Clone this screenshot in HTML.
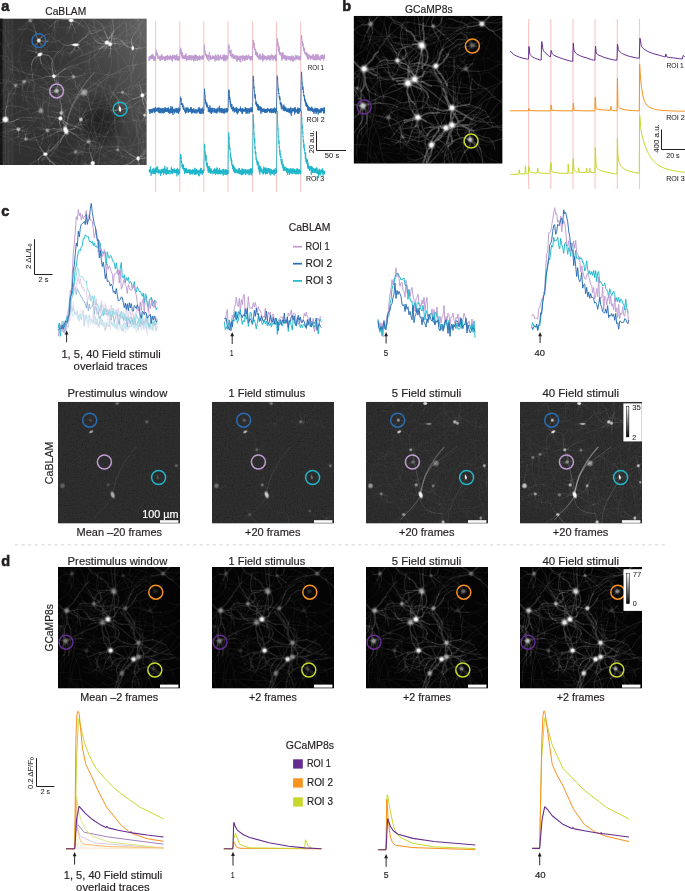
<!DOCTYPE html>
<html><head><meta charset="utf-8"><title>Figure</title>
<style>html,body{margin:0;padding:0;background:#fff;width:685px;height:891px;overflow:hidden}svg{display:block}</style>
</head><body>
<svg color="#231f20" width="685" height="891" viewBox="0 0 685 891" font-family="'Liberation Sans', Arial, sans-serif" fill="#231f20">
<style>text{stroke:currentColor;stroke-width:0.18px} .lbl{stroke-width:0.6px} .sm{stroke-width:0.06px}</style>
<defs><radialGradient id="cg"><stop offset="0" stop-color="#fff"/><stop offset="0.45" stop-color="#fff" stop-opacity="0.95"/><stop offset="0.75" stop-color="#fff" stop-opacity="0.35"/><stop offset="1" stop-color="#fff" stop-opacity="0"/></radialGradient><radialGradient id="cg2"><stop offset="0" stop-color="#fff"/><stop offset="0.3" stop-color="#fff" stop-opacity="0.95"/><stop offset="0.55" stop-color="#fff" stop-opacity="0.45"/><stop offset="0.8" stop-color="#fff" stop-opacity="0.12"/><stop offset="1" stop-color="#fff" stop-opacity="0"/></radialGradient><filter id="fb" x="-5%" y="-5%" width="110%" height="110%"><feGaussianBlur stdDeviation="0.45"/></filter><filter id="nzA" x="0" y="0" width="100%" height="100%"><feTurbulence type="fractalNoise" baseFrequency="0.75" numOctaves="1" seed="4"/><feColorMatrix type="matrix" values="2.6 0 0 0 -0.8  2.6 0 0 0 -0.8  2.6 0 0 0 -0.8  0 0 0 0 1"/><feGaussianBlur stdDeviation="0.3"/></filter><filter id="bgb" x="0" y="0" width="100%" height="100%"><feGaussianBlur stdDeviation="7"/></filter><linearGradient id="gAx" x1="0" y1="0" x2="1" y2="0"><stop offset="0" stop-color="#323232"/><stop offset="0.45" stop-color="#2f2f2f"/><stop offset="0.75" stop-color="#363636"/><stop offset="1" stop-color="#464646"/></linearGradient><radialGradient id="gAb" cx="0.95" cy="0.05" r="0.75"><stop offset="0" stop-color="#fff" stop-opacity="0.16"/><stop offset="1" stop-color="#fff" stop-opacity="0"/></radialGradient><radialGradient id="gAd" cx="0.5" cy="0.5" r="0.5"><stop offset="0" stop-color="#000" stop-opacity="0.38"/><stop offset="0.6" stop-color="#000" stop-opacity="0.22"/><stop offset="1" stop-color="#000" stop-opacity="0"/></radialGradient><radialGradient id="gAl" cx="0.5" cy="0.5" r="0.5"><stop offset="0" stop-color="#fff" stop-opacity="0.07"/><stop offset="1" stop-color="#fff" stop-opacity="0"/></radialGradient><clipPath id="c1"><rect x="0" y="18.4" width="146.8" height="146.6"/></clipPath><clipPath id="c2"><rect x="353.6" y="15.8" width="149" height="147.9"/></clipPath><clipPath id="c3"><rect x="58" y="401.8" width="122" height="121.8"/></clipPath><clipPath id="c4"><rect x="212" y="401.8" width="122" height="121.8"/></clipPath><clipPath id="c5"><rect x="366" y="401.8" width="122" height="121.8"/></clipPath><clipPath id="c6"><rect x="520" y="401.8" width="122" height="121.8"/></clipPath><clipPath id="c7"><rect x="58" y="567" width="122" height="121.6"/></clipPath><clipPath id="c8"><rect x="212" y="567" width="122" height="121.6"/></clipPath><clipPath id="c9"><rect x="366" y="567" width="122" height="121.6"/></clipPath><clipPath id="c10"><rect x="520" y="567" width="122" height="121.6"/></clipPath><linearGradient id="cb403" x1="0" y1="0" x2="0" y2="1"><stop offset="0" stop-color="#fff"/><stop offset="1" stop-color="#000"/></linearGradient><linearGradient id="cb569" x1="0" y1="0" x2="0" y2="1"><stop offset="0" stop-color="#fff"/><stop offset="1" stop-color="#000"/></linearGradient></defs>
<text x="1.2" y="11" font-size="14.5" font-weight="bold" class="lbl">a</text>
<text x="342.2" y="11" font-size="14.5" font-weight="bold" class="lbl">b</text>
<text x="1.2" y="216.3" font-size="14.5" font-weight="bold" class="lbl">c</text>
<text x="1.2" y="566" font-size="14.5" font-weight="bold" class="lbl">d</text>
<text x="45.3" y="15.3" font-size="10.3" textLength="40.9" lengthAdjust="spacingAndGlyphs">CaBLAM</text>
<text x="405.1" y="13.1" font-size="10.3" textLength="47.5" lengthAdjust="spacingAndGlyphs">GCaMP8s</text>
<g clip-path="url(#c1)">
<rect x="0" y="18.4" width="146.8" height="146.6" fill="url(#gAx)"/>
<rect x="0" y="18.4" width="146.8" height="146.6" fill="url(#gAb)"/>
<ellipse cx="100" cy="120" rx="26" ry="28" fill="url(#gAd)"/>
<ellipse cx="60" cy="100" rx="40" ry="40" fill="url(#gAl)"/>
<rect x="0" y="18.4" width="2.5" height="146.6" fill="#141414"/>
<rect x="3.0" y="18.4" width="0.5" height="146.6" fill="#fff" opacity="0.05"/><rect x="4.1" y="18.4" width="0.5" height="146.6" fill="#fff" opacity="0.09"/><rect x="5.2" y="18.4" width="0.5" height="146.6" fill="#fff" opacity="0.13"/><rect x="6.3" y="18.4" width="0.5" height="146.6" fill="#fff" opacity="0.05"/><rect x="7.4" y="18.4" width="0.5" height="146.6" fill="#fff" opacity="0.09"/><rect x="8.5" y="18.4" width="0.5" height="146.6" fill="#fff" opacity="0.13"/><rect x="9.6" y="18.4" width="0.5" height="146.6" fill="#fff" opacity="0.05"/><rect x="10.7" y="18.4" width="0.5" height="146.6" fill="#fff" opacity="0.09"/><rect x="11.8" y="18.4" width="0.5" height="146.6" fill="#fff" opacity="0.13"/><rect x="12.9" y="18.4" width="0.5" height="146.6" fill="#fff" opacity="0.05"/>
<g transform="translate(0 18.4) scale(0.367)" fill="none" stroke="#fff" stroke-linecap="round" stroke-linejoin="round" filter="url(#fb)">
<path stroke-opacity="0.05" stroke-width="1" d="M105 192l-7-10-4-11-5-11-1-12 3-12 3-12 3-11 2-12 3-12 1-11 6-11"/>
<path stroke-opacity="0.05" stroke-width="2" d="M242 108l0-12-2-12-1-12-1-12 4-11-1-12 1-12 0-12 4-12-1-12M227 101l-10-7-10-7-11-5-12 0-11 5-11 3-12 0-12 0-12-1-12-1-12-3-11-3-12-1-12 1-12 4M225 282l-12 3-10 7-7 9-8 9-6 10-8 10-9 8-8 9-9 7-12 3-12 1-11 4-12 3-11 5-12 1-11 2M371 199l-8-9-9-8-10-7-10-6-11-6-11-3-12-3-11-4-9-8-6-11-4-11-5-11M188 121l-8-9-8-9-8-9-4-11-5-11-4-12-1-12 0-12 4-11 4-11 3-12 4-11 1-12-2-12 1-12-4-12 0-11 0-12 3-12 6-11 7-9 10-7 11-6 10-6 11-3 11-5M329 92l0-12 1-12-1-12-2-12-1-12-1-12 1-12 0-12-1-12 2-11 6-11 6-10 7-10 4-12 1-11 1-12 1-12 1-12-2-12-2-12-6-10-9-8-10-7-9-7-10-7-11-5-11-5-11-5-10-7M158 357l-7 10-9 8-10 6-10 7-7 10-7 9-6 11-3 12-5 11-4 11-8 9-8 9-7 10-4 11-3 12-6 10M133 233l-2 12 1 12 1 12 4 11 3 12 6 10 3 12-3 11 0 12 0 12-5 11-3 12-2 12-2 12M105 286l-9-8-11-4-11-4-9-8-10-7-9-8-8-9-7-10-7-10M64 185l9-8 10-6 11-5 12-3 11 5 11 5 11 5 9 8 7 9 10 8 8 8 9 9 9 6 12 5 11 3 12 1 12 2 12 3 11-3 12-4 11-2 11-7 10-6 10-6M222 118l11-2 12-3 11-5 11-4 12 0 12-3 11-4 11-5 7-10 6-11 5-10 8-9 10-7 10-6 8-9 8-9 9-8 8-9 6-10 6-11 10-7 11-3 12-1 12 2 12 1 12 0 12 1 12 2 12 1M294 -3l12 4 11 3 12 2 10 6 10 7 11 6 7 9 8 10 7 9 11 5 11 6 8 8 4 12 7 10 4 11 1 12-1 12-2 12 3 11M369 356l-12 1-12 4-12 1-12 0-11 3-12 4-10 6-11 6-11 3-11 4M182 302l6 10 6 10 6 10 5 11 5 11 2 12 1 12-3 12-3 11-6 11-6 10-2 12-1 12-1 12 3 12 5 10 7 10 1 12M332 70l-12 1-11 4-12 3-11 3-12-1-12-4-8-8-8-9-8-9-6-10-1-12 2-12 1-12-2-12-4-12-4-11-3-11-1-12-1-12-1-12 4-12M22 403l2 11 2 12 1 12-3 12 2 12 2 12 1 12 3 11 3 12 0 12 0 12-1 12-1 12-1 12-3 11-3 12-5 11-4 11-4 11-1 12-1 12M193 71l11-2 12-1 12-2 11-5 11-5 11-5 12 0 12-3 12-1 12 1 12 0 12-1 12-1 11-3 10-6M122 126l-7-10-9-7-12-4-12-1-11-4-12-2-11 5-10 7-10 6-9 8-9 8-6 10-3 12-1 12 2 11 2 12 0 12 0 12-6 10-4 12-7 10-8 9-10 7-10 5-7 10M167 218l10 6 11 6 8 9 9 7 8 9 5 11 5 11 5 11 10 7 6 10 6 10 5 11 6 11 4 11 7 10 6 10 5 11 5 11 5 11 8 9 8 9 9 8 6 10 3 12 4 11 5 11-3 12-1 12-6 10M168 157l-11 3-12 2-12 3-12 2-11 3-10 7-6 10-7 10-7 10-7 9-9 9M321 395l-11-4-12-2-12 3-11 3-11 5-12 1-12 1-12-4-12 0-11 3-12 2-11 5-10 7-6 10-7 10-3 12-4 11 2 12 0 12M64 74l-8-8-11-6-8-9-9-8-8-9-7-9-6-11-7-10-7-10-6-10-3-11-6-11-3-12-1-11-2-12 4-12 5-11 4-11 5-11M161 113l-3-11-2-12-1-12-4-11-6-11-9-8-7-10-6-10-8-10-9-8-9-7-11-3-12-2-11-6-11-2-12 1-12 3-12 3-11 4M218 223l-7 10-7 10-7 9-8 9-9 8-10 7-11 5-11 4-12 2-11 4-12 2-12 3-11 3-12 2-12-1-12-2-12-1-11-6-11-3-11-6-11-3-12 1-12 1-12 0-12 2M361 45l-1-12-2-12-4-12-1-11-1-12-5-12-4-11-5-11M253 171l9 7 10 7 11 6 9 7 10 8 11 4 8 9 7 10 5 11 4 11 1 12 1 12-1 12-3 12-1 11-4 12-5 11-3 11-2 12M-18 184l-12-2-12-4-12 0-9 8-10 6-11 6-9 7-9 8-11 5-12 1-12 1-12-2-11-2-12-3-12-2-12-2-12-1-12 0M7 111l2-11 5-11 5-11 6-10 5-11 9-9 8-8 10-7 10-6 8-9 10-8 6-10 7-9 9-9 8-8 7-10 10-7 12-3 11-5 10-6 12-2 12-3 12 0 11-3 11-5M274 105l-7 10-6 10-4 12 0 12 5 11 6 10 11 6 11 5 11 4 9 7 11 5 10 8 8 8 9 9 9 7 11 6 11 5 11 4 10 6 11 5 9 8 5 11 10 6 10 7 10 7 12 4M317 109l5 11 4 12 2 11-1 12-1 12 1 12 5 11 1 12 3 12 5 11 10 7 8 8 11 6 11 5 10 6 8 9 9 8 12 3 10 6 11 5 11 5 11 4 9 8 8 9 10 7M60 289l-4-11-6-10-5-11-2-12 0-12-1-12-1-12 0-12 0-12-5-11-4-11M18 251l-5 11-6 10-8 9-7 10 0 12-2 11-3 12-8 9-8 9-9 8-7 10-6 10-7 10-3 12 1 12-2 11 3 12 7 10 8 9 9 8 9 8 6 10 7 10 4 11 6 11 6 10 8 10M291 356l2-12 3-12-1-12-1-11-3-12-2-12-6-11-2-11 3-12-3-12-5-10-8-9-8-9-5-11-2-12 2-12 3-11 2-12 4-11 3-12M45 225l-9-9-6-10-8-9-8-9-11-5-6-10-10-7-10-6-11-6-9-8-10-7-6-10-4-11-2-12-1-12 3-12 3-11 7-10M30 148l10 7 9 7 9 8 4 12-1 11 1 12-1 12 0 12-4 12-2 11-3 12-6 10-8 9-10 7-9 8-6 10-4 12-6 10-4 12-7 9M57 293l10-7 9-7 12-4 12-2 11 2 12-1 11-6 11-4 11-6 9-7 10-7 10-7M70 131l6 11 4 11 3 11 7 10 6 11 8 8 8 10 9 8 10 5 11 6 8 9 10 7 9 8 7 10 6 10 8 9 10 7 8 9 9 8 4 12 2 11 5 12 2 11 0 12-3 12-4 11-1 12M213 -14l-11 3-12 4-11 3-12 1-12 2-11 4-12 3-11 5-12 2-11 4-12 3-12 1-12 1-11 5-10 5-12 2-12 1-12-2-12-3-11-2-12-1-12-1-12 0-12 3-12-1-12 2-11-4-11-5M216 348l11-4 11-6 11-4 10-7 9-7 10-7 8-9 3-12 6-10 6-11 4-11 8-9 11-4 11-5 12-3 11 4 12 2M392 371l2-12 2-12 1-12 0-12 2-12 2-12 2-11 1-12 5-11M347 35l-9-8-9-8-11-5-10-6-8-9-8-9-9-8-5-11-5-11-1-12M380 395l-4-11-9-8-9-8-4-11-2-12 2-12 4-11-1-12 1-12 4-11 6-11 5-11 4-11 2-12M357 339l-3-11-5-11-3-12-6-10-4-12-5-11-2-11-1-12-7-10-10-6-10-7-11-4-11-6-10-7-7-10-6-9-9-9-11-4-11-6-11-4-11-5M187 342l12 1 12-1 12-2 12-2 12-1 11-4 10-7 9-7 11-5 9-8M123 129l1-12 2-12 3-12 1-12-1-12-5-10-10-8-10-7-7-9-7-10-5-10-6-11-5-11-5-11-1-12M161 44l-8-9-6-10-6-11-5-11-4-11-7-10-7-9-10-8-9-7-9-8-9-8-10-7-11-5-11-5-9-7M256 102l11-5 10-7 8-8 11-6 8-9 9-8 9-8 9-7 6-11 7-10 1-12-1-12-3-11-8-9-5-12-5-10-9-8-11-5-12-4-10-6-11-5-12-1-11-6-10-5M157 314l11 4 11 5 11 5 11 4 11 4 12-2 12-3 11-5 11-3 11-6 12-3 11-3M-15 174l8-9 8-9 9-8 12-4 11-2 12-2 11-5 12-3 12 2 11 4 10 7M-20 57l-12-2-10-6-12-3-11-5-10-5-12-2-11-4-12-2-12-2-12-3-12-2-12-1-11-3-12 0-12 3-12 0-11-3-12 1-12 3-12 2-8 8-7 10-9 8M401 26l2 12 5 11 3 11 6 11 4 11 3 12 3 11 3 12 4 11 5 11 9 8 8 9 10 6 10 8 10 6 8 9 9 8 8 9 8 9 5 11 7 10 8 9 8 8 8 9 7 10M100 139l-12 1-12 1-12 2-12 0-12-2-11-3-11-6-10-6-12-4-11-4-11-4-9-8-12-3-12-1-11-4M172 92l-1-12 4-12 2-11 2-12 6-10 4-12 1-12-1-12-2-11 0-12 4-12 6-10 9-8 10-7 9-8 7-10 7-9 5-11 1-12 4-12M278 393l2 12 4 11 6 11 6 10 10 7 9 7 8 10 4 11 3 11M256 228l-8 9-10 7-8 9-5 11-1 12-2 11-1 12-1 12 2 12 4 11 0 12 5 12 3 11 0 12M380 339l-10 7-9 7-7 10-7 10-7 9-9 8-11 5-12 2-12-1-12 0-12-4-10-6M133 128l-10 6-11 6-10 5-10 7-10 7-8 9-10 6-12 4-10 5-11 7-11 4-11 3-12 1-12 0-12 2-12 2-10 7-4 11-4 11M367 330l-5 11-2 12-3 11-2 12-6 10-6 11-3 12-5 11-11 5-12 2-12 0-11-4-11-6-10-5-8-9-7-10-9-8-9-7-10-8-10-6-11-5-11-5-11-4-12-1-11-4-12-2-12 2M-17 140l1 12 3 12 5 10 7 10 7 10 5 11 1 12 3 12 2 12 4 11 5 11 5 11 8 9 3 12 4 11 7 10 8 9 8 9 4 11 7 10 7 10M209 246l-4 12-8 9-8 9-7 10-7 9-8 9-11 5-11 6-9 7-10 6-12 2-12 3-12-1-12-1-12-1-10-6-10-7-8-9-4-11-5-11-10-7-8-8M197 265l7 9 4 12 1 12-1 12 0 12-1 12 4 11 6 10 6 11 10 6 10 7 11 5 10 6 11 5 9 8 10 7 7 10 5 11 8 8 12 5 11 3 11 4 12 4 11 4 9 8M351 12l11-6 12-1 12 2 11 4 10 7 9 7 9 8 8 9 6 11 1 12 3 11-2 12-3 12-5 11M190 -13l7 10 8 9 11 6 10 6 10 7 12 2 10 6 9 9 9 7 10 6 10 8 9 7 8 9 6 10 2 12-1 12 0 12 0 12 4 11M298 56l2-12 1-12 4-11-1-12-3-11-2-12-8-9-8-9-10-6-10-7-10-7M366 161l-12 4-12 3-9 7-8 9-9 8-10 6-10 8-11 4-10 7-6 10-9 9-8 9-11 3-10 7-9 8-9 8-9 8-9 8-8 8-11 6-12 2-12 2-12-1-11-1-12 3M235 336l-12-3-12-2-11-5-11-3-11-4-12 0-12 1-12-1-12-1-12-1-12-2-12 0-12-1-12 0-12 2-11-3-10-7-7-9-8-10-10-6-8-9-10-6-9-9-9-8M382 240l-2-11 0-12 1-12 5-11 0-12 2-12 4-12 6-10 3-11 7-11 6-10 10-7 9-8 9-8 9-8 10-6 8-9 8-9 5-11 4-11 3-12M138 271l11-5 11-5 9-8 9-8 8-9 6-10 7-9 7-10 5-11 4-11 6-11 4-11 6-11 2-11 0-12 2-12 1-12 0-12 0-12M95 257l12-2 10-7 9-8 9-7 10-7 10-7 8-9 5-11 3-11M44 122l8-9 9-8 8-9 6-10 8-9 8-9 7-9 8-9 8-10 8-9 9-7 10-7 8-9 10-6 12-4 11-4M328 253l10-7 12-2 12 0 12-2 12 1 11 4 12 4 10 6 10 7 6 11 7 9 5 11 5 11 6 10 3 12 9 9 6 10 3 11 7 10M238 414l-6-10-4-12-3-11-5-11-2-12-1-12-3-12-4-11-5-11-7-9-9-9-7-9-10-8-9-6-11-7-10-6-11-4-11-5-9-8-11-5-11-4-12-4-10-6-10-6-11-5-10-6-11-7M-12 400l6 10 4 11 5 11 3 12 4 11 3 12 5 11 2 12 3 11-1 12-3 12-4 11-6 11-6 10M271 235l12 1 12-3 11-3 11-5 10-7 9-8 8-9 7-10 7-9 9-8 8-9 6-11 5-11 8-9 9-8 7-9 7-10 4-11 2-12-1-12 0-12 0-12-1-12-6-11-7-10M335 377l11-5 12-4 10-5 12-3 11-4 12 0 11 4 12 3 11 4 11 5M21 135l-1 12-2 11-1 12 1 12 3 12 4 11 2 12 4 12 1 11-1 12 0 12M45 356l-11 4-12 3-12 3-11 4-11 5-9 7-10 8-12 0-12 2-12-1-11-4-9-7-8-9-8-10-5-11-2-11-6-11-3-11-2-12 1-12 4-12 4-11 2-12-2-11-1-12-1-12-6-11M404 242l-7-10-8-9-5-11-6-10-5-11-6-10-1-12 0-12-2-12 1-12 2-12-1-12-5-11-7-10-7-10-11-6-12-1-12-1-11-1-12-2-12 0-12 1M412 368l11 6 11 3 12 1 12 0 12 0 12 1 12 0 12-2 10-5 12-3 11-5 9-8 11-4 12-2 11-4 12-5 10-6 9-8 12-4 11-4 11-2M404 272l-1 12-3 12-1 12-2 12-4 11-3 12-1 11 3 12 2 12 3 12 1 11 2 12 3 12 6 10M118 94l-8 9-9 8-11 5-11 4-12 1-12-4-12 2-12-1-12-2-11-4-11-4-12-3-11-3-11-5-11-5-9-8-7-10-11-5-7-10-9-8-3-11-2-12M203 213l-12-1-12-1-12 0-11 4-11 5-10 7-9 7-9 8-9 9-7 9-5 11-8 9-7 10-7 10-8 9-10 5-9 9-7 10-5 10-6 11-6 10-2 12 1 12 2 12M329 23l-12 0-12-3-12-1-12 1-11 4-12 2-11 6-8 9-4 11-6 11-4 11-7 9-8 10-4 11-3 12-1 12M290 297l-12-2-12-1-12 0-10-7-11-3-12-4-10-6-10-7M264 239l12-5 11-2 12-2 12-4 12 1 11 3 12 3 11 5 11 4 11 4 12 1 12 0 12 1 12 1 12 2 11 5 9 8 9 8 8 9 5 11 5 10 7 10 11 6 11 5 12-1M366 168l11-6 8-8 10-7 7-10 7-10 6-10 7-9 8-10 6-10 5-11 4-11 4-12 1-12-1-12-1-12-7-9-6-11-4-11-5-11-6-10-6-11-7-10M-1 179l12-2 12-1 12 0 12 0 12 1 11 4 12 3 10 6 11 5 8 9 9 8 12 3 11 2 12 0 12 0 12 1 12 0 12-2 12-2 11-5 10-7 12-3 12 1 12-1M-1 233l-10-7-10-6-11-6-9-8-6-10-8-9-11-5-10-6-11-6M230 138l8-9 8-9 11-5 11-6 10-6 8-8 9-8 7-10 6-10 1-12 1-12 1-12"/>
<path stroke-opacity="0.10" stroke-width="1" d="M143 202l-12 0-11-4M131 204l-12 0M130 195l-11 3-10 8-9 7M108 188l-12-2-11-5M159 175l3-12 6-10 10-8M158 151l2-12 4-11M175 188l11-6M159 209l-10 7-8 9M157 221l-2 12M269 178l11-5 11-3M237 211l4 12 4 11M243 222l7 10M218 206l-12 2-12 0M206 207l-10-7M198 167l-10-6-10-7M189 165l-11-5M179 171l-8 9M188 158l-10 7M176 158l-12 3M195 148l-12-2-11 2M191 137l-4-11M212 160l4 11 2 12M224 161l10-6M242 139l11-3 12 2M206 182l5 10 6 11 7 10M224 197l8 9 11 5M59 195l-2 12M57 180l4 11M47 188l-8 8M54 170l-8 8-8 9M42 167l-10-5M79 152l5-10M109 184l11 6 11 4M78 173l3 12M88 179l12 1M0 165l-12-1-12-1M54 179l12 4 11 5M66 179l11-5M38 205l-8 10-7 9-2 12M26 225l-11 6-11 3M322 202l-2-12 0-12M310 202l-12-1M352 187l12-2M345 207l3 11M357 208l12 0M242 315l-2 12-3 12M213 267l6-11 5-11M202 261l-12 0M244 234l8-9 9-7M229 268l6-10M238 260l6-10M214 286l5 11 5 11M204 293l-7 10M129 268l12 3M120 275l-4 11-3 12-2 11M142 284l11 4 12 3M100 254l-12 4M89 259l-12 4M103 230l-8-9-5-10-1-12M98 207l-5-11-2-12M110 240l9-9 10-5M109 228l-3-11M117 229l11-3 9-9 10-6M118 205l-7-9-8-9M51 314l11 5M49 326l-1 12M26 301l-12-1M3 312l-12 1-11-2M32 287l-7-9M71 290l10-5M61 307l1 12 7 10M73 308l12-2M134 294l-6-10-9-9M134 282l0-12M138 314l11 2 11 5M139 326l0 12M129 317l9 9 5 11M132 329l1 12M118 301l-4-12-5-10M106 299l-10-6M124 295l0-12M114 287l-9-7M69 317l12-3M65 306l-3-12M70 317l12-4M74 305l4-11M94 326l12-3M82 331l2 12M94 332l12 0M61 336l-12-3M50 342l-11 3M48 321l-10 8-10 6-11 3M26 331l-12 2-12-2M211 354l-10-8M216 343l6-11M218 366l11-3 11 5M229 362l12-3M194 365l-8-9M184 372l-7 10M233 328l1-12 5-11M222 322l-10-7M244 313l6-11M253 335l6 11 6 10M265 338l11 3M248 346l-3 12M259 350l10 7M227 355l-5 11M322 347l-11-5M321 335l-4-12M344 361l12 3M330 366l-1 12M333 378l2 12M297 361l-7 10-7 9-10 8M278 376l-6 10-6 10M384 258l-4-12 2-12M372 254l-11-3M400 241l-6-10-4-11-3-12M410 219l9-8 8-9M417 272l11 5M407 282l6 11M396 276l-3 11-3 12M398 288l5 11M93 27l5 11M63 19l-11 5M89 -5l11-5M97 -13l11-6M177 251l10 6M187 244l10-7M187 272l10 6M144 254l-12-2M184 215l-11-5-8-9-9-9-9-7-11-5-11-5-11-5-12-2-12 0-12-2M84 141l-3 12-7 10-6 10-4 11-1 12-1 12 2 12-2 12 1 12 5 11 6 10 4 11 5 11 6 11 6 10 10 7 10 7 8 8 11 6 9 8 12 3 11 4 12 1 12 3 11-1 12-5"/>
<path stroke-opacity="0.10" stroke-width="2" d="M189 165l-10 6M188 158l-12 0M195 148l-4-11M212 160l12 1M224 155l8-9 10-7M206 182l8 8 10 7M61 184l-2 11M57 180l-10 8M54 170l-12-3M72 162l7-10M89 170l10 8 10 6M78 173l10 6M23 168l-12 0-11-3M54 179l12 0M38 205l-3 12-9 8M322 202l-12 0M341 192l11-5M345 207l12 1M121 260l8 8M120 275l10 7 12 2M100 254l-11 5M103 230l-1-12-4-11M110 240l-1-12M117 229l3-12-2-12M134 294l0-12M138 314l1 12M129 317l3 12M118 301l-12-2M124 295l-10-8M69 317l-4-11M70 317l4-12M82 328l12-2M82 331l12 1M61 336l-11 6M48 321l-11 5-11 5M211 354l5-11M218 366l11-4M194 365l-10 7M233 328l-11-6M240 324l4-11M253 335l12 3M248 346l11 4M232 344l-5 11M322 347l-1-12M333 359l11 2M330 366l3 12M297 361l-11 6-8 9M89 15l4 12M72 12l-9 7M89 -5l8-8M217 105l10-7 12-4 11-4 11-4 11-4 11-6 11-3 12-3 12-1 10-7 11-2 12 2 11 5 11 6 9 7 3 12M0 317l11 5 11 2 10 6 9 9 10 7 12 1 12 3 11 3 12 2 11 5 10 7 10 5 12 2 12 2 12 2 11 4 11 6 10 7 9 7 6 11 5 11M212 335l5 11 5 11 3 12 6 10 3 12 0 12 0 12 1 12 0 12 0 12-2 12-1 12 3 11 2 12-2 12-2 12M98 248l-9-8-8-9-8-10-5-11-3-11-5-11 2-12-2-12M166 98l12 0 12-2 11-4 11-6 9-7 11-6 11-4 12-3 11-4 12-2 10-5 12-4 12-2 11-4 10-6 11-5 10-6 9-9 9-8 6-10 7-10 10-7 9-7 11-5 9-8 10-7 9-8 9-8M-16 251l-10 7-10 7-10 7-11 5-11 4-12 3-9 7-10 7-10 6-10 7-11 3M418 272l10-6 6-11 2-12 2-11 4-12 6-10 4-12 7-9 8-9 7-10 8-9 10-6 10-7 8-9 6-10 7-10 8-9 7-9 8-10 5-11 5-11 2-11M1 71l-4-11-6-10-5-12-3-11-2-12-2-12-2-12-5-11-7-10-5-10-2-12 1-12 1-12-4-11-4-12-3-11-9-8-7-10-5-11-6-10-5-11M216 231l0 12 1 11 1 12-1 12-3 12 4 11 7 10 3 12 8 9 6 10 8 9 9 8 9 8 12 4 11 4 9 8 11 4 12 2 11 5 10 6 11 6 8 8 11 5M56 163l-4-12-3-11-10-8-8-8-6-11-5-11-6-10-6-11-5-10-9-9-5-11-6-10-7-10M221 350l11 5 12-1 12 0 12 0 11-6 12 1 12 1 12 0 12 0 12 0 12 0 11-4 11-5 11-3 12-2 12 0 12-2 12-3 11-3 12-4M391 367l10-7 7-10 7-10 6-10 3-12 1-12 4-11 7-10 8-8 11-6 10-6 10-6 9-8 8-10 10-6 11-5 12-3 11 4 8 9 10 7 8 9 9 8M364 184l12 0 12-4 12-1 11-3 12-4 10-5 9-8 10-7 5-11 7-10 6-10 5-11 7-10 8-9 5-11 7-9 7-10 6-10 6-11 8-9 10-7 11-5 11-3 10-7M376 74l-2 12-4 11-6 11-3 11 0 12 1 12-4 11-2 12 1 12-5 11-2 12 1 12 1 12 3 11 5 11 2 12 1 12 1 12 6 11 3 12 3 11 2 12 0 12 0 12-1 12-2 12 0 12 3 11 6 11M47 171l-12 1-12 1-12 0-12 4-11 5-11-3-12-2-10-7-9-8-4-11M286 408l9-8 8-9 8-9 7-10 5-11 1-12 1-12-5-11-3-11-1-12-1-12 0-12-5-11-5-11-3-12-1-12 1-12 1-12 6-10 7-10 8-8 10-6 10-8 6-10 9-9 6-10 4-11 6-10M118 394l8 9 6 10 10 7 12 1 12-2 12 0 11 4 12-2 11-6 11-4 11-4 12-3 12-1M14 213l11-6 12-3 11 2 12 4 11 4 12 1 12 3 11 2 12 3 11 6 11 4 12 0 12 1 12-2 10-6 10-7 11-6 10-6 11-5 8-9 9-8 11-4 11-4 11-6 10-7 11-3 12-4M302 81l-12 1-12-1-12 3-10 5-11 5-11 5-12 2-11 5-10 7-10 6-10 8-9 8-10 6-11 3-10 8-11 5-11 4-11 3-12 3-12 0-12-1M135 308l-11-6-11-5-12 1-10 7-11 5-10 6-10 7-5 11-2 12 0 12 1 12M154 -16l12 0 12 2 10 6 8 9 8 9 9 8 11 4 11 6 9 7 9 9 8 9 7 10 7 9 10 7 11 3 12 2 12-1 11-6 11-6 8-8M27 134l3 12-4 11-5 11-5 11-4 11-5 11-7 10-7 10-5 10 0 12-1 12-4 12-5 11-2 12-1 12 0 12-2 11-2 12-4 11-5 12-3 11M326 250l-12 1-12-2-12-2-11-2-12-4-11 4-11 6-11 4-11-4-12-2-9-8-8-9-6-10M376 242l1 12 0 12-3 12-2 11-1 12 1 12 4 12 6 10 3 12 1 12 1 12 2 11 1 12 1 12 3 12 4 11 2 12 3 12 2 12 6 10 8 9 10 7 8 9 10 7 10 5 11 6 11 5M337 340l-9-9-6-10-5-11-5-10 0-12 0-12 0-12 3-12 5-11 3-12 5-11 9-8 9-7 10-7 9-8 7-10 10-7 9-8 10-7 11-4M85 244l-12 2-11 5-11 4-11 5-11 4-11 6-11 5-11 3-11 6-9 7-8 9-7 10-6 10-9 8-10 7-10 7-9 8-7 9-8 10M380 331l7-9 9-9 11-3 10-8 8-8 9-8 9-8 9-8M419 417l5-11 5-11 5-10 7-11 8-8 9-8 7-10 5-11 8-9 11-5 12-2 12 1 12 1 10 7 10 6 11 4 12 3 10 7 11 5 9 7 12 4 12 0 12 2 11 4 10 7 10 7 10 6 11 6 11 2M-6 238l-8-8-9-8-11-7-11-3-10-7-6-11-6-10-2-12-4-11-3-12 0-12 1-12 3-11-4-12-3-11M136 279l-4-12-2-12 1-12 2-11 2-12 0-12-1-12-4-12-5-10-7-10-10-7-11-3-12-1-12-2-11-6-10-6-11-5-11-5-9-8-9-8-9-8-10-7-8-8-7-10-8-9M286 209l4 11 1 12-3 11-4 12-3 11-1 12-3 12-1 12-4 11-3 12M12 167l-8 9-11 6-11 4-11 5-10 7-10 6-10 7-9 8-10 7-12 2-11 4-11 6-10 6-9 8-10 6-10 6-11 5-9 9M10 393l-2 12-2 12-1 12 1 12-1 12 0 12-2 12 1 12-3 11-3 12M215 87l-12 1-12 4-12 1-12 1-11-3-12-1-12 3-12-3-12 1-11-2-12 1-12-2M70 72l11 3 11 5 8 9 8 9 10 6 6 10 7 10 5 11 5 11 4 12 4 11 4 11 8 9 8 8 10 7 8 9M362 344l4-11 5-12 5-10 3-12 3-11 6-11 7-10 4-11 2-12 5-11 1-12-1-11 2-12 1-12-2-12M318 349l-12 1-11 3-12 0-12-2-12-4-10-6-12-3-11-5-9-7-8-9-11-6-11-2-12-1-12-2-12-1-12-2-12 1-12-1-12 1M364 141l-1-12-1-12 1-12 4-12 7-10 7-9 2-12 1-12-1-12-3-12 3-11 6-11 3-11 6-10 6-11 2-12 5-11 3-11 4-12 10-7 7-10 9-8 8-8 6-11 6-10 6-11 7-10M267 167l8 9 4 11-1 12-1 12-1 12-5 11-5 11-7 10-6 10-4 11 0 12 0 12M84 322l10 6 10 6 10 7 9 8 9 7 10 7 10 7 7 10 8 9 8 9 10 6M19 104l-12-2-12-3-12 1-11-2-12-2-12-1-11-6-10-6-12-3-10-6-10-6-12 1-12 0-12 0M328 -11l7 10 5 11 5 10 1 12-1 12 1 12-1 12 2 12M379 183l8 9 7 9 5 11 4 12 2 12 4 11 6 10 2 12 0 12 4 11 3 12 2 12 3 11 1 12 4 12 0 12 0 12 0 12 4 11M353 316l-4-11-3-12-6-10-8-9-9-7-8-10-7-9-7-10-7-10-3-12-6-10-2-12 2-12 4-11 5-11 3-12 4-11 2-12 2-12-1-12M272 351l-5 11-11 6-8 9-9 8-8 9-9 8-10 6-8 10-6 9-8 10-8 8-10 7M157 20l-1-11 1-12-3-12-1-12-1-12-1-12-3-11-2-12-5-11-9-9-5-10-8-10-5-10-7-10-7-10-6-10-4-11-3-12-4-11-6-11M213 19l6-10 9-9 7-9 5-11 6-11 8-9 4-11-2-12-1-12-1-12-2-12-1-12-2-11-4-12-3-12 1-12M281 374l10 7 10 7 10 6 10 5 12 3 11 4 12 3 12 3 11 2 12-1 12 0 12-1 12-1 12 0 11 4 12 4 10 6 8 10 8 9M224 371l-12-1-12-1-12 1-11-3-12-4-10-6-11-5-11-5-10-7M376 20l1-12-7-10-4-11-3-12 4-11 3-12 1-12 2-12-2-12-5-10-4-12-7-9-10-8-7-9-6-11-9-8-5-11-5-10-7-11-5-10-6-11-3-11-1-12-4-12-5-11-3-11-5-11M344 11l10 6 10 6 10 7 7 10 8 9 5 11 7 9 3 12 0 12M381 402l-9-7-9-9-7-9-7-10-7-10-4-11-8-9-9-9-7-9-7-10-5-11M361 354l-10 7-8 9-9 8-10 7-10 6-10 6-12 5-11 3-12 2-12 2-12-2-12 2-11 3-12 2-11-6-12-3-11-5-11-3-12-3-12-2-10-6M349 136l11-5 11-4 12-3 11-4 12-3 11-4 12 0 12 3 12 1 12 0 11-5 9-7 12-4 11-2 12 2 11 4 11 7 8 8 10 8 9 8 6 10 6 10 8 9 9 8M298 413l1 12-2 11-4 12-6 10-9 9-8 8-6 11-6 10-7 10-6 10-7 10-3 12-4 11M326 80l-2-12-7-10-8-8-8-9-8-9-9-8-11-6-11-5-11-5-9-7-8-9-9-9-8-8-8-10-9-7-10-7-9-8-7-9-9-8-10-7-12-4-9-7-10-8-11-4-12 1-12 0-11-3-12-2M286 369l-7-10-5-11-6-11-4-11-3-12-3-11-1-12-3-12 0-12-2-12-6-10-3-12-7-10-8-9-8-9-6-10-6-10-7-10-10-7M254 317l7-10 7-9 4-12 6-10 8-9 5-11 2-12 2-12 4-11 7-10 5-11 5-11 4-11 6-11 4-11 9-7M414 0l8-9 9-8 8-9 6-10 9-8 10-7 12-2 11 4 11 4 11 6 9 7 11 6 12 1 10 6 11 5 12 4 9 8 8 8 7 10 6 11 8 8 9 8 9 8 11 6 8 8M41 166l-4-11-4-11 2-12 0-12-2-12-2-12-4-11-5-11-3-11-3-12-6-10-8-10-8-8-11-4-11-6M150 276l11 4 11 5 12 3 11 4 12 3 11 5 10 6 11 4 12 1 12 2 11 4 11 5 9 8 8 9 5 11 8 8 10 8 9 7 9 9 9 7 10 7 12 2 11 4 11 6 10 5 11 5M310 -3l0 12-1 12 0 12 0 12 3 11 1 12 0 12 6 11 9 8 8 9 5 11 7 10 6 10 3 11 1 12 2 12 0 12-1 12 0 12M382 405l7-10 4-11-1-12-1-12-1-12 1-12-2-12-6-10-9-8-1-12-4-11-6-11-4-11-3-12-4-11-10-6-10-7-10-6-9-8-9-8-8-9-11-5-10-5-12-5-11-3-11-4-11-5M353 122l1-12 2-12 3-11 3-12 4-11 8-9 7-10 6-10 5-11M414 309l-6-10-7-10-11-5-12-4-11-2-12-3-10-8-8-8-8-9-7-9-8-9-7-10-6-11-7-9M177 202l7 9 7 10 2 12 7 9 10 7 10 6 8 9 5 11 3 12 4 11 7 10 5 11 3 11 5 11 1 12-4 12-2 12-4 11-2 12-2 12 0 12-1 11-6 11-6 10-9 8-11 4-12 1-12 0-12 4M194 26l-12-3-12 2-12-1-12 0-11-4-10-7-11-5-10-6-11-5-10-7-10-6-8-9-7-10-8-9-5-11-3-12-1-12-3-11 1-12-1-12 3-12 5-11 0-12 1-12M112 160l-12-3-11-4-12-1-11-5-12-1-11-4-12-4-10-5M186 395l-5 11-3 12-2 12-5 11-7 9-6 11-9 8-9 7-9 8-11 5-11 6-9 8-6 10-5 11M230 353l-9 8-8 8-8 9-7 10-4 11-2 12-7 10-5 11-8 9-8 8-10 7-11 4-11 6-11 4-11 4-12-4M-14 277l-12-3-10-5-10-6-10-8-8-9-8-8-10-8-8-8-8-10-3-11-8-9-10-7-11-6-10-5-11-5-12 0-12 2-11 4-9 8-7 10-5 11M110 185l11-5 10-6 10-8 9-7 10-7 8-9 9-7 11-6 11-4M46 33l11-6 10-6 9-8 7-10 10-6 9-8 9-8 11-5 11-5 10-7 6-10 5-11 5-11 7-10 4-11 5-11 5-11M99 236l-4-11-2-12-2-12-1-12-6-11-8-8-4-12-7-9-5-11-4-11-6-11 2-12 0-12 4-11 3-12 3-12M400 20l-10-7-10-7-11-4-11-5-11-4-12-3-11-4-12-2-12-3-12-1-11-5-11-4-11-5-10-7-9-8-8-9-10-6-10-6-11-5-12 2-12 2-12 2-10 7-10 6-9 8-7 10M370 258l5 11 4 11 2 12 3 12 6 10 9 8 5 11 6 10 6 11 5 11 8 9 6 10 4 12 8 9 9 7 10 7 8 9 10 7M231 162l-6 11-8 8-10 7-11 6-12-2-11 2-12 1-12 3-9 7-7 10-7 10-7 10-5 11-6 10-5 11-6 11-7 9-8 9-10 6-12 3-12 2-11 5-11 3-12 0M10 245l-12 4-12 2-12-1-12 1-12-2-11-2-12 1-11 4-11 5-12 0-12-1-12-3-11-4-12 0M262 333l0-12-5-11-2-12-6-10 1-12 1-12-4-12-1-12-3-11-3-12 2-12 5-11 0-12 0-12-1-12 0-12-2-12-2-11 2-12 1-12 4-12M66 199l12 1 12-1 12-2 12-3 12-2 11-3 12-1 12 1 12 4 10 6 10 7 10 5 10 7 11 4 12 3 11 5 12 1 12-2 11-5 11-4 10-7 10-6 11-6 11-1 12 5 11 2M399 321l-5-11-8-9-7-10-7-10-8-9-9-8-10-7-9-8-9-7M-16 408l-6 10-6 10-3 12 0 12-2 12 3 12 0 12-1 12-6 10-2 12-4 11-3 12-3 11 0 12-2 12-4 11-1 12 3 12 2 12M364 135l-10 7-12 3-12 0-11 6-11 2-12 1-12-2-12-2-12-2-12 0-12 2-11 4-12 4-11 4-11 3-12 4-9 7-9 8-8 9M164 125l2-12 4-11 3-12 9-8 9-8 5-11 1-12 2-12 6-10 8-9 7-10 5-10 1-12 4-12-1-12 1-12 3-11 5-12 6-9 11-6 9-8 12-3 9-8 8-9 7-9 8-10M336 283l-11 5-9 7-9 8-10 7-10 7-8 9-5 11-3 11-4 12-7 10-7 9-5 11-9 7-11 6-6 10-8 10-9 7-11 4-11 7-7 9-8 9-9 9-9 7-10 6-9 8-9 8-9 8-8 10-10 5M273 145l-4-11-4-12-6-10-1-12 0-12-2-12 1-12 2-12-1-12-2-12 0-12-1-12 1-12 1-12 3-11 3-12 7-10 8-8 11-6 10-6 10-7 9-8 10-7 9-8M243 243l11 5 8 9 6 10 9 8 11 6 11 4 12 2 11-4 11-6M211 416l-3-12-1-12 1-12 6-10 2-12 7-10 11-6 9-7 11-5 9-8 12-1 12 1 12 1 12 0 12-1 12 2 11 2M97 -2l-8 8-9 9-7 9-9 9-5 10-8 9-8 9-11 6-11 5-10 5M234 281l12-2 11 4 12 4 12-1 11-5 12-1 12-1 12 2 12 1 12 1 11-5 11-2 12 2 12 0 12-2 12-2 12-3 10-6M356 234l-11-2-12-1-12 2-12 3-11 5-12 0-11 3-12 3-12 1-12 2-12-3-11-4M362 382l-12-2-11-4-12-1-11-6-10-5-12-4-10-5-9-8-10-7-11-6M87 272l-5-11-6-10 1-12-3-12-2-12 2-12 1-12 4-11 4-11 5-11 6-11 5-10 3-12 5-11 4-11 5-11 8-9 9-7 8-10 5-10 3-12 1-12-1-12 1-12 4-11 4-11 0-12-1-12 0-12M12 263l-8-8-11-6-7-10-1-12-4-11-5-11-8-9-7-10-8-9-5-11-5-11-6-10-4-11-5-11M265 47l-3-11-4-12-2-12-3-11-2-12-5-11-6-10-1-12 2-12 4-11 5-11 5-11 2-12-1-12"/>
<path stroke-opacity="0.15" stroke-width="1" d="M124 45l11-4M153 63l11-5 11-6M121 79l9 7M97 82l3 12M93 15l-4-11-2-12"/>
<path stroke-opacity="0.15" stroke-width="2" d="M113 51l10-6 12-3M113 51l11-6M130 63l12 2 11-2M112 71l11-5 11-5M112 71l9 8M100 71l-10 6M100 71l-3 11M98 38l-11-5-11-5-12 2-12 2M98 38l-4-11-1-12M151 145l4 11-1 12 1 12M112 122l10 6 9 8 12 4M127 140l7 10 8 9M89 161l3 11 3 12-2 12M98 93l0-12-2-12M87 88l-11-2M197 17l-9 8-9 8M203 27l3 12M190 29l-6 11M148 11l-8 9-9 8M184 -16l-8-9-2-12-1-12 0-12M179 -39l-6-11-2-12M233 -53l3-11 2-12 0-12M205 9l10-8M217 14l9 7M161 62l-11-4-9-8M234 50l5-11 11-6 11 1 12-1M265 37l11-6 10-6 12-4M223 89l3 11M202 84l-8 8-9 8M195 93l-4 11M242 27l-5-10-8-9-8-10M272 52l-8-8M304 46l1-12-3-12-4-11M318 27l10-7 8-9M302 62l4-12-2-12M313 56l11-5M339 67l12 0 12 1M273 82l-12-2-11-4-10-8-10-5M259 101l-9 8-10 6M286 37l-10-6-12-2-10-6-11-6M267 9l-10-7-10-7-10-5M306 0l0-12-1-12-6-10M302 82l-2 12-4 12M301 94l-1 12M290 78l-12-2-12 0M284 88l-8 9M370 37l7-10 3-12M373 83l11-5M385 81l12-3M333 62l-12 0-12 2-12 2-9 8-8 9M299 54l-12-2-12 2-11 4M171 159l12 3M149 169l3 12M159 176l9 8M123 159l-11 5M141 122l6-10 5-11 10-7 8-8M158 91l10-7 7-9 8-9M177 138l12 1 11-5 12 1 11 5M211 126l11-5 11-3 12 1M143 202l-12 2M130 195l-10-6-12-1M159 175l1-12-2-12M166 195l9-7M159 209l-2 12M229 202l12-4 11-3M252 195l10-7 7-10M229 202l8 9M237 211l6 11M229 202l-11 4M218 206l-12 1M229 202l-7-9-5-11M217 182l-9-9-10-6M200 159l-11 6M200 159l-12-1M200 159l-5-11M200 159l12 1M200 159l12-2 12-2M200 159l5 11 1 12M66 172l-5 12M66 172l-9 8M66 172l-12-2M66 172l6-10M66 172l11-3 12 1M66 172l12 1M42 183l-10-7-9-8M42 183l12-4M42 183l1 11-5 11M334 202l-12 0M334 202l7-10M334 202l11 5M421 198l12 0 12-2 12-4 11-3M452 180l7-10 2-12-6-10M399 231l11 5 12 3 12-2 11 3M408 252l-1 12 1 12M391 233l7 10 7 10 9 8M397 256l-4 12-3 11M366 219l-12-3-9-8-10-8-6-10M345 230l-10 6-12 1M385 198l-9-8-3-11M382 187l-3-12M370 231l11-6 10-7M315 251l-7-10-8-9M303 251l-9 7M309 204l-7-9-4-12M47 275l12 3 12-1 12 1 11 2M82 270l11-1 12 3 12-1M-29 280l-11-4-11-4M18 240l12-2 11 2 12-1 12 5 10 6M25 205l7-10 9-8 12 1M184 287l12 1 10 6 8 8M206 295l12 4 11 4M162 285l5 10M165 296l4 12M153 271l-7 10-7 10M141 268l-12-2M168 249l-9-8-11-3-12 0M163 226l5-11 7-10M226 298l9 8 7 9M213 267l-11-6M231 255l5-11 8-10M229 268l9-8M214 286l-10 7M115 319l-11 4-12 1-10 7M172 285l3-12 0-12 5-11M168 261l-1-12 0-12M203 300l8-9 12-1 12-2M223 287l9-8 11-5M201 315l11 4 12-2 12-1M221 329l11 4 11 5M144 367l-8 9-10 6-12 5M156 309l3 12 0 12-2 12-2 11M135 320l-12 5-11 4M112 252l9 8M112 252l4 11 4 12M112 252l-12 2M112 252l-6-10-3-12M112 252l-2-12M112 252l3-11 2-12M51 314l-2 12M38 302l-12-1M27 307l-12 1-12 4M42 294l-10-7M61 297l10-7M61 307l12 1M129 305l5-11M129 305l9 9M129 305l0 12M129 305l-11-4M129 305l-5-10M70 329l-1-12M70 329l0-12M70 329l12-1M70 329l12 2M70 329l-9 7M70 329l-11-2-11-6M131 361l12-3 9-8M134 349l7-9M148 397l6 10 10 6 11 5 12 4 11 4M178 416l9 8 9 8 9 7M137 390l-3 12-6 10-6 10-10 8M155 406l10 6 9 8M105 384l0 12 3 11 5 11 3 12M84 397l-11 5-10 6M109 351l5-11 2-12 3-12M99 330l-5-11-2-12M206 364l5-10M206 364l12 2M206 364l-12 1M241 336l-8-8M241 336l-1-12M241 336l12-1M241 336l7 10M241 336l-9 8M258 406l-7 10M258 418l4 11M242 400l-11-7-9-7M230 398l-11-5M247 372l6-10 1-12-5-11-7-10M245 349l1-12-2-12M321 358l1-11M321 358l12 1M321 358l9 8M321 358l-12 1-12 2M310 408l-12 0-9-7-6-11M336 356l-10-6-12 0M392 363l9-6M387 376l7-9 2-12M395 368l11-6M412 378l10 7 11 4 12 0 11-4M447 388l11-4 11-1 12 0M401 418l11 6 9 8M384 258l-12-4M400 241l5-11 5-11M405 267l12 5M404 271l3 11M396 276l2 12M82 5l7 10M82 5l-10 7M82 5l7-10M177 251l10-7M176 266l11 6M155 257l-11-3M250 237l3-11 5-11 2-12 3-12 7-9 8-9 8-9 9-8 11-4 11-5 11-6 10-6 11-5 11-3 12-1M16 406l-11-5-12-4-11-4-12 0-11-4-11 4-12 1-12-1-12 1-12 1-12 2-12-2-11-3-12-4-11-5-12-1-11 3-12 4M97 117l5-11 6-11 3-11 7-10 8-9 7-9 7-10 4-11 5-12 1-11 4-12 2-12 7-10 5-10 5-11 7-10 7-10M180 296l-6-27-5-25-6-27-5-22-3-27M177 318l8 22 16 16 22 8 27 3M229 201l21-17 22-16 27-22M327 248l-11 24-17 27-16 33-11 32-5 39"/>
<path stroke-opacity="0.20" stroke-width="2" d="M140 110l5 11 2 12 4 12M112 122l6 11 9 7M86 125l0 12 2 12 1 12M98 93l-11-5M197 17l6 10M192 17l-2 12M171 3l-12 2-11 6M184 -16l-1-12-4-11M210 -25l5-11 9-9 9-8M205 9l12 5M182 74l-11-4-10-8M234 50l8-9 12 0 11-4M215 80l8 9M202 84l-7 9M259 59l-8-9-4-12-5-11M280 61l-8-9M304 46l6-10 8-9M302 62l11-6M315 68l12 1 12-2M273 82l-5 10-9 9M286 37l-4-11-5-11-10-6M309 36l1-12-3-12-1-12M302 82l-1 12M290 78l-6 10M358 58l5-11 7-10M373 83l12-2M333 62l-10-6-12-1-12-1M159 157l12 2M149 169l10 7M135 158l-12 1M141 122l3-11 6-11 8-9M177 138l11-5 12-3 11-4M154 198l-11 4M154 198l-12-1-12-2M154 198l1-12 4-11M154 198l12-3M154 198l5 11M421 198l11-5 10-7 10-6M399 231l7 10 2 11M391 233l5 11 1 12M366 219l-12 4-9 7M385 198l-3-11M350 244l11-5 9-8M315 251l-12 0M322 224l-5-11-8-9M47 275l11-5 12 1 12-1M-6 287l-12-2-11-5M18 240l2-11 2-12 3-12M184 287l11 5 11 3M162 285l3 11M153 271l-12-3M168 249l-1-12-4-11M220 276l-1 12 7 10M220 276l-7-9M220 276l5-11 6-10M220 276l9-8M220 276l-6 10M145 300l-12 3-10 7-8 9M172 285l-4-12 0-12M203 300l10-7 10-6M201 315l10 7 10 7M164 338l-8 9-6 10-6 10M156 309l-11 5-10 6M50 302l1 12M50 302l-12 0M50 302l-12 1-11 4M50 302l-8-8M50 302l11-5M50 302l11 5M131 361l3-12M148 397l10 7 10 6 10 6M137 390l8 8 10 8M105 384l-11 6-10 7M109 351l-6-10-4-11M258 406l0 12M242 400l-12-2M247 372l-4-12 2-11M345 398l-11 5-12 1-12 4M355 370l-10-6-9-8M384 373l8-10M387 376l8-8M412 378l11 5 12 2 12 3M383 405l7 10 11 3M394 264l-10-6M394 264l4-11 2-12M394 264l11 3M394 264l10 7M394 264l2 12M167 258l10-7M167 258l9 8M167 258l-12-1"/>
<path stroke-opacity="0.20" stroke-width="3" d="M180 299l5-27 8-28 14-27 16-27 16-22 17-19M180 293l8-30 11-27 16-25 14-10M177 313l-14 19-16 19-16 16-17 19"/>
<path stroke-opacity="0.25" stroke-width="3" d="M106 60l7-9M106 60l12 2 12 1M106 60l6 11M106 60l-6 11M106 60l-6-10-2-12M109 99l12 0 12 2 7 9M109 99l1 12 2 11M109 99l-11 6-8 9-4 11M109 99l-11-6M194 5l3 12M194 5l-2 12M194 5l-12-3-11 1M194 5l-6-10-4-11M194 5l7-10 1-11 8-9M194 5l11 4M206 72l-12 0-12 2M206 72l9-7 9-8 10-7M206 72l9 8M206 72l-4 12M291 66l-11 4-12-3-9-8M291 66l-11-5M291 66l5-11 8-9M291 66l11-4M291 66l12 1 12 1M291 66l-8 9-10 7M300 70l-4-11-5-11-5-11M300 70l4-11 1-12 4-11M300 70l2 12M300 70l-10 8M362 81l-3-11-1-12M362 81l11 2M362 81l-12-3-10-6-7-10M147 158l12-1M147 158l2 11M147 158l-12 0M147 158l-3-12-2-12-1-12M147 158l11-6 9-7 10-7M388 210l10-7 12-2 11-3M388 210l7 10 4 11M388 210l0 12 3 11M388 210l-11 5-11 4M388 210l-3-12M327 248l12-1 11-3M327 248l-12 3M327 248l-3-12-2-12M15 276l9 7 12-2 11-6M15 276l-10 7-11 4M15 276l1-12-1-12 3-12M165 273l9 7 10 7M165 273l-3 12M165 273l-12-2M165 273l1-12 2-12M179 305l-11-4-11 1-12-2M179 305l1-12-8-8M179 305l12-2 12-3M179 305l12 4 10 6M179 305l-3 12-7 10-5 11M179 305l-12 1-11 3M124 370l7-9M124 370l6 10 9 9 9 8M124 370l5 11 8 9M124 370l-11 5-8 9M124 370l-8-9-7-10M253 395l5 11M253 395l-11 5M253 395l-2-12-4-11M376 382l-11 4-9 8-11 4M376 382l-10-5-11-7M376 382l8-9M376 382l11-6M376 382l12 0 12-3 12-1M376 382l2 12 5 11"/>
</g>
<circle cx="38.8" cy="40.5" r="2.7" fill="url(#cg)" opacity="0.85"/>
<ellipse cx="39.9" cy="54.5" rx="3.6" ry="2.2" transform="rotate(-30 39.9 54.5)" fill="url(#cg)" opacity="1.00"/>
<ellipse cx="71.2" cy="20.4" rx="3.4" ry="2.3" transform="rotate(0 71.2 20.4)" fill="url(#cg)" opacity="1.00"/>
<ellipse cx="75.5" cy="44.8" rx="4.9" ry="1.9" transform="rotate(0 75.5 44.8)" fill="url(#cg)" opacity="1.00"/>
<circle cx="106.9" cy="42.6" r="2.9" fill="url(#cg)" opacity="1.00"/>
<circle cx="110.1" cy="44.2" r="2.7" fill="url(#cg)" opacity="1.00"/>
<ellipse cx="132.7" cy="48.1" rx="3.2" ry="1.7" transform="rotate(90 132.7 48.1)" fill="url(#cg)" opacity="1.00"/>
<circle cx="53.9" cy="76.2" r="2.5" fill="url(#cg)" opacity="1.00"/>
<circle cx="56.5" cy="90.9" r="3.1" fill="url(#cg)" opacity="0.55"/>
<circle cx="84.2" cy="92.4" r="4.7" fill="url(#cg)" opacity="0.45"/>
<circle cx="73.4" cy="76.7" r="2.7" fill="url(#cg)" opacity="0.35"/>
<circle cx="24.2" cy="81.6" r="2.7" fill="url(#cg)" opacity="0.40"/>
<circle cx="15.6" cy="85.3" r="2.7" fill="url(#cg)" opacity="0.35"/>
<circle cx="122.5" cy="92.4" r="2.1" fill="url(#cg)" opacity="0.35"/>
<circle cx="142.4" cy="95.3" r="2.7" fill="url(#cg)" opacity="1.00"/>
<ellipse cx="119.9" cy="109.1" rx="3.8" ry="1.7" transform="rotate(80 119.9 109.1)" fill="url(#cg)" opacity="1.00"/>
<circle cx="5.4" cy="119.5" r="4" fill="url(#cg)" opacity="1.00"/>
<circle cx="60.4" cy="118.4" r="2.8" fill="url(#cg)" opacity="1.00"/>
<circle cx="80.9" cy="119.5" r="2.7" fill="url(#cg)" opacity="0.60"/>
<ellipse cx="65.8" cy="130.4" rx="5.7" ry="3.1" transform="rotate(70 65.8 130.4)" fill="url(#cg)" opacity="1.00"/>
<circle cx="40.9" cy="110.8" r="3.7" fill="url(#cg)" opacity="0.35"/>
<circle cx="18.4" cy="129.3" r="2.7" fill="url(#cg)" opacity="0.55"/>
<circle cx="47.4" cy="130.4" r="2.9" fill="url(#cg)" opacity="0.35"/>
<circle cx="25.9" cy="139" r="2.7" fill="url(#cg)" opacity="0.35"/>
<ellipse cx="45.3" cy="154.1" rx="3" ry="2.3" transform="rotate(0 45.3 154.1)" fill="url(#cg)" opacity="1.00"/>
<circle cx="75.5" cy="152" r="2.7" fill="url(#cg)" opacity="0.35"/>
<circle cx="88.5" cy="141.6" r="2.7" fill="url(#cg)" opacity="0.35"/>
<circle cx="92.8" cy="163.2" r="2.9" fill="url(#cg)" opacity="1.00"/>
<circle cx="117.6" cy="149.8" r="2.1" fill="url(#cg)" opacity="0.35"/>
<ellipse cx="138.1" cy="158.4" rx="3" ry="2.3" transform="rotate(90 138.1 158.4)" fill="url(#cg)" opacity="1.00"/>
<circle cx="144.6" cy="115.1" r="2.1" fill="url(#cg)" opacity="0.60"/>
<circle cx="30.2" cy="20.4" r="2.7" fill="url(#cg)" opacity="0.35"/>
<circle cx="61.4" cy="112.9" r="2.7" fill="url(#cg)" opacity="0.50"/>
</g>
<circle cx="38.9" cy="40.7" r="6.9" fill="none" stroke="#2a6db2" stroke-width="1.5"/>
<circle cx="56.6" cy="91" r="6.9" fill="none" stroke="#bf9bd1" stroke-width="1.5"/>
<circle cx="120.1" cy="109.2" r="6.9" fill="none" stroke="#1fb6ca" stroke-width="1.5"/>
<g clip-path="url(#c2)">
<rect x="353.6" y="15.8" width="149.0" height="147.9" fill="#050505"/>
<g transform="translate(353.6 15.8) scale(0.3725)" fill="none" stroke="#fff" stroke-linecap="round" stroke-linejoin="round" filter="url(#fb)">
<path stroke-opacity="0.05" stroke-width="2" d="M110 320l-5-11-7-10-5-11-4-11-5-11-7-9-3-12 2-12 3-12 2-11 4-12 2-12 2-11 4-12 5-11 7-10 6-10 7-10 3-11 0-12 0-12 0-12 5-11 6-10 3-12 5-11M182 360l-11 5-11 4-11 6-9 7-8 9-11 5-11 6-8 8-12 4-11 5-10 6-11 4-11 5-11 5-11 4-10 7M398 325l-10 8-10 6-11 5-12 2-12-1-11 2-11 6-12 2-11 4-8 9-9 8-6 10-9 8-11 6-11 4-11 5M230 107l4-11 5-11 3-12-1-12 2-12 5-10 8-9 9-8 8-9 10-6 11-6 12-2 12 0 10 7 10 6 10 7 11 4 10 7 11 6M406 284l-7 10-3 12-5 10-6 11-4 11-7 10-5 11-2 12 3 12 2 11M219 352l1 12 0 12-2 12-1 12-5 11-4 11-3 12-4 11-1 12 0 12 0 12-1 12-3 11-3 12-3 12M99 72l12 0 12 1 11 5 11 2 12 5 9 7 11 5 11 5 10 6 11 5 12 1 12 2 11 4 12 3 12-1 12 1 12-1 11-2 12 0 12-3 12-1 12-1 12-2 10-7 8-9 8-8M201 -13l9 7 8 9 11 5 11 5 10 7 10 6 11 5 12 2 10 7 11 5 9 8 10 7 10 6 10 7 7 9 9 8 8 9 8 9 7 10 9 7 9 8 8 9 9 8 7 10 11 6 12 2 12 0M83 367l12 0 11 1 12 2 12 1 12 2 12-1 12 0 12 0 11 3 10 7 10 8 6 10 8 9 8 8 8 10M174 144l-12 1-12-1-12-1-11-4-12-2-12-1-12-2-10-6-8-10-10-6-11-5-9-7-9-9-9-8-10-6-11-4-9-8-8-9M120 103l-10-6-11-6-9-7-10-8-10-6-12-3-10-6-9-7-5-12-4-11-4-11-4-11-2-12-1-12 3-12 6-10M349 411l12-1 11-4 11-4 12 0 12-3 11-5 8-9 10-6 8-9 7-10 6-10M75 56l1-11 3-12 4-11 2-12 2-12 1-12 1-12 6-10 2-12 6-11 7-10 8-9 8-9 5-11 5-10 6-10 10-7 6-11 10-6 7-10M232 35l-7 10-7 10-9 8-9 8-6 10-9 8-9 8-6 11-9 7-9 9-7 9-11 5M363 26l6 10 7 10 5 11 4 11 2 12 3 12 4 11 6 10 7 10 10 7 11 4 12 1 11 5 10 7 8 9 11 6 10 5 10 7 11 6 11 4 11 5 10 6M262 194l8-8 7-10 5-11 6-11 5-11 4-11 0-12 1-12 2-11-1-12-3-12 1-12 0-12-2-12 3-12 2-11 4-12M127 156l-9 8-9 7-11 6-11 5-12 0-12-1-12-2-8-8-10-7-11-4-11-5-10-7-12-1-12-4-10-6-8-9-5-11-7-9-10-7-12-3-11-5-12 2M388 290l6-10 8-10 4-11 6-11 9-8 5-10 5-11 8-10 5-10 8-9 8-9 8-9 6-11 4-11 5-11 6-10 9-9 8-8M27 365l12 2 12 3 11-2 12 0 11 5 10 7 10 7 11 5 11 6 11 4 12 3 11 4 11 5 11 4 9 7 11 5 12 5 11 2 12 3 12 1 12 1 12 2 12-1 12 0 12-1 11-2 12-1 12 0 12 3M338 354l5 11 2 11 3 12 2 12 2 12 5 11 5 10 6 11 5 11 2 12 1 11-2 12-3 12-2 12-5 11M199 407l0-12 2-12-3-11-4-12-3-11 0-12 4-12 6-10 6-11 2-11 4-12 9-7M118 371l10-7 7-10 6-10 8-9 6-11 10-6 11-4 10-8 11-5 11-5 10-6 12 0M61 78l12-1 12 1 12 1 12 0 12 3 10 6 10 6 9 9M137 304l-10-8-7-9-2-12 0-12-1-12-2-12-8-9-12-3-10-6-11-4-12-1M196 25l-1-12-2-12-5-11-9-8-8-9-9-7-10-8-12-2-11 2-12 1-12 0-12-3-11-4-12 1-12 3M296 387l-11 3-12 3-11 4-12 0-12-4-12-1-12-1-12 0-12-1-11 2-12 3-11 4-12 2-12 3-12 1-12 1-12-1-12-1-12-1-12-3-10-5-11-5-12 1-12 0-12 0M10 36l-2 12-4 11-6 10-7 10-7 10-8 8-9 8-10 8M124 275l9 8 9 8 9 8 8 9 5 11 6 10 6 11 4 11 2 12 3 11 3 12 8 9 6 10 7 10 9 8M272 257l3-11 5-11 7-10 10-7 6-10 8-9 8-9 9-8 9-8 7-10 6-10 3-12-2-11-2-12 0-12 5-11 4-11 4-12 3-11 6-11 8-8 10-7 11-6 10-5M206 53l9-7 10-7 11-4 12-2 12 1 11 3 12 1 12-1 11-5 11-6 10-6 11-4 12-4 11-4 12-2 11-5 10-7 10-6 11-5 10-6M194 155l11-4 12-3 12 1 12-1 12 1 12 1 12 0 11-2 12-5 10-6 11-4 10-7M126 31l12 0 12 2 11 4 11 5 11 5 12 3 12 0 11-4 11-4 12 1 12 3 10 6 7 10 8 9 9 8 8 9 9 9 10 6M94 63l-12-2-12-2-12-3-11-5-10-7-9-7-11-6-9-7-9-8-10-7-10-7-9-7-8-9-5-11-2-12-5-11-5-11-5-11-5-11-6-10-3-11-4-12-8-9-7-10-6-10-6-11M368 205l-8-8-11-6-10-6-11-5-8-9-7-10-4-11-7-10-6-11-7-9-3-12-1-12 0-12-1-12-3-11M-10 375l-3 12-1 12-1 12-2 12 0 12-1 12 8 9 5 11 5 11 6 10 6 11 5 10 7 10 2 12-2 12 0 12-2 12-6 11-9 7M28 143l-9-7-9-8-11-6-11-4-9-8-9-8-10-7-8-9M222 257l5-11 8-8 6-11 1-12 0-12 0-12-2-12 1-12 5-11 5-10 5-11 1-12M36 279l12 3 10 6 10 6 12 3 9 8 9 8 11 5 11 3 10 8 6 10 7 10 4 12M183 397l1-12 2-12 2-11 2-12 6-11 3-11-1-12 0-12-1-12-1-12 1-12 4-11 2-12 8-9 5-11 4-11 2-12 2-12 3-12 0-12 4-11 6-10M138 209l-9-8-10-6-9-8-11-5-11-6-11-2-12-3-12-3-12-1-11-4-11-3-12-3-11-4-11-6-10-6-6-10-4-12-2-12M10 81l12 1 11 4 9 8 8 9 10 7 10 7 9 8 8 8 5 11 5 11 5 11 2 12 6 10 9 8 10 7 10 6 12 3 11 4 12 1M53 110l12-3 10-6 11-5 12 0 12 1 12 3 11 5 10 6 12 3 11 3 12 3 12 3 11 3 11 5 12-3 12 2 12-2 11-3 11-5 11-5 11-5 12-2 12-3 9-7 10-8 10-5M241 25l-4-11-1-12-3-12-4-11-8-9-8-9-5-11-11-5-10-6-11-6-9-8-6-10-8-9-3-11-4-12-2-12 3-11M117 271l-2 12-4 12-5 10-10 7-7 10-8 9-6 10-2 12-6 11-4 11-7 10-6 10-4 12-2 11-4 11-5 11-4 12-2 12 1 11 1 12 2 12-1 12 0 12-3 12 0 12 2 11M389 -10l6-11 9-7 9-8 6-11 5-10 2-12 4-11 6-11 6-11M336 150l-9-8-10-7-8-9-9-7-6-11-8-9-8-9-9-7-7-10-6-10-7-10-5-11-8-9M152 352l-5 11-3 11 3 12 5 11 5 11 5 11 0 12 5 11 6 10 7 10 7 10 9 8 9 8 11 4 12 2 11 3 12 2 12 0 12-3 12-1M52 345l-9-8-5-11-4-11-2-12-2-12-2-12 0-12 2-11-2-12-3-12-1-12-1-12 3-12 1-12 4-11 6-11 8-8 6-11M389 393l-1 12-3 12 0 12-2 12 1 12-1 12-1 12 4 11 2 12 4 11 3 12 6 10 8 9 4 11M88 326l10 7 8 9 7 9 9 9 9 7 11 6 9 8 10 6 11 6 11 4 10 6 9 8 7 10 7 9 10 8 9 8 5 11 5 11 4 11M23 253l-4-11-5-11-4-11-6-11-4-11-2-12 1-12 4-12 4-11 5-11 6-10 8-9 8-9 7-10 9-7 8-9 7-10 4-11 5-11 4-12 2-11 3-12 0-12 3-11M-3 240l-8-8-11-7-9-7-11-6-10-6-11-5-12-1-12 0-12 2-12 2M-8 263l-5-10-7-10-10-7-12-1-11 3-12 1-11 6-12 0-12 1-12 3-11-3-11-5-11-5M19 258l11-5 11-6 12 0 12 0 12 2 12 1 12 0 11-4 11-4 11-4 12-4M142 105l-12 1-10 5-11 6-9 8-7 10-7 9-9 8-11 5-10 7-9 8-8 9-9 8-8 9-7 9-7 11-9 7-10 7-11 5-11 4-9 8-9 7-8 10-5 10-5 12-3 11-6 11-4 11-4 11M129 322l0-12-4-12-3-11-6-10-9-9-7-10-9-6-9-9-9-8-11-4-12 0-11 6-8 8-10 7-5 11-5 11-9 8-6 11M226 375l12 0 12 0 11 5 7 10 6 10 7 10 8 9 3 11 4 12 1 12 2 12 4 11 4 11 7 10 5 11 4 12-1 12 2 11 6 11 3 12 4 11 4 11 2 12-1 12-4 11-3 12M118 402l10-6 12-4 12 0 12-1 12-2 12-2 11-2 12-1 12-4 11-4 11-3 12-5 9-7 12-4 11-5 12-2 11-1 12-3 12-1 12 2 12 0 12-1M152 226l-3 11-4 12-6 10-6 10-5 11-9 8-7 10-11 5-10 8-9 7-5 11-6 11M151 282l11-4 12-1 11-5 12-2 12-2 12-1 11-2 12-3 12-2 11-4 12-2 11-5 11-4 12-2 12-4 9-7 8-9 9-8 10-7 10-7 10-6 8-9 10-7 7-10 8-8 7-10 6-11 5-10 4-11M400 44l12 4 12 1 12 1 11 4 11 4 12 4 11 3 12 2 12-2 11-5 8-9 8-9M319 128l-1 12-1 12-1 12 5 11 9 8 12 4 10 6 10 7 9 8 8 8 8 9 11 6 10 6 10 7 10 7 10 5 12 2M113 7l-7-10-8-8-7-10-9-8-10-7-11-5-11-2-12-2-11-6-10-6-10-6-12-3-11-5-12-2-11-4-12-4-11-4-11-4-11-5M-5 43l-12 2-11 5-12 0-12-3-11-3-12-1-12-1-12-1-12 1-11 5-12 3-10-6-10-6-9-9-11-4-12 0-12-1-11 4-8 9-7 10-7 10-10 6-10 7-9 8-5 11-5 11-6 10-4 11-2 12M166 331l-11 5-10 7-10 6-10 7-12 2-12 0-12 0-12-2-11-4-11-4-9-9-6-10-7-10-6-10-4-12-4-11-3-11-3-12 0-12-3-12M156 119l4 12 4 11 8 9 2 12 4 11 1 12 2 12 3 12 2 11 2 12-4 12-3 11-7 10-7 9-6 11-6 10-5 11-9 8-10 7-11 4-10 8-10 6-4 11M296 347l-11-4-11-5-12-3-11-4-11-5-8-9-9-8-8-8-6-11-6-10M57 62l12 3 11-1 12-1 12-4 10-7 11-2 12-3 12-3 11-5 12-1 11 1 12 1 12-1 12-1 12 0 12 2 12 2M359 114l10 5 12 4 12 0 12 1 11-2 12-2 11 4 11 5 12 1 12 0 12-3M111 184l12 0 11-3 12-4 8-9 5-10 10-8 8-8 10-8 11-5 10-6 10-6 12-4 11-3 9-9 6-10 9-8 7-10M226 192l11-4 11-6 10-5 12-4 11-5 11-4 12-1 12-2 12-2 12-1 11-5 12-1 11-5 9-8 6-10 5-11 6-11 6-10 5-11 3-11 4-12 4-11 2-12 2-12 3-11 5-11M387 395l2 12 0 12-2 11-2 12 3 12-1 12-1 12-4 11 0 12M10 336l-1 12 0 12-2 12 4 11 2 12-2 12-2 12-1 12-7 9-8 9-10 7-8 9-8 9-6 11-4 11 0 12 3 11 0 12-2 12-3 12-5 10-3 12 0 12 0 12 3 12-2 12M419 28l-7-10-7-9-7-10-4-11-3-12-8-9-7-9-10-8-10-5-8-10-9-8-6-10-8-9-7-10-8-9-9-7-11-6-10-6M-12 294l10-6 10-7 10-6 11-4 12-5 11-3 12 3 11 4 11 6 10 6 10 6 12 3 11 4 11 5 10 6"/>
<path stroke-opacity="0.05" stroke-width="3" d="M255 284l9 8 8 9 7 9 4 12 8 9 6 10 6 10 5 11 7 10 7 10 2 11 7 10 6 11 5 11 6 10 6 11 4 11 6 10 5 11 5 11 5 11 5 11 6 10 3 12 2 12M202 376l-11 3-12 4-10 5-12 3-12 3-11 5-6 10-5 11-1 12 0 12 0 12 1 12-1 12 3 11M231 333l-8-9-9-8-9-9-10-5-11-5-12-4-12 0-11 4-10 6-10 7-10 7M271 399l4-11-1-12-4-11-6-11-6-10-10-6-12-1-12-3-11-5-11-5-12-2-11-5-7-9-6-11-9-7-10-7-10-7-11-4-11-5-11-6-9-7M90 62l4-11 3-12 1-12 5-11 7-9 6-11 3-11 1-12-1-12-2-12-1-12-3-11-7-10-7-10-6-10-7-10-6-11-8-9-6-10M228 343l5-10 3-12 0-12 1-12-2-12-5-11-7-9-7-10-5-11-4-11-5-11-6-11-8-9-9-8-9-8-10-6M235 55l-12 2-12-2-10-6-12-2-12 4-11 3-12 2-11 5-12 2-11-4-12-1-12 1-12 2-11 5-11 4-11 5-12 0M351 201l-10 7-10 7-12 4-11 0-12 2-12 1-12 1-11 5-12 0-12 5-11 5-12 0-11-4M419 -12l3-12-1-12 2-12 1-12 3-11-1-12 0-12 3-12 2-12 2-12-1-12 0-12-5-11-6-10-8-8-10-8M375 39l-12-3-10-7-11-4-11-4-11-5-10-7-11-4-12-2-12-2-11-3M24 325l-7-10-2-11-1-12-3-12-7-10-7-9-6-11-4-11-4-12 1-11-2-12-3-12M147 399l-11 4-12 3-12 1-11 3-12-1-11-4-12-2-10-7-8-8-5-12 1-12 2-11 2-12 3-12 3-11 7-10 5-11 6-11 9-8 6-10 8-9 8-9 6-10 7-10 2-12 7-10 5-11M383 274l-12-2-11-2-11-5-11-5-12-3-12-3-9-7-6-10-6-11-4-11-5-11-1-12-2-12-1-12-4-11-5-11-2-12 1-12 5-11 4-11 5-11 4-11 7-10 8-9 9-8 11-5 12-4 12 1M92 73l-11-6-11-4-12-1-12 2-11 4-12 2-12-1-12-3-11 3-12 4-11 1-12 4-12 0-12 0-12 3-12 0-12 0-12-2-11-4M414 60l9 8 10 6 9 8 8 10 7 10 4 11 2 11 1 12-1 12 4 12 1 12 1 12-2 12-4 11-3 12-6 10-9 8M39 188l-12 1-11 5-12 2-11 4-12 3-12-1-12-1-12-2-12-2-12 1-12 1-12 1-11-2-12-1-12-2-12 0-12 3-12-1-12-1-11-1-12 0M415 201l4-11 2-12 1-12 0-11-1-12-1-12-3-12 0-12-3-12-2-12M96 57l-11-4-11-5-10-7-9-8-9-7-10-7-10-7-10-7-10-6-11-5-8-9-10-7-8-8-7-10"/>
<path stroke-opacity="0.10" stroke-width="2" d="M86 32l-5-11-7-10-5-10-2-12M132 21l7-10 6-10 4-12 10-7 8-8M162 135l11-3 12 0M189 181l7 9 9 8 9 8 8 9M64 168l0 12-1 12-1 12-5 11M186 70l8-9 6-10 4-11 5-11M42 11l5-11 8-9M41 -1l4-12M77 -15l5-11 6-10M44 68l-4 12-3 11M28 66l-6 10-3 12M2 37l-10 6-10 7M399 67l7 10 5 11-4 12M276 41l-8 9-10 7-10 7M285 -18l-12 2-11 4-11 5M411 -73l11-5 10-7 11-5 11-4 12-1M373 -16l3-12 9-7M143 16l-12 3-12-1-12 2M217 -6l-2-11 0-12-2-12-2-12-2-12M241 -32l9-8 10-7 8-9M254 -23l4-12 4-11 2-12M241 50l12-1 12 0 12-1 12-3M268 75l9 8 9 7 11 5M228 60l-7 9-10 7-11 4-12 3-12 1M242 92l6 10 3 12 5 11M292 104l-12 1-12 2-11 5-12 2-11 5M292 104l-11 4-12 4-12-1M257 111l-11-2-11-6-10-7M296 84l-12 3-8 10M276 97l-10 5-12 2M304 62l-9-8-6-10-2-12M304 62l0-12 1-12M305 38l1-12 8-9M299 51l-10-6-11-4-12 0M266 41l-12-3-12 3-11 3M329 73l9-8M338 65l10-5M331 82l11-6M342 76l8-9M289 141l-11 2M278 143l-10-7M319 127l5-10 6-11M330 106l4-11 1-12M302 131l11-1 12-1M302 131l-9-8M293 123l-10-6M336 149l4 12 1 12-5 11-1 12M336 149l12-1 12-2 11-4M371 142l10-7 11-5 12 2M310 165l1 12 3 11M314 188l1 12 7 10M290 148l-9 8M281 156l-2 12M279 134l-12 1-11 1-12-2M279 134l-6-10-8-9M265 115l-10-7-8-9M15 222l-11 4-11-3-12 4M3 201l-3-12-7-10M72 234l12 2 9 8 8 9 4 11 9 8 11 5M118 245l12 3 12-3 10-5 12 2M10 328l0 12-3 12 0 12 1 12M-12 326l-12 0-12 0-12 0-12-2M13 264l-11 5-10 7-7 10-8 9M-5 280l-11 5-10 7M-41 287l-7 10-9 8-9 7-11 6M19 220l-8-8-6-10-4-12M17 196l3-11 3-12M99 298l6 10 5 11M110 319l5 11 7 10M70 269l-12-1-11 2-12 4M70 269l-12-1-10-6M48 262l-10-7-10-7M107 256l11-3 11-5 8-10 6-10M107 256l9-8 4-11M120 237l6-10 5-11M116 283l7 10 4 11M127 304l1 12-2 12M167 335l12 1 10 6 11 5M200 347l10 7 10 6 9 8M139 337l-6 11-5 11M139 337l7 10M146 347l10 6M114 343l-11 5-11-3M92 345l-12-3-11 3M129 316l-11-6-10-7M129 316l-5-12M124 304l-1-11M340 357l9 8 5 11 10 7 11 5 11 4M346 392l0 12-4 12-4 11M298 366l-11-4-12 4-12 2-11 5-10 6M285 399l-5 10-7 10-8 9M268 336l-11-5-9-8-4-11-2-12-6-10-1-12-1-12M236 368l-10 5-9 8-8 9-5 11M312 287l4-11 6-11M311 311l3-12 3-12 5-11-1-12M328 293l10-6 10-7M330 351l8-9 6-10 7-10 4-11M339 374l5 11 8 9M0 190l-4-11-6-11M0 190l-9-9M-9 181l-6-10M15 172l-5-11-9-8-10-6M15 172l0-12-1-12M14 148l-2-12-2-12M31 225l12 1 12 0 12 0 10-6 12-3M31 225l7 9 5 11 2 12M45 257l3 12 9 8 7 9M1 217l-9 8-9 8M-17 233l-12 2-11-4M416 180l9 9 9 7 9 8 10 7 9 7 9 9 8 9 5 11 2 12 5 11 3 11 3 12 5 11 5 11 3 11 2 12 0 12 1 12M144 20l-2 12 0 12 1 12 1 12 0 12 0 12 0 12 3 11 3 12 6 10 5 11 4 11 5 11-1 12 1 12 4 12 6 10 9 9 7 9 7 10 9 7 9 8M406 237l-4 11-7 10-9 8-10 7-10 6-7 10-10 7-11 4-11 5-12 4-11 4-11 3-12 4-12 2-12 2-12 0-11-2-12 0-12-2-12-3-11-5-11-5-11-3-11-6-12-3M57 262l3-12-2-12 2-12-1-12-1-12-4-11-4-11-5-11-5-11-5-11-2-12-3-11-7-10M234 6l-7-10-4-11-8-10-4-11-9-8-8-9-8-9-7-9-4-12 0-12 0-12 0-12 2-12 0-12-4-11-5-11-9-8-7-10-1-12-1-12-4-11-5-11-9-8-10-7-7-10M147 230l3-12 6-11-1-12-1-12 4-11 9-8 7-10 7-10 8-9 4-11 0-12-3-12-3-11M221 398l-11 4-11 6-12 2-12-1-11-4-11-3-12 1-12 2-12 1-12-3-12-2-11 2-12 3-9 8-9 8-7 10-2 12 4 11 1 12 2 12 2 12 1 12M219 8l0-12 2-12 5-11 7-10 9-8 10-6 9-9 8-9 8-8 8-9 10-6 8-10 7-9 4-12 7-9 9-8 11-6 8-9 7-9 9-9 4-11 8-9 11-4 11-6 11-5 9-8M112 193l-4-12-1-11-2-12 1-12 5-11 8-9 9-8 8-9 9-8 7-9 4-12 4-11 6-11 6-10 5-11 2-11 3-12 5-11 9-9 11-4 11-5 10-6 7-10 10-7 10-7 11-3 12-4 11-4M419 414l6 11 7 9 6 11 7 10 7 9 9 9 9 7 12 4 11 4M180 365l8 9 9 9 7 10 7 10 5 10 6 11 7 9 6 11 9 8 9 8 10 6 10 6 11 6 10 6 12 4 12 0 11 4 11 6 11 4M-15 131l-12-3-11-2-12-2-12-2-12-2-12 1-11 4-10 8-9 7-10 7-10 6-8 9-10 7-10 7-12 2-12 0-11 2-12-1-12 3-11 6-10 6M45 63l9 7 10 8 8 8 4 11 6 11 6 11 8 8 9 9 10 6 11 4 11 4 12 2 11 5 11 4 12 2 12 0 12-2 12-3 8-8 9-9 9-8 12-2 12 3 10 5 11 5 12 3 11 3M178 296l-2-12-6-10-12-5-10-6-11-5-11-3-11-6-11-3-12-4-11-4-11-5-11-5-10-7-9-8-9-8M36 347l-12-1-12 0-12 0-12-2-10-6-9-8-10-7-10-5-11-5-11-5-9-8-10-8-10-6-11-5-9-8-10-7-9-7-10-7-7-10-6-10-2-12-5-11-6-10-6-11-7-9-8-10-8-8-8-10-8-9M207 154l6-11 3-11 1-12 7-10 5-11 7-10 5-11 6-10 6-11 9-8 10-6 9-9 5-11 5-10 3-12 1-12 1-12 0-12M80 232l-3-12-7-9-10-7-10-8-9-7-10-7-7-9-8-10-10-6-12-4-11-3-12-2-12 0-11 4-10 8M44 5l-3 12-2 12 0 12 0 12 2 11 6 11 7 10 3 11 5 11 9 9 10 5 9 9 8 8 5 11 6 10 7 10 10 8 8 8 7 10 3 12 2 12 3 11 7 10 8 9 8 9 10 5M-9 353l0 12 4 11 2 12 3 12 5 11 1 12-3 12 0 12-2 11-1 12 0 12 2 12-1 12-4 11 2 12 2 12 1 12 1 12 2 12 0 12-5 10-4 12-3 11-3 12M198 189l3-11 4-12 3-11 4-11 0-12 1-12 2-12 2-12 4-11 5-11 3-12 4-11 2-12 0-12 0-12 3-12 4-11 9-9 10-6 11-5 11-4M280 284l-6-10-4-12-4-11-1-12 2-12 2-11 0-12-1-12-1-12 1-12 3-12 3-12 8-9 9-7 7-10 7-10 9-7 11-6 11-5M166 83l-1-12-1-12 2-12 0-12-2-11-1-12 0-12-2-12-4-11-1-12-2-12-4-12-1-12-4-11 0-12-3-12-1-12-1-12-3-11-3-12-4-11-3-12-2-12-4-11M130 120l-4 11-6 10-5 11-9 8-12 4-12 1-11 3-12-1-12 0-12 0-12-2-12-1-11 4-12 3-12 3-11 4-9 8-8 9-7 10-8 9-8 9M187 218l11 4 10 6 9 8 10 8 11 4 10 6 12 2 12 2 12-2 12 0 12-1 11-4 10-7 7-10 7-10 8-8 8-9 9-8 11-6M160 232l-12 0-12 2-12 0-10 6-11 5-10 7-8 8-7 10-7 10-9 8-10 6-10 8-8 8-6 10-6 11-4 11-3 12M125 338l12 3 12 1 10 5 12 4 11 4 12 2 12 0 12-2 11-2 11-6 12-3 11-3 12-1 12 0 12 2 11 6 11 5 9 7 11 4M111 -9l-2-12-3-11-5-11-6-10 1-12 4-12 2-12 1-12 3-11 3-12 2-12 4-11 0-12 7-10 10-7 10-5 12-4 12-3 11-2 12-4 11-3 10-7 10-7 11-4 11-6 12-1 11-2M-11 116l11-4 10-7 10-7 9-8 7-9 6-11 3-12-2-11 0-12 0-12 5-11 6-10 6-11-2-12 1-12 2-12 3-11 0-12M229 403l9-8 10-7 9-8 7-9 8-10 10-6 6-10 10-7 9-8M410 326l-11 5-12 3-12 2-12 1-11-4-12-3-11 1-12 4-11 5-8 9-8 9-7 9-6 11-7 10-3 11-3 12-4 11M115 55l-12-1-12 2-12-1-12 1-12 1-12-1-12-1-12-3-10-7-7-10-10-7-10-5M131 50l12 0 12 2 11 1 12 3 12 3 11 5 10 5 10 8 6 10 7 10 7 10 2 12-1 12-1 12-1 12-1 12-3 11 4 12 4 11 4 11 3 12 2 12 3 11 3 12 3 12 2 11 8 10 7 10M218 239l-3 12-5 11-9 8-11 5-5 11 0 12 2 12 0 12 4 11 2 12 3 12 3 12 1 11M18 252l8 9 11 6 9 7 10 8 11 3 12 2 11 4 11 5 10 7 9 8 8 9 8 9 8 8 11 6 8 9 7 10 6 10 5 11M228 362l-11 5-7 9-11 6-10 6-10 6-11 6-9 7-10 7-11 3-12 3-12 3-12-1-11-5-10-7-7-9-8-10-5-10-4-12M33 224l-9-8-10-6-8-9-7-10-7-10-5-11-3-11-3-12-4-11-7-10-9-8-8-8-11-6-8-9-8-9M374 37l10-7 9-8 5-11 5-11 2-11 1-12 0-12 3-12 5-11 4-11M22 143l-6 10-8 10-7 9-8 10-8 8-9 7-12 3-10 7-12-2-12 0-11-1-12 2-11 4-11 5M102 418l-9-9-7-10-6-10-3-11-2-12-3-12-2-12-1-12-4-11-5-11-4-11-6-11-5-11-4-11 2-12M102 46l8 10 11 2 12 3 11 4 12 2 12 1 12-1 12-3 11-3 11-5 12-3 12-2 12 2M228 168l11 5 11 5 12 2 11-2 12 0 11 6 11 4 10 7 10 6 11 6 10 7 8 8M40 372l10 8 9 7 4 11 8 10 10 5 11 5 11 5 12 3 10 6 10 7 11 4 10 7 6 11 6 10 4 12 1 12 3 11 4 11 5 11 2 12 3 12 4 11 7 10 4 11 5 11 4 12 7 9 5 11 5 11M358 262l-11 5-11 3-12 1-12 1-12 2-12-1-12-1-12 3M58 73l-8 9-7 10-4 11-3 12-4 11-4 11-5 11-8 9-8 9-5 11-6 10-4 12-11 6-6 10-5 11-2 11M361 150l9 8 11 7 8 8 11 5 11 5 12 0 12-1 12-4 11 3M331 364l-4-11-4-12-1-12-5-11-1-12 1-11 6-11 7-10 8-8 7-10 9-8 5-11 5-11 5-11 5-11 6-10 8-9 8-9 8-9 9-8 6-10 6-11 8-9M168 153l12-4 10-6 11-5 11-5 9-8 8-9 10-7 10-6 10-7 10-7 8-9 9-8 6-10 7-9 11-5 8-9 11-6 11-4 11-5 12-3 10-6 11-5 12-3 11-5 11-5 12-1M164 169l-18-52-12-47-6-47M263 248l41-26 46-23 53-24M210 345l-11 29-6 29M29 143l-11 50 5 46M184 82l38-12 41-12 41-23 41-12M58 225l-5 49-12 53-6 76M117 123l-24-53-40-35-41-23"/>
<path stroke-opacity="0.10" stroke-width="3" d="M130 79l-11-3-12-4-7-10-5-10 0-12 2-12 7-10M140 130l8 8 12 5 9 7M140 83l12 1 11 5 8 9 10 6 12 3 10 7M42 11l-1-12M63 4l7-9 7-10M51 45l-5 11-2 12M36 44l-6 10-2 12M22 24l-10 6-10 7M178 23l-12-2-11-3-12-2M217 -6l9-8 7-9 8-9M237 8l5-10 7-10 5-11M241 50l9 9 9 8 9 8M228 60l6 11 0 12 8 9M231 27l11 3 12 1 12 2 12 0 12-3 10-5 11-5 12-2 12-1 12 1 12-1 12 2 12 0 12-2 12-1 11 1 11 6 5 11 5 11 2 12 4 11 4 11 7 10 1 12 0 12 0 12 1 12 0 12 0 12M175 56l4-12 6-9 8-10 5-11 5-11 3-11 5-11 4-11 6-11 7-10 9-8 10-6 10-6 12-3 11-5 11-4 11-4 12-4 10-7 10-6 8-9 5-11 4-11 5-11 5-11 6-10M41 206l7-9 8-9 6-11 11-4 11-3 12-2 11-6 8-9 5-11 3-11 7-10 9-8 9-8 8-9 7-10 9-8 8-9 10-6 11-6 10-6 11-6 10-6 9-8 6-10M245 276l4 11 2 12 2 12 3 11-1 12 0 12-1 12-1 12 2 12 2 12-4 11-3 12 2 12 3 11 4 12 2 12 3 11 4 11 1 12-2 12 5 11M345 237l-4 11-5 10-9 9-6 10-7 11-6 10-5 10-4 12-3 12-2 11 1 12 4 11 5 12 2 11 9 9 11 4 12 1 12-2M164 305l11 5 10 7 8 8 9 9 10 6 10 7 9 8 9 9 7 9 5 11 7 9 1 12-2 12-4 11-5 11-4 11-1 12M149 185l12-4 11-2 12-2 12-3 12-1 12 1 12 2 10 5 11 6 12 2 11 2 12 1 12-1 11 5 12 2 12-2 12 0 12-2M413 329l-12 0-11 3-12 4-11 4-12-2-11-5-10-6-10-7-10-6-11-6-12-2-12-1-12 1-10 6-11 5-8 8-10 7-12 3M83 327l12 3 12 2 11 3 11 5 10 6 9 8 11 6 11 3 11 6 9 8 5 11 6 10 0 12 3 12 4 11 8 9 10 7 5 10 4 12M320 171l8 9 10 7 10 5 10 8 9 8 8 9 9 7 11 6 7 10"/>
<path stroke-opacity="0.15" stroke-width="2" d="M183 199l-5 11-5 10-3 12-7 10-3 12M136 77l-12-3-12-2M99 0l-7-9-10-7-10-7-10-6-9-8M200 -36l5-11 3-12 9-7 7-11 5-11M136 156l-11 4-12-2-11-5-12 0-10-5M100 49l9-8 9-8 10-7 10-6 11-3M76 139l12 0 12 0M73 191l3 12 4 11 2 12M17 261l5 11 0 12-1 12 1 12-1 12M37 258l0 12 0 12 0 12-1 12 0 12M-17 42l-9-8-9-7-9-8-12-4-12 0M100 190l-9 9-8 9M115 99l-10-7-10-7-8-8-8-9M186 228l0 12-1 12-3 12M156 291l1 12-2 12-4 11-4 12-7 10M54 149l-12-3-12-1-12 1-11 4-11 6M131 109l-7-10-8-9-6-10M213 123l8-9 4-11 1-12M250 205l9 8 10 6 10 7 8 9M167 265l-2 12 2 12 3 11 8 9 10 7M84 143l-8-9-4-11-8-9-7-10M156 109l10-7 4-11 4-11M282 234l11 6 12 3 11 3 12-1 12 2M272 206l12 3 12 1 12-2 11-4M103 128l-11-3-12 2-11 5-10 8-8 8M271 58l9-7 12-4 12-2 12 1M290 76l11-5 11-3 12-4 11-5M215 296l11 5 6 10M154 317l-2 12-6 10M176 321l-1 12 0 12M104 293l-12 3-11 4-12 2M128 319l-2 12-1 12 1 12M149 234l-1-12-2-12M289 264l11 3 12 0 12-1 12-1 8-9M354 257l6 11 6 10 5 11 4 12M376 287l9 8 6 10 12 3 10 6 11 5M279 316l5 11 6 10 8 9M175 229l-12 1-12-1-12 3-12 2M206 147l-7-9-9-8-10-7-9-8-10-7M252 182l2-12-3-11-5-11M339 240l8-9 10-6 11-5 12-3M380 297l11-2 12 0 12-1 12 1 11-5M241 407l0 12 1 12-1 12 2 12 2 12M266 385l0 12 3 12 5 11 7 10M159 334l-11 2-12 2-12 1-12 2-11-4M273 226l0-12 1-12-2-12M278 216l3-12 3-11 3-12 2-12M362 270l8-8 5-11 8-9 8-9 7-10M191 377l-10 6-11 4-12 0-12-4M200 379l2 12 3 11 4 12 4 11 1 12M261 301l9-8 12-3 10-7M181 439l-5 11 3 12 7 9 5 12M171 458l-7 10-11 4-12 3-11 4-12 4M263 246l6-11-1-12 1-12-1-12-2-11M117 123l23-18 24-17 20-6M257 301l35 26 23 9M175 272l24 14 46 15"/>
<path stroke-opacity="0.15" stroke-width="3" d="M185 140l-11 5-11 6-11-3-10-6-10-7-11-5-8-9M185 140l2 12-3 11-2 12-2 12 3 12M160 76l-11 4-11 5-12 3-12 2M160 76l-12 1-12 0M142 39l-6-10-9-8-11-6-11-4-10-8-11-4-11-4-12-2M142 39l-10-7-9-8-11-3-7-10-6-11M187 21l0-12 2-11 6-11 1-12 4-11M191 132l-11 5-11-2-12-3-12-3-12-2-10-6-11-4M191 132l-10 6-12 4-11 4-11 5-11 5M65 97l4-11 9-9 6-10 7-10 9-8M52 143l7 10 6 10 11 5M52 143l12-3 12-1M60 160l9 8 3 11 1 12M21 201l0 12-1 12-2 12 0 12-1 12M39 199l9 8 12 4 10 6 12-1 12 2 11 4 11 5 10 6M39 199l3 12 1 12-3 12 1 12-4 11M-10 100l-8-8-9-8-9-8-6-10-7-11-9-8-6-10-2-11M-10 100l0-12 3-11-4-12-3-11-3-12M101 77l-7-10-4-11-2-12-2-12M130 79l-3-11-1-12 0-12 4-12 2-11M140 130l10 7 12-2M151 151l10 7 10 6 9 8 9 9M71 123l-8 9 1 12 0 12 0 12M140 83l12 0 11-5 12-4 11-4M122 183l-8-9-10-7-7-10-4-11M122 183l-12 2-10 5M147 135l5-11 10-7 9-8 7-9 7-10 9-8M147 135l-7-10-7-10-9-8-9-8M179 196l8 9 3 12-4 11M163 236l5 11 5 11 1 12 7 10 1 12 4 11 7 10 7 9M163 236l7 10-2 11-6 11-3 12-3 11M105 169l-12 3-11-2-10-7-7-10-11-4M149 140l-5-11-6-10-7-10M190 150l12 0 12 3 11 2 12 0M190 150l7-9 6-10 10-8M208 188l12-1 12 2 10 7 8 9M201 218l-4 11 2 12 5 10 8 9 6 11 6 10 6 11 6 10M201 218l-5 11-5 11-10 7-9 7-5 11M117 175l-11-6-7-9-4-12-3-11 0-12-4-11-11-4M117 175l-12-3-7-10-6-10-8-9M146 143l-1-12 5-11 6-11M374 42l11-3 12-4 9-7 8-9 7-9M374 42l8 9 10 7 7 9M309 29l-9-7-11-5-12-2-11-6-12-1M309 29l-12 2-11 5-10 5M315 1l-7-9-10-7-9-8-7-9-7-10M315 1l-9-7-10-7-11-5M388 -19l8-9 5-11 5-11 4-11 2-12 1-12 0-12M388 -19l6-10 3-12 5-11 2-12 7-9M361 5l11-5 12-4 10-7M361 5l6-11 6-10M251 187l-7 10-6 10-3 12-6 10-2 12 0 12-4 12-5 10M251 187l2 12 6 11 5 11 7 9 11 4M235 178l1 12 1 12 3 11 8 9 8 9 5 11 1 12M235 178l7 10 9 6 11 6 10 6M163 129l-12-2-12 1-12-1-12 2-12-1M238 91l10-6 11-5 10-7 8-9 12-1 12 2M238 91l5-11 7-9 10-7 11-6M254 103l4-11 11-7 9-7 12-2M319 80l-8 9-9 8-10 7M319 80l-12 2-11 2M319 80l-9-7-6-11M319 80l-4-11-9-8-7-10M319 80l10-7M319 80l12 2M301 143l-12-2M301 143l10-7 8-9M301 143l1-12M301 143l11 5 12 1 12 0M301 143l8 10 1 12M301 143l-11 5M301 143l-11-2-11-7M15 222l-6-11-6-10M72 234l12 1 12 2 11 2 11 6M34 289l-7 9-9 8-6 10-2 12M18 290l-6 10-7 9-7 10-10 7M13 264l-9 8-9 8M-19 247l-9 8-8 9-4 11-1 12M19 220l1-12-3-12M194 284l11 5 10 7M166 297l-12 4-12 1-11 1-12-4M166 297l-7 9-5 11M173 298l5 11-2 12M137 280l-6 9-6 11-9 8-8 10-6 9M137 280l-11 3-11 6-11 4M138 286l-6 10-4 11 0 12M158 256l-4-11-4-12-4-11M158 256l-7-10-2-12M229 260l12 2 12 1 12 1 12 1 12-1M94 275l1 12 4 11M94 275l-12-3-12-3M94 275l3-12 10-7M94 275l12 2 10 6M132 327l12 0 11 4 12 4M132 327l7 10M132 327l-9 8-9 8M132 327l-3-11M310 238l5-11 0-12-1-12 0-12 3-12 1-12M310 238l12 4 11 5 11 4 10 6M317 278l11-5 12 3 10 6 9 8 10 6 12 3 12 0 12 3M317 278l11 4 12 2 12 2 12 0 12 1M280 281l7 9 9 8 12 3 11 5 11 4M280 281l1 12-3 11 1 12M218 248l-12-2-12 0-12 2-11 4-12-1-12 0-12-2M218 248l-11-6-9-6-11-6-12-1M240 196l1-11 8-10 9-7 8-9 4-12 0-12-1-12 1-12M240 196l-6-10-6-10-7-10-8-9-7-10M250 217l1-12-4-12 5-11M301 269l10-6 10-8 10-7 8-8M321 309l8 9 11 4 11 4 12 2 9 9 5 10 3 12M321 309l12-2 11-4 12 0 12-2 12-4M254 350l-10-7-10-6-10-7-10-7-11 4-10 6-12 4-12 1M254 350l-5 11-4 11-2 12 1 12-3 11M250 341l-8 9-7 10-7 9-7 10-9 8-8 9M250 341l1 12 8 9 4 12 3 11M205 299l-12 2-9 7-6 11-9 8-10 7M262 260l4-11 3-12 4-11M272 262l6-10 0-12 0-12 0-12M306 293l12-3 11-5 11-5 11-5 11-5M217 339l-10-5-12-4-9-7-9-8-12-2-12-3M217 339l-2 12-6 11-7 9-11 6M198 321l-12 2-12 4-11-2-12-2-12-4-9-8-8-9M198 321l-6 11 0 12 4 11 1 12 3 12M232 322l-4-11 0-12-3-12-4-11M232 322l10-7 10-6 9-8M196 394l3 12 2 12 4 11-1 12-2 12-9 8-11-3M196 394l-2 12-4 11-6 11-3 11M184 403l-11 4-12 2-12 2-10 6-9 8-9 7-6 11-7 10M184 403l-7 10-3 12 4 11-1 12-6 10M233 296l12-2 12-1 12-2 12-1 11 3 12 2 12-4 12 0M233 296l5-11 6-10 3-12 7-10 9-7M340 357l3 11 2 12 1 12M298 366l-6 10-5 11-2 12M268 336l-11 4-9 8-3 11-9 9M310 311l0-12 2-12M311 311l7-10 10-8M330 351l4 12 5 11M10 196l-10-6M10 196l3-12 2-12M10 196l7 9 9 9 5 11M10 196l-2 12-7 9M184 82l-6-35-3-35-3-15M263 248l-3 26-3 24M146 184l-29 15-29 11-30 15-29 14M152 187l12 35 8 35 3 15M29 143l41-9 47-11M222 134l-23 18-30 17M257 301l-23 14-24 30"/>
<path stroke-opacity="0.15" stroke-width="4" d="M46 22l-4-11M46 22l9-9 8-9M46 22l4 11 1 12M46 22l-5 11-5 11M46 22l-12 2-12 0M213 28l-12 1-11-2-12-4M213 28l-4-11 4-11 4-12M213 28l12 0 9-8 3-12M213 28l10 7 9 8 9 7M213 28l3 12 6 10 6 10"/>
<path stroke-opacity="0.20" stroke-width="3" d="M164 172l29 21 29 23 29 23 12 9"/>
<path stroke-opacity="0.20" stroke-width="4" d="M118 121l-1-12-4-11-6-11-6-10M118 121l11-3 10-6 2-12-3-12-8-9M118 121l10 5 12 4M118 121l3 11 9 8 11 4 10 7M118 121l-12-1-12 0-12-2-11 5M118 121l1-12 4-11 6-10 11-5M344 22l10 6 9 9 11 5M344 22l-11 3-12 3-12 1M344 22l-8-9-10-5-11-7M344 22l8-9 9-8 8-9 10-7 9-8M344 22l9-8 8-9M25 243l-4-11-6-10M25 243l11-4 12-2 12-2 12-1M25 243l7 10 3 12 1 12-2 12M25 243l-1 12 0 12 0 12-6 11M25 243l-6 11-6 10M25 243l-12-2-11-3-12 1-9 8M25 243l-4-11-2-12M313 335l11 5 10 6 6 11M313 335l0 12-7 10-8 9M313 335l-10-6-12-2-12 4-11 5M313 335l-2-12-1-12M313 335l0-12-2-12M313 335l8 8 9 8"/>
<path stroke-opacity="0.25" stroke-width="4" d="M184 82l-6 35-7 29-7 23"/>
<path stroke-opacity="0.25" stroke-width="5" d="M183 80l0 12 2 12 0 12-1 12 1 12M183 80l-11-4-12 0M183 80l-8-9-10-7-4-11-8-9-11-5M183 80l5-11 1-12-1-12-2-12 1-12M183 80l10 8 5 10 1 12-2 12-6 10M28 143l6-10 9-9 8-8 5-11 9-8M28 143l12 1 12-1M28 143l11 6 10 6 11 5M28 143l2 12-1 12 0 12-2 12-6 10M28 143l-3 12 6 10 0 12 3 11 5 11M28 143l-11-4-9-8-8-9-6-10-4-12M146 182l-12 1-12 0M146 182l1-12-1-12 3-11-2-12M146 182l11 4 11 5 11 5M146 182l-1 12-1 12 4 11 6 11 9 8M164 172l-11-5-12 1-12-2-12 2-12 1M164 172l-2-12-7-10-6-10M164 172l10-6 11-4 5-12M164 172l11 4 12 1 10 7 11 4M164 172l7 9 10 8 7 9 9 8 4 12M164 172l-12 3-11-3-12 2-12 1M164 172l-9-8-7-10-2-11M221 136l4 11 8 9 7 10 6 10 5 11M221 136l-5 11 5 11 7 10 7 10M221 136l-12 0-11-4-12-3-12-3-11 3M221 136l4-12 5-11 2-11 6-11M221 136l11-5 9-8 7-10 6-10M173 275l11 2 10 7M173 275l-1 12-6 10M173 275l-3 11 3 12M173 275l-12 0-12 4-12 1M173 275l-12 4-11 2-12 5M173 275l-9-9-6-10M173 275l10-6 10-6 12-2 12 0 12-1M264 249l11-5 12-2 12-2 11-2M264 249l11 5 11 6 10 5 10 7 11 6M264 249l3 12 8 9 5 11M264 249l-11 4-12 2-12-3-11-4M264 249l-8-8-5-11-5-11 1-12-7-11M264 249l-6-10-6-11-2-11M264 296l11-5 9-8 11-3 6-11M264 296l12 0 12 0 12 3 10 7 11 3M264 296l-1 12-3 11 4 11 0 12-10 8M264 296l-3 11-5 11-3 12-3 11M264 296l-11 4-12 0-12 0-12 0-12-1M264 296l0-12-3-12 1-12M248 303l8-9 6-10 5-11 5-11M248 303l12 0 11-5 12-3 11-2 12 0M248 303l-7 10-5 11-9 8-10 7M248 303l-12-4-12 0-11 5-9 7-6 10M209 349l8-9 7-9 8-9M209 349l1 12-3 12-5 11-6 10M209 349l-9 9-5 11-3 11-4 12-4 11M209 349l0-12 5-10 7-10 7-10 5-11"/>
</g>
<circle cx="421.8" cy="45.5" r="6" fill="url(#cg2)" opacity="1.00"/>
<circle cx="364.1" cy="68.8" r="5.4" fill="url(#cg2)" opacity="1.00"/>
<circle cx="397.4" cy="60.5" r="4" fill="url(#cg2)" opacity="0.80"/>
<circle cx="407.9" cy="83.2" r="6" fill="url(#cg2)" opacity="1.00"/>
<circle cx="414.6" cy="79.4" r="5.4" fill="url(#cg2)" opacity="1.00"/>
<circle cx="370.8" cy="23.9" r="4" fill="url(#cg2)" opacity="0.45"/>
<circle cx="481.9" cy="23.9" r="4.4" fill="url(#cg2)" opacity="0.90"/>
<circle cx="433.1" cy="26.1" r="3.2" fill="url(#cg2)" opacity="0.45"/>
<circle cx="435.9" cy="66" r="4.4" fill="url(#cg2)" opacity="1.00"/>
<circle cx="472.5" cy="45.5" r="4.6" fill="url(#cg2)" opacity="0.30"/>
<circle cx="465.8" cy="68.8" r="4" fill="url(#cg2)" opacity="0.30"/>
<circle cx="363" cy="105.7" r="5.2" fill="url(#cg2)" opacity="0.75"/>
<circle cx="417.9" cy="117.3" r="5" fill="url(#cg2)" opacity="1.00"/>
<circle cx="388.5" cy="117.3" r="4" fill="url(#cg2)" opacity="0.35"/>
<circle cx="402.9" cy="136.7" r="3" fill="url(#cg2)" opacity="0.30"/>
<circle cx="452" cy="107.9" r="5" fill="url(#cg2)" opacity="1.00"/>
<circle cx="452" cy="125.1" r="5" fill="url(#cg2)" opacity="1.00"/>
<circle cx="445.9" cy="127.9" r="5" fill="url(#cg2)" opacity="1.00"/>
<circle cx="431.4" cy="145" r="5" fill="url(#cg2)" opacity="1.00"/>
<circle cx="470.3" cy="139.5" r="4.2" fill="url(#cg2)" opacity="0.70"/>
<circle cx="357.4" cy="88.2" r="3" fill="url(#cg2)" opacity="0.30"/>
</g>
<circle cx="472.4" cy="46" r="7" fill="none" stroke="#f7921e" stroke-width="1.5"/>
<circle cx="364.2" cy="107" r="7" fill="none" stroke="#662d91" stroke-width="1.5"/>
<circle cx="471.1" cy="141.1" r="7" fill="none" stroke="#c8d82c" stroke-width="1.5"/>
<g clip-path="url(#c3)">
<rect x="58.0" y="401.8" width="122.0" height="121.8" fill="#252525"/>
<rect x="58" y="401.8" width="122" height="121.8" filter="url(#nzA)" opacity="0.05"/>
<g transform="translate(58 401.8) scale(0.305)" fill="none" stroke="#fff" stroke-linecap="round" stroke-linejoin="round" filter="url(#fb)">
<path stroke-opacity="0.05" stroke-width="3" d="M180 293l8-30 11-27 16-25 14-10M177 313l-14 19-16 19-16 16-17 19"/>
<path stroke-opacity="0.05" stroke-width="4" d="M180 299l5-27 8-28 14-27 16-27 16-22 17-19"/>
</g>
<circle cx="90.3" cy="420.2" r="2.2" fill="url(#cg)" opacity="0.15"/>
<ellipse cx="91.2" cy="431.8" rx="3" ry="1.8" transform="rotate(-30 91.2 431.8)" fill="url(#cg)" opacity="0.55"/>
<ellipse cx="117.2" cy="403.5" rx="2.8" ry="1.9" transform="rotate(0 117.2 403.5)" fill="url(#cg)" opacity="0.30"/>
<circle cx="146.8" cy="421.9" r="2.4" fill="url(#cg)" opacity="0.22"/>
<circle cx="176.3" cy="465.7" r="2.2" fill="url(#cg)" opacity="0.22"/>
<ellipse cx="157.7" cy="477.2" rx="3.2" ry="1.4" transform="rotate(80 157.7 477.2)" fill="url(#cg)" opacity="0.20"/>
<circle cx="62.5" cy="485.8" r="3.3" fill="url(#cg)" opacity="0.25"/>
<circle cx="108.2" cy="484.9" r="2.3" fill="url(#cg)" opacity="0.15"/>
<ellipse cx="112.7" cy="494.8" rx="4.7" ry="2.6" transform="rotate(70 112.7 494.8)" fill="url(#cg)" opacity="0.60"/>
<circle cx="155.8" cy="511" r="1.8" fill="url(#cg)" opacity="0.15"/>
</g>
<circle cx="89.7" cy="420.2" r="7" fill="none" stroke="#2a6db2" stroke-width="1.5"/>
<circle cx="104.4" cy="462" r="7" fill="none" stroke="#bf9bd1" stroke-width="1.5"/>
<circle cx="158.6" cy="477.5" r="7" fill="none" stroke="#1fb6ca" stroke-width="1.5"/>
<rect x="160" y="520.2" width="18.4" height="2.6" fill="#fff"/>
<text x="67.6" y="396.8" font-size="11.2" textLength="99.7" lengthAdjust="spacingAndGlyphs">Prestimulus window</text>
<text x="76.6" y="535.5" font-size="11.2" textLength="85.4" lengthAdjust="spacingAndGlyphs">Mean –20 frames</text>
<g clip-path="url(#c4)">
<rect x="212.0" y="401.8" width="122.0" height="121.8" fill="#252525"/>
<rect x="212" y="401.8" width="122" height="121.8" filter="url(#nzA)" opacity="0.05"/>
<g transform="translate(212 401.8) scale(0.305)" fill="none" stroke="#fff" stroke-linecap="round" stroke-linejoin="round" filter="url(#fb)">
<path stroke-opacity="0.05" stroke-width="2" d="M180 296l-6-27-5-25-6-27-5-22-3-27M177 318l8 22 16 16 22 8 27 3"/>
<path stroke-opacity="0.05" stroke-width="3" d="M180 293l8-30 11-27 16-25 14-10M177 313l-14 19-16 19-16 16-17 19M106 60l7-9M106 60l12 2 12 1M106 60l6 11M106 60l-6 11M106 60l-6-10-2-12M109 99l12 0 12 2 7 9M109 99l1 12 2 11M109 99l-11 6-8 9-4 11M109 99l-11-6M194 5l3 12M194 5l-2 12M194 5l-12-3-11 1M194 5l-6-10-4-11M194 5l7-10 1-11 8-9M194 5l11 4M206 72l-12 0-12 2M206 72l9-7 9-8 10-7M206 72l9 8M206 72l-4 12M291 66l-11 4-12-3-9-8M291 66l-11-5M291 66l5-11 8-9M291 66l11-4M291 66l12 1 12 1M291 66l-8 9-10 7M300 70l-4-11-5-11-5-11M300 70l4-11 1-12 4-11M300 70l2 12M300 70l-10 8M362 81l-3-11-1-12M362 81l11 2M362 81l-12-3-10-6-7-10M147 158l12-1M147 158l2 11M147 158l-12 0M147 158l-3-12-2-12-1-12M147 158l11-6 9-7 10-7M388 210l10-7 12-2 11-3M388 210l7 10 4 11M388 210l0 12 3 11M388 210l-11 5-11 4M388 210l-3-12M327 248l12-1 11-3M327 248l-12 3M327 248l-3-12-2-12M15 276l9 7 12-2 11-6M15 276l-10 7-11 4M15 276l1-12-1-12 3-12M165 273l9 7 10 7M165 273l-3 12M165 273l-12-2M165 273l1-12 2-12M179 305l-11-4-11 1-12-2M179 305l1-12-8-8M179 305l12-2 12-3M179 305l12 4 10 6M179 305l-3 12-7 10-5 11M179 305l-12 1-11 3M124 370l7-9M124 370l6 10 9 9 9 8M124 370l5 11 8 9M124 370l-11 5-8 9M124 370l-8-9-7-10M253 395l5 11M253 395l-11 5M253 395l-2-12-4-11M376 382l-11 4-9 8-11 4M376 382l-10-5-11-7M376 382l8-9M376 382l11-6M376 382l12 0 12-3 12-1M376 382l2 12 5 11"/>
<path stroke-opacity="0.05" stroke-width="4" d="M180 299l5-27 8-28 14-27 16-27 16-22 17-19M180 299l5-27 8-28 14-27 16-27 16-22 17-19"/>
</g>
<circle cx="244.3" cy="420.2" r="2.2" fill="url(#cg)" opacity="0.20"/>
<ellipse cx="245.2" cy="431.8" rx="3" ry="1.8" transform="rotate(-30 245.2 431.8)" fill="url(#cg)" opacity="0.60"/>
<ellipse cx="271.2" cy="403.5" rx="2.8" ry="1.9" transform="rotate(0 271.2 403.5)" fill="url(#cg)" opacity="0.30"/>
<circle cx="300.8" cy="421.9" r="2.4" fill="url(#cg)" opacity="0.25"/>
<circle cx="256.8" cy="449.8" r="2.1" fill="url(#cg)" opacity="0.20"/>
<circle cx="330.3" cy="465.7" r="2.2" fill="url(#cg)" opacity="0.25"/>
<ellipse cx="311.7" cy="477.2" rx="3.2" ry="1.4" transform="rotate(80 311.7 477.2)" fill="url(#cg)" opacity="0.30"/>
<circle cx="216.5" cy="485.8" r="3.3" fill="url(#cg)" opacity="0.30"/>
<circle cx="262.2" cy="484.9" r="2.3" fill="url(#cg)" opacity="0.25"/>
<ellipse cx="266.7" cy="494.8" rx="4.7" ry="2.6" transform="rotate(70 266.7 494.8)" fill="url(#cg)" opacity="0.75"/>
<ellipse cx="249.7" cy="514.5" rx="2.5" ry="1.9" transform="rotate(0 249.7 514.5)" fill="url(#cg)" opacity="0.15"/>
<circle cx="309.8" cy="511" r="1.8" fill="url(#cg)" opacity="0.20"/>
</g>
<circle cx="243.7" cy="420.2" r="7" fill="none" stroke="#2a6db2" stroke-width="1.5"/>
<circle cx="258.4" cy="462" r="7" fill="none" stroke="#bf9bd1" stroke-width="1.5"/>
<circle cx="312.6" cy="477.5" r="7" fill="none" stroke="#1fb6ca" stroke-width="1.5"/>
<rect x="314" y="520.2" width="18.4" height="2.6" fill="#fff"/>
<text x="228.6" y="396.8" font-size="11.2" textLength="76.6" lengthAdjust="spacingAndGlyphs">1 Field stimulus</text>
<text x="245" y="535.5" font-size="11.2" textLength="55.5" lengthAdjust="spacingAndGlyphs">+20 frames</text>
<g clip-path="url(#c5)">
<rect x="366.0" y="401.8" width="122.0" height="121.8" fill="#252525"/>
<rect x="366" y="401.8" width="122" height="121.8" filter="url(#nzA)" opacity="0.05"/>
<g transform="translate(366 401.8) scale(0.305)" fill="none" stroke="#fff" stroke-linecap="round" stroke-linejoin="round" filter="url(#fb)">
<path stroke-opacity="0.05" stroke-width="1" d="M131 204l-12 0M108 188l-12-2-11-5M158 151l2-12 4-11M175 188l11-6M157 221l-2 12M242 315l-2 12-3 12M202 261l-12 0M244 234l8-9 9-7M238 260l6-10M204 293l-7 10M49 326l-1 12M26 301l-12-1M3 312l-12 1-11-2M32 287l-7-9M71 290l10-5M73 308l12-2M372 254l-11-3M410 219l9-8 8-9M417 272l11 5M407 282l6 11M398 288l5 11"/>
<path stroke-opacity="0.05" stroke-width="2" d="M113 51l10-6 12-3M113 51l11-6M124 45l11-4M130 63l12 2 11-2M153 63l11-5 11-6M112 71l11-5 11-5M112 71l9 8M121 79l9 7M100 71l-10 6M100 71l-3 11M97 82l3 12M98 38l-11-5-11-5-12 2-12 2M98 38l-4-11-1-12M93 15l-4-11-2-12M140 110l5 11 2 12 4 12M151 145l4 11-1 12 1 12M112 122l10 6 9 8 12 4M112 122l6 11 9 7M127 140l7 10 8 9M86 125l0 12 2 12 1 12M89 161l3 11 3 12-2 12M98 93l0-12-2-12M98 93l-11-5M87 88l-11-2M197 17l-9 8-9 8M197 17l6 10M203 27l3 12M192 17l-2 12M190 29l-6 11M171 3l-12 2-11 6M148 11l-8 9-9 8M184 -16l-8-9-2-12-1-12 0-12M184 -16l-1-12-4-11M179 -39l-6-11-2-12M210 -25l5-11 9-9 9-8M233 -53l3-11 2-12 0-12M205 9l10-8M205 9l12 5M217 14l9 7M182 74l-11-4-10-8M161 62l-11-4-9-8M234 50l5-11 11-6 11 1 12-1M234 50l8-9 12 0 11-4M265 37l11-6 10-6 12-4M215 80l8 9M223 89l3 11M202 84l-8 8-9 8M202 84l-7 9M195 93l-4 11M259 59l-8-9-4-12-5-11M242 27l-5-10-8-9-8-10M280 61l-8-9M272 52l-8-8M304 46l1-12-3-12-4-11M304 46l6-10 8-9M318 27l10-7 8-9M302 62l4-12-2-12M302 62l11-6M313 56l11-5M315 68l12 1 12-2M339 67l12 0 12 1M273 82l-12-2-11-4-10-8-10-5M273 82l-5 10-9 9M259 101l-9 8-10 6M286 37l-10-6-12-2-10-6-11-6M286 37l-4-11-5-11-10-6M267 9l-10-7-10-7-10-5M309 36l1-12-3-12-1-12M306 0l0-12-1-12-6-10M302 82l-2 12-4 12M302 82l-1 12M301 94l-1 12M290 78l-12-2-12 0M290 78l-6 10M284 88l-8 9M358 58l5-11 7-10M370 37l7-10 3-12M373 83l11-5M373 83l12-2M385 81l12-3M333 62l-12 0-12 2-12 2-9 8-8 9M333 62l-10-6-12-1-12-1M299 54l-12-2-12 2-11 4M159 157l12 2M171 159l12 3M149 169l3 12M149 169l10 7M159 176l9 8M135 158l-12 1M123 159l-11 5M141 122l6-10 5-11 10-7 8-8M141 122l3-11 6-11 8-9M158 91l10-7 7-9 8-9M177 138l12 1 11-5 12 1 11 5M177 138l11-5 12-3 11-4M211 126l11-5 11-3 12 1M143 202l-12 0-11-4M143 202l-12 2M130 195l-11 3-10 8-9 7M130 195l-10-6-12-1M159 175l3-12 6-10 10-8M159 175l1-12-2-12M166 195l9-7M159 209l-10 7-8 9M159 209l-2 12M229 202l12-4 11-3M252 195l10-7 7-10M229 202l8 9M237 211l6 11M229 202l-11 4M218 206l-12 1M229 202l-7-9-5-11M217 182l-9-9-10-6M200 159l-11 6M189 165l-10 6M200 159l-12-1M188 158l-12 0M200 159l-5-11M195 148l-4-11M200 159l12 1M212 160l12 1M200 159l12-2 12-2M224 155l8-9 10-7M200 159l5 11 1 12M206 182l8 8 10 7M66 172l-5 12M61 184l-2 11M66 172l-9 8M57 180l-10 8M66 172l-12-2M54 170l-12-3M66 172l6-10M72 162l7-10M66 172l11-3 12 1M89 170l10 8 10 6M66 172l12 1M78 173l10 6M42 183l-10-7-9-8M23 168l-12 0-11-3M42 183l12-4M54 179l12 0M42 183l1 11-5 11M38 205l-3 12-9 8M334 202l-12 0M322 202l-12 0M334 202l7-10M341 192l11-5M334 202l11 5M345 207l12 1M421 198l12 0 12-2 12-4 11-3M421 198l11-5 10-7 10-6M452 180l7-10 2-12-6-10M399 231l11 5 12 3 12-2 11 3M399 231l7 10 2 11M408 252l-1 12 1 12M391 233l7 10 7 10 9 8M391 233l5 11 1 12M397 256l-4 12-3 11M366 219l-12-3-9-8-10-8-6-10M366 219l-12 4-9 7M345 230l-10 6-12 1M385 198l-9-8-3-11M385 198l-3-11M382 187l-3-12M350 244l11-5 9-8M370 231l11-6 10-7M315 251l-7-10-8-9M315 251l-12 0M303 251l-9 7M322 224l-5-11-8-9M309 204l-7-9-4-12M47 275l12 3 12-1 12 1 11 2M47 275l11-5 12 1 12-1M82 270l11-1 12 3 12-1M-6 287l-12-2-11-5M-29 280l-11-4-11-4M18 240l12-2 11 2 12-1 12 5 10 6M18 240l2-11 2-12 3-12M25 205l7-10 9-8 12 1M184 287l12 1 10 6 8 8M184 287l11 5 11 3M206 295l12 4 11 4M162 285l5 10M162 285l3 11M165 296l4 12M153 271l-7 10-7 10M153 271l-12-3M141 268l-12-2M168 249l-9-8-11-3-12 0M168 249l-1-12-4-11M163 226l5-11 7-10M226 298l9 8 7 9M213 267l6-11 5-11M213 267l-11-6M231 255l5-11 8-10M229 268l6-10M229 268l9-8M214 286l5 11 5 11M214 286l-10 7M145 300l-12 3-10 7-8 9M115 319l-11 4-12 1-10 7M172 285l3-12 0-12 5-11M172 285l-4-12 0-12M168 261l-1-12 0-12M203 300l8-9 12-1 12-2M203 300l10-7 10-6M223 287l9-8 11-5M201 315l11 4 12-2 12-1M201 315l10 7 10 7M221 329l11 4 11 5M164 338l-8 9-6 10-6 10M144 367l-8 9-10 6-12 5M156 309l3 12 0 12-2 12-2 11M156 309l-11 5-10 6M135 320l-12 5-11 4M112 252l9 8M121 260l8 8M112 252l4 11 4 12M120 275l10 7 12 2M112 252l-12 2M100 254l-11 5M112 252l-6-10-3-12M103 230l-1-12-4-11M112 252l-2-12M110 240l-1-12M112 252l3-11 2-12M117 229l3-12-2-12M51 314l11 5M51 314l-2 12M38 302l-12-1M27 307l-12 1-12 4M42 294l-10-7M61 297l10-7M61 307l1 12 7 10M61 307l12 1M129 305l5-11M134 294l0-12M129 305l9 9M138 314l1 12M129 305l0 12M129 317l3 12M129 305l-11-4M118 301l-12-2M129 305l-5-10M124 295l-10-8M70 329l-1-12M69 317l-4-11M70 329l0-12M70 317l4-12M70 329l12-1M82 328l12-2M70 329l12 2M82 331l12 1M70 329l-9 7M61 336l-11 6M70 329l-11-2-11-6M48 321l-11 5-11 5M131 361l12-3 9-8M131 361l3-12M134 349l7-9M148 397l6 10 10 6 11 5 12 4 11 4M148 397l10 7 10 6 10 6M178 416l9 8 9 8 9 7M137 390l-3 12-6 10-6 10-10 8M137 390l8 8 10 8M155 406l10 6 9 8M105 384l0 12 3 11 5 11 3 12M105 384l-11 6-10 7M84 397l-11 5-10 6M109 351l5-11 2-12 3-12M109 351l-6-10-4-11M99 330l-5-11-2-12M206 364l5-10M211 354l5-11M206 364l12 2M218 366l11-4M206 364l-12 1M194 365l-10 7M241 336l-8-8M233 328l-11-6M241 336l-1-12M240 324l4-11M241 336l12-1M253 335l12 3M241 336l7 10M248 346l11 4M241 336l-9 8M232 344l-5 11M258 406l-7 10M258 406l0 12M258 418l4 11M242 400l-11-7-9-7M242 400l-12-2M230 398l-11-5M247 372l6-10 1-12-5-11-7-10M247 372l-4-12 2-11M245 349l1-12-2-12M321 358l1-11M322 347l-1-12M321 358l12 1M333 359l11 2M321 358l9 8M330 366l3 12M321 358l-12 1-12 2M297 361l-11 6-8 9M345 398l-11 5-12 1-12 4M310 408l-12 0-9-7-6-11M355 370l-10-6-9-8M336 356l-10-6-12 0M384 373l8-10M392 363l9-6M387 376l7-9 2-12M387 376l8-8M395 368l11-6M412 378l10 7 11 4 12 0 11-4M412 378l11 5 12 2 12 3M447 388l11-4 11-1 12 0M383 405l7 10 11 3M401 418l11 6 9 8M384 258l-4-12 2-12M384 258l-12-4M400 241l-6-10-4-11-3-12M400 241l5-11 5-11M405 267l12 5M404 271l3 11M396 276l-3 11-3 12M396 276l2 12M82 5l7 10M89 15l4 12M82 5l-10 7M72 12l-9 7M82 5l7-10M89 -5l8-8M177 251l10 6M177 251l10-7M176 266l11 6M155 257l-11-3M166 98l12 0 12-2 11-4 11-6 9-7 11-6 11-4 12-3 11-4 12-2 10-5 12-4 12-2 11-4 10-6 11-5 10-6 9-9 9-8 6-10 7-10 10-7 9-7 11-5 9-8 10-7 9-8 9-8M-16 251l-10 7-10 7-10 7-11 5-11 4-12 3-9 7-10 7-10 6-10 7-11 3M418 272l10-6 6-11 2-12 2-11 4-12 6-10 4-12 7-9 8-9 7-10 8-9 10-6 10-7 8-9 6-10 7-10 8-9 7-9 8-10 5-11 5-11 2-11M221 350l11 5 12-1 12 0 12 0 11-6 12 1 12 1 12 0 12 0 12 0 12 0 11-4 11-5 11-3 12-2 12 0 12-2 12-3 11-3 12-4M14 213l11-6 12-3 11 2 12 4 11 4 12 1 12 3 11 2 12 3 11 6 11 4 12 0 12 1 12-2 10-6 10-7 11-6 10-6 11-5 8-9 9-8 11-4 11-4 11-6 10-7 11-3 12-4M376 242l1 12 0 12-3 12-2 11-1 12 1 12 4 12 6 10 3 12 1 12 1 12 2 11 1 12 1 12 3 12 4 11 2 12 3 12 2 12 6 10 8 9 10 7 8 9 10 7 10 5 11 6 11 5M337 340l-9-9-6-10-5-11-5-10 0-12 0-12 0-12 3-12 5-11 3-12 5-11 9-8 9-7 10-7 9-8 7-10 10-7 9-8 10-7 11-4M-6 238l-8-8-9-8-11-7-11-3-10-7-6-11-6-10-2-12-4-11-3-12 0-12 1-12 3-11-4-12-3-11M286 209l4 11 1 12-3 11-4 12-3 11-1 12-3 12-1 12-4 11-3 12M250 237l3-11 5-11 2-12 3-12 7-9 8-9 8-9 9-8 11-4 11-5 11-6 10-6 11-5 11-3 12-1M10 393l-2 12-2 12-1 12 1 12-1 12 0 12-2 12 1 12-3 11-3 12M184 215l-11-5-8-9-9-9-9-7-11-5-11-5-11-5-12-2-12 0-12-2M267 167l8 9 4 11-1 12-1 12-1 12-5 11-5 11-7 10-6 10-4 11 0 12 0 12M19 104l-12-2-12-3-12 1-11-2-12-2-12-1-11-6-10-6-12-3-10-6-10-6-12 1-12 0-12 0M379 183l8 9 7 9 5 11 4 12 2 12 4 11 6 10 2 12 0 12 4 11 3 12 2 12 3 11 1 12 4 12 0 12 0 12 0 12 4 11M272 351l-5 11-11 6-8 9-9 8-8 9-9 8-10 6-8 10-6 9-8 10-8 8-10 7M254 317l7-10 7-9 4-12 6-10 8-9 5-11 2-12 2-12 4-11 7-10 5-11 5-11 4-11 6-11 4-11 9-7M414 0l8-9 9-8 8-9 6-10 9-8 10-7 12-2 11 4 11 4 11 6 9 7 11 6 12 1 10 6 11 5 12 4 9 8 8 8 7 10 6 11 8 8 9 8 9 8 11 6 8 8M150 276l11 4 11 5 12 3 11 4 12 3 11 5 10 6 11 4 12 1 12 2 11 4 11 5 9 8 8 9 5 11 8 8 10 8 9 7 9 9 9 7 10 7 12 2 11 4 11 6 10 5 11 5M310 -3l0 12-1 12 0 12 0 12 3 11 1 12 0 12 6 11 9 8 8 9 5 11 7 10 6 10 3 11 1 12 2 12 0 12-1 12 0 12M177 202l7 9 7 10 2 12 7 9 10 7 10 6 8 9 5 11 3 12 4 11 7 10 5 11 3 11 5 11 1 12-4 12-2 12-4 11-2 12-2 12 0 12-1 11-6 11-6 10-9 8-11 4-12 1-12 0-12 4M186 395l-5 11-3 12-2 12-5 11-7 9-6 11-9 8-9 7-9 8-11 5-11 6-9 8-6 10-5 11M-14 277l-12-3-10-5-10-6-10-8-8-9-8-8-10-8-8-8-8-10-3-11-8-9-10-7-11-6-10-5-11-5-12 0-12 2-11 4-9 8-7 10-5 11M84 141l-3 12-7 10-6 10-4 11-1 12-1 12 2 12-2 12 1 12 5 11 6 10 4 11 5 11 6 11 6 10 10 7 10 7 8 8 11 6 9 8 12 3 11 4 12 1 12 3 11-1 12-5M370 258l5 11 4 11 2 12 3 12 6 10 9 8 5 11 6 10 6 11 5 11 8 9 6 10 4 12 8 9 9 7 10 7 8 9 10 7M231 162l-6 11-8 8-10 7-11 6-12-2-11 2-12 1-12 3-9 7-7 10-7 10-7 10-5 11-6 10-5 11-6 11-7 9-8 9-10 6-12 3-12 2-11 5-11 3-12 0M10 245l-12 4-12 2-12-1-12 1-12-2-11-2-12 1-11 4-11 5-12 0-12-1-12-3-11-4-12 0M66 199l12 1 12-1 12-2 12-3 12-2 11-3 12-1 12 1 12 4 10 6 10 7 10 5 10 7 11 4 12 3 11 5 12 1 12-2 11-5 11-4 10-7 10-6 11-6 11-1 12 5 11 2M273 145l-4-11-4-12-6-10-1-12 0-12-2-12 1-12 2-12-1-12-2-12 0-12-1-12 1-12 1-12 3-11 3-12 7-10 8-8 11-6 10-6 10-7 9-8 10-7 9-8M211 416l-3-12-1-12 1-12 6-10 2-12 7-10 11-6 9-7 11-5 9-8 12-1 12 1 12 1 12 0 12-1 12 2 11 2M12 263l-8-8-11-6-7-10-1-12-4-11-5-11-8-9-7-10-8-9-5-11-5-11-6-10-4-11-5-11M97 117l5-11 6-11 3-11 7-10 8-9 7-9 7-10 4-11 5-12 1-11 4-12 2-12 7-10 5-10 5-11 7-10 7-10M265 47l-3-11-4-12-2-12-3-11-2-12-5-11-6-10-1-12 2-12 4-11 5-11 5-11 2-12-1-12M180 296l-6-27-5-25-6-27-5-22-3-27M177 318l8 22 16 16 22 8 27 3M229 201l21-17 22-16 27-22M327 248l-11 24-17 27-16 33-11 32-5 39"/>
<path stroke-opacity="0.05" stroke-width="3" d="M106 60l7-9M106 60l12 2 12 1M106 60l6 11M106 60l-6 11M106 60l-6-10-2-12M109 99l12 0 12 2 7 9M109 99l1 12 2 11M109 99l-11 6-8 9-4 11M109 99l-11-6M194 5l3 12M194 5l-2 12M194 5l-12-3-11 1M194 5l-6-10-4-11M194 5l7-10 1-11 8-9M194 5l11 4M206 72l-12 0-12 2M206 72l9-7 9-8 10-7M206 72l9 8M206 72l-4 12M291 66l-11 4-12-3-9-8M291 66l-11-5M291 66l5-11 8-9M291 66l11-4M291 66l12 1 12 1M291 66l-8 9-10 7M300 70l-4-11-5-11-5-11M300 70l4-11 1-12 4-11M300 70l2 12M300 70l-10 8M362 81l-3-11-1-12M362 81l11 2M362 81l-12-3-10-6-7-10M147 158l12-1M147 158l2 11M147 158l-12 0M147 158l-3-12-2-12-1-12M147 158l11-6 9-7 10-7M154 198l-11 4M154 198l-12-1-12-2M154 198l1-12 4-11M154 198l12-3M154 198l5 11M388 210l10-7 12-2 11-3M388 210l7 10 4 11M388 210l0 12 3 11M388 210l-11 5-11 4M388 210l-3-12M327 248l12-1 11-3M327 248l-12 3M327 248l-3-12-2-12M15 276l9 7 12-2 11-6M15 276l-10 7-11 4M15 276l1-12-1-12 3-12M165 273l9 7 10 7M165 273l-3 12M165 273l-12-2M165 273l1-12 2-12M220 276l-1 12 7 10M220 276l-7-9M220 276l5-11 6-10M220 276l9-8M220 276l-6 10M179 305l-11-4-11 1-12-2M179 305l1-12-8-8M179 305l12-2 12-3M179 305l12 4 10 6M179 305l-3 12-7 10-5 11M179 305l-12 1-11 3M50 302l1 12M50 302l-12 0M50 302l-12 1-11 4M50 302l-8-8M50 302l11-5M50 302l11 5M124 370l7-9M124 370l6 10 9 9 9 8M124 370l5 11 8 9M124 370l-11 5-8 9M124 370l-8-9-7-10M253 395l5 11M253 395l-11 5M253 395l-2-12-4-11M376 382l-11 4-9 8-11 4M376 382l-10-5-11-7M376 382l8-9M376 382l11-6M376 382l12 0 12-3 12-1M376 382l2 12 5 11M394 264l-10-6M394 264l4-11 2-12M394 264l11 3M394 264l10 7M394 264l2 12M167 258l10-7M167 258l9 8M167 258l-12-1M16 406l-11-5-12-4-11-4-12 0-11-4-11 4-12 1-12-1-12 1-12 1-12 2-12-2-11-3-12-4-11-5-12-1-11 3-12 4M336 283l-11 5-9 7-9 8-10 7-10 7-8 9-5 11-3 11-4 12-7 10-7 9-5 11-9 7-11 6-6 10-8 10-9 7-11 4-11 7-7 9-8 9-9 9-9 7-10 6-9 8-9 8-9 8-8 10-10 5M180 293l8-30 11-27 16-25 14-10M177 313l-14 19-16 19-16 16-17 19"/>
<path stroke-opacity="0.05" stroke-width="4" d="M180 299l5-27 8-28 14-27 16-27 16-22 17-19"/>
<path stroke-opacity="0.10" stroke-width="2" d="M229 201l21-17 22-16 27-22M327 248l-11 24-17 27-16 33-11 32-5 39"/>
<path stroke-opacity="0.15" stroke-width="2" d="M180 296l-6-27-5-25-6-27-5-22-3-27M177 318l8 22 16 16 22 8 27 3"/>
<path stroke-opacity="0.20" stroke-width="3" d="M180 293l8-30 11-27 16-25 14-10M177 313l-14 19-16 19-16 16-17 19"/>
<path stroke-opacity="0.20" stroke-width="4" d="M180 299l5-27 8-28 14-27 16-27 16-22 17-19"/>
</g>
<circle cx="398.3" cy="420.2" r="2.2" fill="url(#cg)" opacity="0.45"/>
<ellipse cx="399.2" cy="431.8" rx="3" ry="1.8" transform="rotate(-30 399.2 431.8)" fill="url(#cg)" opacity="0.70"/>
<ellipse cx="425.2" cy="403.5" rx="2.8" ry="1.9" transform="rotate(0 425.2 403.5)" fill="url(#cg)" opacity="0.85"/>
<ellipse cx="428.7" cy="423.8" rx="4.1" ry="1.6" transform="rotate(0 428.7 423.8)" fill="url(#cg)" opacity="0.35"/>
<circle cx="454.8" cy="421.9" r="2.4" fill="url(#cg)" opacity="0.60"/>
<circle cx="457.5" cy="423.3" r="2.2" fill="url(#cg)" opacity="0.50"/>
<circle cx="410.8" cy="449.8" r="2.1" fill="url(#cg)" opacity="0.45"/>
<circle cx="413" cy="462" r="2.5" fill="url(#cg)" opacity="0.25"/>
<circle cx="436" cy="463.3" r="3.9" fill="url(#cg)" opacity="0.35"/>
<circle cx="484.3" cy="465.7" r="2.2" fill="url(#cg)" opacity="0.50"/>
<ellipse cx="465.7" cy="477.2" rx="3.2" ry="1.4" transform="rotate(80 465.7 477.2)" fill="url(#cg)" opacity="0.95"/>
<circle cx="370.5" cy="485.8" r="3.3" fill="url(#cg)" opacity="0.50"/>
<circle cx="416.2" cy="484.9" r="2.3" fill="url(#cg)" opacity="0.45"/>
<circle cx="433.2" cy="485.8" r="2.2" fill="url(#cg)" opacity="0.30"/>
<ellipse cx="420.7" cy="494.8" rx="4.7" ry="2.6" transform="rotate(70 420.7 494.8)" fill="url(#cg)" opacity="0.95"/>
<circle cx="381.3" cy="493.9" r="2.2" fill="url(#cg)" opacity="0.30"/>
<ellipse cx="403.7" cy="514.5" rx="2.5" ry="1.9" transform="rotate(0 403.7 514.5)" fill="url(#cg)" opacity="0.45"/>
<circle cx="443.1" cy="522.1" r="2.4" fill="url(#cg)" opacity="0.60"/>
<ellipse cx="480.8" cy="518.1" rx="2.5" ry="1.9" transform="rotate(90 480.8 518.1)" fill="url(#cg)" opacity="0.40"/>
</g>
<circle cx="397.7" cy="420.2" r="7" fill="none" stroke="#2a6db2" stroke-width="1.5"/>
<circle cx="412.4" cy="462" r="7" fill="none" stroke="#bf9bd1" stroke-width="1.5"/>
<circle cx="466.6" cy="477.5" r="7" fill="none" stroke="#1fb6ca" stroke-width="1.5"/>
<rect x="468" y="520.2" width="18.4" height="2.6" fill="#fff"/>
<text x="391.8" y="396.8" font-size="11.2" textLength="69.4" lengthAdjust="spacingAndGlyphs">5 Field stimuli</text>
<text x="399" y="535.5" font-size="11.2" textLength="55.5" lengthAdjust="spacingAndGlyphs">+20 frames</text>
<g clip-path="url(#c6)">
<rect x="520.0" y="401.8" width="122.0" height="121.8" fill="#252525"/>
<rect x="520" y="401.8" width="122" height="121.8" filter="url(#nzA)" opacity="0.05"/>
<g transform="translate(520 401.8) scale(0.305)" fill="none" stroke="#fff" stroke-linecap="round" stroke-linejoin="round" filter="url(#fb)">
<path stroke-opacity="0.05" stroke-width="1" d="M131 204l-12 0M108 188l-12-2-11-5M158 151l2-12 4-11M175 188l11-6M157 221l-2 12M269 178l11-5 11-3M237 211l4 12 4 11M243 222l7 10M218 206l-12 2-12 0M206 207l-10-7M198 167l-10-6-10-7M189 165l-11-5M179 171l-8 9M188 158l-10 7M176 158l-12 3M195 148l-12-2-11 2M191 137l-4-11M212 160l4 11 2 12M224 161l10-6M242 139l11-3 12 2M206 182l5 10 6 11 7 10M224 197l8 9 11 5M59 195l-2 12M57 180l4 11M47 188l-8 8M54 170l-8 8-8 9M42 167l-10-5M79 152l5-10M109 184l11 6 11 4M78 173l3 12M88 179l12 1M0 165l-12-1-12-1M54 179l12 4 11 5M66 179l11-5M38 205l-8 10-7 9-2 12M26 225l-11 6-11 3M322 202l-2-12 0-12M310 202l-12-1M352 187l12-2M345 207l3 11M357 208l12 0M242 315l-2 12-3 12M202 261l-12 0M244 234l8-9 9-7M238 260l6-10M204 293l-7 10M129 268l12 3M120 275l-4 11-3 12-2 11M142 284l11 4 12 3M100 254l-12 4M89 259l-12 4M103 230l-8-9-5-10-1-12M98 207l-5-11-2-12M110 240l9-9 10-5M109 228l-3-11M117 229l11-3 9-9 10-6M118 205l-7-9-8-9M49 326l-1 12M26 301l-12-1M3 312l-12 1-11-2M32 287l-7-9M71 290l10-5M73 308l12-2M134 294l-6-10-9-9M134 282l0-12M138 314l11 2 11 5M139 326l0 12M129 317l9 9 5 11M132 329l1 12M118 301l-4-12-5-10M106 299l-10-6M124 295l0-12M114 287l-9-7M69 317l12-3M65 306l-3-12M70 317l12-4M74 305l4-11M94 326l12-3M82 331l2 12M94 332l12 0M61 336l-12-3M50 342l-11 3M48 321l-10 8-10 6-11 3M26 331l-12 2-12-2M211 354l-10-8M216 343l6-11M218 366l11-3 11 5M229 362l12-3M194 365l-8-9M184 372l-7 10M233 328l1-12 5-11M222 322l-10-7M244 313l6-11M253 335l6 11 6 10M265 338l11 3M248 346l-3 12M259 350l10 7M227 355l-5 11M322 347l-11-5M321 335l-4-12M344 361l12 3M330 366l-1 12M333 378l2 12M297 361l-7 10-7 9-10 8M278 376l-6 10-6 10M372 254l-11-3M410 219l9-8 8-9M417 272l11 5M407 282l6 11M398 288l5 11M93 27l5 11M63 19l-11 5M89 -5l11-5M97 -13l11-6M187 244l10-7M187 272l10 6M144 254l-12-2"/>
<path stroke-opacity="0.05" stroke-width="2" d="M113 51l10-6 12-3M124 45l11-4M153 63l11-5 11-6M112 71l11-5 11-5M121 79l9 7M100 71l-10 6M97 82l3 12M98 38l-11-5-11-5-12 2-12 2M93 15l-4-11-2-12M151 145l4 11-1 12 1 12M112 122l10 6 9 8 12 4M127 140l7 10 8 9M89 161l3 11 3 12-2 12M98 93l0-12-2-12M87 88l-11-2M197 17l-9 8-9 8M203 27l3 12M190 29l-6 11M148 11l-8 9-9 8M184 -16l-8-9-2-12-1-12 0-12M179 -39l-6-11-2-12M233 -53l3-11 2-12 0-12M205 9l10-8M217 14l9 7M161 62l-11-4-9-8M234 50l5-11 11-6 11 1 12-1M265 37l11-6 10-6 12-4M223 89l3 11M202 84l-8 8-9 8M195 93l-4 11M242 27l-5-10-8-9-8-10M272 52l-8-8M304 46l1-12-3-12-4-11M318 27l10-7 8-9M302 62l4-12-2-12M313 56l11-5M339 67l12 0 12 1M273 82l-12-2-11-4-10-8-10-5M259 101l-9 8-10 6M286 37l-10-6-12-2-10-6-11-6M267 9l-10-7-10-7-10-5M306 0l0-12-1-12-6-10M302 82l-2 12-4 12M301 94l-1 12M290 78l-12-2-12 0M284 88l-8 9M370 37l7-10 3-12M373 83l11-5M385 81l12-3M333 62l-12 0-12 2-12 2-9 8-8 9M299 54l-12-2-12 2-11 4M171 159l12 3M149 169l3 12M159 176l9 8M123 159l-11 5M141 122l6-10 5-11 10-7 8-8M158 91l10-7 7-9 8-9M177 138l12 1 11-5 12 1 11 5M211 126l11-5 11-3 12 1M143 202l-12 0-11-4M143 202l-12 2M130 195l-11 3-10 8-9 7M130 195l-10-6-12-1M159 175l3-12 6-10 10-8M159 175l1-12-2-12M166 195l9-7M159 209l-10 7-8 9M159 209l-2 12M252 195l10-7 7-10M237 211l6 11M218 206l-12 1M217 182l-9-9-10-6M200 159l-11 6M189 165l-10 6M200 159l-12-1M188 158l-12 0M200 159l-5-11M195 148l-4-11M200 159l12 1M212 160l12 1M200 159l12-2 12-2M224 155l8-9 10-7M200 159l5 11 1 12M206 182l8 8 10 7M66 172l-5 12M61 184l-2 11M66 172l-9 8M57 180l-10 8M66 172l-12-2M54 170l-12-3M66 172l6-10M72 162l7-10M66 172l11-3 12 1M89 170l10 8 10 6M66 172l12 1M78 173l10 6M42 183l-10-7-9-8M23 168l-12 0-11-3M42 183l12-4M54 179l12 0M42 183l1 11-5 11M38 205l-3 12-9 8M334 202l-12 0M322 202l-12 0M334 202l7-10M341 192l11-5M334 202l11 5M345 207l12 1M421 198l12 0 12-2 12-4 11-3M452 180l7-10 2-12-6-10M399 231l11 5 12 3 12-2 11 3M408 252l-1 12 1 12M391 233l7 10 7 10 9 8M397 256l-4 12-3 11M366 219l-12-3-9-8-10-8-6-10M345 230l-10 6-12 1M385 198l-9-8-3-11M382 187l-3-12M370 231l11-6 10-7M315 251l-7-10-8-9M303 251l-9 7M309 204l-7-9-4-12M47 275l12 3 12-1 12 1 11 2M82 270l11-1 12 3 12-1M-29 280l-11-4-11-4M18 240l12-2 11 2 12-1 12 5 10 6M25 205l7-10 9-8 12 1M184 287l12 1 10 6 8 8M206 295l12 4 11 4M162 285l5 10M165 296l4 12M153 271l-7 10-7 10M141 268l-12-2M168 249l-9-8-11-3-12 0M163 226l5-11 7-10M226 298l9 8 7 9M213 267l6-11 5-11M213 267l-11-6M231 255l5-11 8-10M229 268l6-10M229 268l9-8M214 286l5 11 5 11M214 286l-10 7M115 319l-11 4-12 1-10 7M172 285l3-12 0-12 5-11M168 261l-1-12 0-12M203 300l8-9 12-1 12-2M223 287l9-8 11-5M201 315l11 4 12-2 12-1M221 329l11 4 11 5M144 367l-8 9-10 6-12 5M156 309l3 12 0 12-2 12-2 11M135 320l-12 5-11 4M112 252l9 8M121 260l8 8M112 252l4 11 4 12M120 275l10 7 12 2M112 252l-12 2M100 254l-11 5M112 252l-6-10-3-12M103 230l-1-12-4-11M112 252l-2-12M110 240l-1-12M112 252l3-11 2-12M117 229l3-12-2-12M51 314l11 5M51 314l-2 12M38 302l-12-1M27 307l-12 1-12 4M42 294l-10-7M61 297l10-7M61 307l1 12 7 10M61 307l12 1M129 305l5-11M134 294l0-12M129 305l9 9M138 314l1 12M129 305l0 12M129 317l3 12M129 305l-11-4M118 301l-12-2M129 305l-5-10M124 295l-10-8M70 329l-1-12M69 317l-4-11M70 329l0-12M70 317l4-12M70 329l12-1M82 328l12-2M70 329l12 2M82 331l12 1M70 329l-9 7M61 336l-11 6M70 329l-11-2-11-6M48 321l-11 5-11 5M131 361l12-3 9-8M134 349l7-9M148 397l6 10 10 6 11 5 12 4 11 4M178 416l9 8 9 8 9 7M137 390l-3 12-6 10-6 10-10 8M155 406l10 6 9 8M105 384l0 12 3 11 5 11 3 12M84 397l-11 5-10 6M109 351l5-11 2-12 3-12M99 330l-5-11-2-12M206 364l5-10M211 354l5-11M206 364l12 2M218 366l11-4M206 364l-12 1M194 365l-10 7M241 336l-8-8M233 328l-11-6M241 336l-1-12M240 324l4-11M241 336l12-1M253 335l12 3M241 336l7 10M248 346l11 4M241 336l-9 8M232 344l-5 11M258 406l-7 10M258 418l4 11M242 400l-11-7-9-7M230 398l-11-5M247 372l6-10 1-12-5-11-7-10M245 349l1-12-2-12M321 358l1-11M322 347l-1-12M321 358l12 1M333 359l11 2M321 358l9 8M330 366l3 12M321 358l-12 1-12 2M297 361l-11 6-8 9M310 408l-12 0-9-7-6-11M336 356l-10-6-12 0M392 363l9-6M387 376l7-9 2-12M395 368l11-6M412 378l10 7 11 4 12 0 11-4M447 388l11-4 11-1 12 0M401 418l11 6 9 8M384 258l-4-12 2-12M384 258l-12-4M400 241l-6-10-4-11-3-12M400 241l5-11 5-11M405 267l12 5M404 271l3 11M396 276l-3 11-3 12M396 276l2 12M82 5l7 10M89 15l4 12M82 5l-10 7M72 12l-9 7M82 5l7-10M89 -5l8-8M177 251l10 6M177 251l10-7M176 266l11 6M155 257l-11-3M217 105l10-7 12-4 11-4 11-4 11-4 11-6 11-3 12-3 12-1 10-7 11-2 12 2 11 5 11 6 9 7 3 12M0 317l11 5 11 2 10 6 9 9 10 7 12 1 12 3 11 3 12 2 11 5 10 7 10 5 12 2 12 2 12 2 11 4 11 6 10 7 9 7 6 11 5 11M212 335l5 11 5 11 3 12 6 10 3 12 0 12 0 12 1 12 0 12 0 12-2 12-1 12 3 11 2 12-2 12-2 12M98 248l-9-8-8-9-8-10-5-11-3-11-5-11 2-12-2-12M166 98l12 0 12-2 11-4 11-6 9-7 11-6 11-4 12-3 11-4 12-2 10-5 12-4 12-2 11-4 10-6 11-5 10-6 9-9 9-8 6-10 7-10 10-7 9-7 11-5 9-8 10-7 9-8 9-8M-16 251l-10 7-10 7-10 7-11 5-11 4-12 3-9 7-10 7-10 6-10 7-11 3M418 272l10-6 6-11 2-12 2-11 4-12 6-10 4-12 7-9 8-9 7-10 8-9 10-6 10-7 8-9 6-10 7-10 8-9 7-9 8-10 5-11 5-11 2-11M188 121l-8-9-8-9-8-9-4-11-5-11-4-12-1-12 0-12 4-11 4-11 3-12 4-11 1-12-2-12 1-12-4-12 0-11 0-12 3-12 6-11 7-9 10-7 11-6 10-6 11-3 11-5M1 71l-4-11-6-10-5-12-3-11-2-12-2-12-2-12-5-11-7-10-5-10-2-12 1-12 1-12-4-11-4-12-3-11-9-8-7-10-5-11-6-10-5-11M329 92l0-12 1-12-1-12-2-12-1-12-1-12 1-12 0-12-1-12 2-11 6-11 6-10 7-10 4-12 1-11 1-12 1-12 1-12-2-12-2-12-6-10-9-8-10-7-9-7-10-7-11-5-11-5-11-5-10-7M216 231l0 12 1 11 1 12-1 12-3 12 4 11 7 10 3 12 8 9 6 10 8 9 9 8 9 8 12 4 11 4 9 8 11 4 12 2 11 5 10 6 11 6 8 8 11 5M56 163l-4-12-3-11-10-8-8-8-6-11-5-11-6-10-6-11-5-10-9-9-5-11-6-10-7-10M105 286l-9-8-11-4-11-4-9-8-10-7-9-8-8-9-7-10-7-10M221 350l11 5 12-1 12 0 12 0 11-6 12 1 12 1 12 0 12 0 12 0 12 0 11-4 11-5 11-3 12-2 12 0 12-2 12-3 11-3 12-4M391 367l10-7 7-10 7-10 6-10 3-12 1-12 4-11 7-10 8-8 11-6 10-6 10-6 9-8 8-10 10-6 11-5 12-3 11 4 8 9 10 7 8 9 9 8M376 74l-2 12-4 11-6 11-3 11 0 12 1 12-4 11-2 12 1 12-5 11-2 12 1 12 1 12 3 11 5 11 2 12 1 12 1 12 6 11 3 12 3 11 2 12 0 12 0 12-1 12-2 12 0 12 3 11 6 11M47 171l-12 1-12 1-12 0-12 4-11 5-11-3-12-2-10-7-9-8-4-11M286 408l9-8 8-9 8-9 7-10 5-11 1-12 1-12-5-11-3-11-1-12-1-12 0-12-5-11-5-11-3-12-1-12 1-12 1-12 6-10 7-10 8-8 10-6 10-8 6-10 9-9 6-10 4-11 6-10M118 394l8 9 6 10 10 7 12 1 12-2 12 0 11 4 12-2 11-6 11-4 11-4 12-3 12-1M14 213l11-6 12-3 11 2 12 4 11 4 12 1 12 3 11 2 12 3 11 6 11 4 12 0 12 1 12-2 10-6 10-7 11-6 10-6 11-5 8-9 9-8 11-4 11-4 11-6 10-7 11-3 12-4M302 81l-12 1-12-1-12 3-10 5-11 5-11 5-12 2-11 5-10 7-10 6-10 8-9 8-10 6-11 3-10 8-11 5-11 4-11 3-12 3-12 0-12-1M135 308l-11-6-11-5-12 1-10 7-11 5-10 6-10 7-5 11-2 12 0 12 1 12M369 356l-12 1-12 4-12 1-12 0-11 3-12 4-10 6-11 6-11 3-11 4M154 -16l12 0 12 2 10 6 8 9 8 9 9 8 11 4 11 6 9 7 9 9 8 9 7 10 7 9 10 7 11 3 12 2 12-1 11-6 11-6 8-8M27 134l3 12-4 11-5 11-5 11-4 11-5 11-7 10-7 10-5 10 0 12-1 12-4 12-5 11-2 12-1 12 0 12-2 11-2 12-4 11-5 12-3 11M326 250l-12 1-12-2-12-2-11-2-12-4-11 4-11 6-11 4-11-4-12-2-9-8-8-9-6-10M122 126l-7-10-9-7-12-4-12-1-11-4-12-2-11 5-10 7-10 6-9 8-9 8-6 10-3 12-1 12 2 11 2 12 0 12 0 12-6 10-4 12-7 10-8 9-10 7-10 5-7 10M376 242l1 12 0 12-3 12-2 11-1 12 1 12 4 12 6 10 3 12 1 12 1 12 2 11 1 12 1 12 3 12 4 11 2 12 3 12 2 12 6 10 8 9 10 7 8 9 10 7 10 5 11 6 11 5M337 340l-9-9-6-10-5-11-5-10 0-12 0-12 0-12 3-12 5-11 3-12 5-11 9-8 9-7 10-7 9-8 7-10 10-7 9-8 10-7 11-4M85 244l-12 2-11 5-11 4-11 5-11 4-11 6-11 5-11 3-11 6-9 7-8 9-7 10-6 10-9 8-10 7-10 7-9 8-7 9-8 10M380 331l7-9 9-9 11-3 10-8 8-8 9-8 9-8 9-8M-6 238l-8-8-9-8-11-7-11-3-10-7-6-11-6-10-2-12-4-11-3-12 0-12 1-12 3-11-4-12-3-11M136 279l-4-12-2-12 1-12 2-11 2-12 0-12-1-12-4-12-5-10-7-10-10-7-11-3-12-1-12-2-11-6-10-6-11-5-11-5-9-8-9-8-9-8-10-7-8-8-7-10-8-9M286 209l4 11 1 12-3 11-4 12-3 11-1 12-3 12-1 12-4 11-3 12M250 237l3-11 5-11 2-12 3-12 7-9 8-9 8-9 9-8 11-4 11-5 11-6 10-6 11-5 11-3 12-1M12 167l-8 9-11 6-11 4-11 5-10 7-10 6-10 7-9 8-10 7-12 2-11 4-11 6-10 6-9 8-10 6-10 6-11 5-9 9M10 393l-2 12-2 12-1 12 1 12-1 12 0 12-2 12 1 12-3 11-3 12M215 87l-12 1-12 4-12 1-12 1-11-3-12-1-12 3-12-3-12 1-11-2-12 1-12-2M70 72l11 3 11 5 8 9 8 9 10 6 6 10 7 10 5 11 5 11 4 12 4 11 4 11 8 9 8 8 10 7 8 9M184 215l-11-5-8-9-9-9-9-7-11-5-11-5-11-5-12-2-12 0-12-2M362 344l4-11 5-12 5-10 3-12 3-11 6-11 7-10 4-11 2-12 5-11 1-12-1-11 2-12 1-12-2-12M318 349l-12 1-11 3-12 0-12-2-12-4-10-6-12-3-11-5-9-7-8-9-11-6-11-2-12-1-12-2-12-1-12-2-12 1-12-1-12 1M364 141l-1-12-1-12 1-12 4-12 7-10 7-9 2-12 1-12-1-12-3-12 3-11 6-11 3-11 6-10 6-11 2-12 5-11 3-11 4-12 10-7 7-10 9-8 8-8 6-11 6-10 6-11 7-10M317 109l5 11 4 12 2 11-1 12-1 12 1 12 5 11 1 12 3 12 5 11 10 7 8 8 11 6 11 5 10 6 8 9 9 8 12 3 10 6 11 5 11 5 11 4 9 8 8 9 10 7M267 167l8 9 4 11-1 12-1 12-1 12-5 11-5 11-7 10-6 10-4 11 0 12 0 12M18 251l-5 11-6 10-8 9-7 10 0 12-2 11-3 12-8 9-8 9-9 8-7 10-6 10-7 10-3 12 1 12-2 11 3 12 7 10 8 9 9 8 9 8 6 10 7 10 4 11 6 11 6 10 8 10M84 322l10 6 10 6 10 7 9 8 9 7 10 7 10 7 7 10 8 9 8 9 10 6M19 104l-12-2-12-3-12 1-11-2-12-2-12-1-11-6-10-6-12-3-10-6-10-6-12 1-12 0-12 0M328 -11l7 10 5 11 5 10 1 12-1 12 1 12-1 12 2 12M379 183l8 9 7 9 5 11 4 12 2 12 4 11 6 10 2 12 0 12 4 11 3 12 2 12 3 11 1 12 4 12 0 12 0 12 0 12 4 11M30 148l10 7 9 7 9 8 4 12-1 11 1 12-1 12 0 12-4 12-2 11-3 12-6 10-8 9-10 7-9 8-6 10-4 12-6 10-4 12-7 9M353 316l-4-11-3-12-6-10-8-9-9-7-8-10-7-9-7-10-7-10-3-12-6-10-2-12 2-12 4-11 5-11 3-12 4-11 2-12 2-12-1-12M272 351l-5 11-11 6-8 9-9 8-8 9-9 8-10 6-8 10-6 9-8 10-8 8-10 7M157 20l-1-11 1-12-3-12-1-12-1-12-1-12-3-11-2-12-5-11-9-9-5-10-8-10-5-10-7-10-7-10-6-10-4-11-3-12-4-11-6-11M213 19l6-10 9-9 7-9 5-11 6-11 8-9 4-11-2-12-1-12-1-12-2-12-1-12-2-11-4-12-3-12 1-12M281 374l10 7 10 7 10 6 10 5 12 3 11 4 12 3 12 3 11 2 12-1 12 0 12-1 12-1 12 0 11 4 12 4 10 6 8 10 8 9M376 20l1-12-7-10-4-11-3-12 4-11 3-12 1-12 2-12-2-12-5-10-4-12-7-9-10-8-7-9-6-11-9-8-5-11-5-10-7-11-5-10-6-11-3-11-1-12-4-12-5-11-3-11-5-11M347 35l-9-8-9-8-11-5-10-6-8-9-8-9-9-8-5-11-5-11-1-12M187 342l12 1 12-1 12-2 12-2 12-1 11-4 10-7 9-7 11-5 9-8M344 11l10 6 10 6 10 7 7 10 8 9 5 11 7 9 3 12 0 12M361 354l-10 7-8 9-9 8-10 7-10 6-10 6-12 5-11 3-12 2-12 2-12-2-12 2-11 3-12 2-11-6-12-3-11-5-11-3-12-3-12-2-10-6M349 136l11-5 11-4 12-3 11-4 12-3 11-4 12 0 12 3 12 1 12 0 11-5 9-7 12-4 11-2 12 2 11 4 11 7 8 8 10 8 9 8 6 10 6 10 8 9 9 8M298 413l1 12-2 11-4 12-6 10-9 9-8 8-6 11-6 10-7 10-6 10-7 10-3 12-4 11M326 80l-2-12-7-10-8-8-8-9-8-9-9-8-11-6-11-5-11-5-9-7-8-9-9-9-8-8-8-10-9-7-10-7-9-8-7-9-9-8-10-7-12-4-9-7-10-8-11-4-12 1-12 0-11-3-12-2M286 369l-7-10-5-11-6-11-4-11-3-12-3-11-1-12-3-12 0-12-2-12-6-10-3-12-7-10-8-9-8-9-6-10-6-10-7-10-10-7M254 317l7-10 7-9 4-12 6-10 8-9 5-11 2-12 2-12 4-11 7-10 5-11 5-11 4-11 6-11 4-11 9-7M414 0l8-9 9-8 8-9 6-10 9-8 10-7 12-2 11 4 11 4 11 6 9 7 11 6 12 1 10 6 11 5 12 4 9 8 8 8 7 10 6 11 8 8 9 8 9 8 11 6 8 8M41 166l-4-11-4-11 2-12 0-12-2-12-2-12-4-11-5-11-3-11-3-12-6-10-8-10-8-8-11-4-11-6M150 276l11 4 11 5 12 3 11 4 12 3 11 5 10 6 11 4 12 1 12 2 11 4 11 5 9 8 8 9 5 11 8 8 10 8 9 7 9 9 9 7 10 7 12 2 11 4 11 6 10 5 11 5M310 -3l0 12-1 12 0 12 0 12 3 11 1 12 0 12 6 11 9 8 8 9 5 11 7 10 6 10 3 11 1 12 2 12 0 12-1 12 0 12M382 405l7-10 4-11-1-12-1-12-1-12 1-12-2-12-6-10-9-8-1-12-4-11-6-11-4-11-3-12-4-11-10-6-10-7-10-6-9-8-9-8-8-9-11-5-10-5-12-5-11-3-11-4-11-5M353 122l1-12 2-12 3-11 3-12 4-11 8-9 7-10 6-10 5-11M414 309l-6-10-7-10-11-5-12-4-11-2-12-3-10-8-8-8-8-9-7-9-8-9-7-10-6-11-7-9M177 202l7 9 7 10 2 12 7 9 10 7 10 6 8 9 5 11 3 12 4 11 7 10 5 11 3 11 5 11 1 12-4 12-2 12-4 11-2 12-2 12 0 12-1 11-6 11-6 10-9 8-11 4-12 1-12 0-12 4M194 26l-12-3-12 2-12-1-12 0-11-4-10-7-11-5-10-6-11-5-10-7-10-6-8-9-7-10-8-9-5-11-3-12-1-12-3-11 1-12-1-12 3-12 5-11 0-12 1-12M256 228l-8 9-10 7-8 9-5 11-1 12-2 11-1 12-1 12 2 12 4 11 0 12 5 12 3 11 0 12M112 160l-12-3-11-4-12-1-11-5-12-1-11-4-12-4-10-5M133 128l-10 6-11 6-10 5-10 7-10 7-8 9-10 6-12 4-10 5-11 7-11 4-11 3-12 1-12 0-12 2-12 2-10 7-4 11-4 11M186 395l-5 11-3 12-2 12-5 11-7 9-6 11-9 8-9 7-9 8-11 5-11 6-9 8-6 10-5 11M230 353l-9 8-8 8-8 9-7 10-4 11-2 12-7 10-5 11-8 9-8 8-10 7-11 4-11 6-11 4-11 4-12-4M-14 277l-12-3-10-5-10-6-10-8-8-9-8-8-10-8-8-8-8-10-3-11-8-9-10-7-11-6-10-5-11-5-12 0-12 2-11 4-9 8-7 10-5 11M110 185l11-5 10-6 10-8 9-7 10-7 8-9 9-7 11-6 11-4M209 246l-4 12-8 9-8 9-7 10-7 9-8 9-11 5-11 6-9 7-10 6-12 2-12 3-12-1-12-1-12-1-10-6-10-7-8-9-4-11-5-11-10-7-8-8M84 141l-3 12-7 10-6 10-4 11-1 12-1 12 2 12-2 12 1 12 5 11 6 10 4 11 5 11 6 11 6 10 10 7 10 7 8 8 11 6 9 8 12 3 11 4 12 1 12 3 11-1 12-5M99 236l-4-11-2-12-2-12-1-12-6-11-8-8-4-12-7-9-5-11-4-11-6-11 2-12 0-12 4-11 3-12 3-12M370 258l5 11 4 11 2 12 3 12 6 10 9 8 5 11 6 10 6 11 5 11 8 9 6 10 4 12 8 9 9 7 10 7 8 9 10 7M231 162l-6 11-8 8-10 7-11 6-12-2-11 2-12 1-12 3-9 7-7 10-7 10-7 10-5 11-6 10-5 11-6 11-7 9-8 9-10 6-12 3-12 2-11 5-11 3-12 0M10 245l-12 4-12 2-12-1-12 1-12-2-11-2-12 1-11 4-11 5-12 0-12-1-12-3-11-4-12 0M382 240l-2-11 0-12 1-12 5-11 0-12 2-12 4-12 6-10 3-11 7-11 6-10 10-7 9-8 9-8 9-8 10-6 8-9 8-9 5-11 4-11 3-12M262 333l0-12-5-11-2-12-6-10 1-12 1-12-4-12-1-12-3-11-3-12 2-12 5-11 0-12 0-12-1-12 0-12-2-12-2-11 2-12 1-12 4-12M66 199l12 1 12-1 12-2 12-3 12-2 11-3 12-1 12 1 12 4 10 6 10 7 10 5 10 7 11 4 12 3 11 5 12 1 12-2 11-5 11-4 10-7 10-6 11-6 11-1 12 5 11 2M399 321l-5-11-8-9-7-10-7-10-8-9-9-8-10-7-9-8-9-7M364 135l-10 7-12 3-12 0-11 6-11 2-12 1-12-2-12-2-12-2-12 0-12 2-11 4-12 4-11 4-11 3-12 4-9 7-9 8-8 9M412 368l11 6 11 3 12 1 12 0 12 0 12 1 12 0 12-2 10-5 12-3 11-5 9-8 11-4 12-2 11-4 12-5 10-6 9-8 12-4 11-4 11-2M164 125l2-12 4-11 3-12 9-8 9-8 5-11 1-12 2-12 6-10 8-9 7-10 5-10 1-12 4-12-1-12 1-12 3-11 5-12 6-9 11-6 9-8 12-3 9-8 8-9 7-9 8-10M273 145l-4-11-4-12-6-10-1-12 0-12-2-12 1-12 2-12-1-12-2-12 0-12-1-12 1-12 1-12 3-11 3-12 7-10 8-8 11-6 10-6 10-7 9-8 10-7 9-8M243 243l11 5 8 9 6 10 9 8 11 6 11 4 12 2 11-4 11-6M211 416l-3-12-1-12 1-12 6-10 2-12 7-10 11-6 9-7 11-5 9-8 12-1 12 1 12 1 12 0 12-1 12 2 11 2M97 -2l-8 8-9 9-7 9-9 9-5 10-8 9-8 9-11 6-11 5-10 5M234 281l12-2 11 4 12 4 12-1 11-5 12-1 12-1 12 2 12 1 12 1 11-5 11-2 12 2 12 0 12-2 12-2 12-3 10-6M356 234l-11-2-12-1-12 2-12 3-11 5-12 0-11 3-12 3-12 1-12 2-12-3-11-4M366 168l11-6 8-8 10-7 7-10 7-10 6-10 7-9 8-10 6-10 5-11 4-11 4-12 1-12-1-12-1-12-7-9-6-11-4-11-5-11-6-10-6-11-7-10M87 272l-5-11-6-10 1-12-3-12-2-12 2-12 1-12 4-11 4-11 5-11 6-11 5-10 3-12 5-11 4-11 5-11 8-9 9-7 8-10 5-10 3-12 1-12-1-12 1-12 4-11 4-11 0-12-1-12 0-12M12 263l-8-8-11-6-7-10-1-12-4-11-5-11-8-9-7-10-8-9-5-11-5-11-6-10-4-11-5-11M97 117l5-11 6-11 3-11 7-10 8-9 7-9 7-10 4-11 5-12 1-11 4-12 2-12 7-10 5-10 5-11 7-10 7-10M265 47l-3-11-4-12-2-12-3-11-2-12-5-11-6-10-1-12 2-12 4-11 5-11 5-11 2-12-1-12M180 296l-6-27-5-25-6-27-5-22-3-27M177 318l8 22 16 16 22 8 27 3M229 201l21-17 22-16 27-22M327 248l-11 24-17 27-16 33-11 32-5 39"/>
<path stroke-opacity="0.05" stroke-width="3" d="M364 184l12 0 12-4 12-1 11-3 12-4 10-5 9-8 10-7 5-11 7-10 6-10 5-11 7-10 8-9 5-11 7-9 7-10 6-10 6-11 8-9 10-7 11-5 11-3 10-7M419 417l5-11 5-11 5-10 7-11 8-8 9-8 7-10 5-11 8-9 11-5 12-2 12 1 12 1 10 7 10 6 11 4 12 3 10 7 11 5 9 7 12 4 12 0 12 2 11 4 10 7 10 7 10 6 11 6 11 2M253 171l9 7 10 7 11 6 9 7 10 8 11 4 8 9 7 10 5 11 4 11 1 12 1 12-1 12-3 12-1 11-4 12-5 11-3 11-2 12M60 289l-4-11-6-10-5-11-2-12 0-12-1-12-1-12 0-12 0-12-5-11-4-11M216 348l11-4 11-6 11-4 10-7 9-7 10-7 8-9 3-12 6-10 6-11 4-11 8-9 11-4 11-5 12-3 11 4 12 2M224 371l-12-1-12-1-12 1-11-3-12-4-10-6-11-5-11-5-10-7M381 402l-9-7-9-9-7-9-7-10-7-10-4-11-8-9-9-9-7-9-7-10-5-11M16 406l-11-5-12-4-11-4-12 0-11-4-11 4-12 1-12-1-12 1-12 1-12 2-12-2-11-3-12-4-11-5-12-1-11 3-12 4M46 33l11-6 10-6 9-8 7-10 10-6 9-8 9-8 11-5 11-5 10-7 6-10 5-11 5-11 7-10 4-11 5-11 5-11M400 20l-10-7-10-7-11-4-11-5-11-4-12-3-11-4-12-2-12-3-12-1-11-5-11-4-11-5-10-7-9-8-8-9-10-6-10-6-11-5-12 2-12 2-12 2-10 7-10 6-9 8-7 10M-16 408l-6 10-6 10-3 12 0 12-2 12 3 12 0 12-1 12-6 10-2 12-4 11-3 12-3 11 0 12-2 12-4 11-1 12 3 12 2 12M336 283l-11 5-9 7-9 8-10 7-10 7-8 9-5 11-3 11-4 12-7 10-7 9-5 11-9 7-11 6-6 10-8 10-9 7-11 4-11 7-7 9-8 9-9 9-9 7-10 6-9 8-9 8-9 8-8 10-10 5M362 382l-12-2-11-4-12-1-11-6-10-5-12-4-10-5-9-8-10-7-11-6"/>
<path stroke-opacity="0.10" stroke-width="2" d="M113 51l11-6M130 63l12 2 11-2M112 71l9 8M100 71l-3 11M98 38l-4-11-1-12M140 110l5 11 2 12 4 12M112 122l6 11 9 7M86 125l0 12 2 12 1 12M98 93l-11-5M197 17l6 10M192 17l-2 12M171 3l-12 2-11 6M184 -16l-1-12-4-11M210 -25l5-11 9-9 9-8M205 9l12 5M182 74l-11-4-10-8M234 50l8-9 12 0 11-4M215 80l8 9M202 84l-7 9M259 59l-8-9-4-12-5-11M280 61l-8-9M304 46l6-10 8-9M302 62l11-6M315 68l12 1 12-2M273 82l-5 10-9 9M286 37l-4-11-5-11-10-6M309 36l1-12-3-12-1-12M302 82l-1 12M290 78l-6 10M358 58l5-11 7-10M373 83l12-2M333 62l-10-6-12-1-12-1M159 157l12 2M149 169l10 7M135 158l-12 1M141 122l3-11 6-11 8-9M177 138l11-5 12-3 11-4M229 202l12-4 11-3M229 202l8 9M229 202l-11 4M229 202l-7-9-5-11M421 198l11-5 10-7 10-6M399 231l7 10 2 11M391 233l5 11 1 12M366 219l-12 4-9 7M385 198l-3-11M350 244l11-5 9-8M315 251l-12 0M322 224l-5-11-8-9M47 275l11-5 12 1 12-1M-6 287l-12-2-11-5M18 240l2-11 2-12 3-12M184 287l11 5 11 3M162 285l3 11M153 271l-12-3M168 249l-1-12-4-11M145 300l-12 3-10 7-8 9M172 285l-4-12 0-12M203 300l10-7 10-6M201 315l10 7 10 7M164 338l-8 9-6 10-6 10M156 309l-11 5-10 6M131 361l3-12M148 397l10 7 10 6 10 6M137 390l8 8 10 8M105 384l-11 6-10 7M109 351l-6-10-4-11M258 406l0 12M242 400l-12-2M247 372l-4-12 2-11M345 398l-11 5-12 1-12 4M355 370l-10-6-9-8M384 373l8-10M387 376l8-8M412 378l11 5 12 2 12 3M383 405l7 10 11 3"/>
<path stroke-opacity="0.10" stroke-width="3" d="M106 60l7-9M106 60l12 2 12 1M106 60l6 11M106 60l-6 11M106 60l-6-10-2-12M109 99l12 0 12 2 7 9M109 99l1 12 2 11M109 99l-11 6-8 9-4 11M109 99l-11-6M194 5l3 12M194 5l-2 12M194 5l-12-3-11 1M194 5l-6-10-4-11M194 5l7-10 1-11 8-9M194 5l11 4M206 72l-12 0-12 2M206 72l9-7 9-8 10-7M206 72l9 8M206 72l-4 12M291 66l-11 4-12-3-9-8M291 66l-11-5M291 66l5-11 8-9M291 66l11-4M291 66l12 1 12 1M291 66l-8 9-10 7M300 70l-4-11-5-11-5-11M300 70l4-11 1-12 4-11M300 70l2 12M300 70l-10 8M362 81l-3-11-1-12M362 81l11 2M362 81l-12-3-10-6-7-10M147 158l12-1M147 158l2 11M147 158l-12 0M147 158l-3-12-2-12-1-12M147 158l11-6 9-7 10-7M154 198l-11 4M154 198l-12-1-12-2M154 198l1-12 4-11M154 198l12-3M154 198l5 11M388 210l10-7 12-2 11-3M388 210l7 10 4 11M388 210l0 12 3 11M388 210l-11 5-11 4M388 210l-3-12M327 248l12-1 11-3M327 248l-12 3M327 248l-3-12-2-12M15 276l9 7 12-2 11-6M15 276l-10 7-11 4M15 276l1-12-1-12 3-12M165 273l9 7 10 7M165 273l-3 12M165 273l-12-2M165 273l1-12 2-12M220 276l-1 12 7 10M220 276l-7-9M220 276l5-11 6-10M220 276l9-8M220 276l-6 10M179 305l-11-4-11 1-12-2M179 305l1-12-8-8M179 305l12-2 12-3M179 305l12 4 10 6M179 305l-3 12-7 10-5 11M179 305l-12 1-11 3M50 302l1 12M50 302l-12 0M50 302l-12 1-11 4M50 302l-8-8M50 302l11-5M50 302l11 5M124 370l7-9M124 370l6 10 9 9 9 8M124 370l5 11 8 9M124 370l-11 5-8 9M124 370l-8-9-7-10M253 395l5 11M253 395l-11 5M253 395l-2-12-4-11M376 382l-11 4-9 8-11 4M376 382l-10-5-11-7M376 382l8-9M376 382l11-6M376 382l12 0 12-3 12-1M376 382l2 12 5 11M394 264l-10-6M394 264l4-11 2-12M394 264l11 3M394 264l10 7M394 264l2 12M167 258l10-7M167 258l9 8M167 258l-12-1M180 293l8-30 11-27 16-25 14-10M177 313l-14 19-16 19-16 16-17 19"/>
<path stroke-opacity="0.10" stroke-width="4" d="M180 299l5-27 8-28 14-27 16-27 16-22 17-19"/>
<path stroke-opacity="0.20" stroke-width="2" d="M180 296l-6-27-5-25-6-27-5-22-3-27M177 318l8 22 16 16 22 8 27 3M229 201l21-17 22-16 27-22M327 248l-11 24-17 27-16 33-11 32-5 39"/>
<path stroke-opacity="0.25" stroke-width="3" d="M180 293l8-30 11-27 16-25 14-10M177 313l-14 19-16 19-16 16-17 19"/>
<path stroke-opacity="0.30" stroke-width="4" d="M180 299l5-27 8-28 14-27 16-27 16-22 17-19"/>
</g>
<circle cx="552.3" cy="420.2" r="2.2" fill="url(#cg)" opacity="0.60"/>
<ellipse cx="553.2" cy="431.8" rx="3" ry="1.8" transform="rotate(-30 553.2 431.8)" fill="url(#cg)" opacity="0.80"/>
<ellipse cx="579.2" cy="403.5" rx="2.8" ry="1.9" transform="rotate(0 579.2 403.5)" fill="url(#cg)" opacity="0.90"/>
<ellipse cx="582.7" cy="423.8" rx="4.1" ry="1.6" transform="rotate(0 582.7 423.8)" fill="url(#cg)" opacity="0.55"/>
<circle cx="608.8" cy="421.9" r="2.4" fill="url(#cg)" opacity="0.70"/>
<circle cx="611.5" cy="423.3" r="2.2" fill="url(#cg)" opacity="0.60"/>
<ellipse cx="630.3" cy="426.5" rx="2.7" ry="1.4" transform="rotate(90 630.3 426.5)" fill="url(#cg)" opacity="0.50"/>
<circle cx="564.8" cy="449.8" r="2.1" fill="url(#cg)" opacity="0.60"/>
<circle cx="567" cy="462" r="2.5" fill="url(#cg)" opacity="0.35"/>
<circle cx="590" cy="463.3" r="3.9" fill="url(#cg)" opacity="0.45"/>
<circle cx="581" cy="450.2" r="2.2" fill="url(#cg)" opacity="0.30"/>
<circle cx="540.1" cy="454.3" r="2.2" fill="url(#cg)" opacity="0.30"/>
<circle cx="532.9" cy="457.4" r="2.2" fill="url(#cg)" opacity="0.30"/>
<circle cx="638.3" cy="465.7" r="2.2" fill="url(#cg)" opacity="0.60"/>
<ellipse cx="619.7" cy="477.2" rx="3.2" ry="1.4" transform="rotate(80 619.7 477.2)" fill="url(#cg)" opacity="1.00"/>
<circle cx="524.5" cy="485.8" r="3.3" fill="url(#cg)" opacity="0.70"/>
<circle cx="570.2" cy="484.9" r="2.3" fill="url(#cg)" opacity="0.60"/>
<circle cx="587.2" cy="485.8" r="2.2" fill="url(#cg)" opacity="0.45"/>
<ellipse cx="574.7" cy="494.8" rx="4.7" ry="2.6" transform="rotate(70 574.7 494.8)" fill="url(#cg)" opacity="1.00"/>
<circle cx="535.3" cy="493.9" r="2.2" fill="url(#cg)" opacity="0.45"/>
<circle cx="559.4" cy="494.8" r="2.4" fill="url(#cg)" opacity="0.30"/>
<ellipse cx="557.7" cy="514.5" rx="2.5" ry="1.9" transform="rotate(0 557.7 514.5)" fill="url(#cg)" opacity="0.60"/>
<circle cx="597.1" cy="522.1" r="2.4" fill="url(#cg)" opacity="0.70"/>
<ellipse cx="634.8" cy="518.1" rx="2.5" ry="1.9" transform="rotate(90 634.8 518.1)" fill="url(#cg)" opacity="0.60"/>
<circle cx="640.2" cy="482.2" r="1.8" fill="url(#cg)" opacity="0.40"/>
</g>
<circle cx="551.7" cy="420.2" r="7" fill="none" stroke="#2a6db2" stroke-width="1.5"/>
<circle cx="566.4" cy="462" r="7" fill="none" stroke="#bf9bd1" stroke-width="1.5"/>
<circle cx="620.6" cy="477.5" r="7" fill="none" stroke="#1fb6ca" stroke-width="1.5"/>
<rect x="622" y="520.2" width="18.4" height="2.6" fill="#fff"/>
<text x="542.4" y="396.8" font-size="11.2" textLength="76.6" lengthAdjust="spacingAndGlyphs">40 Field stimuli</text>
<text x="552.8" y="535.5" font-size="11.2" textLength="55.5" lengthAdjust="spacingAndGlyphs">+20 frames</text>
<text x="142.2" y="518" font-size="10.2" textLength="36.2" lengthAdjust="spacingAndGlyphs" fill="#fff" color="#fff">100 µm</text>
<text x="53" y="484.2" font-size="11.2" textLength="42.6" lengthAdjust="spacingAndGlyphs" transform="rotate(-90 53 484.2)">CaBLAM</text>
<g clip-path="url(#c7)">
<rect x="58.0" y="567.0" width="122.0" height="121.6" fill="#040404"/>
<g transform="translate(58 567) scale(0.305)" fill="none" stroke="#fff" stroke-linecap="round" stroke-linejoin="round" filter="url(#fb)">
<path stroke-opacity="0.05" stroke-width="2" d="M42 11l5-11 8-9M41 -1l4-12M77 -15l5-11 6-10M44 68l-4 12-3 11M28 66l-6 10-3 12M2 37l-10 6-10 7M143 16l-12 3-12-1-12 2M217 -6l-2-11 0-12-2-12-2-12-2-12M241 -32l9-8 10-7 8-9M254 -23l4-12 4-11 2-12M241 50l12-1 12 0 12-1 12-3M268 75l9 8 9 7 11 5M228 60l-7 9-10 7-11 4-12 3-12 1M242 92l6 10 3 12 5 11M292 104l-12 1-12 2-11 5-12 2-11 5M257 111l-11-2-11-6-10-7M276 97l-10 5-12 2M304 62l-9-8-6-10-2-12M305 38l1-12 8-9M266 41l-12-3-12 3-11 3M338 65l10-5M342 76l8-9M278 143l-10-7M330 106l4-11 1-12M302 131l11-1 12-1M293 123l-10-6M336 149l4 12 1 12-5 11-1 12M371 142l10-7 11-5 12 2M314 188l1 12 7 10M281 156l-2 12M279 134l-12 1-11 1-12-2M265 115l-10-7-8-9M3 201l-3-12-7-10M118 245l12 3 12-3 10-5 12 2M10 328l0 12-3 12 0 12 1 12M-12 326l-12 0-12 0-12 0-12-2M-5 280l-11 5-10 7M-41 287l-7 10-9 8-9 7-11 6M17 196l3-11 3-12M110 319l5 11 7 10M70 269l-12-1-11 2-12 4M48 262l-10-7-10-7M107 256l11-3 11-5 8-10 6-10M120 237l6-10 5-11M127 304l1 12-2 12M200 347l10 7 10 6 9 8M139 337l-6 11-5 11M146 347l10 6M92 345l-12-3-11 3M129 316l-11-6-10-7M124 304l-1-11M346 392l0 12-4 12-4 11M285 399l-5 10-7 10-8 9M236 368l-10 5-9 8-8 9-5 11M312 287l4-11 6-11M328 293l10-6 10-7M339 374l5 11 8 9M0 190l-4-11-6-11M-9 181l-6-10M15 172l-5-11-9-8-10-6M14 148l-2-12-2-12M31 225l12 1 12 0 12 0 10-6 12-3M45 257l3 12 9 8 7 9M-17 233l-12 2-11-4M110 320l-5-11-7-10-5-11-4-11-5-11-7-9-3-12 2-12 3-12 2-11 4-12 2-12 2-11 4-12 5-11 7-10 6-10 7-10 3-11 0-12 0-12 0-12 5-11 6-10 3-12 5-11M182 360l-11 5-11 4-11 6-9 7-8 9-11 5-11 6-8 8-12 4-11 5-10 6-11 4-11 5-11 5-11 4-10 7M416 180l9 9 9 7 9 8 10 7 9 7 9 9 8 9 5 11 2 12 5 11 3 11 3 12 5 11 5 11 3 11 2 12 0 12 1 12M174 144l-12 1-12-1-12-1-11-4-12-2-12-1-12-2-10-6-8-10-10-6-11-5-9-7-9-9-9-8-10-6-11-4-9-8-8-9M120 103l-10-6-11-6-9-7-10-8-10-6-12-3-10-6-9-7-5-12-4-11-4-11-4-11-2-12-1-12 3-12 6-10M57 262l3-12-2-12 2-12-1-12-1-12-4-11-4-11-5-11-5-11-5-11-2-12-3-11-7-10M147 230l3-12 6-11-1-12-1-12 4-11 9-8 7-10 7-10 8-9 4-11 0-12-3-12-3-11M219 8l0-12 2-12 5-11 7-10 9-8 10-6 9-9 8-9 8-8 8-9 10-6 8-10 7-9 4-12 7-9 9-8 11-6 8-9 7-9 9-9 4-11 8-9 11-4 11-6 11-5 9-8M127 156l-9 8-9 7-11 6-11 5-12 0-12-1-12-2-8-8-10-7-11-4-11-5-10-7-12-1-12-4-10-6-8-9-5-11-7-9-10-7-12-3-11-5-12 2M112 193l-4-12-1-11-2-12 1-12 5-11 8-9 9-8 8-9 9-8 7-9 4-12 4-11 6-11 6-10 5-11 2-11 3-12 5-11 9-9 11-4 11-5 10-6 7-10 10-7 10-7 11-3 12-4 11-4M178 296l-2-12-6-10-12-5-10-6-11-5-11-3-11-6-11-3-12-4-11-4-11-5-11-5-10-7-9-8-9-8M10 36l-2 12-4 11-6 10-7 10-7 10-8 8-9 8-10 8M36 347l-12-1-12 0-12 0-12-2-10-6-9-8-10-7-10-5-11-5-11-5-9-8-10-8-10-6-11-5-9-8-10-7-9-7-10-7-7-10-6-10-2-12-5-11-6-10-6-11-7-9-8-10-8-8-8-10-8-9M80 232l-3-12-7-9-10-7-10-8-9-7-10-7-7-9-8-10-10-6-12-4-11-3-12-2-12 0-11 4-10 8M44 5l-3 12-2 12 0 12 0 12 2 11 6 11 7 10 3 11 5 11 9 9 10 5 9 9 8 8 5 11 6 10 7 10 10 8 8 8 7 10 3 12 2 12 3 11 7 10 8 9 8 9 10 5M-9 353l0 12 4 11 2 12 3 12 5 11 1 12-3 12 0 12-2 11-1 12 0 12 2 12-1 12-4 11 2 12 2 12 1 12 1 12 2 12 0 12-5 10-4 12-3 11-3 12M198 189l3-11 4-12 3-11 4-11 0-12 1-12 2-12 2-12 4-11 5-11 3-12 4-11 2-12 0-12 0-12 3-12 4-11 9-9 10-6 11-5 11-4M280 284l-6-10-4-12-4-11-1-12 2-12 2-11 0-12-1-12-1-12 1-12 3-12 3-12 8-9 9-7 7-10 7-10 9-7 11-6 11-5M-10 375l-3 12-1 12-1 12-2 12 0 12-1 12 8 9 5 11 5 11 6 10 6 11 5 10 7 10 2 12-2 12 0 12-2 12-6 11-9 7M166 83l-1-12-1-12 2-12 0-12-2-11-1-12 0-12-2-12-4-11-1-12-2-12-4-12-1-12-4-11 0-12-3-12-1-12-1-12-3-11-3-12-4-11-3-12-2-12-4-11M36 279l12 3 10 6 10 6 12 3 9 8 9 8 11 5 11 3 10 8 6 10 7 10 4 12M187 218l11 4 10 6 9 8 10 8 11 4 10 6 12 2 12 2 12-2 12 0 12-1 11-4 10-7 7-10 7-10 8-8 8-9 9-8 11-6M160 232l-12 0-12 2-12 0-10 6-11 5-10 7-8 8-7 10-7 10-9 8-10 6-10 8-8 8-6 10-6 11-4 11-3 12M111 -9l-2-12-3-11-5-11-6-10 1-12 4-12 2-12 1-12 3-11 3-12 2-12 4-11 0-12 7-10 10-7 10-5 12-4 12-3 11-2 12-4 11-3 10-7 10-7 11-4 11-6 12-1 11-2M229 403l9-8 10-7 9-8 7-9 8-10 10-6 6-10 10-7 9-8M88 326l10 7 8 9 7 9 9 9 9 7 11 6 9 8 10 6 11 6 11 4 10 6 9 8 7 10 7 9 10 8 9 8 5 11 5 11 4 11M410 326l-11 5-12 3-12 2-12 1-11-4-12-3-11 1-12 4-11 5-8 9-8 9-7 9-6 11-7 10-3 11-3 12-4 11M115 55l-12-1-12 2-12-1-12 1-12 1-12-1-12-1-12-3-10-7-7-10-10-7-10-5M131 50l12 0 12 2 11 1 12 3 12 3 11 5 10 5 10 8 6 10 7 10 7 10 2 12-1 12-1 12-1 12-1 12-3 11 4 12 4 11 4 11 3 12 2 12 3 11 3 12 3 12 2 11 8 10 7 10M218 239l-3 12-5 11-9 8-11 5-5 11 0 12 2 12 0 12 4 11 2 12 3 12 3 12 1 11M228 362l-11 5-7 9-11 6-10 6-10 6-11 6-9 7-10 7-11 3-12 3-12 3-12-1-11-5-10-7-7-9-8-10-5-10-4-12M102 46l8 10 11 2 12 3 11 4 12 2 12 1 12-1 12-3 11-3 11-5 12-3 12-2 12 2M226 192l11-4 11-6 10-5 12-4 11-5 11-4 12-1 12-2 12-2 12-1 11-5 12-1 11-5 9-8 6-10 5-11 6-11 6-10 5-11 3-11 4-12 4-11 2-12 2-12 3-11 5-11M58 73l-8 9-7 10-4 11-3 12-4 11-4 11-5 11-8 9-8 9-5 11-6 10-4 12-11 6-6 10-5 11-2 11M361 150l9 8 11 7 8 8 11 5 11 5 12 0 12-1 12-4 11 3M331 364l-4-11-4-12-1-12-5-11-1-12 1-11 6-11 7-10 8-8 7-10 9-8 5-11 5-11 5-11 5-11 6-10 8-9 8-9 8-9 9-8 6-10 6-11 8-9M168 153l12-4 10-6 11-5 11-5 9-8 8-9 10-7 10-6 10-7 10-7 8-9 9-8 6-10 7-9 11-5 8-9 11-6 11-4 11-5 12-3 10-6 11-5 12-3 11-5 11-5 12-1"/>
<path stroke-opacity="0.05" stroke-width="3" d="M185 140l-11 5-11 6-11-3-10-6-10-7-11-5-8-9M183 199l-5 11-5 10-3 12-7 10-3 12M160 76l-11 4-11 5-12 3-12 2M136 77l-12-3-12-2M142 39l-6-10-9-8-11-6-11-4-10-8-11-4-11-4-12-2M99 0l-7-9-10-7-10-7-10-6-9-8M200 -36l5-11 3-12 9-7 7-11 5-11M191 132l-11 5-11-2-12-3-12-3-12-2-10-6-11-4M136 156l-11 4-12-2-11-5-12 0-10-5M100 49l9-8 9-8 10-7 10-6 11-3M52 143l7 10 6 10 11 5M76 139l12 0 12 0M73 191l3 12 4 11 2 12M17 261l5 11 0 12-1 12 1 12-1 12M39 199l9 8 12 4 10 6 12-1 12 2 11 4 11 5 10 6M37 258l0 12 0 12 0 12-1 12 0 12M-10 100l-8-8-9-8-9-8-6-10-7-11-9-8-6-10-2-11M-17 42l-9-8-9-7-9-8-12-4-12 0M86 32l-5-11-7-10-5-10-2-12M130 79l-11-3-12-4-7-10-5-10 0-12 2-12 7-10M132 21l7-10 6-10 4-12 10-7 8-8M140 130l8 8 12 5 9 7M162 135l11-3 12 0M189 181l7 9 9 8 9 8 8 9M64 168l0 12-1 12-1 12-5 11M140 83l12 1 11 5 8 9 10 6 12 3 10 7M186 70l8-9 6-10 4-11 5-11M122 183l-8-9-10-7-7-10-4-11M100 190l-9 9-8 9M147 135l5-11 10-7 9-8 7-9 7-10 9-8M115 99l-10-7-10-7-8-8-8-9M186 228l0 12-1 12-3 12M163 236l5 11 5 11 1 12 7 10 1 12 4 11 7 10 7 9M156 291l1 12-2 12-4 11-4 12-7 10M54 149l-12-3-12-1-12 1-11 4-11 6M131 109l-7-10-8-9-6-10M190 150l12 0 12 3 11 2 12 0M213 123l8-9 4-11 1-12M250 205l9 8 10 6 10 7 8 9M201 218l-4 11 2 12 5 10 8 9 6 11 6 10 6 11 6 10M167 265l-2 12 2 12 3 11 8 9 10 7M117 175l-11-6-7-9-4-12-3-11 0-12-4-11-11-4M84 143l-8-9-4-11-8-9-7-10M156 109l10-7 4-11 4-11M42 11l-1-12M63 4l7-9 7-10M51 45l-5 11-2 12M36 44l-6 10-2 12M22 24l-10 6-10 7M374 42l11-3 12-4 9-7 8-9 7-9M399 67l7 10 5 11-4 12M309 29l-9-7-11-5-12-2-11-6-12-1M276 41l-8 9-10 7-10 7M315 1l-7-9-10-7-9-8-7-9-7-10M285 -18l-12 2-11 4-11 5M388 -19l8-9 5-11 5-11 4-11 2-12 1-12 0-12M411 -73l11-5 10-7 11-5 11-4 12-1M361 5l11-5 12-4 10-7M373 -16l3-12 9-7M178 23l-12-2-11-3-12-2M217 -6l9-8 7-9 8-9M237 8l5-10 7-10 5-11M241 50l9 9 9 8 9 8M228 60l6 11 0 12 8 9M251 187l-7 10-6 10-3 12-6 10-2 12 0 12-4 12-5 10M282 234l11 6 12 3 11 3 12-1 12 2M235 178l1 12 1 12 3 11 8 9 8 9 5 11 1 12M272 206l12 3 12 1 12-2 11-4M103 128l-11-3-12 2-11 5-10 8-8 8M238 91l10-6 11-5 10-7 8-9 12-1 12 2M271 58l9-7 12-4 12-2 12 1M290 76l11-5 11-3 12-4 11-5M292 104l-11 4-12 4-12-1M296 84l-12 3-8 10M304 62l0-12 1-12M299 51l-10-6-11-4-12 0M329 73l9-8M331 82l11-6M289 141l-11 2M319 127l5-10 6-11M302 131l-9-8M336 149l12-1 12-2 11-4M310 165l1 12 3 11M290 148l-9 8M279 134l-6-10-8-9M15 222l-11 4-11-3-12 4M15 222l-6-11-6-10M72 234l12 2 9 8 8 9 4 11 9 8 11 5M72 234l12 1 12 2 11 2 11 6M34 289l-7 9-9 8-6 10-2 12M18 290l-6 10-7 9-7 10-10 7M13 264l-11 5-10 7-7 10-8 9M13 264l-9 8-9 8M-19 247l-9 8-8 9-4 11-1 12M19 220l-8-8-6-10-4-12M19 220l1-12-3-12M215 296l11 5 6 10M166 297l-12 4-12 1-11 1-12-4M154 317l-2 12-6 10M176 321l-1 12 0 12M137 280l-6 9-6 11-9 8-8 10-6 9M104 293l-12 3-11 4-12 2M128 319l-2 12-1 12 1 12M158 256l-4-11-4-12-4-11M149 234l-1-12-2-12M289 264l11 3 12 0 12-1 12-1 8-9M99 298l6 10 5 11M70 269l-12-1-10-6M107 256l9-8 4-11M116 283l7 10 4 11M167 335l12 1 10 6 11 5M139 337l7 10M114 343l-11 5-11-3M129 316l-5-12M310 238l5-11 0-12-1-12 0-12 3-12 1-12M354 257l6 11 6 10 5 11 4 12M317 278l11-5 12 3 10 6 9 8 10 6 12 3 12 0 12 3M376 287l9 8 6 10 12 3 10 6 11 5M280 281l7 9 9 8 12 3 11 5 11 4M279 316l5 11 6 10 8 9M218 248l-12-2-12 0-12 2-11 4-12-1-12 0-12-2M175 229l-12 1-12-1-12 3-12 2M240 196l1-11 8-10 9-7 8-9 4-12 0-12-1-12 1-12M206 147l-7-9-9-8-10-7-9-8-10-7M252 182l2-12-3-11-5-11M339 240l8-9 10-6 11-5 12-3M321 309l8 9 11 4 11 4 12 2 9 9 5 10 3 12M380 297l11-2 12 0 12-1 12 1 11-5M254 350l-10-7-10-6-10-7-10-7-11 4-10 6-12 4-12 1M241 407l0 12 1 12-1 12 2 12 2 12M250 341l-8 9-7 10-7 9-7 10-9 8-8 9M266 385l0 12 3 12 5 11 7 10M159 334l-11 2-12 2-12 1-12 2-11-4M273 226l0-12 1-12-2-12M278 216l3-12 3-11 3-12 2-12M362 270l8-8 5-11 8-9 8-9 7-10M217 339l-10-5-12-4-9-7-9-8-12-2-12-3M191 377l-10 6-11 4-12 0-12-4M198 321l-12 2-12 4-11-2-12-2-12-4-9-8-8-9M200 379l2 12 3 11 4 12 4 11 1 12M232 322l-4-11 0-12-3-12-4-11M261 301l9-8 12-3 10-7M196 394l3 12 2 12 4 11-1 12-2 12-9 8-11-3M181 439l-5 11 3 12 7 9 5 12M184 403l-11 4-12 2-12 2-10 6-9 8-9 7-6 11-7 10M171 458l-7 10-11 4-12 3-11 4-12 4M233 296l12-2 12-1 12-2 12-1 11 3 12 2 12-4 12 0M263 246l6-11-1-12 1-12-1-12-2-11M340 357l9 8 5 11 10 7 11 5 11 4M340 357l3 11 2 12 1 12M298 366l-11-4-12 4-12 2-11 5-10 6M298 366l-6 10-5 11-2 12M268 336l-11-5-9-8-4-11-2-12-6-10-1-12-1-12M268 336l-11 4-9 8-3 11-9 9M310 311l0-12 2-12M311 311l3-12 3-12 5-11-1-12M311 311l7-10 10-8M330 351l8-9 6-10 7-10 4-11M330 351l4 12 5 11M0 190l-9-9M15 172l0-12-1-12M31 225l7 9 5 11 2 12M1 217l-9 8-9 8M230 107l4-11 5-11 3-12-1-12 2-12 5-10 8-9 9-8 8-9 10-6 11-6 12-2 12 0 10 7 10 6 10 7 11 4 10 7 11 6M231 333l-8-9-9-8-9-9-10-5-11-5-12-4-12 0-11 4-10 6-10 7-10 7M231 27l11 3 12 1 12 2 12 0 12-3 10-5 11-5 12-2 12-1 12 1 12-1 12 2 12 0 12-2 12-1 11 1 11 6 5 11 5 11 2 12 4 11 4 11 7 10 1 12 0 12 0 12 1 12 0 12 0 12M175 56l4-12 6-9 8-10 5-11 5-11 3-11 5-11 4-11 6-11 7-10 9-8 10-6 10-6 12-3 11-5 11-4 11-4 12-4 10-7 10-6 8-9 5-11 4-11 5-11 5-11 6-10M144 20l-2 12 0 12 1 12 1 12 0 12 0 12 0 12 3 11 3 12 6 10 5 11 4 11 5 11-1 12 1 12 4 12 6 10 9 9 7 9 7 10 9 7 9 8M406 237l-4 11-7 10-9 8-10 7-10 6-7 10-10 7-11 4-11 5-12 4-11 4-11 3-12 4-12 2-12 2-12 0-11-2-12 0-12-2-12-3-11-5-11-5-11-3-11-6-12-3M271 399l4-11-1-12-4-11-6-11-6-10-10-6-12-1-12-3-11-5-11-5-12-2-11-5-7-9-6-11-9-7-10-7-10-7-11-4-11-5-11-6-9-7M41 206l7-9 8-9 6-11 11-4 11-3 12-2 11-6 8-9 5-11 3-11 7-10 9-8 9-8 8-9 7-10 9-8 8-9 10-6 11-6 10-6 11-6 10-6 9-8 6-10M234 6l-7-10-4-11-8-10-4-11-9-8-8-9-8-9-7-9-4-12 0-12 0-12 0-12 2-12 0-12-4-11-5-11-9-8-7-10-1-12-1-12-4-11-5-11-9-8-10-7-7-10M221 398l-11 4-11 6-12 2-12-1-11-4-11-3-12 1-12 2-12 1-12-3-12-2-11 2-12 3-9 8-9 8-7 10-2 12 4 11 1 12 2 12 2 12 1 12M90 62l4-11 3-12 1-12 5-11 7-9 6-11 3-11 1-12-1-12-2-12-1-12-3-11-7-10-7-10-6-10-7-10-6-11-8-9-6-10M419 414l6 11 7 9 6 11 7 10 7 9 9 9 9 7 12 4 11 4M419 -12l3-12-1-12 2-12 1-12 3-11-1-12 0-12 3-12 2-12 2-12-1-12 0-12-5-11-6-10-8-8-10-8M180 365l8 9 9 9 7 10 7 10 5 10 6 11 7 9 6 11 9 8 9 8 10 6 10 6 11 6 10 6 12 4 12 0 11 4 11 6 11 4M27 365l12 2 12 3 11-2 12 0 11 5 10 7 10 7 11 5 11 6 11 4 12 3 11 4 11 5 11 4 9 7 11 5 12 5 11 2 12 3 12 1 12 1 12 2 12-1 12 0 12-1 11-2 12-1 12 0 12 3M-15 131l-12-3-11-2-12-2-12-2-12-2-12 1-11 4-10 8-9 7-10 7-10 6-8 9-10 7-10 7-12 2-12 0-11 2-12-1-12 3-11 6-10 6M45 63l9 7 10 8 8 8 4 11 6 11 6 11 8 8 9 9 10 6 11 4 11 4 12 2 11 5 11 4 12 2 12 0 12-2 12-3 8-8 9-9 9-8 12-2 12 3 10 5 11 5 12 3 11 3M245 276l4 11 2 12 2 12 3 11-1 12 0 12-1 12-1 12 2 12 2 12-4 11-3 12 2 12 3 11 4 12 2 12 3 11 4 11 1 12-2 12 5 11M196 25l-1-12-2-12-5-11-9-8-8-9-9-7-10-8-12-2-11 2-12 1-12 0-12-3-11-4-12 1-12 3M207 154l6-11 3-11 1-12 7-10 5-11 7-10 5-11 6-10 6-11 9-8 10-6 9-9 5-11 5-10 3-12 1-12 1-12 0-12M345 237l-4 11-5 10-9 9-6 10-7 11-6 10-5 10-4 12-3 12-2 11 1 12 4 11 5 12 2 11 9 9 11 4 12 1 12-2M147 399l-11 4-12 3-12 1-11 3-12-1-11-4-12-2-10-7-8-8-5-12 1-12 2-11 2-12 3-12 3-11 7-10 5-11 6-11 9-8 6-10 8-9 8-9 6-10 7-10 2-12 7-10 5-11M164 305l11 5 10 7 8 8 9 9 10 6 10 7 9 8 9 9 7 9 5 11 7 9 1 12-2 12-4 11-5 11-4 11-1 12M130 120l-4 11-6 10-5 11-9 8-12 4-12 1-11 3-12-1-12 0-12 0-12-2-12-1-11 4-12 3-12 3-11 4-9 8-8 9-7 10-8 9-8 9M149 185l12-4 11-2 12-2 12-3 12-1 12 1 12 2 10 5 11 6 12 2 11 2 12 1 12-1 11 5 12 2 12-2 12 0 12-2M414 60l9 8 10 6 9 8 8 10 7 10 4 11 2 11 1 12-1 12 4 12 1 12 1 12-2 12-4 11-3 12-6 10-9 8M39 188l-12 1-11 5-12 2-11 4-12 3-12-1-12-1-12-2-12-2-12 1-12 1-12 1-11-2-12-1-12-2-12 0-12 3-12-1-12-1-11-1-12 0M125 338l12 3 12 1 10 5 12 4 11 4 12 2 12 0 12-2 11-2 11-6 12-3 11-3 12-1 12 0 12 2 11 6 11 5 9 7 11 4M-11 116l11-4 10-7 10-7 9-8 7-9 6-11 3-12-2-11 0-12 0-12 5-11 6-10 6-11-2-12 1-12 2-12 3-11 0-12M413 329l-12 0-11 3-12 4-11 4-12-2-11-5-10-6-10-7-10-6-11-6-12-2-12-1-12 1-10 6-11 5-8 8-10 7-12 3M83 327l12 3 12 2 11 3 11 5 10 6 9 8 11 6 11 3 11 6 9 8 5 11 6 10 0 12 3 12 4 11 8 9 10 7 5 10 4 12M19 258l11-5 11-6 12 0 12 0 12 2 12 1 12 0 11-4 11-4 11-4 12-4M226 375l12 0 12 0 11 5 7 10 6 10 7 10 8 9 3 11 4 12 1 12 2 12 4 11 4 11 7 10 5 11 4 12-1 12 2 11 6 11 3 12 4 11 4 11 2 12-1 12-4 11-3 12M18 252l8 9 11 6 9 7 10 8 11 3 12 2 11 4 11 5 10 7 9 8 8 9 8 9 8 8 11 6 8 9 7 10 6 10 5 11M33 224l-9-8-10-6-8-9-7-10-7-10-5-11-3-11-3-12-4-11-7-10-9-8-8-8-11-6-8-9-8-9M374 37l10-7 9-8 5-11 5-11 2-11 1-12 0-12 3-12 5-11 4-11M22 143l-6 10-8 10-7 9-8 10-8 8-9 7-12 3-10 7-12-2-12 0-11-1-12 2-11 4-11 5M320 171l8 9 10 7 10 5 10 8 9 8 8 9 9 7 11 6 7 10M359 114l10 5 12 4 12 0 12 1 11-2 12-2 11 4 11 5 12 1 12 0 12-3M102 418l-9-9-7-10-6-10-3-11-2-12-3-12-2-12-1-12-4-11-5-11-4-11-6-11-5-11-4-11 2-12M228 168l11 5 11 5 12 2 11-2 12 0 11 6 11 4 10 7 10 6 11 6 10 7 8 8M40 372l10 8 9 7 4 11 8 10 10 5 11 5 11 5 12 3 10 6 10 7 11 4 10 7 6 11 6 10 4 12 1 12 3 11 4 11 5 11 2 12 3 12 4 11 7 10 4 11 5 11 4 12 7 9 5 11 5 11M358 262l-11 5-11 3-12 1-12 1-12 2-12-1-12-1-12 3M29 143l41-9 47-11M117 123l23-18 24-17 20-6M222 134l-23 18-30 17M257 301l35 26 23 9M175 272l24 14 46 15M164 169l-18-52-12-47-6-47M263 248l41-26 46-23 53-24M210 345l-11 29-6 29M29 143l-11 50 5 46M184 82l38-12 41-12 41-23 41-12M58 225l-5 49-12 53-6 76M117 123l-24-53-40-35-41-23"/>
<path stroke-opacity="0.05" stroke-width="4" d="M101 77l-7-10-4-11-2-12-2-12M130 79l-3-11-1-12 0-12 4-12 2-11M140 130l10 7 12-2M151 151l10 7 10 6 9 8 9 9M71 123l-8 9 1 12 0 12 0 12M140 83l12 0 11-5 12-4 11-4M46 22l-4-11M46 22l9-9 8-9M46 22l4 11 1 12M46 22l-5 11-5 11M46 22l-12 2-12 0M374 42l8 9 10 7 7 9M309 29l-12 2-11 5-10 5M315 1l-9-7-10-7-11-5M388 -19l6-10 3-12 5-11 2-12 7-9M361 5l6-11 6-10M213 28l-12 1-11-2-12-4M213 28l-4-11 4-11 4-12M213 28l12 0 9-8 3-12M213 28l10 7 9 8 9 7M213 28l3 12 6 10 6 10M319 80l-8 9-9 8-10 7M319 80l-12 2-11 2M319 80l-9-7-6-11M319 80l-4-11-9-8-7-10M319 80l10-7M319 80l12 2M301 143l-12-2M301 143l10-7 8-9M301 143l1-12M301 143l11 5 12 1 12 0M301 143l8 10 1 12M301 143l-11 5M301 143l-11-2-11-7M94 275l1 12 4 11M94 275l-12-3-12-3M94 275l3-12 10-7M94 275l12 2 10 6M132 327l12 0 11 4 12 4M132 327l7 10M132 327l-9 8-9 8M132 327l-3-11M10 196l-10-6M10 196l3-12 2-12M10 196l7 9 9 9 5 11M10 196l-2 12-7 9"/>
<path stroke-opacity="0.10" stroke-width="3" d="M184 82l-6-35-3-35-3-15M257 301l-23 14-24 30"/>
<path stroke-opacity="0.10" stroke-width="4" d="M185 140l2 12-3 11-2 12-2 12 3 12M160 76l-12 1-12 0M142 39l-10-7-9-8-11-3-7-10-6-11M187 21l0-12 2-11 6-11 1-12 4-11M191 132l-10 6-12 4-11 4-11 5-11 5M65 97l4-11 9-9 6-10 7-10 9-8M52 143l12-3 12-1M60 160l9 8 3 11 1 12M21 201l0 12-1 12-2 12 0 12-1 12M39 199l3 12 1 12-3 12 1 12-4 11M-10 100l0-12 3-11-4-12-3-11-3-12M122 183l-12 2-10 5M147 135l-7-10-7-10-9-8-9-8M179 196l8 9 3 12-4 11M163 236l7 10-2 11-6 11-3 12-3 11M105 169l-12 3-11-2-10-7-7-10-11-4M149 140l-5-11-6-10-7-10M190 150l7-9 6-10 10-8M208 188l12-1 12 2 10 7 8 9M201 218l-5 11-5 11-10 7-9 7-5 11M117 175l-12-3-7-10-6-10-8-9M146 143l-1-12 5-11 6-11M251 187l2 12 6 11 5 11 7 9 11 4M235 178l7 10 9 6 11 6 10 6M163 129l-12-2-12 1-12-1-12 2-12-1M238 91l5-11 7-9 10-7 11-6M254 103l4-11 11-7 9-7 12-2M194 284l11 5 10 7M166 297l-7 9-5 11M173 298l5 11-2 12M137 280l-11 3-11 6-11 4M138 286l-6 10-4 11 0 12M158 256l-7-10-2-12M229 260l12 2 12 1 12 1 12 1 12-1M310 238l12 4 11 5 11 4 10 6M317 278l11 4 12 2 12 2 12 0 12 1M280 281l1 12-3 11 1 12M218 248l-11-6-9-6-11-6-12-1M240 196l-6-10-6-10-7-10-8-9-7-10M250 217l1-12-4-12 5-11M301 269l10-6 10-8 10-7 8-8M321 309l12-2 11-4 12 0 12-2 12-4M254 350l-5 11-4 11-2 12 1 12-3 11M250 341l1 12 8 9 4 12 3 11M205 299l-12 2-9 7-6 11-9 8-10 7M262 260l4-11 3-12 4-11M272 262l6-10 0-12 0-12 0-12M306 293l12-3 11-5 11-5 11-5 11-5M217 339l-2 12-6 11-7 9-11 6M198 321l-6 11 0 12 4 11 1 12 3 12M232 322l10-7 10-6 9-8M196 394l-2 12-4 11-6 11-3 11M184 403l-7 10-3 12 4 11-1 12-6 10M233 296l5-11 6-10 3-12 7-10 9-7M184 82l-6 35-7 29-7 23M164 172l29 21 29 23 29 23 12 9M263 248l-3 26-3 24M146 184l-29 15-29 11-30 15-29 14M152 187l12 35 8 35 3 15"/>
<path stroke-opacity="0.10" stroke-width="5" d="M183 80l0 12 2 12 0 12-1 12 1 12M183 80l-11-4-12 0M183 80l-8-9-10-7-4-11-8-9-11-5M183 80l5-11 1-12-1-12-2-12 1-12M183 80l10 8 5 10 1 12-2 12-6 10M28 143l6-10 9-9 8-8 5-11 9-8M28 143l12 1 12-1M28 143l11 6 10 6 11 5M28 143l2 12-1 12 0 12-2 12-6 10M28 143l-3 12 6 10 0 12 3 11 5 11M28 143l-11-4-9-8-8-9-6-10-4-12M118 121l-1-12-4-11-6-11-6-10M118 121l11-3 10-6 2-12-3-12-8-9M118 121l10 5 12 4M118 121l3 11 9 8 11 4 10 7M118 121l-12-1-12 0-12-2-11 5M118 121l1-12 4-11 6-10 11-5M146 182l-12 1-12 0M146 182l1-12-1-12 3-11-2-12M146 182l11 4 11 5 11 5M146 182l-1 12-1 12 4 11 6 11 9 8M164 172l-11-5-12 1-12-2-12 2-12 1M164 172l-2-12-7-10-6-10M164 172l10-6 11-4 5-12M164 172l11 4 12 1 10 7 11 4M164 172l7 9 10 8 7 9 9 8 4 12M164 172l-12 3-11-3-12 2-12 1M164 172l-9-8-7-10-2-11M344 22l10 6 9 9 11 5M344 22l-11 3-12 3-12 1M344 22l-8-9-10-5-11-7M344 22l8-9 9-8 8-9 10-7 9-8M344 22l9-8 8-9M221 136l4 11 8 9 7 10 6 10 5 11M221 136l-5 11 5 11 7 10 7 10M221 136l-12 0-11-4-12-3-12-3-11 3M221 136l4-12 5-11 2-11 6-11M221 136l11-5 9-8 7-10 6-10M25 243l-4-11-6-10M25 243l11-4 12-2 12-2 12-1M25 243l7 10 3 12 1 12-2 12M25 243l-1 12 0 12 0 12-6 11M25 243l-6 11-6 10M25 243l-12-2-11-3-12 1-9 8M25 243l-4-11-2-12M173 275l11 2 10 7M173 275l-1 12-6 10M173 275l-3 11 3 12M173 275l-12 0-12 4-12 1M173 275l-12 4-11 2-12 5M173 275l-9-9-6-10M173 275l10-6 10-6 12-2 12 0 12-1M264 249l11-5 12-2 12-2 11-2M264 249l11 5 11 6 10 5 10 7 11 6M264 249l3 12 8 9 5 11M264 249l-11 4-12 2-12-3-11-4M264 249l-8-8-5-11-5-11 1-12-7-11M264 249l-6-10-6-11-2-11M264 296l11-5 9-8 11-3 6-11M264 296l12 0 12 0 12 3 10 7 11 3M264 296l-1 12-3 11 4 11 0 12-10 8M264 296l-3 11-5 11-3 12-3 11M264 296l-11 4-12 0-12 0-12 0-12-1M264 296l0-12-3-12 1-12M248 303l8-9 6-10 5-11 5-11M248 303l12 0 11-5 12-3 11-2 12 0M248 303l-7 10-5 11-9 8-10 7M248 303l-12-4-12 0-11 5-9 7-6 10M209 349l8-9 7-9 8-9M209 349l1 12-3 12-5 11-6 10M209 349l-9 9-5 11-3 11-4 12-4 11M209 349l0-12 5-10 7-10 7-10 5-11M313 335l11 5 10 6 6 11M313 335l0 12-7 10-8 9M313 335l-10-6-12-2-12 4-11 5M313 335l-2-12-1-12M313 335l0-12-2-12M313 335l8 8 9 8"/>
</g>
<circle cx="113.8" cy="591.4" r="4.9" fill="url(#cg2)" opacity="0.45"/>
<circle cx="66.6" cy="610.5" r="4.4" fill="url(#cg2)" opacity="0.45"/>
<circle cx="93.9" cy="603.7" r="3.3" fill="url(#cg2)" opacity="0.35"/>
<circle cx="102.5" cy="622.4" r="4.9" fill="url(#cg2)" opacity="0.40"/>
<circle cx="107.9" cy="619.3" r="4.4" fill="url(#cg2)" opacity="0.95"/>
<circle cx="72.1" cy="573.7" r="3.3" fill="url(#cg2)" opacity="0.20"/>
<circle cx="163.1" cy="573.7" r="3.6" fill="url(#cg2)" opacity="0.25"/>
<circle cx="123.1" cy="575.5" r="2.6" fill="url(#cg2)" opacity="0.15"/>
<circle cx="125.4" cy="608.2" r="3.6" fill="url(#cg2)" opacity="0.30"/>
<circle cx="155.4" cy="591.4" r="3.8" fill="url(#cg2)" opacity="0.10"/>
<circle cx="149.9" cy="610.5" r="3.3" fill="url(#cg2)" opacity="0.10"/>
<circle cx="65.7" cy="640.9" r="4.3" fill="url(#cg2)" opacity="0.40"/>
<circle cx="110.6" cy="650.5" r="4.1" fill="url(#cg2)" opacity="0.95"/>
<circle cx="86.6" cy="650.5" r="3.3" fill="url(#cg2)" opacity="0.15"/>
<circle cx="98.4" cy="666.4" r="2.5" fill="url(#cg2)" opacity="0.10"/>
<circle cx="138.6" cy="642.8" r="4.1" fill="url(#cg2)" opacity="0.35"/>
<circle cx="138.6" cy="656.9" r="4.1" fill="url(#cg2)" opacity="0.45"/>
<circle cx="133.6" cy="659.2" r="4.1" fill="url(#cg2)" opacity="0.90"/>
<circle cx="121.7" cy="673.2" r="4.1" fill="url(#cg2)" opacity="0.35"/>
<circle cx="153.6" cy="668.7" r="3.4" fill="url(#cg2)" opacity="0.15"/>
<circle cx="61.1" cy="626.5" r="2.5" fill="url(#cg2)" opacity="0.10"/>
</g>
<circle cx="155.8" cy="592.2" r="7" fill="none" stroke="#f7921e" stroke-width="1.5"/>
<circle cx="66" cy="642.2" r="7" fill="none" stroke="#662d91" stroke-width="1.5"/>
<circle cx="154.8" cy="670" r="7" fill="none" stroke="#c8d82c" stroke-width="1.5"/>
<rect x="160" y="684.6" width="18.4" height="3" fill="#fff"/>
<text x="67.6" y="564.8" font-size="11.2" textLength="99.7" lengthAdjust="spacingAndGlyphs">Prestimulus window</text>
<text x="80.2" y="700.8" font-size="11.2" textLength="77.9" lengthAdjust="spacingAndGlyphs">Mean –2 frames</text>
<g clip-path="url(#c8)">
<rect x="212.0" y="567.0" width="122.0" height="121.6" fill="#040404"/>
<g transform="translate(212 567) scale(0.305)" fill="none" stroke="#fff" stroke-linecap="round" stroke-linejoin="round" filter="url(#fb)">
<path stroke-opacity="0.05" stroke-width="2" d="M42 11l5-11 8-9M41 -1l4-12M77 -15l5-11 6-10M44 68l-4 12-3 11M28 66l-6 10-3 12M2 37l-10 6-10 7M143 16l-12 3-12-1-12 2M217 -6l-2-11 0-12-2-12-2-12-2-12M241 -32l9-8 10-7 8-9M254 -23l4-12 4-11 2-12M241 50l12-1 12 0 12-1 12-3M268 75l9 8 9 7 11 5M228 60l-7 9-10 7-11 4-12 3-12 1M242 92l6 10 3 12 5 11M292 104l-12 1-12 2-11 5-12 2-11 5M257 111l-11-2-11-6-10-7M276 97l-10 5-12 2M304 62l-9-8-6-10-2-12M305 38l1-12 8-9M266 41l-12-3-12 3-11 3M338 65l10-5M342 76l8-9M278 143l-10-7M330 106l4-11 1-12M302 131l11-1 12-1M293 123l-10-6M336 149l4 12 1 12-5 11-1 12M371 142l10-7 11-5 12 2M314 188l1 12 7 10M281 156l-2 12M279 134l-12 1-11 1-12-2M265 115l-10-7-8-9M3 201l-3-12-7-10M118 245l12 3 12-3 10-5 12 2M10 328l0 12-3 12 0 12 1 12M-12 326l-12 0-12 0-12 0-12-2M-5 280l-11 5-10 7M-41 287l-7 10-9 8-9 7-11 6M17 196l3-11 3-12M110 319l5 11 7 10M70 269l-12-1-11 2-12 4M48 262l-10-7-10-7M107 256l11-3 11-5 8-10 6-10M120 237l6-10 5-11M127 304l1 12-2 12M200 347l10 7 10 6 9 8M139 337l-6 11-5 11M146 347l10 6M92 345l-12-3-11 3M129 316l-11-6-10-7M124 304l-1-11M346 392l0 12-4 12-4 11M285 399l-5 10-7 10-8 9M236 368l-10 5-9 8-8 9-5 11M312 287l4-11 6-11M328 293l10-6 10-7M339 374l5 11 8 9M0 190l-4-11-6-11M-9 181l-6-10M15 172l-5-11-9-8-10-6M14 148l-2-12-2-12M31 225l12 1 12 0 12 0 10-6 12-3M45 257l3 12 9 8 7 9M-17 233l-12 2-11-4M110 320l-5-11-7-10-5-11-4-11-5-11-7-9-3-12 2-12 3-12 2-11 4-12 2-12 2-11 4-12 5-11 7-10 6-10 7-10 3-11 0-12 0-12 0-12 5-11 6-10 3-12 5-11M182 360l-11 5-11 4-11 6-9 7-8 9-11 5-11 6-8 8-12 4-11 5-10 6-11 4-11 5-11 5-11 4-10 7M416 180l9 9 9 7 9 8 10 7 9 7 9 9 8 9 5 11 2 12 5 11 3 11 3 12 5 11 5 11 3 11 2 12 0 12 1 12M174 144l-12 1-12-1-12-1-11-4-12-2-12-1-12-2-10-6-8-10-10-6-11-5-9-7-9-9-9-8-10-6-11-4-9-8-8-9M120 103l-10-6-11-6-9-7-10-8-10-6-12-3-10-6-9-7-5-12-4-11-4-11-4-11-2-12-1-12 3-12 6-10M57 262l3-12-2-12 2-12-1-12-1-12-4-11-4-11-5-11-5-11-5-11-2-12-3-11-7-10M147 230l3-12 6-11-1-12-1-12 4-11 9-8 7-10 7-10 8-9 4-11 0-12-3-12-3-11M219 8l0-12 2-12 5-11 7-10 9-8 10-6 9-9 8-9 8-8 8-9 10-6 8-10 7-9 4-12 7-9 9-8 11-6 8-9 7-9 9-9 4-11 8-9 11-4 11-6 11-5 9-8M127 156l-9 8-9 7-11 6-11 5-12 0-12-1-12-2-8-8-10-7-11-4-11-5-10-7-12-1-12-4-10-6-8-9-5-11-7-9-10-7-12-3-11-5-12 2M112 193l-4-12-1-11-2-12 1-12 5-11 8-9 9-8 8-9 9-8 7-9 4-12 4-11 6-11 6-10 5-11 2-11 3-12 5-11 9-9 11-4 11-5 10-6 7-10 10-7 10-7 11-3 12-4 11-4M178 296l-2-12-6-10-12-5-10-6-11-5-11-3-11-6-11-3-12-4-11-4-11-5-11-5-10-7-9-8-9-8M10 36l-2 12-4 11-6 10-7 10-7 10-8 8-9 8-10 8M36 347l-12-1-12 0-12 0-12-2-10-6-9-8-10-7-10-5-11-5-11-5-9-8-10-8-10-6-11-5-9-8-10-7-9-7-10-7-7-10-6-10-2-12-5-11-6-10-6-11-7-9-8-10-8-8-8-10-8-9M80 232l-3-12-7-9-10-7-10-8-9-7-10-7-7-9-8-10-10-6-12-4-11-3-12-2-12 0-11 4-10 8M44 5l-3 12-2 12 0 12 0 12 2 11 6 11 7 10 3 11 5 11 9 9 10 5 9 9 8 8 5 11 6 10 7 10 10 8 8 8 7 10 3 12 2 12 3 11 7 10 8 9 8 9 10 5M-9 353l0 12 4 11 2 12 3 12 5 11 1 12-3 12 0 12-2 11-1 12 0 12 2 12-1 12-4 11 2 12 2 12 1 12 1 12 2 12 0 12-5 10-4 12-3 11-3 12M368 205l-8-8-11-6-10-6-11-5-8-9-7-10-4-11-7-10-6-11-7-9-3-12-1-12 0-12-1-12-3-11M198 189l3-11 4-12 3-11 4-11 0-12 1-12 2-12 2-12 4-11 5-11 3-12 4-11 2-12 0-12 0-12 3-12 4-11 9-9 10-6 11-5 11-4M280 284l-6-10-4-12-4-11-1-12 2-12 2-11 0-12-1-12-1-12 1-12 3-12 3-12 8-9 9-7 7-10 7-10 9-7 11-6 11-5M-10 375l-3 12-1 12-1 12-2 12 0 12-1 12 8 9 5 11 5 11 6 10 6 11 5 10 7 10 2 12-2 12 0 12-2 12-6 11-9 7M166 83l-1-12-1-12 2-12 0-12-2-11-1-12 0-12-2-12-4-11-1-12-2-12-4-12-1-12-4-11 0-12-3-12-1-12-1-12-3-11-3-12-4-11-3-12-2-12-4-11M36 279l12 3 10 6 10 6 12 3 9 8 9 8 11 5 11 3 10 8 6 10 7 10 4 12M117 271l-2 12-4 12-5 10-10 7-7 10-8 9-6 10-2 12-6 11-4 11-7 10-6 10-4 12-2 11-4 11-5 11-4 12-2 12 1 11 1 12 2 12-1 12 0 12-3 12 0 12 2 11M187 218l11 4 10 6 9 8 10 8 11 4 10 6 12 2 12 2 12-2 12 0 12-1 11-4 10-7 7-10 7-10 8-8 8-9 9-8 11-6M160 232l-12 0-12 2-12 0-10 6-11 5-10 7-8 8-7 10-7 10-9 8-10 6-10 8-8 8-6 10-6 11-4 11-3 12M111 -9l-2-12-3-11-5-11-6-10 1-12 4-12 2-12 1-12 3-11 3-12 2-12 4-11 0-12 7-10 10-7 10-5 12-4 12-3 11-2 12-4 11-3 10-7 10-7 11-4 11-6 12-1 11-2M229 403l9-8 10-7 9-8 7-9 8-10 10-6 6-10 10-7 9-8M88 326l10 7 8 9 7 9 9 9 9 7 11 6 9 8 10 6 11 6 11 4 10 6 9 8 7 10 7 9 10 8 9 8 5 11 5 11 4 11M410 326l-11 5-12 3-12 2-12 1-11-4-12-3-11 1-12 4-11 5-8 9-8 9-7 9-6 11-7 10-3 11-3 12-4 11M115 55l-12-1-12 2-12-1-12 1-12 1-12-1-12-1-12-3-10-7-7-10-10-7-10-5M131 50l12 0 12 2 11 1 12 3 12 3 11 5 10 5 10 8 6 10 7 10 7 10 2 12-1 12-1 12-1 12-1 12-3 11 4 12 4 11 4 11 3 12 2 12 3 11 3 12 3 12 2 11 8 10 7 10M218 239l-3 12-5 11-9 8-11 5-5 11 0 12 2 12 0 12 4 11 2 12 3 12 3 12 1 11M228 362l-11 5-7 9-11 6-10 6-10 6-11 6-9 7-10 7-11 3-12 3-12 3-12-1-11-5-10-7-7-9-8-10-5-10-4-12M113 7l-7-10-8-8-7-10-9-8-10-7-11-5-11-2-12-2-11-6-10-6-10-6-12-3-11-5-12-2-11-4-12-4-11-4-11-4-11-5M156 119l4 12 4 11 8 9 2 12 4 11 1 12 2 12 3 12 2 11 2 12-4 12-3 11-7 10-7 9-6 11-6 10-5 11-9 8-10 7-11 4-10 8-10 6-4 11M102 46l8 10 11 2 12 3 11 4 12 2 12 1 12-1 12-3 11-3 11-5 12-3 12-2 12 2M226 192l11-4 11-6 10-5 12-4 11-5 11-4 12-1 12-2 12-2 12-1 11-5 12-1 11-5 9-8 6-10 5-11 6-11 6-10 5-11 3-11 4-12 4-11 2-12 2-12 3-11 5-11M58 73l-8 9-7 10-4 11-3 12-4 11-4 11-5 11-8 9-8 9-5 11-6 10-4 12-11 6-6 10-5 11-2 11M361 150l9 8 11 7 8 8 11 5 11 5 12 0 12-1 12-4 11 3M331 364l-4-11-4-12-1-12-5-11-1-12 1-11 6-11 7-10 8-8 7-10 9-8 5-11 5-11 5-11 5-11 6-10 8-9 8-9 8-9 9-8 6-10 6-11 8-9M168 153l12-4 10-6 11-5 11-5 9-8 8-9 10-7 10-6 10-7 10-7 8-9 9-8 6-10 7-9 11-5 8-9 11-6 11-4 11-5 12-3 10-6 11-5 12-3 11-5 11-5 12-1"/>
<path stroke-opacity="0.05" stroke-width="3" d="M185 140l-11 5-11 6-11-3-10-6-10-7-11-5-8-9M183 199l-5 11-5 10-3 12-7 10-3 12M160 76l-11 4-11 5-12 3-12 2M136 77l-12-3-12-2M142 39l-6-10-9-8-11-6-11-4-10-8-11-4-11-4-12-2M99 0l-7-9-10-7-10-7-10-6-9-8M200 -36l5-11 3-12 9-7 7-11 5-11M191 132l-11 5-11-2-12-3-12-3-12-2-10-6-11-4M136 156l-11 4-12-2-11-5-12 0-10-5M100 49l9-8 9-8 10-7 10-6 11-3M52 143l7 10 6 10 11 5M76 139l12 0 12 0M73 191l3 12 4 11 2 12M17 261l5 11 0 12-1 12 1 12-1 12M39 199l9 8 12 4 10 6 12-1 12 2 11 4 11 5 10 6M37 258l0 12 0 12 0 12-1 12 0 12M-10 100l-8-8-9-8-9-8-6-10-7-11-9-8-6-10-2-11M-17 42l-9-8-9-7-9-8-12-4-12 0M86 32l-5-11-7-10-5-10-2-12M130 79l-11-3-12-4-7-10-5-10 0-12 2-12 7-10M132 21l7-10 6-10 4-12 10-7 8-8M140 130l8 8 12 5 9 7M162 135l11-3 12 0M189 181l7 9 9 8 9 8 8 9M64 168l0 12-1 12-1 12-5 11M140 83l12 1 11 5 8 9 10 6 12 3 10 7M186 70l8-9 6-10 4-11 5-11M122 183l-8-9-10-7-7-10-4-11M100 190l-9 9-8 9M147 135l5-11 10-7 9-8 7-9 7-10 9-8M115 99l-10-7-10-7-8-8-8-9M186 228l0 12-1 12-3 12M163 236l5 11 5 11 1 12 7 10 1 12 4 11 7 10 7 9M156 291l1 12-2 12-4 11-4 12-7 10M54 149l-12-3-12-1-12 1-11 4-11 6M131 109l-7-10-8-9-6-10M190 150l12 0 12 3 11 2 12 0M213 123l8-9 4-11 1-12M250 205l9 8 10 6 10 7 8 9M201 218l-4 11 2 12 5 10 8 9 6 11 6 10 6 11 6 10M167 265l-2 12 2 12 3 11 8 9 10 7M117 175l-11-6-7-9-4-12-3-11 0-12-4-11-11-4M84 143l-8-9-4-11-8-9-7-10M156 109l10-7 4-11 4-11M42 11l-1-12M63 4l7-9 7-10M51 45l-5 11-2 12M36 44l-6 10-2 12M22 24l-10 6-10 7M374 42l11-3 12-4 9-7 8-9 7-9M399 67l7 10 5 11-4 12M309 29l-9-7-11-5-12-2-11-6-12-1M276 41l-8 9-10 7-10 7M315 1l-7-9-10-7-9-8-7-9-7-10M285 -18l-12 2-11 4-11 5M388 -19l8-9 5-11 5-11 4-11 2-12 1-12 0-12M411 -73l11-5 10-7 11-5 11-4 12-1M361 5l11-5 12-4 10-7M373 -16l3-12 9-7M178 23l-12-2-11-3-12-2M217 -6l9-8 7-9 8-9M237 8l5-10 7-10 5-11M241 50l9 9 9 8 9 8M228 60l6 11 0 12 8 9M251 187l-7 10-6 10-3 12-6 10-2 12 0 12-4 12-5 10M282 234l11 6 12 3 11 3 12-1 12 2M235 178l1 12 1 12 3 11 8 9 8 9 5 11 1 12M272 206l12 3 12 1 12-2 11-4M103 128l-11-3-12 2-11 5-10 8-8 8M238 91l10-6 11-5 10-7 8-9 12-1 12 2M271 58l9-7 12-4 12-2 12 1M290 76l11-5 11-3 12-4 11-5M292 104l-11 4-12 4-12-1M296 84l-12 3-8 10M304 62l0-12 1-12M299 51l-10-6-11-4-12 0M329 73l9-8M331 82l11-6M289 141l-11 2M319 127l5-10 6-11M302 131l-9-8M336 149l12-1 12-2 11-4M310 165l1 12 3 11M290 148l-9 8M279 134l-6-10-8-9M15 222l-11 4-11-3-12 4M15 222l-6-11-6-10M72 234l12 2 9 8 8 9 4 11 9 8 11 5M72 234l12 1 12 2 11 2 11 6M34 289l-7 9-9 8-6 10-2 12M18 290l-6 10-7 9-7 10-10 7M13 264l-11 5-10 7-7 10-8 9M13 264l-9 8-9 8M-19 247l-9 8-8 9-4 11-1 12M19 220l-8-8-6-10-4-12M19 220l1-12-3-12M215 296l11 5 6 10M166 297l-12 4-12 1-11 1-12-4M154 317l-2 12-6 10M176 321l-1 12 0 12M137 280l-6 9-6 11-9 8-8 10-6 9M104 293l-12 3-11 4-12 2M128 319l-2 12-1 12 1 12M158 256l-4-11-4-12-4-11M149 234l-1-12-2-12M289 264l11 3 12 0 12-1 12-1 8-9M99 298l6 10 5 11M70 269l-12-1-10-6M107 256l9-8 4-11M116 283l7 10 4 11M167 335l12 1 10 6 11 5M139 337l7 10M114 343l-11 5-11-3M129 316l-5-12M310 238l5-11 0-12-1-12 0-12 3-12 1-12M354 257l6 11 6 10 5 11 4 12M317 278l11-5 12 3 10 6 9 8 10 6 12 3 12 0 12 3M376 287l9 8 6 10 12 3 10 6 11 5M280 281l7 9 9 8 12 3 11 5 11 4M279 316l5 11 6 10 8 9M218 248l-12-2-12 0-12 2-11 4-12-1-12 0-12-2M175 229l-12 1-12-1-12 3-12 2M240 196l1-11 8-10 9-7 8-9 4-12 0-12-1-12 1-12M206 147l-7-9-9-8-10-7-9-8-10-7M252 182l2-12-3-11-5-11M339 240l8-9 10-6 11-5 12-3M321 309l8 9 11 4 11 4 12 2 9 9 5 10 3 12M380 297l11-2 12 0 12-1 12 1 11-5M254 350l-10-7-10-6-10-7-10-7-11 4-10 6-12 4-12 1M241 407l0 12 1 12-1 12 2 12 2 12M250 341l-8 9-7 10-7 9-7 10-9 8-8 9M266 385l0 12 3 12 5 11 7 10M159 334l-11 2-12 2-12 1-12 2-11-4M273 226l0-12 1-12-2-12M278 216l3-12 3-11 3-12 2-12M362 270l8-8 5-11 8-9 8-9 7-10M217 339l-10-5-12-4-9-7-9-8-12-2-12-3M191 377l-10 6-11 4-12 0-12-4M198 321l-12 2-12 4-11-2-12-2-12-4-9-8-8-9M200 379l2 12 3 11 4 12 4 11 1 12M232 322l-4-11 0-12-3-12-4-11M261 301l9-8 12-3 10-7M196 394l3 12 2 12 4 11-1 12-2 12-9 8-11-3M181 439l-5 11 3 12 7 9 5 12M184 403l-11 4-12 2-12 2-10 6-9 8-9 7-6 11-7 10M171 458l-7 10-11 4-12 3-11 4-12 4M233 296l12-2 12-1 12-2 12-1 11 3 12 2 12-4 12 0M263 246l6-11-1-12 1-12-1-12-2-11M340 357l9 8 5 11 10 7 11 5 11 4M340 357l3 11 2 12 1 12M298 366l-11-4-12 4-12 2-11 5-10 6M298 366l-6 10-5 11-2 12M268 336l-11-5-9-8-4-11-2-12-6-10-1-12-1-12M268 336l-11 4-9 8-3 11-9 9M310 311l0-12 2-12M311 311l3-12 3-12 5-11-1-12M311 311l7-10 10-8M330 351l8-9 6-10 7-10 4-11M330 351l4 12 5 11M0 190l-9-9M15 172l0-12-1-12M31 225l7 9 5 11 2 12M1 217l-9 8-9 8M398 325l-10 8-10 6-11 5-12 2-12-1-11 2-11 6-12 2-11 4-8 9-9 8-6 10-9 8-11 6-11 4-11 5M230 107l4-11 5-11 3-12-1-12 2-12 5-10 8-9 9-8 8-9 10-6 11-6 12-2 12 0 10 7 10 6 10 7 11 4 10 7 11 6M231 333l-8-9-9-8-9-9-10-5-11-5-12-4-12 0-11 4-10 6-10 7-10 7M83 367l12 0 11 1 12 2 12 1 12 2 12-1 12 0 12 0 11 3 10 7 10 8 6 10 8 9 8 8 8 10M231 27l11 3 12 1 12 2 12 0 12-3 10-5 11-5 12-2 12-1 12 1 12-1 12 2 12 0 12-2 12-1 11 1 11 6 5 11 5 11 2 12 4 11 4 11 7 10 1 12 0 12 0 12 1 12 0 12 0 12M175 56l4-12 6-9 8-10 5-11 5-11 3-11 5-11 4-11 6-11 7-10 9-8 10-6 10-6 12-3 11-5 11-4 11-4 12-4 10-7 10-6 8-9 5-11 4-11 5-11 5-11 6-10M144 20l-2 12 0 12 1 12 1 12 0 12 0 12 0 12 3 11 3 12 6 10 5 11 4 11 5 11-1 12 1 12 4 12 6 10 9 9 7 9 7 10 9 7 9 8M406 237l-4 11-7 10-9 8-10 7-10 6-7 10-10 7-11 4-11 5-12 4-11 4-11 3-12 4-12 2-12 2-12 0-11-2-12 0-12-2-12-3-11-5-11-5-11-3-11-6-12-3M271 399l4-11-1-12-4-11-6-11-6-10-10-6-12-1-12-3-11-5-11-5-12-2-11-5-7-9-6-11-9-7-10-7-10-7-11-4-11-5-11-6-9-7M41 206l7-9 8-9 6-11 11-4 11-3 12-2 11-6 8-9 5-11 3-11 7-10 9-8 9-8 8-9 7-10 9-8 8-9 10-6 11-6 10-6 11-6 10-6 9-8 6-10M234 6l-7-10-4-11-8-10-4-11-9-8-8-9-8-9-7-9-4-12 0-12 0-12 0-12 2-12 0-12-4-11-5-11-9-8-7-10-1-12-1-12-4-11-5-11-9-8-10-7-7-10M221 398l-11 4-11 6-12 2-12-1-11-4-11-3-12 1-12 2-12 1-12-3-12-2-11 2-12 3-9 8-9 8-7 10-2 12 4 11 1 12 2 12 2 12 1 12M363 26l6 10 7 10 5 11 4 11 2 12 3 12 4 11 6 10 7 10 10 7 11 4 12 1 11 5 10 7 8 9 11 6 10 5 10 7 11 6 11 4 11 5 10 6M90 62l4-11 3-12 1-12 5-11 7-9 6-11 3-11 1-12-1-12-2-12-1-12-3-11-7-10-7-10-6-10-7-10-6-11-8-9-6-10M419 414l6 11 7 9 6 11 7 10 7 9 9 9 9 7 12 4 11 4M419 -12l3-12-1-12 2-12 1-12 3-11-1-12 0-12 3-12 2-12 2-12-1-12 0-12-5-11-6-10-8-8-10-8M180 365l8 9 9 9 7 10 7 10 5 10 6 11 7 9 6 11 9 8 9 8 10 6 10 6 11 6 10 6 12 4 12 0 11 4 11 6 11 4M27 365l12 2 12 3 11-2 12 0 11 5 10 7 10 7 11 5 11 6 11 4 12 3 11 4 11 5 11 4 9 7 11 5 12 5 11 2 12 3 12 1 12 1 12 2 12-1 12 0 12-1 11-2 12-1 12 0 12 3M-15 131l-12-3-11-2-12-2-12-2-12-2-12 1-11 4-10 8-9 7-10 7-10 6-8 9-10 7-10 7-12 2-12 0-11 2-12-1-12 3-11 6-10 6M45 63l9 7 10 8 8 8 4 11 6 11 6 11 8 8 9 9 10 6 11 4 11 4 12 2 11 5 11 4 12 2 12 0 12-2 12-3 8-8 9-9 9-8 12-2 12 3 10 5 11 5 12 3 11 3M118 371l10-7 7-10 6-10 8-9 6-11 10-6 11-4 10-8 11-5 11-5 10-6 12 0M137 304l-10-8-7-9-2-12 0-12-1-12-2-12-8-9-12-3-10-6-11-4-12-1M245 276l4 11 2 12 2 12 3 11-1 12 0 12-1 12-1 12 2 12 2 12-4 11-3 12 2 12 3 11 4 12 2 12 3 11 4 11 1 12-2 12 5 11M196 25l-1-12-2-12-5-11-9-8-8-9-9-7-10-8-12-2-11 2-12 1-12 0-12-3-11-4-12 1-12 3M207 154l6-11 3-11 1-12 7-10 5-11 7-10 5-11 6-10 6-11 9-8 10-6 9-9 5-11 5-10 3-12 1-12 1-12 0-12M345 237l-4 11-5 10-9 9-6 10-7 11-6 10-5 10-4 12-3 12-2 11 1 12 4 11 5 12 2 11 9 9 11 4 12 1 12-2M147 399l-11 4-12 3-12 1-11 3-12-1-11-4-12-2-10-7-8-8-5-12 1-12 2-11 2-12 3-12 3-11 7-10 5-11 6-11 9-8 6-10 8-9 8-9 6-10 7-10 2-12 7-10 5-11M164 305l11 5 10 7 8 8 9 9 10 6 10 7 9 8 9 9 7 9 5 11 7 9 1 12-2 12-4 11-5 11-4 11-1 12M130 120l-4 11-6 10-5 11-9 8-12 4-12 1-11 3-12-1-12 0-12 0-12-2-12-1-11 4-12 3-12 3-11 4-9 8-8 9-7 10-8 9-8 9M149 185l12-4 11-2 12-2 12-3 12-1 12 1 12 2 10 5 11 6 12 2 11 2 12 1 12-1 11 5 12 2 12-2 12 0 12-2M414 60l9 8 10 6 9 8 8 10 7 10 4 11 2 11 1 12-1 12 4 12 1 12 1 12-2 12-4 11-3 12-6 10-9 8M39 188l-12 1-11 5-12 2-11 4-12 3-12-1-12-1-12-2-12-2-12 1-12 1-12 1-11-2-12-1-12-2-12 0-12 3-12-1-12-1-11-1-12 0M125 338l12 3 12 1 10 5 12 4 11 4 12 2 12 0 12-2 11-2 11-6 12-3 11-3 12-1 12 0 12 2 11 6 11 5 9 7 11 4M-11 116l11-4 10-7 10-7 9-8 7-9 6-11 3-12-2-11 0-12 0-12 5-11 6-10 6-11-2-12 1-12 2-12 3-11 0-12M413 329l-12 0-11 3-12 4-11 4-12-2-11-5-10-6-10-7-10-6-11-6-12-2-12-1-12 1-10 6-11 5-8 8-10 7-12 3M83 327l12 3 12 2 11 3 11 5 10 6 9 8 11 6 11 3 11 6 9 8 5 11 6 10 0 12 3 12 4 11 8 9 10 7 5 10 4 12M19 258l11-5 11-6 12 0 12 0 12 2 12 1 12 0 11-4 11-4 11-4 12-4M226 375l12 0 12 0 11 5 7 10 6 10 7 10 8 9 3 11 4 12 1 12 2 12 4 11 4 11 7 10 5 11 4 12-1 12 2 11 6 11 3 12 4 11 4 11 2 12-1 12-4 11-3 12M18 252l8 9 11 6 9 7 10 8 11 3 12 2 11 4 11 5 10 7 9 8 8 9 8 9 8 8 11 6 8 9 7 10 6 10 5 11M415 201l4-11 2-12 1-12 0-11-1-12-1-12-3-12 0-12-3-12-2-12M33 224l-9-8-10-6-8-9-7-10-7-10-5-11-3-11-3-12-4-11-7-10-9-8-8-8-11-6-8-9-8-9M374 37l10-7 9-8 5-11 5-11 2-11 1-12 0-12 3-12 5-11 4-11M22 143l-6 10-8 10-7 9-8 10-8 8-9 7-12 3-10 7-12-2-12 0-11-1-12 2-11 4-11 5M320 171l8 9 10 7 10 5 10 8 9 8 8 9 9 7 11 6 7 10M359 114l10 5 12 4 12 0 12 1 11-2 12-2 11 4 11 5 12 1 12 0 12-3M102 418l-9-9-7-10-6-10-3-11-2-12-3-12-2-12-1-12-4-11-5-11-4-11-6-11-5-11-4-11 2-12M228 168l11 5 11 5 12 2 11-2 12 0 11 6 11 4 10 7 10 6 11 6 10 7 8 8M10 336l-1 12 0 12-2 12 4 11 2 12-2 12-2 12-1 12-7 9-8 9-10 7-8 9-8 9-6 11-4 11 0 12 3 11 0 12-2 12-3 12-5 10-3 12 0 12 0 12 3 12-2 12M40 372l10 8 9 7 4 11 8 10 10 5 11 5 11 5 12 3 10 6 10 7 11 4 10 7 6 11 6 10 4 12 1 12 3 11 4 11 5 11 2 12 3 12 4 11 7 10 4 11 5 11 4 12 7 9 5 11 5 11M358 262l-11 5-11 3-12 1-12 1-12 2-12-1-12-1-12 3M117 123l23-18 24-17 20-6M257 301l35 26 23 9M175 272l24 14 46 15M164 169l-18-52-12-47-6-47M263 248l41-26 46-23 53-24M210 345l-11 29-6 29M29 143l-11 50 5 46M184 82l38-12 41-12 41-23 41-12M58 225l-5 49-12 53-6 76M117 123l-24-53-40-35-41-23"/>
<path stroke-opacity="0.05" stroke-width="4" d="M319 80l-8 9-9 8-10 7M319 80l-12 2-11 2M319 80l-9-7-6-11M319 80l-4-11-9-8-7-10M319 80l10-7M319 80l12 2M301 143l-12-2M301 143l10-7 8-9M301 143l1-12M301 143l11 5 12 1 12 0M301 143l8 10 1 12M301 143l-11 5M301 143l-11-2-11-7M94 275l1 12 4 11M94 275l-12-3-12-3M94 275l3-12 10-7M94 275l12 2 10 6M132 327l12 0 11 4 12 4M132 327l7 10M132 327l-9 8-9 8M132 327l-3-11M10 196l-10-6M10 196l3-12 2-12M10 196l7 9 9 9 5 11M10 196l-2 12-7 9"/>
<path stroke-opacity="0.10" stroke-width="3" d="M184 82l-6-35-3-35-3-15M29 143l41-9 47-11M222 134l-23 18-30 17M257 301l-23 14-24 30"/>
<path stroke-opacity="0.10" stroke-width="4" d="M185 140l2 12-3 11-2 12-2 12 3 12M160 76l-12 1-12 0M142 39l-10-7-9-8-11-3-7-10-6-11M187 21l0-12 2-11 6-11 1-12 4-11M191 132l-10 6-12 4-11 4-11 5-11 5M65 97l4-11 9-9 6-10 7-10 9-8M52 143l12-3 12-1M60 160l9 8 3 11 1 12M21 201l0 12-1 12-2 12 0 12-1 12M39 199l3 12 1 12-3 12 1 12-4 11M-10 100l0-12 3-11-4-12-3-11-3-12M101 77l-7-10-4-11-2-12-2-12M130 79l-3-11-1-12 0-12 4-12 2-11M140 130l10 7 12-2M151 151l10 7 10 6 9 8 9 9M71 123l-8 9 1 12 0 12 0 12M140 83l12 0 11-5 12-4 11-4M122 183l-12 2-10 5M147 135l-7-10-7-10-9-8-9-8M179 196l8 9 3 12-4 11M163 236l7 10-2 11-6 11-3 12-3 11M105 169l-12 3-11-2-10-7-7-10-11-4M149 140l-5-11-6-10-7-10M190 150l7-9 6-10 10-8M208 188l12-1 12 2 10 7 8 9M201 218l-5 11-5 11-10 7-9 7-5 11M117 175l-12-3-7-10-6-10-8-9M146 143l-1-12 5-11 6-11M46 22l-4-11M46 22l9-9 8-9M46 22l4 11 1 12M46 22l-5 11-5 11M46 22l-12 2-12 0M374 42l8 9 10 7 7 9M309 29l-12 2-11 5-10 5M315 1l-9-7-10-7-11-5M388 -19l6-10 3-12 5-11 2-12 7-9M361 5l6-11 6-10M213 28l-12 1-11-2-12-4M213 28l-4-11 4-11 4-12M213 28l12 0 9-8 3-12M213 28l10 7 9 8 9 7M213 28l3 12 6 10 6 10M251 187l2 12 6 11 5 11 7 9 11 4M235 178l7 10 9 6 11 6 10 6M163 129l-12-2-12 1-12-1-12 2-12-1M238 91l5-11 7-9 10-7 11-6M254 103l4-11 11-7 9-7 12-2M194 284l11 5 10 7M166 297l-7 9-5 11M173 298l5 11-2 12M137 280l-11 3-11 6-11 4M138 286l-6 10-4 11 0 12M158 256l-7-10-2-12M229 260l12 2 12 1 12 1 12 1 12-1M310 238l12 4 11 5 11 4 10 6M317 278l11 4 12 2 12 2 12 0 12 1M280 281l1 12-3 11 1 12M218 248l-11-6-9-6-11-6-12-1M240 196l-6-10-6-10-7-10-8-9-7-10M250 217l1-12-4-12 5-11M301 269l10-6 10-8 10-7 8-8M321 309l12-2 11-4 12 0 12-2 12-4M254 350l-5 11-4 11-2 12 1 12-3 11M250 341l1 12 8 9 4 12 3 11M205 299l-12 2-9 7-6 11-9 8-10 7M262 260l4-11 3-12 4-11M272 262l6-10 0-12 0-12 0-12M306 293l12-3 11-5 11-5 11-5 11-5M217 339l-2 12-6 11-7 9-11 6M198 321l-6 11 0 12 4 11 1 12 3 12M232 322l10-7 10-6 9-8M196 394l-2 12-4 11-6 11-3 11M184 403l-7 10-3 12 4 11-1 12-6 10M233 296l5-11 6-10 3-12 7-10 9-7M184 82l-6 35-7 29-7 23M164 172l29 21 29 23 29 23 12 9M263 248l-3 26-3 24M146 184l-29 15-29 11-30 15-29 14M152 187l12 35 8 35 3 15"/>
<path stroke-opacity="0.10" stroke-width="5" d="M183 80l0 12 2 12 0 12-1 12 1 12M183 80l-11-4-12 0M183 80l-8-9-10-7-4-11-8-9-11-5M183 80l5-11 1-12-1-12-2-12 1-12M183 80l10 8 5 10 1 12-2 12-6 10M28 143l6-10 9-9 8-8 5-11 9-8M28 143l12 1 12-1M28 143l11 6 10 6 11 5M28 143l2 12-1 12 0 12-2 12-6 10M28 143l-3 12 6 10 0 12 3 11 5 11M28 143l-11-4-9-8-8-9-6-10-4-12M118 121l-1-12-4-11-6-11-6-10M118 121l11-3 10-6 2-12-3-12-8-9M118 121l10 5 12 4M118 121l3 11 9 8 11 4 10 7M118 121l-12-1-12 0-12-2-11 5M118 121l1-12 4-11 6-10 11-5M146 182l-12 1-12 0M146 182l1-12-1-12 3-11-2-12M146 182l11 4 11 5 11 5M146 182l-1 12-1 12 4 11 6 11 9 8M164 172l-11-5-12 1-12-2-12 2-12 1M164 172l-2-12-7-10-6-10M164 172l10-6 11-4 5-12M164 172l11 4 12 1 10 7 11 4M164 172l7 9 10 8 7 9 9 8 4 12M164 172l-12 3-11-3-12 2-12 1M164 172l-9-8-7-10-2-11M344 22l10 6 9 9 11 5M344 22l-11 3-12 3-12 1M344 22l-8-9-10-5-11-7M344 22l8-9 9-8 8-9 10-7 9-8M344 22l9-8 8-9M221 136l4 11 8 9 7 10 6 10 5 11M221 136l-5 11 5 11 7 10 7 10M221 136l-12 0-11-4-12-3-12-3-11 3M221 136l4-12 5-11 2-11 6-11M221 136l11-5 9-8 7-10 6-10M25 243l-4-11-6-10M25 243l11-4 12-2 12-2 12-1M25 243l7 10 3 12 1 12-2 12M25 243l-1 12 0 12 0 12-6 11M25 243l-6 11-6 10M25 243l-12-2-11-3-12 1-9 8M25 243l-4-11-2-12M173 275l11 2 10 7M173 275l-1 12-6 10M173 275l-3 11 3 12M173 275l-12 0-12 4-12 1M173 275l-12 4-11 2-12 5M173 275l-9-9-6-10M173 275l10-6 10-6 12-2 12 0 12-1M264 249l11-5 12-2 12-2 11-2M264 249l11 5 11 6 10 5 10 7 11 6M264 249l3 12 8 9 5 11M264 249l-11 4-12 2-12-3-11-4M264 249l-8-8-5-11-5-11 1-12-7-11M264 249l-6-10-6-11-2-11M264 296l11-5 9-8 11-3 6-11M264 296l12 0 12 0 12 3 10 7 11 3M264 296l-1 12-3 11 4 11 0 12-10 8M264 296l-3 11-5 11-3 12-3 11M264 296l-11 4-12 0-12 0-12 0-12-1M264 296l0-12-3-12 1-12M248 303l8-9 6-10 5-11 5-11M248 303l12 0 11-5 12-3 11-2 12 0M248 303l-7 10-5 11-9 8-10 7M248 303l-12-4-12 0-11 5-9 7-6 10M209 349l8-9 7-9 8-9M209 349l1 12-3 12-5 11-6 10M209 349l-9 9-5 11-3 11-4 12-4 11M209 349l0-12 5-10 7-10 7-10 5-11M313 335l11 5 10 6 6 11M313 335l0 12-7 10-8 9M313 335l-10-6-12-2-12 4-11 5M313 335l-2-12-1-12M313 335l0-12-2-12M313 335l8 8 9 8"/>
</g>
<circle cx="267.8" cy="591.4" r="4.9" fill="url(#cg2)" opacity="0.50"/>
<circle cx="220.6" cy="610.5" r="4.4" fill="url(#cg2)" opacity="0.50"/>
<circle cx="247.9" cy="603.7" r="3.3" fill="url(#cg2)" opacity="0.40"/>
<circle cx="256.5" cy="622.4" r="4.9" fill="url(#cg2)" opacity="0.45"/>
<circle cx="261.9" cy="619.3" r="4.4" fill="url(#cg2)" opacity="0.95"/>
<circle cx="226.1" cy="573.7" r="3.3" fill="url(#cg2)" opacity="0.20"/>
<circle cx="317.1" cy="573.7" r="3.6" fill="url(#cg2)" opacity="0.30"/>
<circle cx="277.1" cy="575.5" r="2.6" fill="url(#cg2)" opacity="0.20"/>
<circle cx="279.4" cy="608.2" r="3.6" fill="url(#cg2)" opacity="0.35"/>
<circle cx="309.4" cy="591.4" r="3.8" fill="url(#cg2)" opacity="0.12"/>
<circle cx="303.9" cy="610.5" r="3.3" fill="url(#cg2)" opacity="0.10"/>
<circle cx="219.7" cy="640.9" r="4.3" fill="url(#cg2)" opacity="0.42"/>
<circle cx="264.6" cy="650.5" r="4.1" fill="url(#cg2)" opacity="0.95"/>
<circle cx="240.6" cy="650.5" r="3.3" fill="url(#cg2)" opacity="0.15"/>
<circle cx="252.4" cy="666.4" r="2.5" fill="url(#cg2)" opacity="0.10"/>
<circle cx="292.6" cy="642.8" r="4.1" fill="url(#cg2)" opacity="0.40"/>
<circle cx="292.6" cy="656.9" r="4.1" fill="url(#cg2)" opacity="0.50"/>
<circle cx="287.6" cy="659.2" r="4.1" fill="url(#cg2)" opacity="0.90"/>
<circle cx="275.7" cy="673.2" r="4.1" fill="url(#cg2)" opacity="0.40"/>
<circle cx="307.6" cy="668.7" r="3.4" fill="url(#cg2)" opacity="0.20"/>
<circle cx="215.1" cy="626.5" r="2.5" fill="url(#cg2)" opacity="0.10"/>
</g>
<circle cx="309.8" cy="592.2" r="7" fill="none" stroke="#f7921e" stroke-width="1.5"/>
<circle cx="220" cy="642.2" r="7" fill="none" stroke="#662d91" stroke-width="1.5"/>
<circle cx="308.8" cy="670" r="7" fill="none" stroke="#c8d82c" stroke-width="1.5"/>
<rect x="314" y="684.6" width="18.4" height="3" fill="#fff"/>
<text x="228.6" y="564.8" font-size="11.2" textLength="76.6" lengthAdjust="spacingAndGlyphs">1 Field stimulus</text>
<text x="249" y="700.8" font-size="11.2" textLength="47.9" lengthAdjust="spacingAndGlyphs">+2 frames</text>
<g clip-path="url(#c9)">
<rect x="366.0" y="567.0" width="122.0" height="121.6" fill="#040404"/>
<g transform="translate(366 567) scale(0.305)" fill="none" stroke="#fff" stroke-linecap="round" stroke-linejoin="round" filter="url(#fb)">
<path stroke-opacity="0.05" stroke-width="2" d="M42 11l5-11 8-9M41 -1l4-12M77 -15l5-11 6-10M44 68l-4 12-3 11M28 66l-6 10-3 12M2 37l-10 6-10 7M143 16l-12 3-12-1-12 2M217 -6l-2-11 0-12-2-12-2-12-2-12M241 -32l9-8 10-7 8-9M254 -23l4-12 4-11 2-12M241 50l12-1 12 0 12-1 12-3M268 75l9 8 9 7 11 5M228 60l-7 9-10 7-11 4-12 3-12 1M242 92l6 10 3 12 5 11M292 104l-12 1-12 2-11 5-12 2-11 5M257 111l-11-2-11-6-10-7M276 97l-10 5-12 2M304 62l-9-8-6-10-2-12M305 38l1-12 8-9M266 41l-12-3-12 3-11 3M338 65l10-5M342 76l8-9M278 143l-10-7M330 106l4-11 1-12M302 131l11-1 12-1M293 123l-10-6M336 149l4 12 1 12-5 11-1 12M371 142l10-7 11-5 12 2M314 188l1 12 7 10M281 156l-2 12M279 134l-12 1-11 1-12-2M265 115l-10-7-8-9M3 201l-3-12-7-10M118 245l12 3 12-3 10-5 12 2M10 328l0 12-3 12 0 12 1 12M-12 326l-12 0-12 0-12 0-12-2M-5 280l-11 5-10 7M-41 287l-7 10-9 8-9 7-11 6M17 196l3-11 3-12M110 319l5 11 7 10M70 269l-12-1-11 2-12 4M48 262l-10-7-10-7M107 256l11-3 11-5 8-10 6-10M120 237l6-10 5-11M127 304l1 12-2 12M200 347l10 7 10 6 9 8M139 337l-6 11-5 11M146 347l10 6M92 345l-12-3-11 3M129 316l-11-6-10-7M124 304l-1-11M346 392l0 12-4 12-4 11M285 399l-5 10-7 10-8 9M236 368l-10 5-9 8-8 9-5 11M312 287l4-11 6-11M328 293l10-6 10-7M339 374l5 11 8 9M0 190l-4-11-6-11M-9 181l-6-10M15 172l-5-11-9-8-10-6M14 148l-2-12-2-12M31 225l12 1 12 0 12 0 10-6 12-3M45 257l3 12 9 8 7 9M-17 233l-12 2-11-4M110 320l-5-11-7-10-5-11-4-11-5-11-7-9-3-12 2-12 3-12 2-11 4-12 2-12 2-11 4-12 5-11 7-10 6-10 7-10 3-11 0-12 0-12 0-12 5-11 6-10 3-12 5-11M182 360l-11 5-11 4-11 6-9 7-8 9-11 5-11 6-8 8-12 4-11 5-10 6-11 4-11 5-11 5-11 4-10 7M416 180l9 9 9 7 9 8 10 7 9 7 9 9 8 9 5 11 2 12 5 11 3 11 3 12 5 11 5 11 3 11 2 12 0 12 1 12M174 144l-12 1-12-1-12-1-11-4-12-2-12-1-12-2-10-6-8-10-10-6-11-5-9-7-9-9-9-8-10-6-11-4-9-8-8-9M120 103l-10-6-11-6-9-7-10-8-10-6-12-3-10-6-9-7-5-12-4-11-4-11-4-11-2-12-1-12 3-12 6-10M57 262l3-12-2-12 2-12-1-12-1-12-4-11-4-11-5-11-5-11-5-11-2-12-3-11-7-10M147 230l3-12 6-11-1-12-1-12 4-11 9-8 7-10 7-10 8-9 4-11 0-12-3-12-3-11M219 8l0-12 2-12 5-11 7-10 9-8 10-6 9-9 8-9 8-8 8-9 10-6 8-10 7-9 4-12 7-9 9-8 11-6 8-9 7-9 9-9 4-11 8-9 11-4 11-6 11-5 9-8M127 156l-9 8-9 7-11 6-11 5-12 0-12-1-12-2-8-8-10-7-11-4-11-5-10-7-12-1-12-4-10-6-8-9-5-11-7-9-10-7-12-3-11-5-12 2M112 193l-4-12-1-11-2-12 1-12 5-11 8-9 9-8 8-9 9-8 7-9 4-12 4-11 6-11 6-10 5-11 2-11 3-12 5-11 9-9 11-4 11-5 10-6 7-10 10-7 10-7 11-3 12-4 11-4M178 296l-2-12-6-10-12-5-10-6-11-5-11-3-11-6-11-3-12-4-11-4-11-5-11-5-10-7-9-8-9-8M10 36l-2 12-4 11-6 10-7 10-7 10-8 8-9 8-10 8M36 347l-12-1-12 0-12 0-12-2-10-6-9-8-10-7-10-5-11-5-11-5-9-8-10-8-10-6-11-5-9-8-10-7-9-7-10-7-7-10-6-10-2-12-5-11-6-10-6-11-7-9-8-10-8-8-8-10-8-9M80 232l-3-12-7-9-10-7-10-8-9-7-10-7-7-9-8-10-10-6-12-4-11-3-12-2-12 0-11 4-10 8M44 5l-3 12-2 12 0 12 0 12 2 11 6 11 7 10 3 11 5 11 9 9 10 5 9 9 8 8 5 11 6 10 7 10 10 8 8 8 7 10 3 12 2 12 3 11 7 10 8 9 8 9 10 5M-9 353l0 12 4 11 2 12 3 12 5 11 1 12-3 12 0 12-2 11-1 12 0 12 2 12-1 12-4 11 2 12 2 12 1 12 1 12 2 12 0 12-5 10-4 12-3 11-3 12M368 205l-8-8-11-6-10-6-11-5-8-9-7-10-4-11-7-10-6-11-7-9-3-12-1-12 0-12-1-12-3-11M198 189l3-11 4-12 3-11 4-11 0-12 1-12 2-12 2-12 4-11 5-11 3-12 4-11 2-12 0-12 0-12 3-12 4-11 9-9 10-6 11-5 11-4M280 284l-6-10-4-12-4-11-1-12 2-12 2-11 0-12-1-12-1-12 1-12 3-12 3-12 8-9 9-7 7-10 7-10 9-7 11-6 11-5M-10 375l-3 12-1 12-1 12-2 12 0 12-1 12 8 9 5 11 5 11 6 10 6 11 5 10 7 10 2 12-2 12 0 12-2 12-6 11-9 7M166 83l-1-12-1-12 2-12 0-12-2-11-1-12 0-12-2-12-4-11-1-12-2-12-4-12-1-12-4-11 0-12-3-12-1-12-1-12-3-11-3-12-4-11-3-12-2-12-4-11M36 279l12 3 10 6 10 6 12 3 9 8 9 8 11 5 11 3 10 8 6 10 7 10 4 12M117 271l-2 12-4 12-5 10-10 7-7 10-8 9-6 10-2 12-6 11-4 11-7 10-6 10-4 12-2 11-4 11-5 11-4 12-2 12 1 11 1 12 2 12-1 12 0 12-3 12 0 12 2 11M187 218l11 4 10 6 9 8 10 8 11 4 10 6 12 2 12 2 12-2 12 0 12-1 11-4 10-7 7-10 7-10 8-8 8-9 9-8 11-6M160 232l-12 0-12 2-12 0-10 6-11 5-10 7-8 8-7 10-7 10-9 8-10 6-10 8-8 8-6 10-6 11-4 11-3 12M52 345l-9-8-5-11-4-11-2-12-2-12-2-12 0-12 2-11-2-12-3-12-1-12-1-12 3-12 1-12 4-11 6-11 8-8 6-11M389 393l-1 12-3 12 0 12-2 12 1 12-1 12-1 12 4 11 2 12 4 11 3 12 6 10 8 9 4 11M111 -9l-2-12-3-11-5-11-6-10 1-12 4-12 2-12 1-12 3-11 3-12 2-12 4-11 0-12 7-10 10-7 10-5 12-4 12-3 11-2 12-4 11-3 10-7 10-7 11-4 11-6 12-1 11-2M229 403l9-8 10-7 9-8 7-9 8-10 10-6 6-10 10-7 9-8M88 326l10 7 8 9 7 9 9 9 9 7 11 6 9 8 10 6 11 6 11 4 10 6 9 8 7 10 7 9 10 8 9 8 5 11 5 11 4 11M410 326l-11 5-12 3-12 2-12 1-11-4-12-3-11 1-12 4-11 5-8 9-8 9-7 9-6 11-7 10-3 11-3 12-4 11M115 55l-12-1-12 2-12-1-12 1-12 1-12-1-12-1-12-3-10-7-7-10-10-7-10-5M131 50l12 0 12 2 11 1 12 3 12 3 11 5 10 5 10 8 6 10 7 10 7 10 2 12-1 12-1 12-1 12-1 12-3 11 4 12 4 11 4 11 3 12 2 12 3 11 3 12 3 12 2 11 8 10 7 10M-8 263l-5-10-7-10-10-7-12-1-11 3-12 1-11 6-12 0-12 1-12 3-11-3-11-5-11-5M218 239l-3 12-5 11-9 8-11 5-5 11 0 12 2 12 0 12 4 11 2 12 3 12 3 12 1 11M400 44l12 4 12 1 12 1 11 4 11 4 12 4 11 3 12 2 12-2 11-5 8-9 8-9M228 362l-11 5-7 9-11 6-10 6-10 6-11 6-9 7-10 7-11 3-12 3-12 3-12-1-11-5-10-7-7-9-8-10-5-10-4-12M113 7l-7-10-8-8-7-10-9-8-10-7-11-5-11-2-12-2-11-6-10-6-10-6-12-3-11-5-12-2-11-4-12-4-11-4-11-4-11-5M156 119l4 12 4 11 8 9 2 12 4 11 1 12 2 12 3 12 2 11 2 12-4 12-3 11-7 10-7 9-6 11-6 10-5 11-9 8-10 7-11 4-10 8-10 6-4 11M296 347l-11-4-11-5-12-3-11-4-11-5-8-9-9-8-8-8-6-11-6-10M102 46l8 10 11 2 12 3 11 4 12 2 12 1 12-1 12-3 11-3 11-5 12-3 12-2 12 2M226 192l11-4 11-6 10-5 12-4 11-5 11-4 12-1 12-2 12-2 12-1 11-5 12-1 11-5 9-8 6-10 5-11 6-11 6-10 5-11 3-11 4-12 4-11 2-12 2-12 3-11 5-11M58 73l-8 9-7 10-4 11-3 12-4 11-4 11-5 11-8 9-8 9-5 11-6 10-4 12-11 6-6 10-5 11-2 11M361 150l9 8 11 7 8 8 11 5 11 5 12 0 12-1 12-4 11 3M331 364l-4-11-4-12-1-12-5-11-1-12 1-11 6-11 7-10 8-8 7-10 9-8 5-11 5-11 5-11 5-11 6-10 8-9 8-9 8-9 9-8 6-10 6-11 8-9M-12 294l10-6 10-7 10-6 11-4 12-5 11-3 12 3 11 4 11 6 10 6 10 6 12 3 11 4 11 5 10 6M168 153l12-4 10-6 11-5 11-5 9-8 8-9 10-7 10-6 10-7 10-7 8-9 9-8 6-10 7-9 11-5 8-9 11-6 11-4 11-5 12-3 10-6 11-5 12-3 11-5 11-5 12-1"/>
<path stroke-opacity="0.05" stroke-width="3" d="M183 199l-5 11-5 10-3 12-7 10-3 12M136 77l-12-3-12-2M99 0l-7-9-10-7-10-7-10-6-9-8M200 -36l5-11 3-12 9-7 7-11 5-11M136 156l-11 4-12-2-11-5-12 0-10-5M100 49l9-8 9-8 10-7 10-6 11-3M76 139l12 0 12 0M73 191l3 12 4 11 2 12M17 261l5 11 0 12-1 12 1 12-1 12M37 258l0 12 0 12 0 12-1 12 0 12M-17 42l-9-8-9-7-9-8-12-4-12 0M86 32l-5-11-7-10-5-10-2-12M130 79l-11-3-12-4-7-10-5-10 0-12 2-12 7-10M132 21l7-10 6-10 4-12 10-7 8-8M140 130l8 8 12 5 9 7M162 135l11-3 12 0M189 181l7 9 9 8 9 8 8 9M64 168l0 12-1 12-1 12-5 11M140 83l12 1 11 5 8 9 10 6 12 3 10 7M186 70l8-9 6-10 4-11 5-11M100 190l-9 9-8 9M115 99l-10-7-10-7-8-8-8-9M186 228l0 12-1 12-3 12M156 291l1 12-2 12-4 11-4 12-7 10M54 149l-12-3-12-1-12 1-11 4-11 6M131 109l-7-10-8-9-6-10M213 123l8-9 4-11 1-12M250 205l9 8 10 6 10 7 8 9M167 265l-2 12 2 12 3 11 8 9 10 7M84 143l-8-9-4-11-8-9-7-10M156 109l10-7 4-11 4-11M42 11l-1-12M63 4l7-9 7-10M51 45l-5 11-2 12M36 44l-6 10-2 12M22 24l-10 6-10 7M374 42l11-3 12-4 9-7 8-9 7-9M399 67l7 10 5 11-4 12M309 29l-9-7-11-5-12-2-11-6-12-1M276 41l-8 9-10 7-10 7M315 1l-7-9-10-7-9-8-7-9-7-10M285 -18l-12 2-11 4-11 5M388 -19l8-9 5-11 5-11 4-11 2-12 1-12 0-12M411 -73l11-5 10-7 11-5 11-4 12-1M361 5l11-5 12-4 10-7M373 -16l3-12 9-7M178 23l-12-2-11-3-12-2M217 -6l9-8 7-9 8-9M237 8l5-10 7-10 5-11M241 50l9 9 9 8 9 8M228 60l6 11 0 12 8 9M282 234l11 6 12 3 11 3 12-1 12 2M272 206l12 3 12 1 12-2 11-4M103 128l-11-3-12 2-11 5-10 8-8 8M271 58l9-7 12-4 12-2 12 1M290 76l11-5 11-3 12-4 11-5M292 104l-11 4-12 4-12-1M296 84l-12 3-8 10M304 62l0-12 1-12M299 51l-10-6-11-4-12 0M329 73l9-8M331 82l11-6M289 141l-11 2M319 127l5-10 6-11M302 131l-9-8M336 149l12-1 12-2 11-4M310 165l1 12 3 11M290 148l-9 8M279 134l-6-10-8-9M15 222l-11 4-11-3-12 4M72 234l12 2 9 8 8 9 4 11 9 8 11 5M13 264l-11 5-10 7-7 10-8 9M19 220l-8-8-6-10-4-12M215 296l11 5 6 10M154 317l-2 12-6 10M176 321l-1 12 0 12M104 293l-12 3-11 4-12 2M128 319l-2 12-1 12 1 12M149 234l-1-12-2-12M289 264l11 3 12 0 12-1 12-1 8-9M99 298l6 10 5 11M70 269l-12-1-10-6M107 256l9-8 4-11M116 283l7 10 4 11M167 335l12 1 10 6 11 5M139 337l7 10M114 343l-11 5-11-3M129 316l-5-12M354 257l6 11 6 10 5 11 4 12M376 287l9 8 6 10 12 3 10 6 11 5M279 316l5 11 6 10 8 9M175 229l-12 1-12-1-12 3-12 2M206 147l-7-9-9-8-10-7-9-8-10-7M252 182l2-12-3-11-5-11M339 240l8-9 10-6 11-5 12-3M380 297l11-2 12 0 12-1 12 1 11-5M241 407l0 12 1 12-1 12 2 12 2 12M266 385l0 12 3 12 5 11 7 10M159 334l-11 2-12 2-12 1-12 2-11-4M273 226l0-12 1-12-2-12M278 216l3-12 3-11 3-12 2-12M362 270l8-8 5-11 8-9 8-9 7-10M191 377l-10 6-11 4-12 0-12-4M200 379l2 12 3 11 4 12 4 11 1 12M261 301l9-8 12-3 10-7M181 439l-5 11 3 12 7 9 5 12M171 458l-7 10-11 4-12 3-11 4-12 4M263 246l6-11-1-12 1-12-1-12-2-11M340 357l9 8 5 11 10 7 11 5 11 4M298 366l-11-4-12 4-12 2-11 5-10 6M268 336l-11-5-9-8-4-11-2-12-6-10-1-12-1-12M311 311l3-12 3-12 5-11-1-12M330 351l8-9 6-10 7-10 4-11M0 190l-9-9M15 172l0-12-1-12M31 225l7 9 5 11 2 12M1 217l-9 8-9 8M255 284l9 8 8 9 7 9 4 12 8 9 6 10 6 10 5 11 7 10 7 10 2 11 7 10 6 11 5 11 6 10 6 11 4 11 6 10 5 11 5 11 5 11 5 11 6 10 3 12 2 12M398 325l-10 8-10 6-11 5-12 2-12-1-11 2-11 6-12 2-11 4-8 9-9 8-6 10-9 8-11 6-11 4-11 5M230 107l4-11 5-11 3-12-1-12 2-12 5-10 8-9 9-8 8-9 10-6 11-6 12-2 12 0 10 7 10 6 10 7 11 4 10 7 11 6M231 333l-8-9-9-8-9-9-10-5-11-5-12-4-12 0-11 4-10 6-10 7-10 7M83 367l12 0 11 1 12 2 12 1 12 2 12-1 12 0 12 0 11 3 10 7 10 8 6 10 8 9 8 8 8 10M231 27l11 3 12 1 12 2 12 0 12-3 10-5 11-5 12-2 12-1 12 1 12-1 12 2 12 0 12-2 12-1 11 1 11 6 5 11 5 11 2 12 4 11 4 11 7 10 1 12 0 12 0 12 1 12 0 12 0 12M175 56l4-12 6-9 8-10 5-11 5-11 3-11 5-11 4-11 6-11 7-10 9-8 10-6 10-6 12-3 11-5 11-4 11-4 12-4 10-7 10-6 8-9 5-11 4-11 5-11 5-11 6-10M144 20l-2 12 0 12 1 12 1 12 0 12 0 12 0 12 3 11 3 12 6 10 5 11 4 11 5 11-1 12 1 12 4 12 6 10 9 9 7 9 7 10 9 7 9 8M406 237l-4 11-7 10-9 8-10 7-10 6-7 10-10 7-11 4-11 5-12 4-11 4-11 3-12 4-12 2-12 2-12 0-11-2-12 0-12-2-12-3-11-5-11-5-11-3-11-6-12-3M271 399l4-11-1-12-4-11-6-11-6-10-10-6-12-1-12-3-11-5-11-5-12-2-11-5-7-9-6-11-9-7-10-7-10-7-11-4-11-5-11-6-9-7M41 206l7-9 8-9 6-11 11-4 11-3 12-2 11-6 8-9 5-11 3-11 7-10 9-8 9-8 8-9 7-10 9-8 8-9 10-6 11-6 10-6 11-6 10-6 9-8 6-10M234 6l-7-10-4-11-8-10-4-11-9-8-8-9-8-9-7-9-4-12 0-12 0-12 0-12 2-12 0-12-4-11-5-11-9-8-7-10-1-12-1-12-4-11-5-11-9-8-10-7-7-10M221 398l-11 4-11 6-12 2-12-1-11-4-11-3-12 1-12 2-12 1-12-3-12-2-11 2-12 3-9 8-9 8-7 10-2 12 4 11 1 12 2 12 2 12 1 12M363 26l6 10 7 10 5 11 4 11 2 12 3 12 4 11 6 10 7 10 10 7 11 4 12 1 11 5 10 7 8 9 11 6 10 5 10 7 11 6 11 4 11 5 10 6M90 62l4-11 3-12 1-12 5-11 7-9 6-11 3-11 1-12-1-12-2-12-1-12-3-11-7-10-7-10-6-10-7-10-6-11-8-9-6-10M419 414l6 11 7 9 6 11 7 10 7 9 9 9 9 7 12 4 11 4M419 -12l3-12-1-12 2-12 1-12 3-11-1-12 0-12 3-12 2-12 2-12-1-12 0-12-5-11-6-10-8-8-10-8M180 365l8 9 9 9 7 10 7 10 5 10 6 11 7 9 6 11 9 8 9 8 10 6 10 6 11 6 10 6 12 4 12 0 11 4 11 6 11 4M27 365l12 2 12 3 11-2 12 0 11 5 10 7 10 7 11 5 11 6 11 4 12 3 11 4 11 5 11 4 9 7 11 5 12 5 11 2 12 3 12 1 12 1 12 2 12-1 12 0 12-1 11-2 12-1 12 0 12 3M-15 131l-12-3-11-2-12-2-12-2-12-2-12 1-11 4-10 8-9 7-10 7-10 6-8 9-10 7-10 7-12 2-12 0-11 2-12-1-12 3-11 6-10 6M45 63l9 7 10 8 8 8 4 11 6 11 6 11 8 8 9 9 10 6 11 4 11 4 12 2 11 5 11 4 12 2 12 0 12-2 12-3 8-8 9-9 9-8 12-2 12 3 10 5 11 5 12 3 11 3M118 371l10-7 7-10 6-10 8-9 6-11 10-6 11-4 10-8 11-5 11-5 10-6 12 0M375 39l-12-3-10-7-11-4-11-4-11-5-10-7-11-4-12-2-12-2-11-3M137 304l-10-8-7-9-2-12 0-12-1-12-2-12-8-9-12-3-10-6-11-4-12-1M245 276l4 11 2 12 2 12 3 11-1 12 0 12-1 12-1 12 2 12 2 12-4 11-3 12 2 12 3 11 4 12 2 12 3 11 4 11 1 12-2 12 5 11M196 25l-1-12-2-12-5-11-9-8-8-9-9-7-10-8-12-2-11 2-12 1-12 0-12-3-11-4-12 1-12 3M124 275l9 8 9 8 9 8 8 9 5 11 6 10 6 11 4 11 2 12 3 11 3 12 8 9 6 10 7 10 9 8M207 154l6-11 3-11 1-12 7-10 5-11 7-10 5-11 6-10 6-11 9-8 10-6 9-9 5-11 5-10 3-12 1-12 1-12 0-12M206 53l9-7 10-7 11-4 12-2 12 1 11 3 12 1 12-1 11-5 11-6 10-6 11-4 12-4 11-4 12-2 11-5 10-7 10-6 11-5 10-6M345 237l-4 11-5 10-9 9-6 10-7 11-6 10-5 10-4 12-3 12-2 11 1 12 4 11 5 12 2 11 9 9 11 4 12 1 12-2M147 399l-11 4-12 3-12 1-11 3-12-1-11-4-12-2-10-7-8-8-5-12 1-12 2-11 2-12 3-12 3-11 7-10 5-11 6-11 9-8 6-10 8-9 8-9 6-10 7-10 2-12 7-10 5-11M164 305l11 5 10 7 8 8 9 9 10 6 10 7 9 8 9 9 7 9 5 11 7 9 1 12-2 12-4 11-5 11-4 11-1 12M130 120l-4 11-6 10-5 11-9 8-12 4-12 1-11 3-12-1-12 0-12 0-12-2-12-1-11 4-12 3-12 3-11 4-9 8-8 9-7 10-8 9-8 9M149 185l12-4 11-2 12-2 12-3 12-1 12 1 12 2 10 5 11 6 12 2 11 2 12 1 12-1 11 5 12 2 12-2 12 0 12-2M336 150l-9-8-10-7-8-9-9-7-6-11-8-9-8-9-9-7-7-10-6-10-7-10-5-11-8-9M414 60l9 8 10 6 9 8 8 10 7 10 4 11 2 11 1 12-1 12 4 12 1 12 1 12-2 12-4 11-3 12-6 10-9 8M39 188l-12 1-11 5-12 2-11 4-12 3-12-1-12-1-12-2-12-2-12 1-12 1-12 1-11-2-12-1-12-2-12 0-12 3-12-1-12-1-11-1-12 0M125 338l12 3 12 1 10 5 12 4 11 4 12 2 12 0 12-2 11-2 11-6 12-3 11-3 12-1 12 0 12 2 11 6 11 5 9 7 11 4M-11 116l11-4 10-7 10-7 9-8 7-9 6-11 3-12-2-11 0-12 0-12 5-11 6-10 6-11-2-12 1-12 2-12 3-11 0-12M413 329l-12 0-11 3-12 4-11 4-12-2-11-5-10-6-10-7-10-6-11-6-12-2-12-1-12 1-10 6-11 5-8 8-10 7-12 3M83 327l12 3 12 2 11 3 11 5 10 6 9 8 11 6 11 3 11 6 9 8 5 11 6 10 0 12 3 12 4 11 8 9 10 7 5 10 4 12M19 258l11-5 11-6 12 0 12 0 12 2 12 1 12 0 11-4 11-4 11-4 12-4M226 375l12 0 12 0 11 5 7 10 6 10 7 10 8 9 3 11 4 12 1 12 2 12 4 11 4 11 7 10 5 11 4 12-1 12 2 11 6 11 3 12 4 11 4 11 2 12-1 12-4 11-3 12M18 252l8 9 11 6 9 7 10 8 11 3 12 2 11 4 11 5 10 7 9 8 8 9 8 9 8 8 11 6 8 9 7 10 6 10 5 11M151 282l11-4 12-1 11-5 12-2 12-2 12-1 11-2 12-3 12-2 11-4 12-2 11-5 11-4 12-2 12-4 9-7 8-9 9-8 10-7 10-7 10-6 8-9 10-7 7-10 8-8 7-10 6-11 5-10 4-11M415 201l4-11 2-12 1-12 0-11-1-12-1-12-3-12 0-12-3-12-2-12M33 224l-9-8-10-6-8-9-7-10-7-10-5-11-3-11-3-12-4-11-7-10-9-8-8-8-11-6-8-9-8-9M374 37l10-7 9-8 5-11 5-11 2-11 1-12 0-12 3-12 5-11 4-11M22 143l-6 10-8 10-7 9-8 10-8 8-9 7-12 3-10 7-12-2-12 0-11-1-12 2-11 4-11 5M320 171l8 9 10 7 10 5 10 8 9 8 8 9 9 7 11 6 7 10M359 114l10 5 12 4 12 0 12 1 11-2 12-2 11 4 11 5 12 1 12 0 12-3M102 418l-9-9-7-10-6-10-3-11-2-12-3-12-2-12-1-12-4-11-5-11-4-11-6-11-5-11-4-11 2-12M228 168l11 5 11 5 12 2 11-2 12 0 11 6 11 4 10 7 10 6 11 6 10 7 8 8M10 336l-1 12 0 12-2 12 4 11 2 12-2 12-2 12-1 12-7 9-8 9-10 7-8 9-8 9-6 11-4 11 0 12 3 11 0 12-2 12-3 12-5 10-3 12 0 12 0 12 3 12-2 12M40 372l10 8 9 7 4 11 8 10 10 5 11 5 11 5 12 3 10 6 10 7 11 4 10 7 6 11 6 10 4 12 1 12 3 11 4 11 5 11 2 12 3 12 4 11 7 10 4 11 5 11 4 12 7 9 5 11 5 11M358 262l-11 5-11 3-12 1-12 1-12 2-12-1-12-1-12 3M164 169l-18-52-12-47-6-47M263 248l41-26 46-23 53-24M210 345l-11 29-6 29M29 143l-11 50 5 46M184 82l38-12 41-12 41-23 41-12M58 225l-5 49-12 53-6 76M117 123l-24-53-40-35-41-23"/>
<path stroke-opacity="0.10" stroke-width="3" d="M185 140l-11 5-11 6-11-3-10-6-10-7-11-5-8-9M160 76l-11 4-11 5-12 3-12 2M142 39l-6-10-9-8-11-6-11-4-10-8-11-4-11-4-12-2M191 132l-11 5-11-2-12-3-12-3-12-2-10-6-11-4M52 143l7 10 6 10 11 5M39 199l9 8 12 4 10 6 12-1 12 2 11 4 11 5 10 6M-10 100l-8-8-9-8-9-8-6-10-7-11-9-8-6-10-2-11M122 183l-8-9-10-7-7-10-4-11M147 135l5-11 10-7 9-8 7-9 7-10 9-8M163 236l5 11 5 11 1 12 7 10 1 12 4 11 7 10 7 9M190 150l12 0 12 3 11 2 12 0M201 218l-4 11 2 12 5 10 8 9 6 11 6 10 6 11 6 10M117 175l-11-6-7-9-4-12-3-11 0-12-4-11-11-4M251 187l-7 10-6 10-3 12-6 10-2 12 0 12-4 12-5 10M235 178l1 12 1 12 3 11 8 9 8 9 5 11 1 12M238 91l10-6 11-5 10-7 8-9 12-1 12 2M15 222l-6-11-6-10M72 234l12 1 12 2 11 2 11 6M34 289l-7 9-9 8-6 10-2 12M18 290l-6 10-7 9-7 10-10 7M13 264l-9 8-9 8M-19 247l-9 8-8 9-4 11-1 12M19 220l1-12-3-12M166 297l-12 4-12 1-11 1-12-4M137 280l-6 9-6 11-9 8-8 10-6 9M158 256l-4-11-4-12-4-11M310 238l5-11 0-12-1-12 0-12 3-12 1-12M317 278l11-5 12 3 10 6 9 8 10 6 12 3 12 0 12 3M280 281l7 9 9 8 12 3 11 5 11 4M218 248l-12-2-12 0-12 2-11 4-12-1-12 0-12-2M240 196l1-11 8-10 9-7 8-9 4-12 0-12-1-12 1-12M321 309l8 9 11 4 11 4 12 2 9 9 5 10 3 12M254 350l-10-7-10-6-10-7-10-7-11 4-10 6-12 4-12 1M250 341l-8 9-7 10-7 9-7 10-9 8-8 9M217 339l-10-5-12-4-9-7-9-8-12-2-12-3M198 321l-12 2-12 4-11-2-12-2-12-4-9-8-8-9M232 322l-4-11 0-12-3-12-4-11M196 394l3 12 2 12 4 11-1 12-2 12-9 8-11-3M184 403l-11 4-12 2-12 2-10 6-9 8-9 7-6 11-7 10M233 296l12-2 12-1 12-2 12-1 11 3 12 2 12-4 12 0M340 357l3 11 2 12 1 12M298 366l-6 10-5 11-2 12M268 336l-11 4-9 8-3 11-9 9M310 311l0-12 2-12M311 311l7-10 10-8M330 351l4 12 5 11M184 82l-6-35-3-35-3-15M29 143l41-9 47-11M117 123l23-18 24-17 20-6M222 134l-23 18-30 17M257 301l-23 14-24 30M257 301l35 26 23 9M175 272l24 14 46 15"/>
<path stroke-opacity="0.10" stroke-width="4" d="M185 140l2 12-3 11-2 12-2 12 3 12M160 76l-12 1-12 0M142 39l-10-7-9-8-11-3-7-10-6-11M187 21l0-12 2-11 6-11 1-12 4-11M191 132l-10 6-12 4-11 4-11 5-11 5M65 97l4-11 9-9 6-10 7-10 9-8M52 143l12-3 12-1M60 160l9 8 3 11 1 12M21 201l0 12-1 12-2 12 0 12-1 12M39 199l3 12 1 12-3 12 1 12-4 11M-10 100l0-12 3-11-4-12-3-11-3-12M101 77l-7-10-4-11-2-12-2-12M130 79l-3-11-1-12 0-12 4-12 2-11M140 130l10 7 12-2M151 151l10 7 10 6 9 8 9 9M71 123l-8 9 1 12 0 12 0 12M140 83l12 0 11-5 12-4 11-4M122 183l-12 2-10 5M147 135l-7-10-7-10-9-8-9-8M179 196l8 9 3 12-4 11M163 236l7 10-2 11-6 11-3 12-3 11M105 169l-12 3-11-2-10-7-7-10-11-4M149 140l-5-11-6-10-7-10M190 150l7-9 6-10 10-8M208 188l12-1 12 2 10 7 8 9M201 218l-5 11-5 11-10 7-9 7-5 11M117 175l-12-3-7-10-6-10-8-9M146 143l-1-12 5-11 6-11M46 22l-4-11M46 22l9-9 8-9M46 22l4 11 1 12M46 22l-5 11-5 11M46 22l-12 2-12 0M374 42l8 9 10 7 7 9M309 29l-12 2-11 5-10 5M315 1l-9-7-10-7-11-5M388 -19l6-10 3-12 5-11 2-12 7-9M361 5l6-11 6-10M213 28l-12 1-11-2-12-4M213 28l-4-11 4-11 4-12M213 28l12 0 9-8 3-12M213 28l10 7 9 8 9 7M213 28l3 12 6 10 6 10M251 187l2 12 6 11 5 11 7 9 11 4M235 178l7 10 9 6 11 6 10 6M163 129l-12-2-12 1-12-1-12 2-12-1M238 91l5-11 7-9 10-7 11-6M254 103l4-11 11-7 9-7 12-2M319 80l-8 9-9 8-10 7M319 80l-12 2-11 2M319 80l-9-7-6-11M319 80l-4-11-9-8-7-10M319 80l10-7M319 80l12 2M301 143l-12-2M301 143l10-7 8-9M301 143l1-12M301 143l11 5 12 1 12 0M301 143l8 10 1 12M301 143l-11 5M301 143l-11-2-11-7M194 284l11 5 10 7M166 297l-7 9-5 11M173 298l5 11-2 12M137 280l-11 3-11 6-11 4M138 286l-6 10-4 11 0 12M158 256l-7-10-2-12M229 260l12 2 12 1 12 1 12 1 12-1M94 275l1 12 4 11M94 275l-12-3-12-3M94 275l3-12 10-7M94 275l12 2 10 6M132 327l12 0 11 4 12 4M132 327l7 10M132 327l-9 8-9 8M132 327l-3-11M310 238l12 4 11 5 11 4 10 6M317 278l11 4 12 2 12 2 12 0 12 1M280 281l1 12-3 11 1 12M218 248l-11-6-9-6-11-6-12-1M240 196l-6-10-6-10-7-10-8-9-7-10M250 217l1-12-4-12 5-11M301 269l10-6 10-8 10-7 8-8M321 309l12-2 11-4 12 0 12-2 12-4M254 350l-5 11-4 11-2 12 1 12-3 11M250 341l1 12 8 9 4 12 3 11M205 299l-12 2-9 7-6 11-9 8-10 7M262 260l4-11 3-12 4-11M272 262l6-10 0-12 0-12 0-12M306 293l12-3 11-5 11-5 11-5 11-5M217 339l-2 12-6 11-7 9-11 6M198 321l-6 11 0 12 4 11 1 12 3 12M232 322l10-7 10-6 9-8M196 394l-2 12-4 11-6 11-3 11M184 403l-7 10-3 12 4 11-1 12-6 10M233 296l5-11 6-10 3-12 7-10 9-7M10 196l-10-6M10 196l3-12 2-12M10 196l7 9 9 9 5 11M10 196l-2 12-7 9M164 172l29 21 29 23 29 23 12 9M263 248l-3 26-3 24M146 184l-29 15-29 11-30 15-29 14M152 187l12 35 8 35 3 15"/>
<path stroke-opacity="0.10" stroke-width="5" d="M118 121l-1-12-4-11-6-11-6-10M118 121l11-3 10-6 2-12-3-12-8-9M118 121l10 5 12 4M118 121l3 11 9 8 11 4 10 7M118 121l-12-1-12 0-12-2-11 5M118 121l1-12 4-11 6-10 11-5M344 22l10 6 9 9 11 5M344 22l-11 3-12 3-12 1M344 22l-8-9-10-5-11-7M344 22l8-9 9-8 8-9 10-7 9-8M344 22l9-8 8-9M25 243l-4-11-6-10M25 243l11-4 12-2 12-2 12-1M25 243l7 10 3 12 1 12-2 12M25 243l-1 12 0 12 0 12-6 11M25 243l-6 11-6 10M25 243l-12-2-11-3-12 1-9 8M25 243l-4-11-2-12M313 335l11 5 10 6 6 11M313 335l0 12-7 10-8 9M313 335l-10-6-12-2-12 4-11 5M313 335l-2-12-1-12M313 335l0-12-2-12M313 335l8 8 9 8"/>
<path stroke-opacity="0.15" stroke-width="4" d="M184 82l-6 35-7 29-7 23"/>
<path stroke-opacity="0.15" stroke-width="5" d="M183 80l0 12 2 12 0 12-1 12 1 12M183 80l-11-4-12 0M183 80l-8-9-10-7-4-11-8-9-11-5M183 80l5-11 1-12-1-12-2-12 1-12M183 80l10 8 5 10 1 12-2 12-6 10M28 143l6-10 9-9 8-8 5-11 9-8M28 143l12 1 12-1M28 143l11 6 10 6 11 5M28 143l2 12-1 12 0 12-2 12-6 10M28 143l-3 12 6 10 0 12 3 11 5 11M28 143l-11-4-9-8-8-9-6-10-4-12M146 182l-12 1-12 0M146 182l1-12-1-12 3-11-2-12M146 182l11 4 11 5 11 5M146 182l-1 12-1 12 4 11 6 11 9 8M164 172l-11-5-12 1-12-2-12 2-12 1M164 172l-2-12-7-10-6-10M164 172l10-6 11-4 5-12M164 172l11 4 12 1 10 7 11 4M164 172l7 9 10 8 7 9 9 8 4 12M164 172l-12 3-11-3-12 2-12 1M164 172l-9-8-7-10-2-11M221 136l4 11 8 9 7 10 6 10 5 11M221 136l-5 11 5 11 7 10 7 10M221 136l-12 0-11-4-12-3-12-3-11 3M221 136l4-12 5-11 2-11 6-11M221 136l11-5 9-8 7-10 6-10M173 275l11 2 10 7M173 275l-1 12-6 10M173 275l-3 11 3 12M173 275l-12 0-12 4-12 1M173 275l-12 4-11 2-12 5M173 275l-9-9-6-10M173 275l10-6 10-6 12-2 12 0 12-1M264 249l11-5 12-2 12-2 11-2M264 249l11 5 11 6 10 5 10 7 11 6M264 249l3 12 8 9 5 11M264 249l-11 4-12 2-12-3-11-4M264 249l-8-8-5-11-5-11 1-12-7-11M264 249l-6-10-6-11-2-11M264 296l11-5 9-8 11-3 6-11M264 296l12 0 12 0 12 3 10 7 11 3M264 296l-1 12-3 11 4 11 0 12-10 8M264 296l-3 11-5 11-3 12-3 11M264 296l-11 4-12 0-12 0-12 0-12-1M264 296l0-12-3-12 1-12M248 303l8-9 6-10 5-11 5-11M248 303l12 0 11-5 12-3 11-2 12 0M248 303l-7 10-5 11-9 8-10 7M248 303l-12-4-12 0-11 5-9 7-6 10M209 349l8-9 7-9 8-9M209 349l1 12-3 12-5 11-6 10M209 349l-9 9-5 11-3 11-4 12-4 11M209 349l0-12 5-10 7-10 7-10 5-11"/>
</g>
<circle cx="421.8" cy="591.4" r="4.9" fill="url(#cg2)" opacity="0.60"/>
<circle cx="374.6" cy="610.5" r="4.4" fill="url(#cg2)" opacity="0.55"/>
<circle cx="401.9" cy="603.7" r="3.3" fill="url(#cg2)" opacity="0.45"/>
<circle cx="410.5" cy="622.4" r="4.9" fill="url(#cg2)" opacity="0.60"/>
<circle cx="415.9" cy="619.3" r="4.4" fill="url(#cg2)" opacity="1.00"/>
<circle cx="380.1" cy="573.7" r="3.3" fill="url(#cg2)" opacity="0.30"/>
<circle cx="471.1" cy="573.7" r="3.6" fill="url(#cg2)" opacity="0.35"/>
<circle cx="431.1" cy="575.5" r="2.6" fill="url(#cg2)" opacity="0.25"/>
<circle cx="433.4" cy="608.2" r="3.6" fill="url(#cg2)" opacity="0.50"/>
<circle cx="463.4" cy="591.4" r="3.8" fill="url(#cg2)" opacity="0.35"/>
<circle cx="457.9" cy="610.5" r="3.3" fill="url(#cg2)" opacity="0.12"/>
<circle cx="373.7" cy="640.9" r="4.3" fill="url(#cg2)" opacity="0.55"/>
<circle cx="418.6" cy="650.5" r="4.1" fill="url(#cg2)" opacity="0.95"/>
<circle cx="394.6" cy="650.5" r="3.3" fill="url(#cg2)" opacity="0.20"/>
<circle cx="406.4" cy="666.4" r="2.5" fill="url(#cg2)" opacity="0.12"/>
<circle cx="446.6" cy="642.8" r="4.1" fill="url(#cg2)" opacity="0.55"/>
<circle cx="446.6" cy="656.9" r="4.1" fill="url(#cg2)" opacity="0.60"/>
<circle cx="441.6" cy="659.2" r="4.1" fill="url(#cg2)" opacity="0.95"/>
<circle cx="429.7" cy="673.2" r="4.1" fill="url(#cg2)" opacity="0.60"/>
<circle cx="461.6" cy="668.7" r="3.4" fill="url(#cg2)" opacity="0.45"/>
<circle cx="369.1" cy="626.5" r="2.5" fill="url(#cg2)" opacity="0.12"/>
</g>
<circle cx="463.8" cy="592.2" r="7" fill="none" stroke="#f7921e" stroke-width="1.5"/>
<circle cx="374" cy="642.2" r="7" fill="none" stroke="#662d91" stroke-width="1.5"/>
<circle cx="462.8" cy="670" r="7" fill="none" stroke="#c8d82c" stroke-width="1.5"/>
<rect x="468" y="684.6" width="18.4" height="3" fill="#fff"/>
<text x="391.8" y="564.8" font-size="11.2" textLength="69.4" lengthAdjust="spacingAndGlyphs">5 Field stimuli</text>
<text x="403" y="700.8" font-size="11.2" textLength="47.9" lengthAdjust="spacingAndGlyphs">+2 frames</text>
<g clip-path="url(#c10)">
<rect x="520.0" y="567.0" width="122.0" height="121.6" fill="#040404"/>
<g transform="translate(520 567) scale(0.305)" fill="none" stroke="#fff" stroke-linecap="round" stroke-linejoin="round" filter="url(#fb)">
<path stroke-opacity="0.05" stroke-width="2" d="M42 11l5-11 8-9M41 -1l4-12M77 -15l5-11 6-10M44 68l-4 12-3 11M28 66l-6 10-3 12M2 37l-10 6-10 7M143 16l-12 3-12-1-12 2M217 -6l-2-11 0-12-2-12-2-12-2-12M241 -32l9-8 10-7 8-9M254 -23l4-12 4-11 2-12M241 50l12-1 12 0 12-1 12-3M268 75l9 8 9 7 11 5M228 60l-7 9-10 7-11 4-12 3-12 1M242 92l6 10 3 12 5 11M292 104l-12 1-12 2-11 5-12 2-11 5M257 111l-11-2-11-6-10-7M276 97l-10 5-12 2M304 62l-9-8-6-10-2-12M305 38l1-12 8-9M266 41l-12-3-12 3-11 3M338 65l10-5M342 76l8-9M278 143l-10-7M330 106l4-11 1-12M302 131l11-1 12-1M293 123l-10-6M336 149l4 12 1 12-5 11-1 12M371 142l10-7 11-5 12 2M314 188l1 12 7 10M281 156l-2 12M279 134l-12 1-11 1-12-2M265 115l-10-7-8-9M110 319l5 11 7 10M70 269l-12-1-11 2-12 4M48 262l-10-7-10-7M107 256l11-3 11-5 8-10 6-10M120 237l6-10 5-11M127 304l1 12-2 12M200 347l10 7 10 6 9 8M139 337l-6 11-5 11M146 347l10 6M92 345l-12-3-11 3M129 316l-11-6-10-7M124 304l-1-11M0 190l-4-11-6-11M-9 181l-6-10M15 172l-5-11-9-8-10-6M14 148l-2-12-2-12M31 225l12 1 12 0 12 0 10-6 12-3M45 257l3 12 9 8 7 9M-17 233l-12 2-11-4M110 320l-5-11-7-10-5-11-4-11-5-11-7-9-3-12 2-12 3-12 2-11 4-12 2-12 2-11 4-12 5-11 7-10 6-10 7-10 3-11 0-12 0-12 0-12 5-11 6-10 3-12 5-11M182 360l-11 5-11 4-11 6-9 7-8 9-11 5-11 6-8 8-12 4-11 5-10 6-11 4-11 5-11 5-11 4-10 7M416 180l9 9 9 7 9 8 10 7 9 7 9 9 8 9 5 11 2 12 5 11 3 11 3 12 5 11 5 11 3 11 2 12 0 12 1 12M174 144l-12 1-12-1-12-1-11-4-12-2-12-1-12-2-10-6-8-10-10-6-11-5-9-7-9-9-9-8-10-6-11-4-9-8-8-9M120 103l-10-6-11-6-9-7-10-8-10-6-12-3-10-6-9-7-5-12-4-11-4-11-4-11-2-12-1-12 3-12 6-10M219 8l0-12 2-12 5-11 7-10 9-8 10-6 9-9 8-9 8-8 8-9 10-6 8-10 7-9 4-12 7-9 9-8 11-6 8-9 7-9 9-9 4-11 8-9 11-4 11-6 11-5 9-8M262 194l8-8 7-10 5-11 6-11 5-11 4-11 0-12 1-12 2-11-1-12-3-12 1-12 0-12-2-12 3-12 2-11 4-12M127 156l-9 8-9 7-11 6-11 5-12 0-12-1-12-2-8-8-10-7-11-4-11-5-10-7-12-1-12-4-10-6-8-9-5-11-7-9-10-7-12-3-11-5-12 2M388 290l6-10 8-10 4-11 6-11 9-8 5-10 5-11 8-10 5-10 8-9 8-9 8-9 6-11 4-11 5-11 6-10 9-9 8-8M61 78l12-1 12 1 12 1 12 0 12 3 10 6 10 6 9 9M178 296l-2-12-6-10-12-5-10-6-11-5-11-3-11-6-11-3-12-4-11-4-11-5-11-5-10-7-9-8-9-8M10 36l-2 12-4 11-6 10-7 10-7 10-8 8-9 8-10 8M272 257l3-11 5-11 7-10 10-7 6-10 8-9 8-9 9-8 9-8 7-10 6-10 3-12-2-11-2-12 0-12 5-11 4-11 4-12 3-11 6-11 8-8 10-7 11-6 10-5M36 347l-12-1-12 0-12 0-12-2-10-6-9-8-10-7-10-5-11-5-11-5-9-8-10-8-10-6-11-5-9-8-10-7-9-7-10-7-7-10-6-10-2-12-5-11-6-10-6-11-7-9-8-10-8-8-8-10-8-9M94 63l-12-2-12-2-12-3-11-5-10-7-9-7-11-6-9-7-9-8-10-7-10-7-9-7-8-9-5-11-2-12-5-11-5-11-5-11-5-11-6-10-3-11-4-12-8-9-7-10-6-10-6-11M-9 353l0 12 4 11 2 12 3 12 5 11 1 12-3 12 0 12-2 11-1 12 0 12 2 12-1 12-4 11 2 12 2 12 1 12 1 12 2 12 0 12-5 10-4 12-3 11-3 12M368 205l-8-8-11-6-10-6-11-5-8-9-7-10-4-11-7-10-6-11-7-9-3-12-1-12 0-12-1-12-3-11M198 189l3-11 4-12 3-11 4-11 0-12 1-12 2-12 2-12 4-11 5-11 3-12 4-11 2-12 0-12 0-12 3-12 4-11 9-9 10-6 11-5 11-4M280 284l-6-10-4-12-4-11-1-12 2-12 2-11 0-12-1-12-1-12 1-12 3-12 3-12 8-9 9-7 7-10 7-10 9-7 11-6 11-5M-10 375l-3 12-1 12-1 12-2 12 0 12-1 12 8 9 5 11 5 11 6 10 6 11 5 10 7 10 2 12-2 12 0 12-2 12-6 11-9 7M166 83l-1-12-1-12 2-12 0-12-2-11-1-12 0-12-2-12-4-11-1-12-2-12-4-12-1-12-4-11 0-12-3-12-1-12-1-12-3-11-3-12-4-11-3-12-2-12-4-11M36 279l12 3 10 6 10 6 12 3 9 8 9 8 11 5 11 3 10 8 6 10 7 10 4 12M138 209l-9-8-10-6-9-8-11-5-11-6-11-2-12-3-12-3-12-1-11-4-11-3-12-3-11-4-11-6-10-6-6-10-4-12-2-12M117 271l-2 12-4 12-5 10-10 7-7 10-8 9-6 10-2 12-6 11-4 11-7 10-6 10-4 12-2 11-4 11-5 11-4 12-2 12 1 11 1 12 2 12-1 12 0 12-3 12 0 12 2 11M187 218l11 4 10 6 9 8 10 8 11 4 10 6 12 2 12 2 12-2 12 0 12-1 11-4 10-7 7-10 7-10 8-8 8-9 9-8 11-6M389 -10l6-11 9-7 9-8 6-11 5-10 2-12 4-11 6-11 6-11M160 232l-12 0-12 2-12 0-10 6-11 5-10 7-8 8-7 10-7 10-9 8-10 6-10 8-8 8-6 10-6 11-4 11-3 12M152 352l-5 11-3 11 3 12 5 11 5 11 5 11 0 12 5 11 6 10 7 10 7 10 9 8 9 8 11 4 12 2 11 3 12 2 12 0 12-3 12-1M52 345l-9-8-5-11-4-11-2-12-2-12-2-12 0-12 2-11-2-12-3-12-1-12-1-12 3-12 1-12 4-11 6-11 8-8 6-11M389 393l-1 12-3 12 0 12-2 12 1 12-1 12-1 12 4 11 2 12 4 11 3 12 6 10 8 9 4 11M111 -9l-2-12-3-11-5-11-6-10 1-12 4-12 2-12 1-12 3-11 3-12 2-12 4-11 0-12 7-10 10-7 10-5 12-4 12-3 11-2 12-4 11-3 10-7 10-7 11-4 11-6 12-1 11-2M229 403l9-8 10-7 9-8 7-9 8-10 10-6 6-10 10-7 9-8M88 326l10 7 8 9 7 9 9 9 9 7 11 6 9 8 10 6 11 6 11 4 10 6 9 8 7 10 7 9 10 8 9 8 5 11 5 11 4 11M410 326l-11 5-12 3-12 2-12 1-11-4-12-3-11 1-12 4-11 5-8 9-8 9-7 9-6 11-7 10-3 11-3 12-4 11M115 55l-12-1-12 2-12-1-12 1-12 1-12-1-12-1-12-3-10-7-7-10-10-7-10-5M131 50l12 0 12 2 11 1 12 3 12 3 11 5 10 5 10 8 6 10 7 10 7 10 2 12-1 12-1 12-1 12-1 12-3 11 4 12 4 11 4 11 3 12 2 12 3 11 3 12 3 12 2 11 8 10 7 10M-8 263l-5-10-7-10-10-7-12-1-11 3-12 1-11 6-12 0-12 1-12 3-11-3-11-5-11-5M142 105l-12 1-10 5-11 6-9 8-7 10-7 9-9 8-11 5-10 7-9 8-8 9-9 8-8 9-7 9-7 11-9 7-10 7-11 5-11 4-9 8-9 7-8 10-5 10-5 12-3 11-6 11-4 11-4 11M118 402l10-6 12-4 12 0 12-1 12-2 12-2 11-2 12-1 12-4 11-4 11-3 12-5 9-7 12-4 11-5 12-2 11-1 12-3 12-1 12 2 12 0 12-1M400 44l12 4 12 1 12 1 11 4 11 4 12 4 11 3 12 2 12-2 11-5 8-9 8-9M228 362l-11 5-7 9-11 6-10 6-10 6-11 6-9 7-10 7-11 3-12 3-12 3-12-1-11-5-10-7-7-9-8-10-5-10-4-12M113 7l-7-10-8-8-7-10-9-8-10-7-11-5-11-2-12-2-11-6-10-6-10-6-12-3-11-5-12-2-11-4-12-4-11-4-11-4-11-5M-5 43l-12 2-11 5-12 0-12-3-11-3-12-1-12-1-12-1-12 1-11 5-12 3-10-6-10-6-9-9-11-4-12 0-12-1-11 4-8 9-7 10-7 10-10 6-10 7-9 8-5 11-5 11-6 10-4 11-2 12M156 119l4 12 4 11 8 9 2 12 4 11 1 12 2 12 3 12 2 11 2 12-4 12-3 11-7 10-7 9-6 11-6 10-5 11-9 8-10 7-11 4-10 8-10 6-4 11M296 347l-11-4-11-5-12-3-11-4-11-5-8-9-9-8-8-8-6-11-6-10M57 62l12 3 11-1 12-1 12-4 10-7 11-2 12-3 12-3 11-5 12-1 11 1 12 1 12-1 12-1 12 0 12 2 12 2M102 46l8 10 11 2 12 3 11 4 12 2 12 1 12-1 12-3 11-3 11-5 12-3 12-2 12 2M226 192l11-4 11-6 10-5 12-4 11-5 11-4 12-1 12-2 12-2 12-1 11-5 12-1 11-5 9-8 6-10 5-11 6-11 6-10 5-11 3-11 4-12 4-11 2-12 2-12 3-11 5-11M58 73l-8 9-7 10-4 11-3 12-4 11-4 11-5 11-8 9-8 9-5 11-6 10-4 12-11 6-6 10-5 11-2 11M361 150l9 8 11 7 8 8 11 5 11 5 12 0 12-1 12-4 11 3M331 364l-4-11-4-12-1-12-5-11-1-12 1-11 6-11 7-10 8-8 7-10 9-8 5-11 5-11 5-11 5-11 6-10 8-9 8-9 8-9 9-8 6-10 6-11 8-9M-12 294l10-6 10-7 10-6 11-4 12-5 11-3 12 3 11 4 11 6 10 6 10 6 12 3 11 4 11 5 10 6M168 153l12-4 10-6 11-5 11-5 9-8 8-9 10-7 10-6 10-7 10-7 8-9 9-8 6-10 7-9 11-5 8-9 11-6 11-4 11-5 12-3 10-6 11-5 12-3 11-5 11-5 12-1"/>
<path stroke-opacity="0.05" stroke-width="3" d="M292 104l-11 4-12 4-12-1M296 84l-12 3-8 10M304 62l0-12 1-12M299 51l-10-6-11-4-12 0M329 73l9-8M331 82l11-6M289 141l-11 2M319 127l5-10 6-11M302 131l-9-8M336 149l12-1 12-2 11-4M310 165l1 12 3 11M290 148l-9 8M279 134l-6-10-8-9M167 335l12 1 10 6 11 5M139 337l7 10M114 343l-11 5-11-3M129 316l-5-12M0 190l-9-9M15 172l0-12-1-12M31 225l7 9 5 11 2 12M1 217l-9 8-9 8M255 284l9 8 8 9 7 9 4 12 8 9 6 10 6 10 5 11 7 10 7 10 2 11 7 10 6 11 5 11 6 10 6 11 4 11 6 10 5 11 5 11 5 11 5 11 6 10 3 12 2 12M398 325l-10 8-10 6-11 5-12 2-12-1-11 2-11 6-12 2-11 4-8 9-9 8-6 10-9 8-11 6-11 4-11 5M230 107l4-11 5-11 3-12-1-12 2-12 5-10 8-9 9-8 8-9 10-6 11-6 12-2 12 0 10 7 10 6 10 7 11 4 10 7 11 6M406 284l-7 10-3 12-5 10-6 11-4 11-7 10-5 11-2 12 3 12 2 11M231 333l-8-9-9-8-9-9-10-5-11-5-12-4-12 0-11 4-10 6-10 7-10 7M83 367l12 0 11 1 12 2 12 1 12 2 12-1 12 0 12 0 11 3 10 7 10 8 6 10 8 9 8 8 8 10M175 56l4-12 6-9 8-10 5-11 5-11 3-11 5-11 4-11 6-11 7-10 9-8 10-6 10-6 12-3 11-5 11-4 11-4 12-4 10-7 10-6 8-9 5-11 4-11 5-11 5-11 6-10M144 20l-2 12 0 12 1 12 1 12 0 12 0 12 0 12 3 11 3 12 6 10 5 11 4 11 5 11-1 12 1 12 4 12 6 10 9 9 7 9 7 10 9 7 9 8M406 237l-4 11-7 10-9 8-10 7-10 6-7 10-10 7-11 4-11 5-12 4-11 4-11 3-12 4-12 2-12 2-12 0-11-2-12 0-12-2-12-3-11-5-11-5-11-3-11-6-12-3M271 399l4-11-1-12-4-11-6-11-6-10-10-6-12-1-12-3-11-5-11-5-12-2-11-5-7-9-6-11-9-7-10-7-10-7-11-4-11-5-11-6-9-7M41 206l7-9 8-9 6-11 11-4 11-3 12-2 11-6 8-9 5-11 3-11 7-10 9-8 9-8 8-9 7-10 9-8 8-9 10-6 11-6 10-6 11-6 10-6 9-8 6-10M234 6l-7-10-4-11-8-10-4-11-9-8-8-9-8-9-7-9-4-12 0-12 0-12 0-12 2-12 0-12-4-11-5-11-9-8-7-10-1-12-1-12-4-11-5-11-9-8-10-7-7-10M363 26l6 10 7 10 5 11 4 11 2 12 3 12 4 11 6 10 7 10 10 7 11 4 12 1 11 5 10 7 8 9 11 6 10 5 10 7 11 6 11 4 11 5 10 6M90 62l4-11 3-12 1-12 5-11 7-9 6-11 3-11 1-12-1-12-2-12-1-12-3-11-7-10-7-10-6-10-7-10-6-11-8-9-6-10M228 343l5-10 3-12 0-12 1-12-2-12-5-11-7-9-7-10-5-11-4-11-5-11-6-11-8-9-9-8-9-8-10-6M351 201l-10 7-10 7-12 4-11 0-12 2-12 1-12 1-11 5-12 0-12 5-11 5-12 0-11-4M419 -12l3-12-1-12 2-12 1-12 3-11-1-12 0-12 3-12 2-12 2-12-1-12 0-12-5-11-6-10-8-8-10-8M180 365l8 9 9 9 7 10 7 10 5 10 6 11 7 9 6 11 9 8 9 8 10 6 10 6 11 6 10 6 12 4 12 0 11 4 11 6 11 4M27 365l12 2 12 3 11-2 12 0 11 5 10 7 10 7 11 5 11 6 11 4 12 3 11 4 11 5 11 4 9 7 11 5 12 5 11 2 12 3 12 1 12 1 12 2 12-1 12 0 12-1 11-2 12-1 12 0 12 3M-15 131l-12-3-11-2-12-2-12-2-12-2-12 1-11 4-10 8-9 7-10 7-10 6-8 9-10 7-10 7-12 2-12 0-11 2-12-1-12 3-11 6-10 6M45 63l9 7 10 8 8 8 4 11 6 11 6 11 8 8 9 9 10 6 11 4 11 4 12 2 11 5 11 4 12 2 12 0 12-2 12-3 8-8 9-9 9-8 12-2 12 3 10 5 11 5 12 3 11 3M199 407l0-12 2-12-3-11-4-12-3-11 0-12 4-12 6-10 6-11 2-11 4-12 9-7M118 371l10-7 7-10 6-10 8-9 6-11 10-6 11-4 10-8 11-5 11-5 10-6 12 0M375 39l-12-3-10-7-11-4-11-4-11-5-10-7-11-4-12-2-12-2-11-3M137 304l-10-8-7-9-2-12 0-12-1-12-2-12-8-9-12-3-10-6-11-4-12-1M245 276l4 11 2 12 2 12 3 11-1 12 0 12-1 12-1 12 2 12 2 12-4 11-3 12 2 12 3 11 4 12 2 12 3 11 4 11 1 12-2 12 5 11M196 25l-1-12-2-12-5-11-9-8-8-9-9-7-10-8-12-2-11 2-12 1-12 0-12-3-11-4-12 1-12 3M124 275l9 8 9 8 9 8 8 9 5 11 6 10 6 11 4 11 2 12 3 11 3 12 8 9 6 10 7 10 9 8M24 325l-7-10-2-11-1-12-3-12-7-10-7-9-6-11-4-11-4-12 1-11-2-12-3-12M207 154l6-11 3-11 1-12 7-10 5-11 7-10 5-11 6-10 6-11 9-8 10-6 9-9 5-11 5-10 3-12 1-12 1-12 0-12M206 53l9-7 10-7 11-4 12-2 12 1 11 3 12 1 12-1 11-5 11-6 10-6 11-4 12-4 11-4 12-2 11-5 10-7 10-6 11-5 10-6M126 31l12 0 12 2 11 4 11 5 11 5 12 3 12 0 11-4 11-4 12 1 12 3 10 6 7 10 8 9 9 8 8 9 9 9 10 6M28 143l-9-7-9-8-11-6-11-4-9-8-9-8-10-7-8-9M222 257l5-11 8-8 6-11 1-12 0-12 0-12-2-12 1-12 5-11 5-10 5-11 1-12M147 399l-11 4-12 3-12 1-11 3-12-1-11-4-12-2-10-7-8-8-5-12 1-12 2-11 2-12 3-12 3-11 7-10 5-11 6-11 9-8 6-10 8-9 8-9 6-10 7-10 2-12 7-10 5-11M164 305l11 5 10 7 8 8 9 9 10 6 10 7 9 8 9 9 7 9 5 11 7 9 1 12-2 12-4 11-5 11-4 11-1 12M130 120l-4 11-6 10-5 11-9 8-12 4-12 1-11 3-12-1-12 0-12 0-12-2-12-1-11 4-12 3-12 3-11 4-9 8-8 9-7 10-8 9-8 9M149 185l12-4 11-2 12-2 12-3 12-1 12 1 12 2 10 5 11 6 12 2 11 2 12 1 12-1 11 5 12 2 12-2 12 0 12-2M336 150l-9-8-10-7-8-9-9-7-6-11-8-9-8-9-9-7-7-10-6-10-7-10-5-11-8-9M92 73l-11-6-11-4-12-1-12 2-11 4-12 2-12-1-12-3-11 3-12 4-11 1-12 4-12 0-12 0-12 3-12 0-12 0-12-2-11-4M414 60l9 8 10 6 9 8 8 10 7 10 4 11 2 11 1 12-1 12 4 12 1 12 1 12-2 12-4 11-3 12-6 10-9 8M39 188l-12 1-11 5-12 2-11 4-12 3-12-1-12-1-12-2-12-2-12 1-12 1-12 1-11-2-12-1-12-2-12 0-12 3-12-1-12-1-11-1-12 0M125 338l12 3 12 1 10 5 12 4 11 4 12 2 12 0 12-2 11-2 11-6 12-3 11-3 12-1 12 0 12 2 11 6 11 5 9 7 11 4M-11 116l11-4 10-7 10-7 9-8 7-9 6-11 3-12-2-11 0-12 0-12 5-11 6-10 6-11-2-12 1-12 2-12 3-11 0-12M23 253l-4-11-5-11-4-11-6-11-4-11-2-12 1-12 4-12 4-11 5-11 6-10 8-9 8-9 7-10 9-7 8-9 7-10 4-11 5-11 4-12 2-11 3-12 0-12 3-11M413 329l-12 0-11 3-12 4-11 4-12-2-11-5-10-6-10-7-10-6-11-6-12-2-12-1-12 1-10 6-11 5-8 8-10 7-12 3M83 327l12 3 12 2 11 3 11 5 10 6 9 8 11 6 11 3 11 6 9 8 5 11 6 10 0 12 3 12 4 11 8 9 10 7 5 10 4 12M-3 240l-8-8-11-7-9-7-11-6-10-6-11-5-12-1-12 0-12 2-12 2M19 258l11-5 11-6 12 0 12 0 12 2 12 1 12 0 11-4 11-4 11-4 12-4M226 375l12 0 12 0 11 5 7 10 6 10 7 10 8 9 3 11 4 12 1 12 2 12 4 11 4 11 7 10 5 11 4 12-1 12 2 11 6 11 3 12 4 11 4 11 2 12-1 12-4 11-3 12M151 282l11-4 12-1 11-5 12-2 12-2 12-1 11-2 12-3 12-2 11-4 12-2 11-5 11-4 12-2 12-4 9-7 8-9 9-8 10-7 10-7 10-6 8-9 10-7 7-10 8-8 7-10 6-11 5-10 4-11M415 201l4-11 2-12 1-12 0-11-1-12-1-12-3-12 0-12-3-12-2-12M33 224l-9-8-10-6-8-9-7-10-7-10-5-11-3-11-3-12-4-11-7-10-9-8-8-8-11-6-8-9-8-9M22 143l-6 10-8 10-7 9-8 10-8 8-9 7-12 3-10 7-12-2-12 0-11-1-12 2-11 4-11 5M320 171l8 9 10 7 10 5 10 8 9 8 8 9 9 7 11 6 7 10M359 114l10 5 12 4 12 0 12 1 11-2 12-2 11 4 11 5 12 1 12 0 12-3M102 418l-9-9-7-10-6-10-3-11-2-12-3-12-2-12-1-12-4-11-5-11-4-11-6-11-5-11-4-11 2-12M228 168l11 5 11 5 12 2 11-2 12 0 11 6 11 4 10 7 10 6 11 6 10 7 8 8M10 336l-1 12 0 12-2 12 4 11 2 12-2 12-2 12-1 12-7 9-8 9-10 7-8 9-8 9-6 11-4 11 0 12 3 11 0 12-2 12-3 12-5 10-3 12 0 12 0 12 3 12-2 12M419 28l-7-10-7-9-7-10-4-11-3-12-8-9-7-9-10-8-10-5-8-10-9-8-6-10-8-9-7-10-8-9-9-7-11-6-10-6M40 372l10 8 9 7 4 11 8 10 10 5 11 5 11 5 12 3 10 6 10 7 11 4 10 7 6 11 6 10 4 12 1 12 3 11 4 11 5 11 2 12 3 12 4 11 7 10 4 11 5 11 4 12 7 9 5 11 5 11M358 262l-11 5-11 3-12 1-12 1-12 2-12-1-12-1-12 3"/>
<path stroke-opacity="0.10" stroke-width="2" d="M3 201l-3-12-7-10M118 245l12 3 12-3 10-5 12 2M10 328l0 12-3 12 0 12 1 12M-12 326l-12 0-12 0-12 0-12-2M-5 280l-11 5-10 7M-41 287l-7 10-9 8-9 7-11 6M17 196l3-11 3-12M346 392l0 12-4 12-4 11M285 399l-5 10-7 10-8 9M236 368l-10 5-9 8-8 9-5 11M312 287l4-11 6-11M328 293l10-6 10-7M339 374l5 11 8 9M57 262l3-12-2-12 2-12-1-12-1-12-4-11-4-11-5-11-5-11-5-11-2-12-3-11-7-10M147 230l3-12 6-11-1-12-1-12 4-11 9-8 7-10 7-10 8-9 4-11 0-12-3-12-3-11M112 193l-4-12-1-11-2-12 1-12 5-11 8-9 9-8 8-9 9-8 7-9 4-12 4-11 6-11 6-10 5-11 2-11 3-12 5-11 9-9 11-4 11-5 10-6 7-10 10-7 10-7 11-3 12-4 11-4M80 232l-3-12-7-9-10-7-10-8-9-7-10-7-7-9-8-10-10-6-12-4-11-3-12-2-12 0-11 4-10 8M44 5l-3 12-2 12 0 12 0 12 2 11 6 11 7 10 3 11 5 11 9 9 10 5 9 9 8 8 5 11 6 10 7 10 10 8 8 8 7 10 3 12 2 12 3 11 7 10 8 9 8 9 10 5M218 239l-3 12-5 11-9 8-11 5-5 11 0 12 2 12 0 12 4 11 2 12 3 12 3 12 1 11"/>
<path stroke-opacity="0.10" stroke-width="3" d="M185 140l-11 5-11 6-11-3-10-6-10-7-11-5-8-9M183 199l-5 11-5 10-3 12-7 10-3 12M160 76l-11 4-11 5-12 3-12 2M136 77l-12-3-12-2M142 39l-6-10-9-8-11-6-11-4-10-8-11-4-11-4-12-2M99 0l-7-9-10-7-10-7-10-6-9-8M200 -36l5-11 3-12 9-7 7-11 5-11M191 132l-11 5-11-2-12-3-12-3-12-2-10-6-11-4M136 156l-11 4-12-2-11-5-12 0-10-5M100 49l9-8 9-8 10-7 10-6 11-3M52 143l7 10 6 10 11 5M76 139l12 0 12 0M73 191l3 12 4 11 2 12M17 261l5 11 0 12-1 12 1 12-1 12M39 199l9 8 12 4 10 6 12-1 12 2 11 4 11 5 10 6M37 258l0 12 0 12 0 12-1 12 0 12M-10 100l-8-8-9-8-9-8-6-10-7-11-9-8-6-10-2-11M-17 42l-9-8-9-7-9-8-12-4-12 0M86 32l-5-11-7-10-5-10-2-12M130 79l-11-3-12-4-7-10-5-10 0-12 2-12 7-10M132 21l7-10 6-10 4-12 10-7 8-8M140 130l8 8 12 5 9 7M162 135l11-3 12 0M189 181l7 9 9 8 9 8 8 9M64 168l0 12-1 12-1 12-5 11M140 83l12 1 11 5 8 9 10 6 12 3 10 7M186 70l8-9 6-10 4-11 5-11M122 183l-8-9-10-7-7-10-4-11M100 190l-9 9-8 9M147 135l5-11 10-7 9-8 7-9 7-10 9-8M115 99l-10-7-10-7-8-8-8-9M186 228l0 12-1 12-3 12M163 236l5 11 5 11 1 12 7 10 1 12 4 11 7 10 7 9M156 291l1 12-2 12-4 11-4 12-7 10M54 149l-12-3-12-1-12 1-11 4-11 6M131 109l-7-10-8-9-6-10M190 150l12 0 12 3 11 2 12 0M213 123l8-9 4-11 1-12M250 205l9 8 10 6 10 7 8 9M201 218l-4 11 2 12 5 10 8 9 6 11 6 10 6 11 6 10M167 265l-2 12 2 12 3 11 8 9 10 7M117 175l-11-6-7-9-4-12-3-11 0-12-4-11-11-4M84 143l-8-9-4-11-8-9-7-10M156 109l10-7 4-11 4-11M42 11l-1-12M63 4l7-9 7-10M51 45l-5 11-2 12M36 44l-6 10-2 12M22 24l-10 6-10 7M374 42l11-3 12-4 9-7 8-9 7-9M399 67l7 10 5 11-4 12M309 29l-9-7-11-5-12-2-11-6-12-1M276 41l-8 9-10 7-10 7M315 1l-7-9-10-7-9-8-7-9-7-10M285 -18l-12 2-11 4-11 5M388 -19l8-9 5-11 5-11 4-11 2-12 1-12 0-12M411 -73l11-5 10-7 11-5 11-4 12-1M361 5l11-5 12-4 10-7M373 -16l3-12 9-7M178 23l-12-2-11-3-12-2M217 -6l9-8 7-9 8-9M237 8l5-10 7-10 5-11M241 50l9 9 9 8 9 8M228 60l6 11 0 12 8 9M251 187l-7 10-6 10-3 12-6 10-2 12 0 12-4 12-5 10M282 234l11 6 12 3 11 3 12-1 12 2M235 178l1 12 1 12 3 11 8 9 8 9 5 11 1 12M272 206l12 3 12 1 12-2 11-4M103 128l-11-3-12 2-11 5-10 8-8 8M238 91l10-6 11-5 10-7 8-9 12-1 12 2M271 58l9-7 12-4 12-2 12 1M290 76l11-5 11-3 12-4 11-5M15 222l-11 4-11-3-12 4M15 222l-6-11-6-10M72 234l12 2 9 8 8 9 4 11 9 8 11 5M72 234l12 1 12 2 11 2 11 6M34 289l-7 9-9 8-6 10-2 12M18 290l-6 10-7 9-7 10-10 7M13 264l-11 5-10 7-7 10-8 9M13 264l-9 8-9 8M-19 247l-9 8-8 9-4 11-1 12M19 220l-8-8-6-10-4-12M19 220l1-12-3-12M215 296l11 5 6 10M166 297l-12 4-12 1-11 1-12-4M154 317l-2 12-6 10M176 321l-1 12 0 12M137 280l-6 9-6 11-9 8-8 10-6 9M104 293l-12 3-11 4-12 2M128 319l-2 12-1 12 1 12M158 256l-4-11-4-12-4-11M149 234l-1-12-2-12M289 264l11 3 12 0 12-1 12-1 8-9M99 298l6 10 5 11M70 269l-12-1-10-6M107 256l9-8 4-11M116 283l7 10 4 11M310 238l5-11 0-12-1-12 0-12 3-12 1-12M354 257l6 11 6 10 5 11 4 12M317 278l11-5 12 3 10 6 9 8 10 6 12 3 12 0 12 3M376 287l9 8 6 10 12 3 10 6 11 5M280 281l7 9 9 8 12 3 11 5 11 4M279 316l5 11 6 10 8 9M218 248l-12-2-12 0-12 2-11 4-12-1-12 0-12-2M175 229l-12 1-12-1-12 3-12 2M240 196l1-11 8-10 9-7 8-9 4-12 0-12-1-12 1-12M206 147l-7-9-9-8-10-7-9-8-10-7M252 182l2-12-3-11-5-11M339 240l8-9 10-6 11-5 12-3M321 309l8 9 11 4 11 4 12 2 9 9 5 10 3 12M380 297l11-2 12 0 12-1 12 1 11-5M254 350l-10-7-10-6-10-7-10-7-11 4-10 6-12 4-12 1M241 407l0 12 1 12-1 12 2 12 2 12M250 341l-8 9-7 10-7 9-7 10-9 8-8 9M266 385l0 12 3 12 5 11 7 10M159 334l-11 2-12 2-12 1-12 2-11-4M273 226l0-12 1-12-2-12M278 216l3-12 3-11 3-12 2-12M362 270l8-8 5-11 8-9 8-9 7-10M217 339l-10-5-12-4-9-7-9-8-12-2-12-3M191 377l-10 6-11 4-12 0-12-4M198 321l-12 2-12 4-11-2-12-2-12-4-9-8-8-9M200 379l2 12 3 11 4 12 4 11 1 12M232 322l-4-11 0-12-3-12-4-11M261 301l9-8 12-3 10-7M196 394l3 12 2 12 4 11-1 12-2 12-9 8-11-3M181 439l-5 11 3 12 7 9 5 12M184 403l-11 4-12 2-12 2-10 6-9 8-9 7-6 11-7 10M171 458l-7 10-11 4-12 3-11 4-12 4M233 296l12-2 12-1 12-2 12-1 11 3 12 2 12-4 12 0M263 246l6-11-1-12 1-12-1-12-2-11M340 357l9 8 5 11 10 7 11 5 11 4M340 357l3 11 2 12 1 12M298 366l-11-4-12 4-12 2-11 5-10 6M298 366l-6 10-5 11-2 12M268 336l-11-5-9-8-4-11-2-12-6-10-1-12-1-12M268 336l-11 4-9 8-3 11-9 9M310 311l0-12 2-12M311 311l3-12 3-12 5-11-1-12M311 311l7-10 10-8M330 351l8-9 6-10 7-10 4-11M330 351l4 12 5 11M231 27l11 3 12 1 12 2 12 0 12-3 10-5 11-5 12-2 12-1 12 1 12-1 12 2 12 0 12-2 12-1 11 1 11 6 5 11 5 11 2 12 4 11 4 11 7 10 1 12 0 12 0 12 1 12 0 12 0 12M221 398l-11 4-11 6-12 2-12-1-11-4-11-3-12 1-12 2-12 1-12-3-12-2-11 2-12 3-9 8-9 8-7 10-2 12 4 11 1 12 2 12 2 12 1 12M419 414l6 11 7 9 6 11 7 10 7 9 9 9 9 7 12 4 11 4M345 237l-4 11-5 10-9 9-6 10-7 11-6 10-5 10-4 12-3 12-2 11 1 12 4 11 5 12 2 11 9 9 11 4 12 1 12-2M18 252l8 9 11 6 9 7 10 8 11 3 12 2 11 4 11 5 10 7 9 8 8 9 8 9 8 8 11 6 8 9 7 10 6 10 5 11M374 37l10-7 9-8 5-11 5-11 2-11 1-12 0-12 3-12 5-11 4-11M184 82l-6-35-3-35-3-15M29 143l41-9 47-11M117 123l23-18 24-17 20-6M222 134l-23 18-30 17M257 301l-23 14-24 30M257 301l35 26 23 9M175 272l24 14 46 15M164 169l-18-52-12-47-6-47M263 248l41-26 46-23 53-24M210 345l-11 29-6 29M29 143l-11 50 5 46M184 82l38-12 41-12 41-23 41-12M58 225l-5 49-12 53-6 76M117 123l-24-53-40-35-41-23"/>
<path stroke-opacity="0.10" stroke-width="4" d="M185 140l2 12-3 11-2 12-2 12 3 12M160 76l-12 1-12 0M142 39l-10-7-9-8-11-3-7-10-6-11M187 21l0-12 2-11 6-11 1-12 4-11M191 132l-10 6-12 4-11 4-11 5-11 5M65 97l4-11 9-9 6-10 7-10 9-8M52 143l12-3 12-1M60 160l9 8 3 11 1 12M21 201l0 12-1 12-2 12 0 12-1 12M39 199l3 12 1 12-3 12 1 12-4 11M-10 100l0-12 3-11-4-12-3-11-3-12M101 77l-7-10-4-11-2-12-2-12M130 79l-3-11-1-12 0-12 4-12 2-11M140 130l10 7 12-2M151 151l10 7 10 6 9 8 9 9M71 123l-8 9 1 12 0 12 0 12M140 83l12 0 11-5 12-4 11-4M122 183l-12 2-10 5M147 135l-7-10-7-10-9-8-9-8M179 196l8 9 3 12-4 11M163 236l7 10-2 11-6 11-3 12-3 11M105 169l-12 3-11-2-10-7-7-10-11-4M149 140l-5-11-6-10-7-10M190 150l7-9 6-10 10-8M208 188l12-1 12 2 10 7 8 9M201 218l-5 11-5 11-10 7-9 7-5 11M117 175l-12-3-7-10-6-10-8-9M146 143l-1-12 5-11 6-11M46 22l-4-11M46 22l9-9 8-9M46 22l4 11 1 12M46 22l-5 11-5 11M46 22l-12 2-12 0M374 42l8 9 10 7 7 9M309 29l-12 2-11 5-10 5M315 1l-9-7-10-7-11-5M388 -19l6-10 3-12 5-11 2-12 7-9M361 5l6-11 6-10M213 28l-12 1-11-2-12-4M213 28l-4-11 4-11 4-12M213 28l12 0 9-8 3-12M213 28l10 7 9 8 9 7M213 28l3 12 6 10 6 10M251 187l2 12 6 11 5 11 7 9 11 4M235 178l7 10 9 6 11 6 10 6M163 129l-12-2-12 1-12-1-12 2-12-1M238 91l5-11 7-9 10-7 11-6M254 103l4-11 11-7 9-7 12-2M319 80l-8 9-9 8-10 7M319 80l-12 2-11 2M319 80l-9-7-6-11M319 80l-4-11-9-8-7-10M319 80l10-7M319 80l12 2M301 143l-12-2M301 143l10-7 8-9M301 143l1-12M301 143l11 5 12 1 12 0M301 143l8 10 1 12M301 143l-11 5M301 143l-11-2-11-7M194 284l11 5 10 7M166 297l-7 9-5 11M173 298l5 11-2 12M137 280l-11 3-11 6-11 4M138 286l-6 10-4 11 0 12M158 256l-7-10-2-12M229 260l12 2 12 1 12 1 12 1 12-1M94 275l1 12 4 11M94 275l-12-3-12-3M94 275l3-12 10-7M94 275l12 2 10 6M132 327l12 0 11 4 12 4M132 327l7 10M132 327l-9 8-9 8M132 327l-3-11M310 238l12 4 11 5 11 4 10 6M317 278l11 4 12 2 12 2 12 0 12 1M280 281l1 12-3 11 1 12M218 248l-11-6-9-6-11-6-12-1M240 196l-6-10-6-10-7-10-8-9-7-10M250 217l1-12-4-12 5-11M301 269l10-6 10-8 10-7 8-8M321 309l12-2 11-4 12 0 12-2 12-4M254 350l-5 11-4 11-2 12 1 12-3 11M250 341l1 12 8 9 4 12 3 11M205 299l-12 2-9 7-6 11-9 8-10 7M262 260l4-11 3-12 4-11M272 262l6-10 0-12 0-12 0-12M306 293l12-3 11-5 11-5 11-5 11-5M217 339l-2 12-6 11-7 9-11 6M198 321l-6 11 0 12 4 11 1 12 3 12M232 322l10-7 10-6 9-8M196 394l-2 12-4 11-6 11-3 11M184 403l-7 10-3 12 4 11-1 12-6 10M233 296l5-11 6-10 3-12 7-10 9-7M10 196l-10-6M10 196l3-12 2-12M10 196l7 9 9 9 5 11M10 196l-2 12-7 9M263 248l-3 26-3 24M146 184l-29 15-29 11-30 15-29 14M152 187l12 35 8 35 3 15"/>
<path stroke-opacity="0.15" stroke-width="4" d="M184 82l-6 35-7 29-7 23M164 172l29 21 29 23 29 23 12 9"/>
<path stroke-opacity="0.15" stroke-width="5" d="M183 80l0 12 2 12 0 12-1 12 1 12M183 80l-11-4-12 0M183 80l-8-9-10-7-4-11-8-9-11-5M183 80l5-11 1-12-1-12-2-12 1-12M183 80l10 8 5 10 1 12-2 12-6 10M28 143l6-10 9-9 8-8 5-11 9-8M28 143l12 1 12-1M28 143l11 6 10 6 11 5M28 143l2 12-1 12 0 12-2 12-6 10M28 143l-3 12 6 10 0 12 3 11 5 11M28 143l-11-4-9-8-8-9-6-10-4-12M118 121l-1-12-4-11-6-11-6-10M118 121l11-3 10-6 2-12-3-12-8-9M118 121l10 5 12 4M118 121l3 11 9 8 11 4 10 7M118 121l-12-1-12 0-12-2-11 5M118 121l1-12 4-11 6-10 11-5M146 182l-12 1-12 0M146 182l1-12-1-12 3-11-2-12M146 182l11 4 11 5 11 5M146 182l-1 12-1 12 4 11 6 11 9 8M164 172l-11-5-12 1-12-2-12 2-12 1M164 172l-2-12-7-10-6-10M164 172l10-6 11-4 5-12M164 172l11 4 12 1 10 7 11 4M164 172l7 9 10 8 7 9 9 8 4 12M164 172l-12 3-11-3-12 2-12 1M164 172l-9-8-7-10-2-11M344 22l10 6 9 9 11 5M344 22l-11 3-12 3-12 1M344 22l-8-9-10-5-11-7M344 22l8-9 9-8 8-9 10-7 9-8M344 22l9-8 8-9M221 136l4 11 8 9 7 10 6 10 5 11M221 136l-5 11 5 11 7 10 7 10M221 136l-12 0-11-4-12-3-12-3-11 3M221 136l4-12 5-11 2-11 6-11M221 136l11-5 9-8 7-10 6-10M25 243l-4-11-6-10M25 243l11-4 12-2 12-2 12-1M25 243l7 10 3 12 1 12-2 12M25 243l-1 12 0 12 0 12-6 11M25 243l-6 11-6 10M25 243l-12-2-11-3-12 1-9 8M25 243l-4-11-2-12M173 275l11 2 10 7M173 275l-1 12-6 10M173 275l-3 11 3 12M173 275l-12 0-12 4-12 1M173 275l-12 4-11 2-12 5M173 275l-9-9-6-10M173 275l10-6 10-6 12-2 12 0 12-1M264 249l11-5 12-2 12-2 11-2M264 249l11 5 11 6 10 5 10 7 11 6M264 249l3 12 8 9 5 11M264 249l-11 4-12 2-12-3-11-4M264 249l-8-8-5-11-5-11 1-12-7-11M264 249l-6-10-6-11-2-11M264 296l11-5 9-8 11-3 6-11M264 296l12 0 12 0 12 3 10 7 11 3M264 296l-1 12-3 11 4 11 0 12-10 8M264 296l-3 11-5 11-3 12-3 11M264 296l-11 4-12 0-12 0-12 0-12-1M264 296l0-12-3-12 1-12M248 303l8-9 6-10 5-11 5-11M248 303l12 0 11-5 12-3 11-2 12 0M248 303l-7 10-5 11-9 8-10 7M248 303l-12-4-12 0-11 5-9 7-6 10M209 349l8-9 7-9 8-9M209 349l1 12-3 12-5 11-6 10M209 349l-9 9-5 11-3 11-4 12-4 11M209 349l0-12 5-10 7-10 7-10 5-11M313 335l11 5 10 6 6 11M313 335l0 12-7 10-8 9M313 335l-10-6-12-2-12 4-11 5M313 335l-2-12-1-12M313 335l0-12-2-12M313 335l8 8 9 8"/>
</g>
<circle cx="575.8" cy="591.4" r="4.9" fill="url(#cg2)" opacity="0.80"/>
<circle cx="528.6" cy="610.5" r="4.4" fill="url(#cg2)" opacity="0.70"/>
<circle cx="555.9" cy="603.7" r="3.3" fill="url(#cg2)" opacity="0.60"/>
<circle cx="564.5" cy="622.4" r="4.9" fill="url(#cg2)" opacity="0.90"/>
<circle cx="569.9" cy="619.3" r="4.4" fill="url(#cg2)" opacity="1.00"/>
<circle cx="534.1" cy="573.7" r="3.3" fill="url(#cg2)" opacity="0.40"/>
<circle cx="625.1" cy="573.7" r="3.6" fill="url(#cg2)" opacity="0.35"/>
<circle cx="585.1" cy="575.5" r="2.6" fill="url(#cg2)" opacity="0.40"/>
<circle cx="587.4" cy="608.2" r="3.6" fill="url(#cg2)" opacity="0.80"/>
<circle cx="617.4" cy="591.4" r="3.8" fill="url(#cg2)" opacity="0.50"/>
<circle cx="611.9" cy="610.5" r="3.3" fill="url(#cg2)" opacity="0.15"/>
<circle cx="527.7" cy="640.9" r="4.3" fill="url(#cg2)" opacity="0.70"/>
<circle cx="572.6" cy="650.5" r="4.1" fill="url(#cg2)" opacity="0.95"/>
<circle cx="548.6" cy="650.5" r="3.3" fill="url(#cg2)" opacity="0.25"/>
<circle cx="560.4" cy="666.4" r="2.5" fill="url(#cg2)" opacity="0.15"/>
<circle cx="600.6" cy="642.8" r="4.1" fill="url(#cg2)" opacity="0.85"/>
<circle cx="600.6" cy="656.9" r="4.1" fill="url(#cg2)" opacity="0.90"/>
<circle cx="595.6" cy="659.2" r="4.1" fill="url(#cg2)" opacity="1.00"/>
<circle cx="583.7" cy="673.2" r="4.1" fill="url(#cg2)" opacity="0.85"/>
<circle cx="615.6" cy="668.7" r="3.4" fill="url(#cg2)" opacity="0.60"/>
<circle cx="523.1" cy="626.5" r="2.5" fill="url(#cg2)" opacity="0.15"/>
</g>
<circle cx="617.8" cy="592.2" r="7" fill="none" stroke="#f7921e" stroke-width="1.5"/>
<circle cx="528" cy="642.2" r="7" fill="none" stroke="#662d91" stroke-width="1.5"/>
<circle cx="616.8" cy="670" r="7" fill="none" stroke="#c8d82c" stroke-width="1.5"/>
<rect x="622" y="684.6" width="18.4" height="3" fill="#fff"/>
<text x="542.4" y="564.8" font-size="11.2" textLength="76.6" lengthAdjust="spacingAndGlyphs">40 Field stimuli</text>
<text x="556.8" y="700.8" font-size="11.2" textLength="47.9" lengthAdjust="spacingAndGlyphs">+2 frames</text>
<text x="53.2" y="651.6" font-size="11.2" textLength="47.6" lengthAdjust="spacingAndGlyphs" transform="rotate(-90 53.2 651.6)">GCaMP8s</text>
<rect x="623.4" y="403.4" width="18.4" height="38" fill="#fff"/>
<rect x="626.3" y="406.5" width="2.6" height="30.4" fill="url(#cb403)" stroke="#000" stroke-width="0.5"/>
<text x="632.3" y="410.2" font-size="7.6" textLength="8.6" lengthAdjust="spacingAndGlyphs" class="sm">35</text>
<text x="632.3" y="439.6" font-size="7.6" textLength="4" lengthAdjust="spacingAndGlyphs" class="sm">2</text>
<rect x="623.5" y="569.2" width="18.5" height="41.7" fill="#fff"/>
<rect x="626.4" y="573.2" width="3" height="30.5" fill="url(#cb569)" stroke="#000" stroke-width="0.5"/>
<text x="632.8" y="576.9" font-size="7.6" textLength="8.6" lengthAdjust="spacingAndGlyphs" class="sm">77</text>
<text x="632.8" y="606.4" font-size="7.6" textLength="4" lengthAdjust="spacingAndGlyphs" class="sm">0</text>
<line x1="155.6" y1="21.5" x2="155.6" y2="191.8" stroke="#f9c6c4" stroke-width="1.1"/>
<line x1="179.8" y1="21.5" x2="179.8" y2="191.8" stroke="#f9c6c4" stroke-width="1.1"/>
<line x1="203.8" y1="21.5" x2="203.8" y2="191.8" stroke="#f9c6c4" stroke-width="1.1"/>
<line x1="228" y1="21.5" x2="228" y2="191.8" stroke="#f9c6c4" stroke-width="1.1"/>
<line x1="252.5" y1="21.5" x2="252.5" y2="191.8" stroke="#f9c6c4" stroke-width="1.1"/>
<line x1="276.5" y1="21.5" x2="276.5" y2="191.8" stroke="#f9c6c4" stroke-width="1.1"/>
<line x1="300.7" y1="21.5" x2="300.7" y2="191.8" stroke="#f9c6c4" stroke-width="1.1"/>
<path d="M149 56.8l.1 4.2 .1-3.2 .1-1 .1 2 .1 1.5 .1-1.9 .1-2.4 .1 2.3 .1 1.5 .1-2.7 .1-.5 .1 2.6 .1-1.3 .1-1.9 .1 1 .1-.6 .1 1.4 .1-.3 .1 1.5 .1-.6 .1-3.3 .1 2.9 .1 .8 .1-.7 .1 .9 .1-2.3 .1-.6 .1 2.7 .1-2.9 .1-1.5 .1 4.6 .1-2.5 .1 .7 .1-1.6 .1 .2 .1 .3 .1 1.1 .1 1.1 .1-3.9 .1 4.4 .1-2.8 .1 .2 .1 2.6 .1-1.1 .1-2.1 .1 4.9 .1-3.9 .1 1.7 .1-.1 .1 1.8 .1-2.7 .1 2.1 .1-2.6 .1 2.7 .1-2.7 .1 .6 .1 3.3 .1-2.3 .1-.4 .1 3.1 .1-2.8 .1-1.8 .1 2.3 .1-2.8 .1 3.4 .1 .1 .1-3.3 .1-.8 .1 .4 .1-1 .1-2.1 .1 1.5 .1-4.4 .1 2.7 .1 .4 .1 .5 .1 1.1 .1-1.9 .1 2.8 .1-.9 .1-.5 .1-.8 .1 .4 .1 2.4 .1-1.8 .1 1.7 .1 1.6 .1 .2 .1 .9 .1-2.6 .1-1 .1 3.1 .1-1 .1 1.2 .1-1.6 .1 1.7 .1-.5 .1-.2 .1-.2 .1-.1 .1-.1 .1 .1 .1 1.2 .1-2.1 .1 3.3 .1-2.6 .1 1.6 .1-1.5 .1-.2 .1 3.3 .1-3.4 .1-1.4 .1 .8 .1 .6 .1 3.6 .1-2.8 .1 1.1 .1-2.8 .1 1.9 .1 .5 .1 1.6 .1-3.7 .1 1.8 .1-.4 .1-1.9 .1 1.5 .1-.3 .1-3 .1 4.3 .1 0 .1-1.4 .1-1.2 .1 4.1 .1-1.7 .1 1.1 .1 .5 .1-2.8 .1 1.9 .1-1.5 .1 .2 .1-.1 .1 .1 .1 1.7 .1-1.5 .1-.3 .1-.2 .1 .9 .1-1.8 .1 .6 .1 .6 .1-.7 .1 .6 .1-.8 .1 3.8 .1-1 .1-1.2 .1-.7 .1 3.2 .1-2.6 .1-.6 .1 .5 .1 0 .1 1.6 .1-2.1 .1 3.1 .1-4.4 .1 2.3 .1-2.4 .1 4.1 .1-3.1 .1 .4 .1 1.4 .1 .5 .1-3.5 .1 1.2 .1-1.5 .1 2.2 .1-.3 .1-.4 .1-.4 .1 .4 .1-.5 .1 1.9 .1 1.5 .1-5 .1 2.6 .1-.4 .1 1.3 .1-2.1 .1 1.2 .1-1.3 .1 2.6 .1-.9 .1-.3 .1 .8 .1-.9 .1-1.9 .1 3.1 .1-.4 .1-.7 .1 1.7 .1 .3 .1-3.3 .1 .4 .1 3.3 .1-.3 .1-3.2 .1-.7 .1 .7 .1 .2 .1-1.6 .1 2.3 .1-1.9 .1 .1 .1 3.1 .1-2.3 .1 .8 .1 1 .1 .3 .1-1.7 .1 .6 .1-1.3 .1 3.8 .1-1.6 .1-2.5 .1 1.6 .1 1 .1-.3 .1 2 .1-.6 .1-2.7 .1 .7 .1-1.7 .1 2.2 .1-.1 .1 3.6 .1-3.8 .1-3.2 .1 2.1 .1 1.1 .1-2 .1 .6 .1 .7 .1 1 .1-.8 .1-1.2 .1 2.4 .1-2 .1 0 .1-1.2 .1 .9 .1 2.1 .1-3.2 .1 2.3 .1 1.3 .1-1.6 .1 1 .1-2 .1 3.6 .1-.3 .1-1.3 .1-2.9 .1 1 .1 2.9 .1 1.1 .1-2.1 .1 1.4 .1-2.7 .1 .6 .1 .3 .1 .7 .1-2.8 .1 3.5 .1 .6 .1-3.7 .1-.3 .1 2.4 .1-1.5 .1-2.5 .1 4.7 .1-1 .1-.8 .1 3.8 .1-2.8 .1-1.3 .1 1.2 .1-1.6 .1 .4 .1 1.7 .1-1.4 .1 .2 .1 3.1 .1-1.2 .1-.1 .1-.4 .1 0 .1 1.3 .1-2.1 .1 2.7 .1-4.1 .1 1 .1-1.6 .1 1.5 .1 1.2 .1 1.4 .1-3.1 .1 .9 .1-.5 .1-1.9 .1-1.9 .1 .5 .1-3.9 .1 1.3 .1-1.4 .1-2.3 .1 .1 .1 0 .1 5.3 .1-4.2 .1 4.7 .1-.9 .1-1 .1-.8 .1 3.5 .1 1.3 .1-3.5 .1 1.2 .1 2.2 .1-.8 .1 2.6 .1-3.6 .1 1.8 .1-2.4 .1 5 .1-3.9 .1-1.9 .1 3.2 .1 .2 .1 3.2 .1-3.2 .1 .6 .1 1 .1 1.4 .1-2.3 .1 1.6 .1-.7 .1-1.1 .1 .6 .1 0 .1-1.3 .1 3.1 .1-3.7 .1 3.8 .1-.3 .1-1.4 .1-.9 .1 .8 .1 1.1 .1 .4 .1-.6 .1 1 .1-2.3 .1 1.1 .1-2.6 .1 3.3 .1-.9 .1-.8 .1 2.3 .1-.6 .1-5.1 .1 4.2 .1-2.1 .1 3.7 .1 2.1 .1-4.3 .1 .8 .1-.5 .1 .9 .1 .4 .1 .9 .1-3.2 .1 3.7 .1-3.5 .1 1.8 .1 1.3 .1-.7 .1-2.4 .1 .3 .1 .3 .1 .6 .1 1.7 .1-3.6 .1 2.6 .1 .2 .1-.1 .1-.1 .1 1.6 .1-1.5 .1 .5 .1-.4 .1 1.8 .1-5.3 .1 4.6 .1-2.2 .1-.1 .1-1 .1-1.3 .1 2.2 .1-.4 .1 1.8 .1-2.8 .1 4.2 .1-1.7 .1-.7 .1-.7 .1-.1 .1-.5 .1 .8 .1 .7 .1-.3 .1-1.8 .1 1.6 .1-.9 .1 1.5 .1 2.5 .1-1.8 .1-1.4 .1-1.9 .1 .3 .1-.5 .1 3.5 .1-2.2 .1 1.2 .1-1 .1 1.1 .1 1.9 .1-3 .1 .5 .1-.6 .1 2.4 .1-2.7 .1-.1 .1-.3 .1 0 .1 2.7 .1 3 .1-5.1 .1 2.8 .1-1 .1-2 .1 1.2 .1 0 .1-.7 .1 3.8 .1-5.6 .1 3.3 .1-.1 .1-1.3 .1 1 .1 1 .1-1.1 .1 .4 .1 .4 .1-3.9 .1 5 .1 1.2 .1-1.9 .1 .1 .1-3.5 .1 1.9 .1-1 .1 .3 .1 2.3 .1-2.6 .1 1 .1-2.5 .1 2.5 .1 .4 .1-1.1 .1 .1 .1 3.8 .1-4.5 .1 .2 .1 .3 .1 2.8 .1 1.3 .1-2.6 .1-1.6 .1 .5 .1 2.1 .1-2.8 .1 3.4 .1-.1 .1-1.9 .1 .8 .1 .2 .1 1.1 .1-3.7 .1 3.2 .1-2.2 .1-.6 .1 1.3 .1-.5 .1-1.1 .1-.9 .1 .9 .1 3.5 .1 .7 .1-1.9 .1 .9 .1-2.5 .1 .7 .1 .6 .1-1.9 .1 .1 .1 1.6 .1-.6 .1-1.1 .1 2 .1-1 .1 1.9 .1-1.5 .1-.5 .1 .7 .1-.5 .1-.7 .1 .4 .1 1.6 .1-.1 .1 .9 .1-4.4 .1 1.9 .1 0 .1 .8 .1-.9 .1-.2 .1 1.9 .1-.8 .1-2 .1 3.7 .1-.5 .1-2.3 .1 2.1 .1-2.3 .1 2.7 .1-1.9 .1-.9 .1 .7 .1-1.8 .1 .1 .1-1.3 .1-1.5 .1-2.1 .1-5.8 .1 4.2 .1-2.3 .1 3.7 .1 1.8 .1-.8 .1-.5 .1 .7 .1 .5 .1-.2 .1 .3 .1-.2 .1 3.4 .1-1.5 .1 1.6 .1-1.5 .1 .6 .1-.2 .1 1.1 .1 .6 .1-.7 .1-1.1 .1 .1 .1 3.7 .1-2.6 .1 .2 .1 2.8 .1-.5 .1-.7 .1-1.3 .1 4.1 .1-2.8 .1 .3 .1-1 .1-1.7 .1 .2 .1 2.6 .1 .1 .1-.9 .1-1.3 .1-.3 .1 1.6 .1-1.6 .1 3.4 .1 .3 .1 2.4 .1-2.8 .1-2.2 .1-.4 .1-3.7 .1 4.1 .1 .6 .1 1.7 .1-.5 .1 0 .1-.5 .1 .7 .1 1.2 .1-3.6 .1 1 .1-1.4 .1 4.5 .1-.4 .1-.7 .1-2.8 .1 2.1 .1-.6 .1 .5 .1-.4 .1 1 .1-1.3 .1 1.8 .1-.9 .1-.8 .1 .3 .1-.5 .1 1.8 .1-1.6 .1 .8 .1-1 .1-1.6 .1 3.4 .1-2.9 .1 2.5 .1-.4 .1-3 .1 1 .1 .6 .1-.4 .1-.5 .1 2.8 .1-1.3 .1 .9 .1-1.2 .1 1.1 .1-1.6 .1 1.1 .1 .8 .1-.8 .1-.7 .1-.9 .1 1.8 .1 .2 .1-.8 .1-.7 .1 1.9 .1 2.9 .1-4 .1 1 .1 .2 .1-4.3 .1 3.9 .1-1.2 .1 3 .1-2.5 .1-.8 .1 .7 .1 .5 .1-1.2 .1 .7 .1-1.9 .1 1.6 .1 1.5 .1 1.8 .1-1.8 .1-.6 .1 1.4 .1-.3 .1 .9 .1-.8 .1-1.8 .1 .6 .1-.1 .1 .1 .1-.1 .1-1.4 .1-2 .1 2.1 .1-1.9 .1 3.1 .1 0 .1-2.4 .1 3.5 .1 .3 .1-1.1 .1 2.3 .1 .3 .1-4.5 .1 3.3 .1-.9 .1 0 .1 .8 .1-2.4 .1 .1 .1-.4 .1 .1 .1 .9 .1-2.1 .1 .6 .1 2.3 .1-1 .1 .6 .1-3.3 .1 1.6 .1 .3 .1 .8 .1-.8 .1 2.2 .1-1.4 .1 .2 .1 0 .1 1.1 .1-1.8 .1 2.3 .1-1.1 .1-.5 .1-.2 .1 .6 .1 .8 .1-.1 .1-.8 .1 .7 .1-1.1 .1 1.7 .1-1.8 .1-3 .1 5 .1-1.7 .1-1.8 .1 1.5 .1-.9 .1 4.4 .1-2.3 .1-3 .1 3 .1-1.4 .1 3.3 .1-4.4 .1-1.7 .1 3.3 .1-.6 .1-.1 .1-2.5 .1 3.8 .1 1.8 .1-5.2 .1 4.5 .1-2.5 .1 4.2 .1-2.8 .1-.9 .1 1.9 .1-.8 .1-1.7 .1 1.9 .1-1.8 .1-1.9 .1 5.5 .1-3.5 .1-.3 .1 1.3 .1-2.7 .1 .3 .1 1.3 .1 0 .1 .8 .1 1.5 .1-2.4 .1 1.3 .1 .1 .1-2.5 .1 1.9 .1-1.7 .1 3 .1-.8 .1-.6 .1-2 .1 .3 .1-3.2 .1 .3 .1-3.1 .1-2.9 .1 .6 .1-2.1 .1-1.2 .1 3.3 .1-1.4 .1 .6 .1 1.3 .1-.7 .1 1 .1 .9 .1 2.9 .1 .3 .1-2.2 .1 3.1 .1-2.1 .1 .9 .1 1 .1-.5 .1 3.3 .1-2.9 .1-1.8 .1 3.8 .1-2.3 .1 .4 .1-3.7 .1 6.1 .1-.1 .1 .2 .1 .5 .1 1.2 .1-2.3 .1 1.6 .1-2.3 .1 .6 .1 2.1 .1-.9 .1-2.4 .1 2.5 .1-.8 .1-.9 .1 1.9 .1-1.2 .1-1.6 .1 .7 .1 4.3 .1-4.7 .1 2.6 .1 .7 .1 .2 .1-2.6 .1 1.4 .1 .7 .1 1 .1-2 .1-.7 .1 3.1 .1 .2 .1-.9 .1-1.4 .1 1.6 .1-.4 .1 1.1 .1-3 .1 2.1 .1-.4 .1-1.4 .1 2 .1-.3 .1-.7 .1 1.1 .1-2.6 .1 1.9 .1 .7 .1-.1 .1 1.2 .1-3.3 .1-.4 .1 2.6 .1 .4 .1 2.5 .1-2.2 .1-2.1 .1 2.4 .1-2.4 .1-.9 .1 5.9 .1-3.4 .1 .6 .1-.3 .1 1.8 .1-2.2 .1 1.3 .1-3.3 .1-.5 .1 4 .1 .1 .1-1.4 .1-.4 .1-.1 .1-1.2 .1 3.3 .1-1.3 .1-.1 .1-.1 .1 1 .1-.7 .1 .4 .1-2.8 .1 2.4 .1 2.4 .1-3.9 .1 .5 .1 1.5 .1 0 .1-.5 .1-3.2 .1 3 .1-2.4 .1 .5 .1 1.9 .1-1.2 .1 1.6 .1 3.3 .1-3.4 .1-.1 .1-2.3 .1 .4 .1-.6 .1 .8 .1-.9 .1 .6 .1 .7 .1-1.2 .1-.6 .1 .1 .1 2.6 .1-.6 .1 1.4 .1 .1 .1-2 .1 1.5 .1-3 .1 5.4 .1-1.6 .1-2 .1-1.4 .1 2.2 .1-3.3 .1 1.5 .1 2.2 .1-1 .1-.8 .1 2.2 .1-2.9 .1 2 .1-1.1 .1-.4 .1 2 .1-2.1 .1 4.2 .1-3.6 .1 3.7 .1-4.5 .1 2.4 .1-2.6 .1-.3 .1 2.2 .1 .7 .1-2.8 .1 3.5 .1-2.8 .1 1.3 .1 .4 .1 .2 .1-3.5 .1 4.9 .1-1.5 .1-1.5 .1-.9 .1-1 .1 .5 .1 2.7 .1-1.3 .1-1.1 .1 .9 .1 3 .1-2.7 .1-.3 .1 2.9 .1-1.2 .1-.6 .1-.9 .1-1.4 .1 .5 .1 1 .1 .3 .1 .8 .1 .3 .1-.5 .1 0 .1-1.8 .1-1.6 .1 2.4 .1-.6 .1 .5 .1 .6 .1-1.4 .1 .3 .1 1.4 .1 .3 .1-1.1 .1 1.6 .1-1.1 .1-1.3 .1 1.5 .1 2.6 .1-3.8 .1 2.6 .1 .3 .1 .1 .1-3.3 .1 4.1 .1-2.8 .1-.5 .1 0 .1 1.2 .1-.9 .1-.3 .1 2.2 .1-2.9 .1-.4 .1 2.8 .1-.1 .1 .6 .1-3.1 .1 3.2 .1-.8 .1 1.9 .1-4.4 .1 2.1 .1-3.4 .1-4.6 .1-1.5 .1 0 .1-5.1 .1-3.1 .1-.4 .1 1 .1 .9 .1-1.8 .1 1.9 .1 2.3 .1-1.7 .1 .6 .1 3 .1 1.7 .1-3.4 .1-1.5 .1 2.2 .1 1.1 .1 1.7 .1 1.6 .1-.7 .1-.4 .1 1.6 .1-1.3 .1 1.6 .1-.6 .1 5.2 .1-2.3 .1-2.1 .1 .2 .1 1.1 .1-1.4 .1 1.6 .1 .2 .1 2.5 .1-1.7 .1-.4 .1-.7 .1 .3 .1 1.8 .1-.1 .1 2.1 .1-2.4 .1 2.6 .1-1 .1-.2 .1-2.7 .1 1.1 .1 3.1 .1 1 .1-1.6 .1 .9 .1-1.6 .1 .1 .1-.3 .1 2.5 .1-.7 .1-.7 .1 0 .1 1.4 .1-.3 .1-1.6 .1 3.8 .1-2.1 .1-.4 .1 2.1 .1-.7 .1-1.6 .1 .9 .1-2.4 .1 .7 .1-2.4 .1 5.1 .1-4.5 .1 3.8 .1-2.1 .1-.2 .1 1.3 .1 .7 .1 .5 .1 1.7 .1-2 .1 .8 .1-2.2 .1 1.9 .1-.8 .1-.9 .1 .5 .1 0 .1 .4 .1 .3 .1-1.4 .1-.3 .1 2.1 .1-3.6 .1 1.6 .1 3.2 .1-6.2 .1 3 .1 2.1 .1-3.3 .1 6.2 .1-7.4 .1 5.9 .1 .3 .1-.9 .1-1.6 .1 .9 .1-1.9 .1 2.4 .1-2.8 .1 1.1 .1 1.8 .1-3.1 .1 1.1 .1 .7 .1-2.1 .1 3.6 .1-1.1 .1-2.7 .1 2.1 .1-1.1 .1 .2 .1 1 .1-1.2 .1 2.4 .1-2.5 .1 2.5 .1-1.5 .1 1.3 .1-2 .1 .1 .1-1 .1 2.5 .1 .5 .1 1.7 .1-1.2 .1-1.5 .1-.7 .1 .9 .1-.6 .1 2.2 .1-.8 .1-2.5 .1 .2 .1 3 .1-1.6 .1-.8 .1 2.1 .1-2.2 .1 .2 .1-.2 .1-2.1 .1 4.2 .1-2.9 .1 .9 .1-.2 .1 2.1 .1-1.2 .1 .1 .1-2.5 .1 2.2 .1-2.1 .1 2.5 .1 0 .1-.5 .1 3 .1-2.2 .1 .2 .1-.6 .1-.5 .1 1.7 .1 .2 .1-3.5 .1 3.5 .1-.8 .1 .6 .1-.8 .1-2.5 .1 .1 .1 4.3 .1-2.3 .1-2.4 .1 2.6 .1-1 .1-2.1 .1-.6 .1 1 .1 2.7 .1-.4 .1-.2 .1 .8 .1 .5 .1-3.9 .1 2.7 .1-.8 .1-.6 .1 .9 .1 .6 .1-.3 .1-1.8 .1 1.4 .1 3.7 .1-4.4 .1-.9 .1 2.8 .1 .5 .1-.2 .1-2.3 .1 3 .1-2.7 .1-.6 .1 .8 .1 .7 .1 1.2 .1-.1 .1-.9 .1 1.4 .1-1.2 .1 1.2 .1-3.4 .1-.2 .1 3.4 .1-3.2 .1 1.6 .1 .3 .1-.5 .1 0 .1 2.7 .1-5.6 .1 5 .1 2.1 .1-3.3 .1 0 .1 1.1 .1 1.6 .1-4.4 .1 1.9 .1-3.1 .1-1.7 .1-3.3 .1-2 .1-4.3 .1-2 .1-3.8 .1 .9 .1 1.6 .1 .8 .1-.8 .1 4.6 .1-1.9 .1-1.2 .1 4.2 .1-2.1 .1 2.4 .1-.1 .1 .9 .1 .4 .1-.6 .1 1.4 .1 3.3 .1-5.9 .1 3.7 .1 .9 .1-1.9 .1-.1 .1 5.4 .1-3.3 .1 3.8 .1-1.9 .1-.4 .1 .8 .1 .5 .1 1 .1-.8 .1-.3 .1 .2 .1 1.9 .1-.6 .1-2.4 .1 .7 .1 1.6 .1-1.2 .1 .6 .1-.7 .1 1.2 .1 1.2 .1 .9 .1-1.3 .1 3.2 .1-3 .1 4.9 .1-3.1 .1-.6 .1-1.4 .1-3.3 .1 3.9 .1 .5 .1 2.5 .1-4.7 .1 4.8 .1-3.1 .1 1.5 .1-4.8 .1 3.9 .1-.7 .1 1.5 .1-.9 .1-1.8 .1 3 .1-.3 .1-.1 .1 .7 .1 .3 .1-1.5 .1-1.9 .1 .1 .1 4 .1-.8 .1-.9 .1-.7 .1 .7 .1-.1 .1-.5 .1-.5 .1 4.1 .1-2.8 .1-1.2 .1-1 .1 .9 .1 2.2 .1 .1 .1-1.4 .1 .4 .1-.6 .1-1.1 .1 3.4 .1-1.3 .1 3.1 .1-4.7 .1 1 .1 1.5 .1-1.5 .1-1.6 .1 .7 .1 1.5 .1 .4 .1-.6 .1 1.5 .1 0 .1-1 .1-.5 .1-.3 .1 1.2 .1 .6 .1-1.2 .1 .6 .1-1.1 .1-1.5 .1 .5 .1 2.5 .1-.6 .1 1.5 .1-2.3 .1 1.1 .1 .7 .1-.5 .1-2.2 .1 .7 .1 .6 .1-1.6 .1 2.2 .1 .8 .1-2.2 .1 3.5 .1-3.4 .1 .1 .1-.1 .1-.7 .1 1.7 .1-.6 .1 2.4 .1-1.5 .1-.1 .1-1.1 .1-1.7 .1 2 .1-1.1 .1 2.7 .1-1.4 .1 2.5 .1-1.4 .1 .1 .1-.9 .1 0 .1 .5 .1 .4 .1-2.5 .1 1.7 .1 3 .1-3.9 .1-.3 .1-.6 .1-1.1 .1 3.9 .1-1.6 .1 .4 .1 2.3 .1 1 .1-4.8 .1 2.8 .1-.6 .1-.3 .1 .1 .1-.8 .1 2.4 .1-1.5 .1-.4 .1 1.4 .1-.6 .1-.6 .1-.2 .1 2 .1-1.8 .1-.9 .1-1.1 .1 .8 .1-.9 .1 1.7 .1 .2 .1-3.4 .1 3 .1 .8 .1-.7 .1-1.7 .1 3.2 .1-2.8 .1-.8 .1 .2 .1 1.6 .1 1.4 .1 .3 .1-1.4 .1-2 .1 .8 .1-.3 .1 1.1 .1-2.2 .1 2.7 .1 .9 .1-1.2 .1 .8 .1-2.1 .1-.8 .1 1.1 .1 2.5 .1-.2 .1-2.1 .1 2.4 .1-2.2 .1 2.8 .1-1.4 .1-1.3 .1 1.9 .1-2.2 .1-.2 .1-.7 .1 2.5 .1-.4 .1-.1 .1-.5 .1 2.7 .1-2.7 .1-.5 .1 2.8 .1 .2 .1-1.6 .1-3.1 .1 1.5 .1 1.7 .1-4.1 .1-1 .1-7.4 .1-.2 .1-5 .1-.4 .1-5.2 .1 2.5 .1-1.6 .1-.3 .1 1.1 .1 1.5 .1 .1 .1 3.9 .1 .8 .1-.9 .1-1.3 .1 1.9 .1-.2 .1 3.6 .1-1.1 .1 .7 .1-.8 .1-1.9 .1 2.2 .1-.1 .1 2.6 .1-.1 .1-.9 .1 .9 .1 3.2 .1-3.4 .1 .3 .1 1.3 .1-.4 .1 .7 .1 1.7 .1 2 .1-4.7 .1 2.8 .1 .4 .1 .1 .1 .1 .1 0 .1 2.2 .1-1.9 .1 .7 .1 .3 .1 .3 .1-.2 .1 1.8 .1-1.3 .1 .4 .1-.2 .1-1.3 .1 .4 .1-.2 .1 1.9 .1-1.2 .1-.5 .1 2 .1 .5 .1-3.2 .1 5.1 .1-2.2 .1 0 .1 1.8 .1-1.3 .1-.8 .1 4.2 .1-4.7 .1 1.5 .1 1.3 .1-2.7 .1 1.3 .1 .7 .1 2.9 .1-4.8 .1 1.3 .1 1 .1-.8 .1-1.8 .1 2.4 .1-.4 .1 .6 .1 1.1 .1-.1 .1-.8 .1-.1 .1-2 .1 1.5 .1 .5 .1-.8 .1 .7 .1-1.3 .1 3.4 .1 .9 .1-3.8 .1 1.2 .1-1 .1 2.2 .1-1.2 .1-.5 .1-.3 .1 .5 .1-1.5 .1 2.5 .1-1.9 .1 1.8 .1-.5 .1 1.4 .1-1.6 .1 1.5 .1-2.8 .1 2.2 .1-1.2 .1 .6 .1-.1 .1 1.2 .1-4.3 .1 3.4 .1-2.6 .1 3.9 .1-4.6 .1 1.5 .1-1 .1 4.8 .1-4.2 .1 2.1 .1-.9 .1-1.7 .1 2.1 .1 1.5 .1-1.2 .1 1.6 .1-1.9 .1 .4 .1-.6 .1 1 .1 2.2 .1-2.3 .1-.2 .1-1.2 .1-.2 .1 3.2 .1-3.7 .1 .3 .1 1.2 .1-.5 .1 3.5 .1-6.3 .1 4 .1 .5 .1-2.6 .1 .7 .1 1.6 .1 1.8 .1-3.7 .1-.9 .1 3.6 .1 .8 .1-2.8 .1-2.8 .1 5.3 .1-2.5 .1 1.9 .1-1.7 .1-.4 .1-.1 .1 2.7 .1 0 .1-5.2 .1 1.7 .1 4 .1-3.1 .1-1.4 .1 2 .1-.1 .1 0 .1-.5 .1 .2 .1-.2 .1 1.2 .1-1.7 .1 .8 .1 .3 .1 2.1 .1-1.3 .1-.6 .1 1 .1-.1 .1 1 .1-.8 .1 1.9 .1-.7 .1-2 .1-.6 .1 1.8 .1-.6 .1-.9 .1-2.1 .1-.5 .1 3.1 .1 .6 .1 .1 .1-3.1 .1 3.3 .1-2.3 .1 1.4 .1 0 .1-1.8 .1 .3 .1-2.1 .1 1.7 .1-1.3 .1 3.3 .1-.5 .1 1.3 .1-.8 .1-1.4 .1 1.4 .1-1.1 .1 1.5 .1-.5 .1-1.8 .1 1.4 .1 .1 .1-.5 .1 1.8 .1 1.2 .1-3 .1 0 .1-2.8 .1 3.1 .1-.5 .1-2.5 .1 3.5 .1 .5 .1-1.9" fill="none" stroke="#bf9bd1" stroke-width="0.85" stroke-linejoin="round"/>
<path d="M149 109.1l.1 1.6 .1 0 .1-.8 .1 1.5 .1 .7 .1 .2 .1-2 .1 .6 .1 3.1 .1-5 .1 1.9 .1 1 .1-1.1 .1 .7 .1-.7 .1 .8 .1 .8 .1-2.2 .1 .6 .1-.4 .1-.5 .1 .6 .1-1.6 .1 2.7 .1 1.4 .1 0 .1-.7 .1-3.2 .1 3.5 .1-3.2 .1 .9 .1 2.8 .1-4.3 .1 2.8 .1-.7 .1-.6 .1-1.1 .1 1.9 .1-1.3 .1 2.2 .1 .2 .1-3.8 .1 1.3 .1 .3 .1-1.2 .1 .2 .1 1.8 .1-.5 .1-2.1 .1 1.7 .1 1.5 .1-2.5 .1 .4 .1 3.7 .1-.3 .1-4.3 .1 .4 .1 2.5 .1-2.3 .1 1.3 .1-.3 .1 1.5 .1-4.6 .1 .5 .1 1.3 .1 3.3 .1-1.9 .1-2.5 .1 3 .1 .2 .1-1.6 .1-.3 .1 .9 .1 1.3 .1-1.4 .1 .6 .1-.7 .1-.4 .1-.7 .1 1.7 .1-.7 .1 .1 .1 1.7 .1-.6 .1 .5 .1-3.5 .1 3.1 .1-1.7 .1-.3 .1-.1 .1 3 .1-.6 .1-2.2 .1-.6 .1 1.7 .1-.6 .1 3.1 .1-4.6 .1-.5 .1 2.3 .1 .4 .1 .2 .1 .9 .1 2 .1-3.5 .1-.2 .1-1.6 .1 2.9 .1 1 .1-1.6 .1 2.1 .1-1.7 .1 2.2 .1-1.8 .1-2 .1 .6 .1-1.3 .1-.3 .1 2.9 .1 .9 .1 1.6 .1-2.9 .1-.2 .1-1.2 .1 3 .1-.8 .1-1.4 .1 1.8 .1-.2 .1-3.6 .1 3.7 .1-.9 .1-.8 .1 0 .1 3.1 .1-.3 .1 .5 .1-4.3 .1 .8 .1 2.3 .1-3.1 .1 .8 .1-1.6 .1 5.3 .1-1.1 .1-.9 .1-.3 .1-.9 .1 0 .1 1.5 .1-2 .1 2.8 .1-2.5 .1-.5 .1 3.2 .1-2 .1 1 .1-1.4 .1-2.8 .1 4 .1-2.9 .1 3.5 .1-3.9 .1-.5 .1 3.2 .1 .3 .1-.4 .1-1.9 .1 3 .1-3.4 .1 1.4 .1-.5 .1 .6 .1 1.7 .1-2.1 .1 1.8 .1 .2 .1-3.5 .1 .8 .1 1.2 .1-.4 .1 1.3 .1-3.2 .1 3.8 .1 0 .1-1.3 .1-1.7 .1 2.1 .1-.8 .1 1.7 .1-.9 .1 1.2 .1-1.7 .1 2.8 .1-5.5 .1 1.9 .1 2.2 .1-2.9 .1 3.3 .1-2.8 .1 1.9 .1-1.5 .1 .7 .1 .8 .1-.5 .1-.5 .1 3.6 .1-3.1 .1-1.5 .1 2.8 .1-.2 .1 .6 .1 .8 .1-4 .1 2.9 .1 .1 .1-1.6 .1 .3 .1-4.7 .1 3.5 .1 3.4 .1-5.2 .1 1.8 .1 1.2 .1 .5 .1 1.5 .1-4.9 .1 2.7 .1 1.2 .1-3.2 .1 1.9 .1 2.8 .1-.9 .1-1.1 .1-4.6 .1 3.6 .1 .7 .1-1 .1 .3 .1 4.6 .1-4.8 .1-1.2 .1 1.8 .1-.7 .1 0 .1 .4 .1 1.3 .1-.7 .1-2.1 .1 1.5 .1 .9 .1-1.4 .1 2.3 .1-.6 .1-2.5 .1 1.9 .1 2.4 .1-.6 .1-2.3 .1 1.3 .1-2.3 .1-1.1 .1 2.9 .1-.5 .1 .4 .1-.7 .1 .5 .1-1.2 .1 1.4 .1 .5 .1-1.3 .1 1.2 .1-3.7 .1 1.4 .1 3.3 .1 .5 .1-2.2 .1-.4 .1-1.7 .1 2.4 .1 .6 .1-3.2 .1 2.9 .1-.1 .1 0 .1-2.3 .1 2.4 .1-3 .1 4.3 .1-1.9 .1-1.9 .1 3.6 .1-.3 .1-2.6 .1 4.1 .1-4.6 .1 1.9 .1 1.3 .1-5 .1 4.7 .1-1.6 .1 .1 .1-1.6 .1 2 .1-2.2 .1 .2 .1 .8 .1-1.1 .1 2 .1-6.2 .1-1.2 .1-1.4 .1-1.6 .1-.9 .1-2 .1-.7 .1 .7 .1 1.4 .1 1.8 .1 .5 .1-1.1 .1-1.6 .1 6.6 .1-1.1 .1-.5 .1 .7 .1-.9 .1-.3 .1 1.3 .1 .5 .1-.3 .1-1 .1 1.9 .1 1.5 .1-1.4 .1 1 .1-2.8 .1 3 .1 .4 .1-1.3 .1-.5 .1 3.4 .1-1.5 .1 2 .1-1.1 .1 1.6 .1-1.3 .1-1.7 .1 2.1 .1-.2 .1 1.5 .1-1.5 .1 .2 .1 2 .1 .6 .1-.5 .1 .5 .1-.8 .1 .5 .1 .2 .1-.7 .1-.5 .1 .2 .1 3.3 .1-3.4 .1-.3 .1-.2 .1 .6 .1 .4 .1-2 .1-1.2 .1 3.3 .1-2.7 .1 2.7 .1-.2 .1 1.5 .1 .8 .1-1.9 .1-1.3 .1-.9 .1 .6 .1 1.2 .1-3.1 .1 3.1 .1-.1 .1 1 .1-1.4 .1 .6 .1-1.3 .1 .4 .1-1.9 .1 2.8 .1 2 .1-2 .1 .4 .1-2 .1 3.5 .1-3.2 .1 2.2 .1-1 .1-1.5 .1 2.9 .1-1.4 .1 .3 .1 .4 .1-.6 .1-.5 .1 1.2 .1-1.2 .1 .6 .1-1.1 .1-1.2 .1 1.2 .1 .2 .1 .7 .1 1.7 .1-4.2 .1 2.6 .1-3.3 .1 1.7 .1 .8 .1-2.5 .1 .6 .1 2.9 .1-.1 .1-.2 .1-1 .1 4.3 .1-3.4 .1-1 .1 3.7 .1-1.5 .1-1.4 .1 2.2 .1-1.5 .1 .7 .1-.5 .1-1.9 .1 2.9 .1-1.2 .1-1.8 .1 .3 .1 2.4 .1-1.9 .1 .5 .1 .9 .1-.7 .1-2.4 .1 3.2 .1 .5 .1-.1 .1 1.2 .1-1.8 .1 .6 .1 1.2 .1-2.7 .1 2.9 .1-.1 .1-1.4 .1 1.6 .1-1.5 .1-2.5 .1 3 .1-1.1 .1 .1 .1-.4 .1 1.8 .1-1.2 .1-1.8 .1 1.7 .1 .3 .1-2.1 .1 .4 .1 0 .1-.3 .1 1.4 .1 1 .1 1.4 .1-1 .1-.3 .1 .2 .1 .2 .1-2.5 .1 1.6 .1-.6 .1-.6 .1-.5 .1-.1 .1 .3 .1-1.5 .1 2.5 .1-.8 .1 .2 .1 .4 .1 .5 .1-1.9 .1 .7 .1-2.2 .1-.9 .1 .4 .1 5 .1-4.9 .1 3.3 .1 1.5 .1-2.8 .1 3 .1 .4 .1-1.2 .1 2.1 .1-2.5 .1-1.9 .1 1.9 .1-1.5 .1-1.3 .1 0 .1 5.2 .1-4.1 .1 .7 .1-.9 .1 1.2 .1-.5 .1-.2 .1-1.2 .1-.3 .1 1 .1 1.4 .1 2.6 .1-1.4 .1 1.1 .1-1.9 .1-.8 .1-1.8 .1 1.9 .1-3.1 .1 2.7 .1 2.8 .1-1.8 .1 1.2 .1-2.2 .1-1.4 .1 1.3 .1 .1 .1 2.3 .1 1.1 .1-4 .1 .5 .1 .4 .1-.3 .1-4.1 .1-.8 .1-2.4 .1-2.7 .1-5.2 .1-1.2 .1-5.2 .1 4.9 .1-1.7 .1 2 .1 .7 .1 .6 .1 .1 .1-.2 .1 5.7 .1-1.4 .1 .6 .1 3.3 .1-2.5 .1 1.6 .1-.2 .1 2.2 .1-.5 .1 .2 .1-.4 .1 1.2 .1 1.6 .1-4.3 .1 3.2 .1-.1 .1 .5 .1-2.2 .1 4.1 .1-2.1 .1 1 .1-.2 .1-1.5 .1 2 .1-1.8 .1 1.5 .1 1.2 .1 .6 .1 .2 .1-.1 .1 3.4 .1-2.4 .1-2.3 .1 1 .1 0 .1 .8 .1-.5 .1-.3 .1 3.7 .1-2.3 .1-.5 .1 .1 .1 .2 .1 2.4 .1-1.3 .1 1 .1-6 .1 5 .1 1.2 .1 1.4 .1-2.8 .1-2.4 .1 3.4 .1-1.7 .1-1.8 .1 1.7 .1 2.4 .1 .2 .1-.7 .1-2.6 .1 5.2 .1-5.4 .1 1.6 .1-1.9 .1 4 .1-1.3 .1 .7 .1-1.1 .1-.2 .1 .4 .1-3 .1 4.2 .1-.2 .1-1.9 .1 .5 .1 .5 .1 1.8 .1-1.7 .1-.6 .1-.9 .1-1.4 .1 1.3 .1 1 .1-.4 .1 .5 .1 1 .1-.4 .1-.2 .1 .5 .1-.7 .1-.2 .1 .7 .1-3.1 .1 4.3 .1-3.6 .1 3.1 .1-1.1 .1 1.6 .1-1.5 .1-1.4 .1 2.9 .1-1.3 .1-.1 .1 0 .1 1.3 .1-.3 .1-.8 .1-2.5 .1 1.6 .1 .8 .1 2.4 .1-2.1 .1-.7 .1 1.8 .1-1.9 .1 0 .1 .3 .1-2.5 .1 3.5 .1-.7 .1-1.1 .1-1.2 .1 2 .1 1.7 .1-2.9 .1-.6 .1 2.2 .1-2.9 .1-.9 .1 2.5 .1-.4 .1 .6 .1-.5 .1 1.2 .1-.8 .1-.6 .1 .2 .1 1.7 .1 .5 .1 0 .1-.2 .1-5.8 .1 3.3 .1 1 .1 .7 .1-2.6 .1 4.4 .1-1.7 .1-1.3 .1 1.1 .1-.7 .1-.7 .1 1.8 .1-1.4 .1-1.5 .1 1.1 .1 .7 .1-1.5 .1 3.5 .1-3.4 .1 4.2 .1-1.2 .1-2.6 .1 1.6 .1 1.5 .1-2 .1-1.5 .1 1.9 .1 2.6 .1-5 .1 2.9 .1-.7 .1-.2 .1-.4 .1 .2 .1 2 .1-.6 .1-2.3 .1 3.7 .1-4.1 .1 2.8 .1-.6 .1 1.5 .1-1.2 .1 1.1 .1-1.6 .1 1.4 .1-.9 .1 2.6 .1-4.1 .1 2.7 .1-1 .1-.4 .1-1.1 .1 1.5 .1-2.8 .1 .2 .1 3 .1-3.4 .1 4.3 .1-2.5 .1 .7 .1-.3 .1 .5 .1-1 .1-.2 .1 .4 .1 1.7 .1 .1 .1 .2 .1-1.3 .1-.8 .1-2.1 .1 3.3 .1 .3 .1-1.8 .1 1.8 .1 .7 .1-1.7 .1 1.4 .1-1 .1-2.9 .1 1.9 .1 .1 .1 1.4 .1-2 .1 .6 .1-.8 .1-1.6 .1-2.8 .1-1.6 .1-3.2 .1-3.8 .1-2.9 .1-3.1 .1 1.1 .1 3.1 .1-4.9 .1 4.3 .1 1.7 .1 2 .1-2.4 .1 2.9 .1 1.5 .1-1.2 .1-1.5 .1 2.8 .1-.6 .1 3.1 .1-1.7 .1 4.3 .1-1.9 .1-1 .1 .8 .1-.4 .1 2.5 .1 1.9 .1-2.3 .1 2 .1-2.5 .1 2.1 .1 3.1 .1-5.1 .1 4.1 .1 .1 .1-4.2 .1 .8 .1 .9 .1 3 .1-1.8 .1 .6 .1 1.5 .1-.7 .1 .3 .1-.6 .1 2.2 .1-2.6 .1 3.7 .1-2.8 .1-.6 .1 2.2 .1-.2 .1-3.4 .1 3.2 .1-2.3 .1 .8 .1 2.4 .1-2.3 .1 1.8 .1-1.1 .1 3.4 .1-3 .1-1.5 .1 0 .1 .3 .1 1.6 .1-.1 .1 1.5 .1-1.1 .1 .1 .1 .4 .1-.5 .1 .6 .1 .8 .1 0 .1-1.9 .1-1.8 .1 1.4 .1 1.6 .1-4 .1 2.9 .1 1.3 .1-1.5 .1-.8 .1 4.1 .1-.5 .1-2.4 .1 2.3 .1 0 .1-3.5 .1 5.5 .1-5.2 .1 .9 .1-1.2 .1 1.7 .1-2 .1 1.9 .1 1.6 .1-1.2 .1-.7 .1 2.7 .1-3.5 .1 2.7 .1-1.9 .1 .8 .1-.3 .1 .1 .1-.3 .1-1.1 .1 .3 .1 1.4 .1-.8 .1-1.5 .1 .7 .1 .1 .1 1 .1 .4 .1-.1 .1-1.1 .1 1 .1-2 .1-2.2 .1 4.2 .1-2.3 .1 1.1 .1-.4 .1 2.7 .1-2.7 .1 2.2 .1-1.1 .1-1.1 .1-.5 .1 2.9 .1-.1 .1 .5 .1 1.6 .1-2.3 .1 .1 .1-.6 .1 .3 .1-.7 .1-.8 .1 4.2 .1-5.7 .1 3 .1 .2 .1-.5 .1-1.7 .1 1.1 .1-.4 .1-.9 .1 1.5 .1-.5 .1-.2 .1 1.9 .1-2.5 .1 2.2 .1-1.5 .1 1.6 .1-.6 .1 .2 .1-1.8 .1 .3 .1-.2 .1 1.5 .1 .8 .1 .4 .1-2.3 .1 .8 .1-2.4 .1-.9 .1 2 .1 .3 .1-1.2 .1-.3 .1 3.4 .1-1.9 .1-1.3 .1 5.8 .1-3.2 .1-.7 .1 1.4 .1-2.1 .1 3.4 .1-4.5 .1 .4 .1 1.7 .1-.9 .1 3.2 .1-4.3 .1 1.3 .1 1.4 .1 .5 .1 .6 .1-1 .1 2.6 .1-3.9 .1 .9 .1 1 .1-1.7 .1 .1 .1-.2 .1-.2 .1-.7 .1 .9 .1-1.4 .1 2.7 .1-2.9 .1 5.2 .1-.5 .1-.9 .1-1.8 .1-.6 .1 2.6 .1-1.5 .1 .5 .1-1.9 .1 2.6 .1-2.7 .1 1.3 .1-2.6 .1 1.6 .1 1.7 .1-1.3 .1 0 .1 1.8 .1-1.3 .1 1.8 .1-5.3 .1 4.2 .1-.1 .1-3 .1 .3 .1 3.2 .1-2.8 .1 .6 .1 1.8 .1-1.3 .1 1.2 .1-1.9 .1 1.8 .1 1.1 .1-1 .1-8.8 .1-1 .1-6 .1-6.5 .1-1.8 .1-9.6 .1 .2 .1-1.8 .1 4.9 .1-.8 .1-.3 .1 3.5 .1 1.7 .1 1.6 .1 2 .1-1.6 .1 3.1 .1 1.4 .1-.5 .1-.1 .1 .8 .1 3.3 .1 .8 .1-1.6 .1 0 .1 4.5 .1-3.4 .1 3.1 .1-.7 .1-.8 .1 3.3 .1 .1 .1 2.8 .1 1.7 .1-3.1 .1 2.2 .1 .4 .1-2 .1-.2 .1 3.9 .1-2.6 .1 .8 .1-.1 .1 .5 .1-.4 .1 2.2 .1 1 .1-2.1 .1-1.2 .1 2.3 .1-1.9 .1 1.4 .1 2.9 .1 1.8 .1-2.6 .1-1.9 .1 2.9 .1-4.2 .1 2.4 .1 3.3 .1-1 .1-2.9 .1-.4 .1 3.8 .1-1.2 .1-.7 .1 1.6 .1-1.4 .1-1.8 .1 4 .1-2.1 .1-.5 .1-.4 .1 2.3 .1-1.5 .1 2.1 .1-1.2 .1 1.9 .1-2.1 .1-.4 .1-1.9 .1 1.3 .1 2.7 .1 3.4 .1-6.2 .1 .4 .1 2 .1 .3 .1-1.6 .1 1.1 .1-2.4 .1 2 .1 1.8 .1 1.1 .1-2.5 .1-.1 .1 1 .1 1 .1-.9 .1-1.7 .1 1.6 .1 .9 .1-2.4 .1-.8 .1 2.7 .1-.2 .1 1 .1-1.3 .1-1.1 .1 .3 .1-1 .1 .1 .1 .5 .1 .1 .1 2.3 .1-3.4 .1 1.7 .1-.8 .1 3 .1-1.8 .1-.9 .1 1.8 .1-1.1 .1-.7 .1 2.9 .1-1.2 .1 1.5 .1-.8 .1-.5 .1-.9 .1-1.7 .1 2.6 .1-.9 .1 .9 .1-1 .1-1 .1-.5 .1 2.5 .1 .8 .1-2.2 .1 1.1 .1 1.3 .1-3.1 .1 .7 .1-1.1 .1 3.2 .1-1.3 .1-1.1 .1-1.8 .1 2 .1 1.6 .1-1.9 .1-.2 .1 1.5 .1-2.7 .1 1.9 .1 .8 .1-1.9 .1-.1 .1 1.6 .1-.5 .1-.2 .1 .6 .1 .1 .1-1.7 .1 .4 .1 1.7 .1 .9 .1 .3 .1-3.2 .1 2.8 .1-.5 .1-1.2 .1 .8 .1 .5 .1 1.3 .1-4 .1 2.3 .1-1 .1-.1 .1 1.9 .1-.5 .1-2.6 .1 1 .1 .8 .1-2.3 .1 3.3 .1-1.3 .1 .4 .1 .3 .1 2.1 .1-2.5 .1-.5 .1 3 .1-3.2 .1-.1 .1-1.3 .1 3.5 .1-1.2 .1 .3 .1-.4 .1-.5 .1-.8 .1 0 .1 1.8 .1-.4 .1 2.2 .1-3.4 .1 .4 .1-.8 .1 3.5 .1-3.8 .1 2.9 .1 .9 .1-2.3 .1 1.2 .1-4.1 .1 2.5 .1-1.8 .1 2.6 .1-.2 .1-1.1 .1 2.4 .1-.8 .1-1.3 .1 0 .1-1.3 .1 1.8 .1 3.4 .1-4 .1 1.7 .1-1.4 .1 2 .1-.5 .1-1 .1-2.3 .1 1.8 .1 2.5 .1-2.1 .1 1.2 .1-6.7 .1-7.1 .1-1.8 .1-5.2 .1-6.3 .1-4.7 .1-4.1 .1 .4 .1 2.8 .1 .7 .1-1.7 .1 4.4 .1 .6 .1 .8 .1 2.9 .1-.3 .1 2.5 .1 1.8 .1-.4 .1-1.6 .1 2.1 .1 3.1 .1-.8 .1 0 .1 1.7 .1 1.6 .1 .3 .1 1.2 .1-1.5 .1 1.3 .1 .5 .1 .9 .1-2.5 .1 3.2 .1-1.1 .1 4.4 .1 .7 .1 .6 .1-.8 .1-1.5 .1 2.4 .1-1.4 .1 1.5 .1-1.9 .1 .8 .1 1.7 .1 2.2 .1-2.4 .1 3.5 .1 .9 .1-5.6 .1 2.1 .1-1.1 .1 1.4 .1-.3 .1 .9 .1 1.8 .1 .2 .1-.8 .1-.2 .1 .4 .1 .1 .1 .7 .1-.8 .1 .8 .1-2.6 .1 3 .1 1.4 .1-2.2 .1-2.1 .1 4.1 .1-2.2 .1-3.6 .1 4.1 .1 1.3 .1-.2 .1 1.3 .1-.9 .1-.7 .1-3 .1 1.3 .1 1.9 .1 .8 .1-2.4 .1 .6 .1 1.7 .1-3.4 .1 0 .1 2.5 .1 .7 .1-1 .1-2.5 .1 3.3 .1-1.9 .1 2.9 .1-1.1 .1 .6 .1 .5 .1-1.6 .1 1.9 .1 .6 .1-1.2 .1 1.3 .1-2.8 .1 2.1 .1-.9 .1-1.9 .1 1.3 .1-.6 .1 .1 .1 1 .1 1.5 .1-2 .1 .7 .1-2.2 .1 2.3 .1 1.5 .1-.5 .1-.6 .1-1.4 .1-.7 .1 1.3 .1-1.8 .1 .2 .1 3.2 .1-2.7 .1 3.9 .1-4.6 .1 2.7 .1-2.3 .1 1.9 .1-1.8 .1 1.5 .1-.3 .1-.5 .1 1.4 .1 1.5 .1-3 .1 2.1 .1-1.1 .1-.2 .1 3.2 .1-6.2 .1 2.1 .1-1.6 .1 2.1 .1 .1 .1 5.8 .1-5 .1 2.1 .1-.8 .1-2.5 .1 1.3 .1 1.7 .1-2.1 .1 0 .1 .4 .1-2.8 .1 1 .1 1.7 .1 .3 .1-2.1 .1 .9 .1 .2 .1-.1 .1 1.2 .1-.8 .1 .1 .1-2.2 .1 .5 .1 2.1 .1-2.8 .1 2.7 .1-1.3 .1-.2 .1 2.1 .1-1.9 .1-.2 .1 .3 .1 1 .1 3.9 .1-7 .1 3.1 .1-.4 .1 1.8 .1-1.9 .1-3 .1 5.5 .1-3.5 .1 1.5 .1-1.9 .1 .3 .1 .9 .1 1.9 .1-.1 .1-2.1 .1 1.5 .1-1.2 .1 .7 .1 0 .1 .7 .1-1.7 .1 .7 .1 .5 .1-.1 .1-1.3 .1 3.6 .1-3.1 .1 1.8 .1-.8 .1 1.4 .1-4.9 .1 6.1 .1-3.3 .1-1.5 .1 2 .1 3 .1-2.5 .1-2.5 .1 1 .1 2.6 .1-4 .1 1.7 .1-.2 .1 3.6 .1-3.6 .1 2.4 .1-2.9 .1-.2 .1 2.7 .1-.6 .1-3.3 .1 3.4 .1 0 .1-1.8 .1 1.3 .1 .1 .1-1.1 .1-.1 .1-.1 .1 .7 .1-1.5 .1-3.9 .1-7.7 .1-3.5 .1-5.9 .1-7.1 .1-3.1 .1-4.1 .1 .6 .1-2.4 .1 5.2 .1-.2 .1 1 .1 .4 .1 2.1 .1 3.2 .1-.2 .1-.3 .1 .6 .1 1.3 .1 2.4 .1 2.7 .1-3.4 .1 2.4 .1 .2 .1 .3 .1 2.4 .1 .9 .1-2.1 .1 1.2 .1 3.8 .1-.6 .1 .9 .1-.9 .1 .7 .1 1.7 .1-.8 .1-.4 .1 2.1 .1 1.8 .1-2.3 .1 3.5 .1-.1 .1-1.8 .1 1.7 .1 .3 .1 1.3 .1 .4 .1-2.6 .1 .2 .1 3.7 .1-1.1 .1 .6 .1 .1 .1 2 .1-3.7 .1 3.5 .1-2.5 .1 2.4 .1 1.1 .1-3.7 .1 2.7 .1-.8 .1 .2 .1 .7 .1-1.4 .1 .4 .1 2.5 .1 .4 .1-1.8 .1-1.1 .1 5.5 .1-1.5 .1-.9 .1-1.9 .1 .8 .1 1.3 .1-1.7 .1 3.8 .1-2.1 .1 .5 .1-2 .1 .2 .1 .3 .1 1.6 .1-.7 .1 0 .1 .9 .1-.1 .1 1.8 .1-2.4 .1-1.2 .1 1.5 .1 2.2 .1-2.8 .1 .9 .1-.4 .1 1.2 .1-.1 .1-1.4 .1 1 .1 1.7 .1 .3 .1-.3 .1-.1 .1-1.8 .1-.1 .1 1.8 .1-3 .1 1.5 .1-2.6 .1 2.2 .1-.5 .1-.6 .1 2.6 .1-1.8 .1 .6 .1 .2 .1-.6 .1 3.2 .1-2.7 .1 1.1 .1-2.1 .1 1.3 .1 .3 .1 .1 .1-.4 .1 1.1 .1 1.9 .1-2.4 .1-.1 .1-.4 .1 4.1 .1-1.3 .1-1.6 .1 .2 .1-2 .1 .9 .1 .6 .1 0 .1-1.2 .1 .1 .1 1.9 .1-.2 .1-3.5 .1 3.1 .1 1.6 .1-2.9 .1 1.2 .1-2.4 .1 3.2 .1-2.7 .1-.2 .1 1.4 .1 3.9 .1-4.2 .1-1 .1 2.5 .1-.4 .1 2 .1-4.2 .1-.5 .1 1.8 .1 1 .1 0 .1 1.1 .1-3.6 .1 1 .1 1 .1 1.4 .1-.5 .1-1.3 .1-.8 .1 2.7 .1 .1 .1 2.5 .1-4.1 .1 2.5 .1-4 .1 .9 .1-.2 .1 .3 .1-.6 .1 .5 .1 .7 .1-.5 .1 1.6 .1-1 .1 .2 .1 2.1 .1-1.6 .1-.3 .1-.2 .1 0 .1 .7 .1-2 .1 2.7 .1 .5 .1-.6 .1-2.3 .1-1.6 .1 1.6 .1 .8 .1 .9 .1-1.5 .1-.1 .1 2.6 .1-3.1 .1 2.5 .1-.2 .1-3.2 .1 2.3 .1-1.2 .1-.5 .1-1.3 .1 .5 .1 2.8 .1-1.1 .1 .9 .1-2 .1 1.1 .1 0 .1-1.9 .1-.1 .1 2.9 .1-.4 .1-1.5 .1 1.2 .1 1.1 .1 1.7 .1-3.8 .1 2.2 .1 2.2 .1-2.9 .1 2.1 .1-5.7 .1 5.7 .1-2 .1-2.6 .1 3.8" fill="none" stroke="#2a6db2" stroke-width="0.85" stroke-linejoin="round"/>
<path d="M149 171.8l.1-.6 .1 0 .1-1.4 .1 1.2 .1-1.1 .1 2.2 .1-.4 .1-2.3 .1-.4 .1 2 .1 1.8 .1-.3 .1-.9 .1-5.3 .1 4.4 .1-.5 .1 .6 .1-1.4 .1 1.2 .1-.3 .1 5.5 .1-3.2 .1-1.4 .1 .3 .1-.1 .1 .5 .1-.9 .1 .6 .1 1.7 .1-.4 .1-.8 .1 1.6 .1-1.8 .1-1.9 .1-1.2 .1 1.6 .1 1 .1 .7 .1 1 .1-2.6 .1-.4 .1 2.5 .1 .6 .1-2.7 .1 1.3 .1 1.7 .1-1.8 .1-.6 .1-3.3 .1 5.5 .1-1 .1-.8 .1-.8 .1-1.2 .1 2 .1 .1 .1 2 .1-3.7 .1 4.3 .1-2.3 .1 1.8 .1-3.6 .1 2.1 .1 1.3 .1-1.8 .1-2.6 .1 1.6 .1 1.1 .1-3.4 .1-.3 .1 2.4 .1-2.2 .1 2.4 .1-2.9 .1-.9 .1 1.8 .1 3.8 .1-3.7 .1 1.5 .1 .5 .1-1.8 .1 3.3 .1-1.4 .1 .5 .1-3.4 .1 0 .1-1.6 .1 4.1 .1 0 .1 1.6 .1 1.2 .1-2.8 .1 0 .1 1.2 .1 1.7 .1-3.7 .1 2.4 .1-1.3 .1-.1 .1 1.9 .1-2.6 .1-.4 .1 2.8 .1-1.1 .1-.3 .1 .2 .1 1 .1-1.3 .1 1.8 .1-.5 .1 1.7 .1-.3 .1-.6 .1-1.8 .1 .5 .1-1.2 .1 5.5 .1-5 .1 1.2 .1 1.3 .1-4.4 .1 .9 .1 .7 .1-.9 .1-.4 .1 1.3 .1 2.8 .1-.9 .1-1.1 .1-.1 .1-2.7 .1 3.8 .1-.4 .1-2.4 .1 2.1 .1-.6 .1-.5 .1-.7 .1 .4 .1-.4 .1 2.2 .1-.2 .1-.1 .1-.8 .1-.4 .1 4 .1-6.3 .1 4.9 .1-1.3 .1-.5 .1-.9 .1 .4 .1-1.5 .1-.3 .1 2 .1-2.5 .1 4 .1 .5 .1-7.3 .1 3.1 .1 2.9 .1-.1 .1-.1 .1 .5 .1 .5 .1 .1 .1 1.4 .1-2.9 .1 1.3 .1-4 .1 2.4 .1-1.8 .1 4.2 .1 1.5 .1-2.8 .1-2.9 .1 1.9 .1 .3 .1 .3 .1 1.4 .1-.2 .1-5.7 .1 6.4 .1-2.9 .1-.1 .1 3.2 .1-2.7 .1-1.7 .1 0 .1 2.2 .1 1.4 .1 .9 .1-2.7 .1-.5 .1 3.4 .1-3.3 .1 3.1 .1-2 .1 0 .1-.8 .1 .8 .1-1.3 .1-.3 .1 .8 .1-.8 .1 1.5 .1-.3 .1-.5 .1 .1 .1 0 .1 3.2 .1-2.8 .1-.9 .1 .4 .1 1.6 .1-1.4 .1 0 .1-.2 .1 .7 .1 .3 .1 .1 .1-3.4 .1 .9 .1-2.5 .1 5.5 .1 .5 .1 .3 .1-1.8 .1 1.6 .1-1.9 .1-.2 .1-2.3 .1 1.3 .1 .3 .1 2.5 .1 1.2 .1-3.3 .1 1.4 .1-.1 .1-1.6 .1-1.5 .1 1.5 .1-1.1 .1 1.8 .1 .3 .1-.1 .1 0 .1 1 .1-2.3 .1 2.8 .1-4.2 .1 2.8 .1 .4 .1-1.9 .1-1.2 .1 3.6 .1-2 .1 2.4 .1 0 .1-1.2 .1 0 .1 1.6 .1-.9 .1-2.2 .1 1.8 .1 .6 .1-.6 .1 0 .1-.6 .1 .1 .1-1.3 .1-.9 .1 4.1 .1-2.8 .1 1.3 .1-2.7 .1 2.7 .1-1.6 .1 6.1 .1-6.4 .1 0 .1 3 .1 .3 .1-5.2 .1 3.8 .1 1 .1-3.3 .1 3.1 .1-1.9 .1-.7 .1 1.1 .1-.2 .1-1.5 .1 5.8 .1-4.3 .1-.4 .1 2.6 .1-1.5 .1 2.3 .1-2.6 .1 1 .1-.5 .1 0 .1-.7 .1 .1 .1 2.8 .1-3.8 .1 .2 .1-2.1 .1-1 .1-2.7 .1-1.5 .1-6 .1 .1 .1-3.1 .1 .9 .1 1.6 .1-2.5 .1 4.3 .1 .6 .1-1.8 .1 2.8 .1 3.2 .1-2.4 .1 2.1 .1-.7 .1-.4 .1 .3 .1 1.3 .1 3.1 .1-.4 .1-2.1 .1 3.1 .1-1.5 .1-.6 .1 2.1 .1-1.9 .1-.7 .1 4.7 .1-4.7 .1 4 .1-3.1 .1 2.6 .1-.1 .1-.2 .1-2.5 .1 3.4 .1 .4 .1-1.2 .1 1.5 .1 1.8 .1-2.6 .1 1.7 .1-2.1 .1 2.5 .1 .5 .1 3 .1-2.4 .1-.7 .1 1.6 .1-3.8 .1 3.3 .1-2.5 .1-.1 .1 2.7 .1-1.4 .1 1.8 .1-4.3 .1 2.8 .1-1.2 .1 .5 .1-2.6 .1 4.6 .1-1.1 .1-1.9 .1-.6 .1 .8 .1 3.6 .1-2.3 .1-.4 .1 1.3 .1-.7 .1 .4 .1 .9 .1-.6 .1 1 .1-3.2 .1 2.1 .1-.6 .1 .7 .1-.2 .1-1 .1 .4 .1 2 .1-2.4 .1-1.1 .1 2.8 .1 .6 .1-1.9 .1 .7 .1-1.5 .1 1.1 .1 2.1 .1-.5 .1-1 .1-.7 .1-2.1 .1 3 .1 .2 .1 1 .1 1.4 .1-2.5 .1 .8 .1-3.2 .1 3.6 .1-.5 .1 .8 .1-1.1 .1-.3 .1 1.7 .1-3.3 .1 2 .1 .7 .1-2.9 .1-.6 .1 2.5 .1-.5 .1 .7 .1 0 .1-2.2 .1 1.7 .1 1.2 .1-2.3 .1 0 .1-1.3 .1 3 .1 1.8 .1-5.2 .1 3.3 .1 .2 .1-2.2 .1 .3 .1-1 .1 .4 .1 1.5 .1 .8 .1-.8 .1 1.1 .1-1 .1-2.1 .1 4 .1-.4 .1-2.9 .1 3.9 .1-2 .1-.5 .1 2.8 .1-6.9 .1 1.4 .1 3.6 .1-1.5 .1-1.1 .1 3.9 .1-1.5 .1-2.8 .1 1 .1 2.4 .1 1.4 .1-5.9 .1 3.4 .1-1 .1-2.1 .1 2.5 .1-2.2 .1 1.6 .1 3.4 .1-1.7 .1 .4 .1-.3 .1-.4 .1 .9 .1-3.3 .1 1.2 .1 1.8 .1-2.5 .1 .4 .1 2.6 .1 .5 .1-3.4 .1-.3 .1 2.2 .1-.4 .1-1.5 .1 2 .1-.1 .1-.7 .1 4.4 .1-2.5 .1-.8 .1 .3 .1 3.1 .1-2.9 .1-2.8 .1 1.7 .1-.4 .1-1 .1 1.3 .1 0 .1-.5 .1-.7 .1 2 .1-3.8 .1 3.8 .1-1.3 .1 .4 .1-4.1 .1 6.3 .1-5.3 .1 1.4 .1 2.4 .1-1.9 .1 .3 .1-2.8 .1 2.8 .1 1 .1 .7 .1-1.5 .1 .7 .1 .4 .1-1.8 .1-.1 .1 4.3 .1-4.4 .1 3.2 .1-1.8 .1 2.2 .1-3.3 .1 1.8 .1-.3 .1-.9 .1 .9 .1-1.7 .1 1 .1-.5 .1 1.8 .1-1.4 .1-2 .1 1.6 .1-3.5 .1-5.1 .1-.4 .1-5.3 .1-3.1 .1-6.4 .1-3.3 .1 3.7 .1-2.4 .1 4.1 .1 .9 .1 .3 .1 2 .1-.7 .1 3.1 .1-1.3 .1 .8 .1 5 .1-2.5 .1-1.5 .1 5.5 .1-2.1 .1-3.7 .1 6 .1 2 .1-.4 .1 2.6 .1-2.4 .1 1.5 .1-2.1 .1 2.3 .1 2.6 .1-1.3 .1-.1 .1-3 .1 2.8 .1-1.1 .1 3.5 .1-2.1 .1 2 .1-1.9 .1 4.7 .1-4.6 .1 2.3 .1 4.1 .1-3.6 .1-1.5 .1 2.5 .1 .8 .1-.1 .1-4.3 .1 3.6 .1-3.6 .1 6.5 .1-2.8 .1-.7 .1 1.8 .1-.2 .1-2.5 .1 4.5 .1-2.9 .1-2.4 .1 5 .1 .3 .1-.4 .1-1 .1-2.2 .1 3 .1 1.5 .1-1.6 .1 1.3 .1-3.6 .1 2.8 .1-.1 .1-3.8 .1-.2 .1 1.4 .1 1.3 .1 .6 .1-1 .1 .3 .1 0 .1 .4 .1 .9 .1-.1 .1-.8 .1 .5 .1-1.1 .1 2 .1-2.1 .1 3.3 .1-2.7 .1 .4 .1-1.6 .1 .6 .1 .8 .1-.2 .1-1 .1-.8 .1 1.9 .1 .2 .1 .7 .1 1.1 .1-2.5 .1-2.6 .1 2.9 .1-2.7 .1 .9 .1 3.6 .1-.7 .1-1.9 .1 0 .1 1 .1-2.6 .1 3.6 .1-1.3 .1 3.5 .1-4.6 .1 3.2 .1-2.8 .1 2.6 .1-3.2 .1 2.7 .1-1.9 .1-.7 .1 1.1 .1 1 .1 0 .1 1.8 .1-1.1 .1-5.5 .1 3.5 .1-2.5 .1 2.5 .1 1.6 .1-3.1 .1 .3 .1 2.1 .1-.7 .1 3 .1-2 .1 .3 .1 2 .1-3.6 .1 .8 .1-1.5 .1 2 .1 1.3 .1 .5 .1-2.2 .1-1.1 .1-.1 .1-1.1 .1 2.5 .1 1.9 .1-5.9 .1 .4 .1 5.7 .1-4.7 .1 3.1 .1-2.6 .1 3.3 .1-.1 .1-1 .1 1 .1-1.3 .1 .7 .1 2 .1-1.2 .1-2.9 .1-.2 .1 .9 .1 .1 .1 .5 .1-1 .1 2 .1-.9 .1 .5 .1-.5 .1 1 .1-2.9 .1 4.4 .1-1.9 .1 .2 .1 .2 .1 .8 .1-.5 .1-.8 .1-.7 .1-2.3 .1 2.9 .1-.8 .1 0 .1 4.3 .1-6.8 .1 3 .1 1.9 .1-.3 .1 .5 .1-4 .1 .6 .1 2.5 .1-1.5 .1 3.1 .1-2.4 .1-.2 .1 .3 .1-1.2 .1 .6 .1-1.3 .1 1 .1-.7 .1 1.2 .1-2.7 .1-.1 .1 3.2 .1-.3 .1-1.9 .1 1.3 .1-1.3 .1 5 .1-5.8 .1 5.3 .1-4.1 .1 2 .1-1.2 .1-.2 .1 2 .1-.2 .1-1.8 .1-1 .1 4.8 .1-1 .1-2 .1-.6 .1 1 .1-.4 .1 1.8 .1-3.5 .1 1.6 .1-1.3 .1 3.4 .1-5.1 .1-8.8 .1-4.8 .1-4.5 .1-8.6 .1-6.9 .1-2.7 .1 1.1 .1 .8 .1 4.5 .1-.2 .1-1.5 .1 5 .1 .8 .1 4.6 .1-1.8 .1 1 .1 2.2 .1 .8 .1-1.6 .1 3.5 .1 .2 .1 3.7 .1 2.5 .1-4.7 .1 1 .1 .9 .1 1 .1 .7 .1 1.8 .1 2.3 .1-3.3 .1 .2 .1 .1 .1 5.3 .1 .8 .1-4.1 .1 .3 .1 3.3 .1 1.9 .1 .3 .1-1 .1 1.1 .1-.2 .1-1 .1 4.2 .1-2.7 .1-1.5 .1 1.3 .1-1.4 .1 2.7 .1 1.9 .1-3.5 .1 4 .1 1.7 .1-2.6 .1-2.3 .1 .6 .1 .9 .1-1.3 .1 .2 .1 1.7 .1 .3 .1 1.3 .1-2.8 .1 5 .1-1.2 .1-.2 .1-2.3 .1 3.9 .1-3.3 .1 3.5 .1-1.2 .1-3.1 .1 .8 .1 3.8 .1-1.2 .1-1.7 .1 .7 .1 .1 .1-1.5 .1 1 .1-.7 .1 .5 .1 1.5 .1-2.2 .1 2.7 .1-.9 .1 1.1 .1 .2 .1 .5 .1-.9 .1 .1 .1-1.5 .1 1.2 .1-2.4 .1 1.1 .1 1.6 .1-1.3 .1 .8 .1-2.4 .1 3.9 .1-3.1 .1 1.5 .1-.6 .1 1.5 .1-2.1 .1-1 .1-1.4 .1 2.7 .1-1.4 .1 2.8 .1 1.6 .1-5.8 .1 1.6 .1 2.6 .1 1.5 .1-1.5 .1 0 .1 .3 .1 .1 .1 1.7 .1-1.6 .1-3 .1 1.2 .1 1.1 .1-1.6 .1 .9 .1-.4 .1-.3 .1 2.2 .1-1.7 .1-1.1 .1 .5 .1 1.2 .1 3.3 .1-3 .1 1.9 .1-1.6 .1-4.2 .1 4.1 .1-2 .1-.7 .1 .4 .1 4.7 .1-5.5 .1 1.6 .1 2.8 .1-.8 .1-3.8 .1 2.6 .1-.6 .1 .6 .1 1.5 .1-2.1 .1 .4 .1 2.9 .1-5.4 .1 2.4 .1 1.3 .1-2.7 .1 .9 .1-1.1 .1 2.4 .1-1.3 .1 2.2 .1 .4 .1-1.6 .1-.8 .1 1 .1-.3 .1-2 .1 3.7 .1-1.4 .1 .9 .1-3.5 .1 3.6 .1 2 .1-2.5 .1-3.3 .1 2.4 .1-.2 .1 .5 .1-.8 .1 1.2 .1-1.5 .1 1.1 .1-1.5 .1 1.3 .1 1.5 .1-2.4 .1 1.9 .1-2.5 .1 .8 .1 .2 .1 2.4 .1-3.2 .1 3.2 .1-4.3 .1 2.1 .1 1.8 .1-.3 .1-2.7 .1-.3 .1 3.4 .1-3.5 .1 2.9 .1-1.9 .1 .7 .1 3.7 .1-1.3 .1-1.2 .1-3.6 .1 2.8 .1-.4 .1-.2 .1 2.4 .1-4.8 .1 3.3 .1-.3 .1-1.4 .1 4.1 .1-4.9 .1 2.1 .1 0 .1-3.7 .1 1.3 .1 .7 .1 2.9 .1 .3 .1-.5 .1-.5 .1-4 .1 3.9 .1-1.2 .1 2.7 .1 .2 .1 1.4 .1-2.6 .1 .1 .1-3 .1 1.8 .1-2.1 .1 3.5 .1-3.3 .1-6.3 .1-9 .1-7.4 .1-6.5 .1-9.7 .1-6.7 .1-10 .1 6.3 .1-.9 .1 4.9 .1 4 .1-5.4 .1 4.3 .1 3.2 .1 4 .1-1 .1 3 .1-.2 .1 3.6 .1-1.4 .1 4.7 .1-4.9 .1 3 .1 7.3 .1-1.5 .1-.6 .1 6.1 .1-.8 .1 1.1 .1-1.5 .1 2.6 .1 .7 .1-2.7 .1 4.5 .1-.5 .1 3.1 .1 .7 .1-2.5 .1 .7 .1 1.9 .1 1.3 .1-1.2 .1 1 .1 1.7 .1 .1 .1 1.6 .1-1.1 .1-1.4 .1-1.1 .1 4.5 .1-1.5 .1 .3 .1 .3 .1-1.8 .1 2.2 .1-3.4 .1 3.8 .1-.6 .1 4.7 .1-2 .1-.9 .1 .8 .1 1.2 .1-2.2 .1 1 .1 0 .1 4.8 .1-3.8 .1-3.2 .1 4.6 .1 3.1 .1-5.7 .1 7.4 .1-5.6 .1 1.9 .1-2.4 .1 .6 .1-1.4 .1 .4 .1-1.7 .1 5.5 .1-3.7 .1 2.6 .1 0 .1-1.5 .1 1.2 .1-.2 .1-.6 .1 .9 .1 .1 .1-1.8 .1-.4 .1 .7 .1 1.6 .1 2.1 .1 .2 .1-1.9 .1 1.1 .1-1.3 .1 1.7 .1-1.5 .1 .5 .1-1 .1 .5 .1 3.2 .1-5.1 .1 1.9 .1-.9 .1 2.5 .1 1.5 .1-3.5 .1-4 .1 5.6 .1 .1 .1-3.8 .1 2.4 .1 .3 .1-3.7 .1 4.9 .1-.4 .1-.4 .1-2.1 .1 .6 .1 .2 .1 1.8 .1-2.4 .1 4.1 .1-1.7 .1-4.2 .1 6.4 .1-2.6 .1-1.2 .1 1.1 .1-3.2 .1 3.4 .1-4.4 .1 2.4 .1 4 .1-.1 .1-2.6 .1-1.1 .1 3.2 .1-1.6 .1 .4 .1 .7 .1-2.9 .1 3.1 .1-4.9 .1 5.9 .1-5.1 .1 1.6 .1-.1 .1 2.4 .1 .1 .1-.5 .1 .4 .1-.1 .1-.9 .1-3 .1-.7 .1 0 .1 3.7 .1-.3 .1 .1 .1 .5 .1-.8 .1-1.3 .1-.9 .1-.7 .1 5.2 .1-.4 .1-3.8 .1 1.9 .1 1.2 .1 2 .1-3.7 .1 1.3 .1 1.6 .1-4.9 .1 1.6 .1 1.2 .1-1.2 .1 4.8 .1-2.1 .1-1.1 .1-1.9 .1 3.1 .1-.4 .1-1.9 .1 .1 .1-1.7 .1 2.3 .1 1.5 .1 .2 .1-.7 .1 .4 .1-2.4 .1 .2 .1 2.9 .1-1.2 .1-2 .1 2.2 .1 .6 .1-.2 .1-1 .1-1.1 .1 1.5 .1 2.1 .1-2.7 .1-1.4 .1 1.6 .1-2.7 .1 2.4 .1-.9 .1 2.1 .1-1.4 .1 1.7 .1 2.1 .1-4.2 .1-1 .1 2.2 .1-.9 .1 .3 .1-1.2 .1 2 .1-.8 .1-3.7 .1 3.2 .1 1 .1 1.3 .1-2.9 .1-.5 .1 3.2 .1-2.9 .1 1.1 .1 .6 .1 .4 .1-1.2 .1-1.9 .1 3.5 .1-11 .1-8.7 .1-4.3 .1-10.5 .1-11.7 .1-7.6 .1-8.2 .1 1.6 .1 .5 .1 6.7 .1 2.2 .1 1.2 .1 .9 .1 3 .1 2.5 .1-1 .1 2.9 .1 1.3 .1 3.6 .1 .8 .1-1.2 .1 2.5 .1 5.3 .1-3.3 .1 3 .1-.2 .1 4.2 .1-1.1 .1 .4 .1-.3 .1 2.5 .1 2.8 .1 .6 .1-2.5 .1 5.6 .1-2.2 .1-.6 .1 2.6 .1-.6 .1 .8 .1 .6 .1 1.5 .1 0 .1-1.4 .1 4.3 .1-1.2 .1 3.3 .1-.6 .1 .5 .1-.3 .1 2.2 .1-2.4 .1-.8 .1 2.5 .1-4.7 .1 4.1 .1 1.3 .1-.8 .1 3.1 .1-.7 .1-.6 .1-.6 .1 2.8 .1-2.7 .1 .7 .1 2.2 .1 0 .1 2.6 .1-3.5 .1-2.5 .1 4.3 .1 1.1 .1-2.2 .1 3 .1 .5 .1-3.9 .1 .5 .1-1.1 .1 3.1 .1 .5 .1-.1 .1-2.9 .1 .9 .1-1 .1-.3 .1 .5 .1-.4 .1 2.4 .1 1 .1 .4 .1-1 .1-.9 .1 1.1 .1 1.1 .1-1.4 .1 .6 .1-.5 .1-.4 .1 1 .1-1.9 .1 3.6 .1-4.3 .1 3.4 .1-3 .1 4.8 .1-.9 .1-2.8 .1 .7 .1-1.1 .1 1.9 .1 .8 .1 3.5 .1-6.4 .1 4.3 .1-3 .1 1.5 .1 .9 .1-.5 .1-.3 .1-1 .1 .3 .1 .3 .1 1.8 .1-4.3 .1 1.7 .1-1.1 .1 .6 .1 .3 .1 3.1 .1 1.7 .1-1.4 .1-4.2 .1 2 .1-2.1 .1 2.6 .1 1.4 .1-1.1 .1 .5 .1-1.6 .1-3 .1 0 .1 3.1 .1 1.2 .1 1.1 .1-2.6 .1 .7 .1 .4 .1 1.4 .1-1.8 .1-1.7 .1 3.6 .1-1.1 .1-.1 .1-2.7 .1 2.1 .1-2.9 .1-.4 .1 2.8 .1-.3 .1 1.5 .1 1.4 .1-2.5 .1 2.9 .1-3.9 .1 2.3 .1-3.3 .1 2.3 .1-.7 .1 .3 .1 1.3 .1-4 .1 3.3 .1-1.4 .1 1.5 .1 .5 .1-1.2 .1 0 .1-1.3 .1 2.8 .1-2 .1 1.7 .1-3.1 .1 4.6 .1-4 .1 3.6 .1-2.6 .1 1.6 .1-1.1 .1 1.4 .1-1 .1 2.1 .1-1 .1 0 .1 1.6 .1-3.9 .1 3.2 .1-2.1 .1-2.6 .1 3.1 .1-1.1 .1 3.1 .1-3.5 .1 .9 .1 .3 .1-3.5 .1 4 .1-2.5 .1 3.9 .1 .4 .1-2.8 .1-2.6 .1 2.9 .1 0 .1 .9 .1-1.6 .1-1.4 .1 1.7 .1-1.2 .1 4.4 .1-4 .1 .2 .1 1 .1-1.9 .1 1.3 .1 .5 .1-.6 .1 .4 .1 2.4 .1-1.4 .1-2.9 .1 1.4 .1 1.9 .1-2.3 .1 1.2 .1-.2 .1 .9 .1-1.2 .1 .1 .1-1.1 .1 2 .1-2.1 .1 4.4 .1-11.5 .1-8.9 .1-6.9 .1-10 .1-8.3 .1-8.8 .1-9.7 .1 1.7 .1 2.3 .1 4.8 .1-1.1 .1 2 .1 1.6 .1 3.4 .1 3.6 .1-3.3 .1 3.8 .1 .7 .1 .7 .1 2.7 .1-1.5 .1 4.7 .1 .3 .1-.7 .1 5.4 .1 0 .1 1.6 .1-3.2 .1 2.9 .1 .6 .1 2.8 .1 2.1 .1-4.5 .1 3.9 .1 .5 .1 2.6 .1-1.1 .1-1.3 .1 2.3 .1-.7 .1 1 .1 1.9 .1-.3 .1 1.8 .1-2.3 .1 6.8 .1-1.2 .1-.4 .1-2.8 .1-.9 .1 2.6 .1 1.5 .1 4.5 .1-1 .1-2.6 .1 3.2 .1 .4 .1-1.6 .1 2.3 .1-1.2 .1-1.3 .1-.5 .1 2.1 .1 2.2 .1-3.5 .1 0 .1 3.9 .1-5 .1 7.7 .1-3.5 .1 2.1 .1 2.1 .1-5.3 .1 .8 .1 5.6 .1-4 .1 .4 .1 .8 .1 1.5 .1 .7 .1-1.7 .1-.5 .1 .7 .1 .8 .1 1.8 .1-1.8 .1 2.9 .1-4.2 .1 2.4 .1 2.1 .1-.7 .1-1.5 .1-1.9 .1 .4 .1 1 .1 .8 .1-.8 .1-2 .1 1.2 .1 2.1 .1 .6 .1-3.6 .1 1.7 .1-2 .1 1.9 .1 6.8 .1-5.6 .1-.5 .1-.3 .1-.8 .1-.9 .1 3.1 .1-.3 .1 3 .1-5 .1 3.4 .1 1.6 .1-5.4 .1 4.3 .1-3.7 .1 3.5 .1 1.5 .1-2.4 .1 .4 .1-1.6 .1 1.7 .1 1.4 .1-2.1 .1 .1 .1 .9 .1 .7 .1-4 .1 2.8 .1-1.2 .1 1.9 .1 .9 .1-1.2 .1 1.6 .1-3.7 .1 1 .1-.9 .1 1.7 .1 0 .1-.5 .1-1.6 .1 1.8 .1-.5 .1 1.8 .1-1.4 .1 2.4 .1-1.4 .1-3.4 .1 2.8 .1-2 .1 3.9 .1 .7 .1-2.3 .1 .7 .1-3.1 .1-1.4 .1 2.8 .1 .5 .1-2.1 .1 2.7 .1 .4 .1 .5 .1 1.6 .1-1.1 .1-1.9 .1 .9 .1 .9 .1-2.7 .1 3.9 .1-.7 .1-1.8 .1-.7 .1 7.3 .1-4.8 .1 .1 .1 1.4 .1-1.4 .1-1.3 .1 .8 .1-2.7 .1 2.7 .1-3.7 .1 3.3 .1 .2 .1-3.4 .1 5.8 .1-5 .1 3.5 .1-2.6 .1 1.3 .1-1.7 .1 5.1 .1-2.4 .1 1.3 .1-1.7 .1-.2 .1-.8 .1-.6 .1 1.4 .1-.6 .1-.4 .1-1.9 .1 1.8 .1 1.5 .1-1.8 .1 1.4 .1-.9 .1-1.4 .1 .2 .1 .3 .1 .7 .1 0 .1 2.3 .1-3.7 .1-1.6 .1 4.4 .1-1.9 .1 .5 .1 4.3 .1-1.8 .1-1.4 .1 .6 .1-1.4 .1 1.5 .1-2.5 .1-.2 .1 .5 .1 3.4 .1 .1 .1-3.5 .1 2.9 .1-2.2 .1 1.9 .1-2.4 .1 1.9" fill="none" stroke="#1fb6ca" stroke-width="0.85" stroke-linejoin="round"/>
<text x="307.8" y="70.3" font-size="6.3" textLength="16.3" lengthAdjust="spacingAndGlyphs" class="sm">ROI 1</text>
<text x="306.4" y="122.2" font-size="6.3" textLength="18.1" lengthAdjust="spacingAndGlyphs" class="sm">ROI 2</text>
<text x="305.9" y="181.4" font-size="6.3" textLength="18.2" lengthAdjust="spacingAndGlyphs" class="sm">ROI 3</text>
<path d="M316.5,131.3 V150.5 H346" fill="none" stroke="#231f20" stroke-width="1"/>
<text x="314.2" y="153.2" font-size="6.5" textLength="22.8" lengthAdjust="spacingAndGlyphs" transform="rotate(-90 314.2 153.2)" class="sm">20 a.u.</text>
<text x="324.8" y="158" font-size="6.3" textLength="14.4" lengthAdjust="spacingAndGlyphs" class="sm">50 s</text>
<line x1="528.6" y1="18.9" x2="528.6" y2="189" stroke="#f9c6c4" stroke-width="1.1"/>
<line x1="550.8" y1="18.9" x2="550.8" y2="189" stroke="#f9c6c4" stroke-width="1.1"/>
<line x1="573" y1="18.9" x2="573" y2="189" stroke="#f9c6c4" stroke-width="1.1"/>
<line x1="595.1" y1="18.9" x2="595.1" y2="189" stroke="#f9c6c4" stroke-width="1.1"/>
<line x1="617.3" y1="18.9" x2="617.3" y2="189" stroke="#f9c6c4" stroke-width="1.1"/>
<line x1="639.5" y1="18.9" x2="639.5" y2="189" stroke="#f9c6c4" stroke-width="1.1"/>
<path d="M510.3 51l1.5 1.69 1.5 1.4 1.5 1.01 1.8 .92 2.7 1.07 2.7 .86 4.2 1 1.2 .19 .9 .06 .3-2 .3-10.8 .3 1.34 .6 5.63 .3 1.1 .9 1.24 .6 .56 .6 .42 2.4 1.3 1.2 .57 3.3 1.11 1.2 .26 .9 .07 .3-15.86 .3-2.58 .3 1.6 .6 4.58 .3 1.66 .3 .72 .9 1.5 .9 1.05 1.8 1.54 1.8 1.7 .9 .68 .6 .26 .3 .05 .6-6.45 .3 .6 .6 2.01 .3 .64 1.2 1.12 .6 .43 .9 .52 4.2 1.8 3.3 1.15 6.9 2.1 1.8 .36 1.5 .12 .6-18.1 .6 6.71 .3 .92 .6 1.09 .9 1.18 .9 .79 .6 .37 2.1 1.11 1.8 .8 1.8 .64 4.2 1.28 4.5 1.56 1.8 .41 1.5 .14 .6-14.17 .6 5.89 .3 1.22 .9 1.05 .9 .71 .9 .47 2.1 .76 2.7 1.14 3 1.01 4.2 1.06 2.1 .46 1.8 .28 1.8 .12 .3-2.5 .3-13.5 .3 1.08 .6 4.12 .3 .64 .9 1.28 .9 .95 .9 .7 1.2 .67 2.7 1.25 1.8 .69 1.8 .56 2.1 .55 4.8 1.09 1.8 .3 1.8 .12 .6-20.04 .3 .87 .9 5.35 .3 1.46 .3 .73 .3 .48 .9 1.11 .6 .54 .9 .66 2.4 1.53 1.2 .63 1.5 .69 2.1 .83 2.1 .69 6.9 1.84 3 1.02 1.2 .27 .6 .04 .3-2.7 .3-.18 .6 2.5 .3 .41 1.8 .46 1.5 .2 3.6 .31 5.7 .81 1.5 .14 1.5 .05 .3-2.78 .3-.52 .6 .11 .3 .18 .3 .3 .3 .47 .3 .67" fill="none" stroke="#662d91" stroke-width="1.0" stroke-linejoin="round"/>
<path d="M510 110.8l18.3 0 .3-.67 .3-1.83 .6 2.19 .3 .12 9 .23 11.7 .06 .3-1.61 .3-4.43 .3 1.8 .3 2.42 .3 1.22 4.2 .28 4.8 .2 5.1 .09 6.6 .03 .3-2.05 .3-5.68 .9 7.05 .3 .19 4.2 .24 4.5 .15 11.7 .1 .3-13.41 .3-.4 .3 8.91 .3 1.84 .3 .96 .3 .18 1.2 .37 2.1 .34 6.6 .48 3.9 .13 .6-3.99 .3 2.78 .3 1.14 1.2 .27 1.2 .18 3 .12 .3-32.21 .3 10.71 .3 16.9 .3 .62 .3 .46 .6 .55 2.1 .91 2.1 .67 2.1 .46 2.1 .29 4.8 .39 3.6 .19 3.3 .06 .3-46.6 .3 3.23 .3 5.78 .3 3.9 .6 6.48 .6 4.91 .9 5.57 .6 2.85 .3 1.15 .6 1.86 .6 1.59 .6 1.33 .6 1.04 1.2 1.44 .9 .85 .9 .69 .9 .53 1.2 .55 1.5 .59 1.8 .58 1.5 .38 1.8 .34 4.8 .56 4.8 .34 9.9 .35 7.8 .11" fill="none" stroke="#f7921e" stroke-width="1.0" stroke-linejoin="round"/>
<path d="M510.3 174.4l4.8-.06 3.6-.23 .6-4.38 .3 3 .3 1.18 5.1 .09 .3-8.1 .3 .88 .3 6.12 .3 .74 .9 .11 1.2 .05 .3-5.7 .3-1.65 .9 4.93 .3 .46 .6 .22 1.5 .44 1.5 .28 1.8 .17 1.8 .05 .3-4.9 .3 1.18 .3 2.2 .3 1.22 2.4 .34 2.4 .2 2.7 .12 3.6 .04 .3-.83 .6-7.47 .3-2.68 .3 .61 .6 6.97 .3 1.8 3.3 .75 3.6 .51 3.9 .26 5.1 .08 .3-9.5 .3 2.87 .3 4.79 .3 1.45 1.5 .14 2.1 .05 .3-12.07 .3-2.61 .6 11.03 .3 .78 .6 .59 .6 .46 .6 .34 .6 .24 .6 .15 .9 .09 .3-1.24 .3-3.29 .3 2.69 .3 1.94 3 .16 3.9 .04 .3-4.4 .3 1.69 .3 2.37 .3 .24 1.8 0 .3-1.11 .3-2.96 .3 2.29 .3 1.68 2.1 .32 2.4 .08 .3-25 .3 3.27 .6 13.53 .3 2.26 .6 1.26 .6 .83 .6 .53 1.2 .67 1.5 .63 1.8 .57 10.8 2.38 1.8 .27 1.8 .1 .3-35.8 .6 17.8 .3 2.44 .3 1.74 .3 1.24 .3 .91 .6 1.48 .9 1.74 .6 .89 .6 .71 1.2 1.04 1.8 1.17 2.1 .99 2.7 .9 4.5 1.21 2.7 .48 2.4 .16 .3-57.8 .3 1.36 .9 11.25 .3 2.45 .3 1.77 .6 2.9 1.2 4.75 .9 3.02 .9 2.7 1.2 3.27 .9 2.16 1.2 2.46 1.2 2.2 1.2 1.91 .9 1.23 1.2 1.43 1.2 1.28 1.2 1.14 1.2 1.01 1.8 1.33 1.8 1.2 1.5 .85 1.5 .71 2.1 .78 2.1 .66 2.4 .65 2.4 .56 3.6 .72 3.6 .62 3 .43 2.7 .29" fill="none" stroke="#c8d82c" stroke-width="1.0" stroke-linejoin="round"/>
<text x="666.5" y="67.8" font-size="6.3" textLength="17.3" lengthAdjust="spacingAndGlyphs" class="sm">ROI 1</text>
<text x="666.2" y="119.5" font-size="6.3" textLength="18.6" lengthAdjust="spacingAndGlyphs" class="sm">ROI 2</text>
<text x="666.2" y="180.8" font-size="6.3" textLength="18.6" lengthAdjust="spacingAndGlyphs" class="sm">ROI 3</text>
<path d="M661.5,129.5 V149.5 H685" fill="none" stroke="#231f20" stroke-width="1"/>
<text x="658.7" y="152.8" font-size="6.5" textLength="28.6" lengthAdjust="spacingAndGlyphs" transform="rotate(-90 658.7 152.8)" class="sm">400 a.u.</text>
<text x="666.2" y="157.9" font-size="6.3" textLength="13.5" lengthAdjust="spacingAndGlyphs" class="sm">20 s</text>
<path d="M58.3 326.7l1-.7 1 1.3 1 .9 1-3.2 1-3.5 1 13.6 1-9.7 1-7.5 1-4.2 1-5.3 1 6.4 1 5.7 1-15.8 1 4.2 1-7.5 1 13.2 1-2.7 1 .7 1 5.6 1 2.3 1-1.8 1-6.2 1-2.5 1 2 1-2.6 1 16.3 1-8.6 1 1.8 1 .7 1 8.5 1-11.2 1 8.2 1-3.6 1-1.7 1-7.5 1 13 1-7 1 1.6 1 3.4 1-.3 1 4.9 1-7.8 1 3.8 1 .6 1-1 1 3 1-4 1 6.6 1-8.5 1-3.1 1 6.3 1 5.6 1-7.5 1-.4 1 1.4 1 2.3 1-1.4 1 2.3 1-9 1 14.5 1-4 1-6.3 1 10 1-4 1 4.7 1-11.8 1 12.7 1-7.1 1-9.4 1 12.6 1-4.7 1-3.1 1 3.6 1-7.7 1 11.3 1-3.5 1-.2 1 7.5 1-6.1 1-3.1 1-1.2 1 4 1 5.1 1-7.4 1-2 1 8.8 1-3.8 1-.3 1 9.4 1-14.7 1 6.4 1-8.8 1 6.6 1 4 1 2.5 1-10.7 1 9.4 1-.2 1-4" fill="none" stroke="#ede3f2" stroke-width="0.95" stroke-linejoin="round"/>
<path d="M58.3 335.6l1-8.3 1-2.9 1 4.5 1-7.7 1 11.7 1-2 1-5.1 1 2.3 1-2.4 1 1.8 1-11.8 1-5 1-4.4 1 5.1 1-4.5 1 5 1 2.5 1-2.3 1-1.2 1 7.8 1-4.1 1 2 1 3 1-7.2 1 1.7 1 12 1-8.7 1-2.6 1 3 1-.7 1-1.9 1 3.2 1 1.6 1 .4 1 2.2 1-7.3 1 1.2 1 8.1 1-3.9 1 6 1-2.9 1-5.6 1 6.8 1-5.2 1 4.4 1 3.4 1 3.1 1-7.3 1 2.7 1-1.2 1 1.7 1-11.2 1 7.4 1 2.4 1 .7 1-4 1 5.5 1 1 1-3.4 1-.9 1-.3 1 1.7 1 3.7 1 1.1 1-6.5 1-1.5 1 .5 1 6 1-2.5 1 .3 1 .7 1-.4 1-1.6 1-3.1 1 1.5 1 2.5 1 1 1-2.6 1-.1 1 6.1 1-6.2 1 2.4 1-1.8 1-1.8 1-2.2 1 3.4 1-1 1 5.7 1-6.7 1 2.5 1 3.6 1-2.5 1 2.1 1 1.2 1-8.4 1 4.2 1-1.8 1 7.8 1-4.9" fill="none" stroke="#c3d6e9" stroke-width="0.95" stroke-linejoin="round"/>
<path d="M58.3 328.7l1 3.8 1-6.2 1 1.4 1 1.1 1-2 1 4.6 1-1.8 1-.6 1-5 1-4.1 1-3.1 1-2.5 1-5.3 1 5.8 1 1.7 1-2.1 1-1.1 1 1.9 1 .9 1 .6 1 4.8 1-7.8 1 4 1 1.3 1-1.5 1-.6 1-2.1 1 1.7 1 4.3 1 2.6 1-6 1 3.8 1 .5 1 1.8 1-2 1 1 1 1.7 1-5.9 1 4.1 1-5.2 1-.4 1 3.7 1-2 1 6.3 1 1.5 1-3.8 1 .6 1-.2 1 0 1 1.3 1 .8 1-2.4 1-.8 1 .9 1 4.1 1-3.6 1 5.7 1-5 1 5 1-7.7 1 1.6 1 3.7 1 .1 1-1.8 1 6.7 1-5.9 1 .7 1-2.5 1 6.7 1-2.4 1-1.3 1-6.1 1 6.1 1-2.5 1 2.6 1 1.6 1-4.9 1 2.9 1 2 1-2.1 1-1.4 1-2.2 1 1.2 1-1.8 1 6.9 1-2.7 1-3.9 1 3.7 1-3.8 1-6 1 13.5 1 0 1-8 1 2.4 1 2.8 1-1.8 1-1.4 1 1.1 1 .8" fill="none" stroke="#c0ebf0" stroke-width="0.95" stroke-linejoin="round"/>
<path d="M58.3 324.8l1 2.8 1-1.5 1-1.7 1 2.9 1-5.8 1 11 1-12 1 4.2 1-1.6 1-4.2 1-5.6 1-1.7 1-13.5 1-.9 1-3.2 1-4.9 1-1.4 1 7 1-6 1 2.3 1 2.1 1 1.7 1 2.6 1 .1 1 3.4 1 .4 1 2.5 1 4.3 1-6.8 1 9.6 1-6.8 1 4.6 1-1.2 1-1 1-5.3 1 13.3 1-7.8 1 .5 1 7.1 1-2.9 1 6.9 1-.4 1-3 1-1.3 1 2.1 1-7 1 5.5 1 .3 1-1.9 1 2.9 1-5.8 1 8.7 1 1.6 1-8.8 1 5.4 1 5.3 1-3.7 1-4.8 1 .5 1 6.7 1 3.8 1-10.1 1 4.1 1-2.7 1 1.9 1 2.3 1-1.1 1-2.1 1 10 1-7.8 1 .1 1 4.7 1-3.7 1-.6 1 4.3 1-6.8 1 6.4 1 1.2 1-1.2 1-2.8 1 .8 1-5.8 1 5.7 1 1.7 1 2.2 1-2.4 1-1.7 1-1.4 1 2.9 1 .8 1 4 1-4.1 1-1.6 1 1.5 1-1.1 1 1 1-6.7 1 2.3 1 1.5" fill="none" stroke="#94b6d8" stroke-width="0.95" stroke-linejoin="round"/>
<path d="M58.3 327.6l1-2.4 1 1.2 1 4.8 1-10 1 10.2 1-3.6 1-5.8 1 8.2 1-17.1 1-3.7 1-1.7 1-3.2 1-8.6 1-14.4 1 3.9 1-2.5 1 10.3 1-6 1-5.6 1-5 1 7.5 1-5.8 1 7.8 1 2.3 1-1.8 1 4.6 1-1.1 1 .4 1 11.1 1-3.2 1-3.1 1-1.1 1 5.4 1 2.8 1 2.3 1 3.9 1-3.7 1-6.3 1 15.5 1-3.1 1-.8 1 3 1-12.6 1 5.6 1-.3 1 8.2 1-10.5 1 4.3 1 8.9 1-3.7 1-4.4 1 10.9 1-14.5 1 8.6 1-2.7 1 3.7 1-3.2 1-2.2 1 5.2 1-6.7 1 8.8 1-3.7 1 5.9 1-6.1 1-.9 1 5.1 1 4.1 1-15.1 1 10.3 1 2.5 1-9.3 1 2.7 1 7.2 1-6.6 1 1 1 11 1-12 1 .5 1-6.5 1 5.8 1-.4 1 13.7 1-2.1 1-11.3 1 15.1 1-5.4 1-4.2 1 4.8 1-1.8 1-5.1 1-4.4 1 4 1 4.4 1-1.5 1-1.5 1 8 1-9.2 1 9.1 1-6.2" fill="none" stroke="#dfcde8" stroke-width="0.95" stroke-linejoin="round"/>
<path d="M58.3 327l1-3.8 1 3.7 1-2.4 1-2.9 1 5.6 1-.2 1 2 1-3.9 1-8.1 1-4.3 1-12.4 1-2.3 1 1.4 1-4.7 1-6.9 1-5.3 1-2.5 1-3.4 1-9.5 1 1.6 1 6.9 1 1.4 1-.9 1 .5 1 2 1 1.9 1 1.1 1-.8 1 9 1 .3 1 2.8 1 7.8 1-2.2 1-2.8 1 5.4 1-5.4 1 9.4 1-1.3 1-.2 1 3.6 1 3.8 1-5.3 1-1 1 10.5 1-6 1 5.3 1-6.3 1 3.9 1-2.6 1 4.6 1-2.3 1-.7 1 7.6 1-3.4 1-7.1 1 6 1-1.8 1-.7 1 2.3 1 .7 1 1.9 1-2.3 1-3.1 1 4.6 1 4.8 1-6.9 1 6.7 1-.2 1-2.6 1 2.7 1-3.1 1 1.5 1-1.8 1 5 1 3 1-6.3 1 6.1 1-10.5 1 4.1 1-.3 1 8.9 1-7.2 1 4.5 1-8.9 1 7 1 1.6 1-1.8 1-8.5 1 9.5 1 2.1 1 1.8 1-2.8 1-6.6 1 4.9 1 3.7 1-5.4 1 4.6 1-3.2 1 1.9" fill="none" stroke="#8fdae4" stroke-width="0.95" stroke-linejoin="round"/>
<path d="M58.3 328.3l1-5.2 1 13.3 1-9.6 1 1 1-3.7 1 3 1-1.6 1-5.9 1-3.1 1 2.5 1-6.2 1-14.8 1-4.1 1 0 1-6.6 1-5.6 1-14.7 1-.5 1-9.2 1-5.4 1-2.2 1 1.2 1-4.2 1-.8 1-7.4 1 .3 1-4.1 1 1.6 1 .4 1 0 1 4.8 1-.4 1 1.8 1-1.6 1 4.2 1-2.7 1 4 1-.8 1 1.9 1-2 1-3.3 1 .2 1 13.5 1-4.7 1 1.2 1-1.1 1 .1 1 13.4 1-13.4 1 5.1 1 1.3 1-2.7 1 .7 1 3.4 1 2.5 1 .8 1 6 1-6.1 1 7.1 1 5.2 1-.9 1-6.2 1-5.5 1 15.2 1 0 1-2.9 1 8 1-5.2 1 2.9 1-3.2 1 6 1-1.8 1 .8 1 6.8 1-2.2 1-5.3 1 9 1 1.5 1-5.3 1 2.5 1 2.4 1-.3 1 2.2 1 2.7 1-3.4 1 10.3 1-9.5 1 1.5 1 10 1 2.3 1-7.9 1 0 1-2.5 1 8.9 1-2.8 1-3 1 5.3 1 4.2 1-2.1" fill="none" stroke="#1fb6ca" stroke-width="0.95" stroke-linejoin="round"/>
<path d="M58.3 336l1-5.4 1-3.6 1-2.2 1 3.4 1 3.8 1-1.8 1 .4 1-6.3 1-.7 1-3 1-14.6 1-15.6 1 3.8 1-20.7 1-20.5 1-9.5 1-12.4 1-14.4 1 3.3 1-10.4 1 6.1 1-2.8 1 7 1-5.3 1 4.2 1-2.5 1-.2 1-5.8 1 12.1 1-4.7 1-3.4 1 6 1-.6 1 1.6 1 8.5 1 8.3 1-5.1 1-3.5 1 6.9 1 15.4 1-11.3 1 13.2 1-4.9 1 7.8 1-1.8 1-5.2 1 8.7 1 15.7 1-10 1 5.3 1-3.4 1 2.4 1 3.6 1 2.1 1 10.6 1-10.7 1 .3 1-1.4 1-2.3 1-.6 1 13.2 1-12.5 1 18.5 1-2 1-5.1 1-3.6 1 7.3 1 1 1 6.9 1-9 1 2.9 1 2.8 1-.2 1-.9 1-4.8 1 1.4 1 6.2 1 3.4 1 7.4 1 7.9 1-2.4 1-6.4 1 8.5 1-10.1 1-1.7 1 15.7 1-17.6 1 4 1 1.3 1 9.7 1-10.6 1 7.8 1-6 1-3.9 1 8.1 1 0 1-6.7 1 1.9 1 .6" fill="none" stroke="#bf9bd1" stroke-width="0.95" stroke-linejoin="round"/>
<path d="M58.3 330.5l1-1.9 1-.8 1 1.2 1-3.8 1 4 1-4.4 1-3.6 1 .6 1 .3 1-5.4 1-2 1-17.8 1-2.1 1-7.3 1-16.6 1-5.9 1-11.7 1-10.2 1 3.2 1-15.1 1 5.7 1-8.6 1-3.9 1-1 1-.5 1-1.5 1 3.2 1-10.3 1 10.1 1-4.5 1-.5 1-11.1 1-4.9 1 9.2 1 5.6 1 6.4 1 2 1 7.4 1 6.7 1-1.3 1 18.6 1-7.6 1 9.4 1 6.7 1-4.2 1 6.5 1 9.8 1-4.9 1 7.9 1-.9 1 1.6 1 3.8 1-2.1 1 1.9 1 6.4 1-1.1 1 2.7 1-5.4 1 6.3 1 6 1-.2 1-1.2 1-2.5 1 .6 1 5.3 1 4.9 1-4.5 1 6.1 1-5.6 1 7 1-8.1 1 5.4 1-4.5 1 7.5 1 .2 1-5.7 1 1.4 1 1.7 1-3.8 1 2.8 1 .7 1 7 1 2.9 1-7 1 1 1 2.4 1-2.6 1 1.3 1 5 1-2 1-.7 1-1.2 1 9.1 1-7.6 1 3.9 1-3.8 1 2.6 1 3.5 1-1.4" fill="none" stroke="#2a6db2" stroke-width="0.95" stroke-linejoin="round"/>
<line x1="66.6" y1="333.3" x2="66.6" y2="342.2" stroke="#231f20" stroke-width="0.95"/>
<path d="M64.7 334.5L66.6 330.3L68.5 334.5Z" fill="#231f20"/>
<text x="61.4" y="357.8" font-size="11.2" textLength="99.4" lengthAdjust="spacingAndGlyphs">1, 5, 40 Field stimuli</text>
<text x="73.6" y="369.7" font-size="11.2" textLength="73.9" lengthAdjust="spacingAndGlyphs">overlaid traces</text>
<path d="M34.5,239.2 V274.5 H52.5" fill="none" stroke="#231f20" stroke-width="1"/>
<text class="sm" x="30.9" y="268.9" font-size="7.4" transform="rotate(-90 30.9 268.9)" textLength="25.4" lengthAdjust="spacingAndGlyphs">2 ΔL/L<tspan font-size="4.8" dy="1.4">0</tspan></text>
<text x="38.6" y="281.8" font-size="7" textLength="10" lengthAdjust="spacingAndGlyphs" class="sm">2 s</text>
<text x="288.7" y="231.3" font-size="10.5" textLength="41.6" lengthAdjust="spacingAndGlyphs">CaBLAM</text>
<line x1="293" y1="246.7" x2="302" y2="246.7" stroke="#bf9bd1" stroke-width="1.7"/>
<text x="305.6" y="250" font-size="10.3" textLength="24" lengthAdjust="spacingAndGlyphs">ROI 1</text>
<line x1="293" y1="263.7" x2="302" y2="263.7" stroke="#2a6db2" stroke-width="1.7"/>
<text x="305.6" y="267" font-size="10.3" textLength="26.6" lengthAdjust="spacingAndGlyphs">ROI 2</text>
<line x1="293" y1="280.9" x2="302" y2="280.9" stroke="#1fb6ca" stroke-width="1.7"/>
<text x="305.6" y="284.2" font-size="10.3" textLength="26.6" lengthAdjust="spacingAndGlyphs">ROI 3</text>
<path d="M224.3 322.9l1-2.1 1-7.1 1-4.3 1 18.3 1-7.9 1 11.1 1-8.7 1-7 1 2.4 1-9.8 1-2.9 1-7.8 1 7.1 1 2.3 1-8.2 1 13 1-11.7 1 5.1 1-9.4 1-1.1 1 21.8 1-3.3 1-1.1 1-14.9 1 10.6 1 1.4 1-1.5 1 1.5 1-6.1 1 4.5 1-4.7 1 5 1 4.6 1-5.3 1 3.6 1 0 1 3.3 1 5.6 1-3 1 1.4 1-9.4 1 6 1 6.5 1-8.7 1 2.6 1-2.6 1 12.5 1-9.3 1-1.2 1 7.4 1 2.8 1-2.9 1 2.8 1-3.9 1-1.5 1-1.4 1-.1 1-.3 1 5.4 1-2.4 1 1.1 1 2.7 1-3.6 1-7.1 1 3 1-1.8 1-4.3 1 10.6 1-7 1-.6 1 1 1 10.3 1-6.4 1 6.9 1-5.9 1-2 1 5.2 1 .1 1-2.7 1-6.2 1 3 1-4.1 1 4.8 1 1.7 1 7.2 1-.6 1-4.1 1 1.3 1-4.1 1 13.4 1-6.9 1 5.8 1-12.3 1 0 1 3.2 1-4.8 1 .5" fill="none" stroke="#bf9bd1" stroke-width="0.95" stroke-linejoin="round"/>
<path d="M224.3 322.4l1 7.2 1-2.9 1 2.6 1-3.6 1-5.6 1 8.3 1 2.2 1-9.9 1-.4 1 .5 1-1.9 1-7.2 1 11.5 1-3.2 1-6 1-4.2 1 8.3 1 6.3 1-3.9 1 1.5 1-7.3 1 4.6 1-6.1 1 13.2 1-4.9 1-9.5 1 1.2 1 8.9 1-.9 1-1.4 1 3.7 1 5.5 1-5.8 1-7.6 1 6.3 1-3.9 1 2.2 1 4.4 1-1.6 1-3.1 1 3.9 1-2.8 1 5 1-2.8 1 2.3 1-2.3 1 3.8 1-3.3 1 .6 1-2 1 2.6 1-7 1 16.4 1-12.3 1 3 1-2.1 1 0 1 3.3 1-3.3 1 .3 1-3.4 1 1.6 1-.9 1 11 1-11.6 1 1 1 4.7 1 4.5 1-11.5 1 .5 1 6.2 1 .8 1-6.5 1-1.4 1 3.1 1 6.3 1-2.9 1 2.9 1-3.2 1 .3 1 2.4 1-2.7 1 1.3 1-4.2 1 1.1 1 4 1-2.7 1-1.8 1 5.1 1-.4 1-2 1-2.8 1 6.1 1 5.9 1-12.2 1-2.7 1 2.8" fill="none" stroke="#1fb6ca" stroke-width="0.95" stroke-linejoin="round"/>
<path d="M224.3 319.1l1-1.2 1 .5 1 8.5 1 .3 1 2.8 1-2.9 1-5.3 1 5.3 1-8.8 1-1.2 1-5.6 1 8.1 1-1.6 1-6.2 1 .7 1 1.5 1 .9 1 2.7 1-2.9 1 1.5 1-7.5 1 5.1 1-5.9 1 14.7 1-1.4 1-2.5 1 1.8 1 3.9 1-4 1-10 1 6 1-8.3 1 6.7 1-1.4 1 5.4 1 2 1-4.9 1 3 1 2.5 1-1.5 1 0 1-8.9 1 8 1 5.1 1-2.1 1-6.9 1 4.9 1 2.3 1-4.9 1 6.7 1-5.9 1 2 1 1 1 9.5 1-10.2 1-1 1 5.3 1-4.7 1 2.8 1-9.9 1 10.4 1-1.3 1-5.2 1 10.7 1-6.5 1 .1 1-4.5 1-1.3 1 4.2 1-3.8 1 8.1 1 1.5 1-6.1 1-4 1 4.9 1-2.8 1 5 1 0 1-2.5 1 2 1 3.9 1 2.7 1-8.9 1 5 1-3.8 1-3.2 1 9.5 1-3.5 1-1 1 1 1-2.1 1-3.5 1 11.5 1-3.5 1-2.5 1 2.9 1 1.3" fill="none" stroke="#2a6db2" stroke-width="0.95" stroke-linejoin="round"/>
<line x1="232.2" y1="335" x2="232.2" y2="344" stroke="#231f20" stroke-width="0.95"/>
<path d="M230.3 336.2L232.2 332L234.1 336.2Z" fill="#231f20"/>
<text x="230.1" y="356.2" font-size="8.6" textLength="3.4" lengthAdjust="spacingAndGlyphs">1</text>
<path d="M378 322.7l1 4.1 1-4.4 1 5.1 1-4.3 1 13.6 1-14 1 3.4 1-2.7 1-8.6 1 .1 1-12.2 1-8.9 1-4.7 1-9.6 1 5.1 1-5.9 1 .5 1-11.6 1 9.1 1-3.8 1 5.7 1 7.5 1-3.5 1-.5 1 8.1 1 1.1 1 5.8 1-16.9 1 12.5 1-2.2 1-.8 1 6.5 1-5 1-3.9 1 7.9 1 4.2 1 11.5 1-12.1 1-1.5 1-3.3 1 8.9 1 1.3 1 2.7 1-7.2 1 4.3 1-6.8 1 13 1-7.9 1-5.1 1 20.3 1-2.6 1-.2 1 .5 1-6.5 1 11 1-10.2 1 15.3 1-8 1-9.9 1 14 1 5.9 1-10.7 1 6.9 1-6.1 1-1.8 1-9.7 1 19.2 1-8.3 1 4.3 1-7.5 1 1.2 1 10.2 1-7.4 1 0 1-4.2 1 7.5 1 3 1-6.1 1 1.4 1-5 1 13.2 1-9.9 1 2.5 1 9.4 1-9.4 1-6.4 1 3.4 1 3 1 11 1-7.6 1-2 1 5.5 1 2.6 1-10.1 1 11.2 1-2.7 1-1.9" fill="none" stroke="#bf9bd1" stroke-width="0.95" stroke-linejoin="round"/>
<path d="M378 319.2l1 8.9 1 4.2 1-5.6 1 9 1-7.6 1-3.9 1 4.9 1-2.9 1-1.5 1-8.4 1-.3 1-12.4 1-3.8 1-10.8 1-3.9 1-1.2 1-6.9 1-2.4 1-1.4 1 .6 1 2 1 1.4 1 2.8 1-.7 1-.2 1-1.2 1 7 1 1 1-1 1 14.4 1-9.9 1 9.7 1 2.6 1-.9 1 11.4 1-7.8 1-1.9 1 9.6 1-8.3 1-1.5 1 2.1 1 2 1 3 1 1.7 1-5.8 1 7.3 1 7.3 1-9.5 1 2.8 1 3.7 1 2.6 1-5.7 1-.3 1 .6 1 8.1 1 0 1-10.1 1 .7 1 3.7 1-.3 1 7.3 1-.1 1 6.6 1-3.6 1-1.9 1 4 1-6.9 1-1.5 1 5.3 1 3.5 1-8.7 1 9 1 0 1-4.7 1 2.3 1-1.7 1 1.2 1 2.4 1-5.7 1 6.4 1-.7 1 .2 1-9.9 1 .5 1 9.2 1-4.3 1-.1 1-.1 1-1.8 1 4 1-1.3 1 .4 1 4.2 1-5.6 1 8.3 1-11.5 1 16.7" fill="none" stroke="#1fb6ca" stroke-width="0.95" stroke-linejoin="round"/>
<path d="M378 320.5l1 7.7 1 1.5 1-3.2 1 3.2 1-3 1-6.2 1 7.7 1 1.7 1-9.2 1-8.3 1-.5 1-1.5 1-5.3 1-1.6 1-6 1-3 1-11.5 1 15.5 1-8.1 1 4.1 1-3.1 1 2.4 1 2.6 1 7.7 1 1.8 1-1.5 1 7.1 1-7.4 1 5.1 1-2.4 1 8.1 1-3.6 1 4.7 1 3.8 1-14.1 1 17 1-6.6 1-2 1-5.7 1 6.7 1-7.3 1 9.6 1-.6 1 8 1-8 1 5.8 1 .7 1 3.8 1-8.6 1 4.2 1-8.5 1 2 1 3.6 1 1.3 1-4.3 1 3.5 1 4.7 1-4.2 1 1.6 1-2.5 1 9.1 1 1.9 1-5.8 1-1 1 7.1 1-4.6 1-4.4 1-2.6 1 3.1 1 10.8 1-10.8 1 13.6 1-11.2 1-.7 1 6 1-6.1 1 2.5 1-5.4 1-.8 1 2 1 3.9 1-3.4 1-4.9 1 9.6 1-2.3 1-.3 1-1.1 1-6.2 1 15.1 1-7.9 1 4.1 1 3.5 1-.8 1-3.5 1-.6 1 1.3 1 2.5" fill="none" stroke="#2a6db2" stroke-width="0.95" stroke-linejoin="round"/>
<line x1="386.1" y1="335" x2="386.1" y2="343.5" stroke="#231f20" stroke-width="0.95"/>
<path d="M384.2 336.2L386.1 332L388 336.2Z" fill="#231f20"/>
<text x="383.8" y="356" font-size="8.6" textLength="4.4" lengthAdjust="spacingAndGlyphs">5</text>
<path d="M531.7 326.2l1-3.7 1 3.6 1-.1 1 1.4 1-1.7 1 4.4 1-5 1 .6 1-7.2 1-8.3 1-8.7 1-5.2 1-5.8 1-5.6 1-12.9 1-8.3 1-5.6 1 1.9 1-8.8 1-5.8 1 1.8 1-9.9 1 4.2 1-.9 1-.2 1-3.4 1 8.7 1 3.3 1-10.7 1 6.1 1 2.5 1 6.6 1-9.7 1-1.6 1 4 1 8.1 1-6.6 1 1.8 1 6.9 1-13.5 1 1.2 1 12.8 1 .6 1-7.1 1 8.2 1-.7 1 1.6 1-2.8 1 2.3 1-.6 1 4.5 1-.1 1 8.2 1-2.9 1-7.3 1 8.5 1 4.8 1-3.3 1 4 1-3.2 1 3.8 1-5.2 1 7.5 1-7 1 11.2 1-9.3 1-1.1 1 11.3 1-1.5 1 2.3 1 2.4 1-.7 1-2.2 1 5.2 1 1.5 1 1.6 1 6.6 1-9.3 1 4 1 2.9 1-2.8 1-1.8 1 3.4 1 7.1 1-4 1 4.2 1-4.2 1 5.3 1-3.5 1 0 1 4.3 1 .5 1 6 1-11 1 8.6 1 4.8 1-.5" fill="none" stroke="#1fb6ca" stroke-width="0.95" stroke-linejoin="round"/>
<path d="M531.7 316.2l1-1.9 1 .7 1 3.9 1-1 1 .4 1 .8 1-10 1-1.8 1-3.3 1-5 1 .2 1-7.2 1 .3 1-23.8 1-14.7 1-1.8 1-19 1 0 1-1.8 1-5.8 1-5.9 1-6.4 1-5.4 1 6.6 1-.9 1 8.9 1-2.3 1 6 1-9.9 1 15.8 1-8.7 1-2.7 1 2.7 1 6.8 1 13.7 1 2.7 1-5.7 1 10.1 1 .3 1-7.8 1 3 1-5.4 1 7.4 1-8 1 12.2 1 1.5 1 3 1 2.1 1 12.9 1-6.2 1 5.2 1 4.8 1 2.8 1 .7 1-4.9 1-1.2 1 3.5 1 3.3 1 4.2 1 1 1 7.7 1-5.4 1 11.4 1-3.2 1-7.3 1 8.4 1-19.5 1 24.2 1-4.4 1 .7 1-10.7 1 23.6 1-14.6 1 1.2 1 7.6 1-6.6 1-3 1 8.9 1-8.4 1 10.4 1-2.5 1 6.2 1-12 1 14.2 1-4.4 1 10 1-13.5 1 14.5 1-5.5 1 1.3 1-7.4 1 7.8 1 1.5 1-7.4 1-1 1 2.8 1 12.7" fill="none" stroke="#bf9bd1" stroke-width="0.95" stroke-linejoin="round"/>
<path d="M531.7 326.4l1 3.2 1-2.7 1-.7 1 .5 1-2.7 1 6.5 1-5.1 1-2 1-10.7 1 1.1 1-11.2 1-7 1-1.6 1-17.2 1-5 1-5.7 1-6.6 1-14.2 1-1.8 1-3.7 1-8.4 1-6.1 1-.5 1 9.6 1-2.9 1-7 1 1 1-1.8 1-3.4 1-2.4 1 6 1-14.1 1 4.1 1-1.5 1 4.7 1 4.6 1 9.3 1 5.3 1 9.5 1 4.4 1-.1 1 15.6 1-9.2 1 9.6 1 10.5 1-9 1 11.2 1 2.9 1-2.2 1-6.9 1 15.6 1-3.5 1-.7 1 9.6 1-6.3 1 9.4 1-4.7 1 6.4 1-4.8 1 4.3 1-1 1 1.8 1 4.4 1-.9 1 2.1 1 5.1 1-5.2 1-6.6 1 7.2 1 2.3 1 4.6 1 .8 1 .5 1-4.1 1 4.4 1-7.8 1 12.2 1-2.7 1 1.2 1-2.7 1 2.8 1-2 1 6.1 1-6.9 1 10.3 1-1.2 1 6.6 1-8.1 1 .1 1 1.6 1-.3 1-.1 1-3.7 1 .5 1 2.7 1 1.6 1-3.4" fill="none" stroke="#2a6db2" stroke-width="0.95" stroke-linejoin="round"/>
<line x1="540.1" y1="335" x2="540.1" y2="343" stroke="#231f20" stroke-width="0.95"/>
<path d="M538.2 336.2L540.1 332L542 336.2Z" fill="#231f20"/>
<text x="534.6" y="356" font-size="8.6" textLength="10.4" lengthAdjust="spacingAndGlyphs">40</text>
<path d="M66.1 848.7l8.25 0 .25-.12 .25-1.04 1.5-20.16 .25-1.64 .25 .36 2.75 8.64 .25 .74 .25 .5 .25 .18 14.25 6.65 .5 .19 68.5 5" fill="none" stroke="#d9cae4" stroke-width="1.0" stroke-linejoin="round"/>
<path d="M66.1 848.7l8.25 0 .25-.07 .25-.64 1.25-10.2 .25-1.23 .25 .44 2.25 7.45 .25 .47 .25 .1 84.25 3.68" fill="none" stroke="#f1f5ca" stroke-width="1.0" stroke-linejoin="round"/>
<path d="M66.1 848.7l8.25 0 .25-.05 .25-.41 1-5.26 .25-.47 .25 .54 1.5 4.45 .25 .43 .25 .07 85.25 .7" fill="none" stroke="#fde4c7" stroke-width="1.0" stroke-linejoin="round"/>
<path d="M66.1 848.7l8.25 0 .25-.18 .25-1.58 1.25-25.49 .25-3.29 .25 .47 1 5.32 .25 .76 .25 .37 5.75 6.82 .25 .26 .25 .09 24 4.77 55.25 7.17" fill="none" stroke="#a381bd" stroke-width="1.0" stroke-linejoin="round"/>
<path d="M66.1 848.7l8.25 0 .25-.3 .25-2.71 1.25-43.6 .25-5.8 .25 .32 2 13.73 2 8.41 .25 .97 .25 .65 4.5 8.85 .5 .86 6 6.09 16.25 5.64 55.25 6.39" fill="none" stroke="#dee880" stroke-width="1.0" stroke-linejoin="round"/>
<path d="M66.1 848.7l8.25 0 .25-.37 .25-3.29 1-41.36 .25-3.83 .25 3.85 .75 15.42 1 13.29 .25 1.84 .25 .89 2 5.72 .5 1.16 .25 .23 2.75 1.92 24.25 2.43 55.25 1.2" fill="none" stroke="#fabe78" stroke-width="1.0" stroke-linejoin="round"/>
<path d="M66.1 848.7l8.25 0 .25-.43 .25-3.92 1.5-76.01 .25-9.68 1.5-32.5 .25-4.87 .25-2.56 .25 .37 2 8.02 3 13.55 .25 1.05 .25 .75 4.5 11.97 6.25 12.55 .5 .76 9.5 11.05 10 10 .75 .65 8.25 6.47 16.25 11.4 23.25 11.56" fill="none" stroke="#c8d82c" stroke-width="1.0" stroke-linejoin="round"/>
<path d="M66.1 848.7l8.25 0 .25-.9 .25-8.15 1-98.11 .25-9.04 .5-12.32 .25-4.61 .25-1.52 .75-2.36 .25-.55 .25 .41 .75 2.02 .25 1.38 1 11.57 1.75 17.65 .5 4.4 3 15.06 .25 .82 .25 .56 4.5 9.12 7 15.64 9 17.5 14.25 17.54 .5 .48 9.25 7.62 .5 .23 16 5.57 16.5 2.58" fill="none" stroke="#f7921e" stroke-width="1.0" stroke-linejoin="round"/>
<path d="M66.1 848.7l8.25 0 .25-.14 .25-1.27 1.5-24.57 .25-2.99 .25-1.66 1.75-9.66 .25-1.27 .25-.66 .25 .12 5.75 6.48 7 6.21 7.75 5.11 6 3.02 .25 .06 .25-.25 .25-.47 .25-.28 .25 .2 .75 .92 .25 .2 .25 .08 9.75 2.34 11.75 2.29 .25 .04 .25-.1 .5-.67 .25 .06 .75 .78 .25 .17 .25 .06 14.75 2.16 16.5 1.98" fill="none" stroke="#662d91" stroke-width="1.1" stroke-linejoin="round"/>
<line x1="74.6" y1="855" x2="74.6" y2="864.6" stroke="#231f20" stroke-width="0.95"/>
<path d="M72.7 856.2L74.6 852L76.5 856.2Z" fill="#231f20"/>
<text x="63.8" y="878.6" font-size="11.2" textLength="98.4" lengthAdjust="spacingAndGlyphs">1, 5, 40 Field stimuli</text>
<text x="76.1" y="890.6" font-size="11.2" textLength="73.5" lengthAdjust="spacingAndGlyphs">overlaid traces</text>
<path d="M36.5,758.2 V786.5 H54.4" fill="none" stroke="#231f20" stroke-width="1"/>
<text class="sm" x="32.6" y="789.1" font-size="7.4" transform="rotate(-90 32.6 789.1)" textLength="31.8" lengthAdjust="spacingAndGlyphs">0.2 ΔF/F<tspan font-size="4.8" dy="1.4">0</tspan></text>
<text x="40.7" y="793.8" font-size="7.4" textLength="9.2" lengthAdjust="spacingAndGlyphs" class="sm">2 s</text>
<text x="285.8" y="749" font-size="10.5" textLength="48.2" lengthAdjust="spacingAndGlyphs">GCaMP8s</text>
<rect x="293.1" y="759.3" width="9.7" height="9.3" fill="#662d91"/>
<text x="307" y="767.2" font-size="10.3" textLength="23.9" lengthAdjust="spacingAndGlyphs">ROI 1</text>
<rect x="293.1" y="778.3" width="9.7" height="9.3" fill="#f7921e"/>
<text x="307" y="786.2" font-size="10.3" textLength="25.9" lengthAdjust="spacingAndGlyphs">ROI 2</text>
<rect x="293.1" y="797.3" width="9.7" height="9.3" fill="#c8d82c"/>
<text x="307" y="805.2" font-size="10.3" textLength="25.9" lengthAdjust="spacingAndGlyphs">ROI 3</text>
<path d="M223.8 848.8l8.75 0 .25-.19 .25-1.7 .25-4.02 .25-1.19 .25-.16 2.75 5.6 .25 .2 .25 .09 3 .86 81.5 .51" fill="none" stroke="#f7921e" stroke-width="1.0" stroke-linejoin="round"/>
<path d="M223.8 848.8l8.75 0 .25-.26 .25-2.32 .25-5.9 .25-3.11 .25-.1 .25 .45 .25 .17 1-4.18 .25-.1 3.75 10.05 .25 .59 .25 .26 9.5 3.5 .5 .05 54.75 .6 .25-.79 .5-7.8 .25-.18 1 2.83 1.5 2.88 .5 .84 3 1.76 .5 .25 .25 .03 9.25 .47" fill="none" stroke="#c8d82c" stroke-width="1.0" stroke-linejoin="round"/>
<path d="M223.8 848.8l8.75 0 .25-.33 .25-2.94 .5-17.62 .25-5.18 .25-.16 1 3.45 2.25 3.96 .25 .4 .25 .26 5.25 3.87 6.5 2.93 19.5 5.24 19.75 3.62 15.75 1.59 17 .9" fill="none" stroke="#662d91" stroke-width="1.1" stroke-linejoin="round"/>
<line x1="233" y1="854.8" x2="233" y2="865.6" stroke="#231f20" stroke-width="0.95"/>
<path d="M231.1 856L233 851.8L234.9 856Z" fill="#231f20"/>
<text x="230.9" y="877.8" font-size="8.6" textLength="3.4" lengthAdjust="spacingAndGlyphs">1</text>
<path d="M378.2 849.7l7.5 0 .25-1.12 .25-7.27 .5-31.35 .25-11.96 .25-2.86 .25-.53 .25 .43 1 7.05 1.75 9.62 2.75 13 .5 2.06 3.25 7.56 .5 .51 4.75 3.55 10.75 4.91 21.25 3.57 41.25 1.73" fill="none" stroke="#c8d82c" stroke-width="1.0" stroke-linejoin="round"/>
<path d="M378.2 849.7l7.5 0 .25-1.5 .25-9.79 .5-38.49 .25-.46 1.25 20.27 1.75 14.05 .5 3.47 .25 .79 1.75 4.28 .5 .59 2.75 2.46 17.25 2.23 62.5 2.1" fill="none" stroke="#f7921e" stroke-width="1.0" stroke-linejoin="round"/>
<path d="M378.2 849.7l7.5 0 .25-.35 .25-2.29 1.25-25.49 .25-2.66 .25 .16 2.25 6.9 .25 .65 .25 .41 2.75 3.88 .5 .41 3.5 2.46 .5 .32 .25 .09 14.75 4.21 21.25 3.17 41.25 3.42" fill="none" stroke="#662d91" stroke-width="1.1" stroke-linejoin="round"/>
<line x1="386.1" y1="857" x2="386.1" y2="866.9" stroke="#231f20" stroke-width="0.95"/>
<path d="M384.2 858.2L386.1 854L388 858.2Z" fill="#231f20"/>
<text x="383.8" y="877.6" font-size="8.8" textLength="4.8" lengthAdjust="spacingAndGlyphs">5</text>
<path d="M532.2 848.4l7.25 0 .25-2.04 1.75-82.73 .25-6.11 .25-3.76 2.25-31.21 .25-3.18 .25-1.61 .25 .41 2 6.68 5.25 20.08 10.5 23.01 .25 .51 .25 .34 20.75 21.15 21.5 16.79 .75 .48 22.75 11.74" fill="none" stroke="#c8d82c" stroke-width="1.0" stroke-linejoin="round"/>
<path d="M532.2 848.4l7.25 0 .25-2.15 2-100.32 .25-8.54 1-20.81 .25-2.39 .5-2.48 .25-.92 .25 .14 .75 2.07 .25 .84 .25 1.39 1.75 13.2 5 35.76 .25 .76 4.5 9.93 6.25 11.37 10 22.26 .5 1.01 10.5 14.72 .5 .44 10.25 7.27 11 4.28 23 5.35" fill="none" stroke="#f7921e" stroke-width="1.0" stroke-linejoin="round"/>
<path d="M532.2 848.4l7.25 0 .25-.51 2.25-27.03 .5-3.09 2-9.93 .25-.99 .25 .01 3 3.1 4.25 5.82 10.5 8.38 .75 .44 8.5 3.84 .25 .05 .25-.26 .25-.47 .25-.27 .25 .22 .75 .98 .5 .2 9.75 1.89 16 2.75 .25 .01 .25-.17 .5-.75 .25 .16 .75 .78 .25 .07 3.5 .39 23 2.97" fill="none" stroke="#662d91" stroke-width="1.1" stroke-linejoin="round"/>
<line x1="539.7" y1="855.3" x2="539.7" y2="865.2" stroke="#231f20" stroke-width="0.95"/>
<path d="M537.8 856.5L539.7 852.3L541.6 856.5Z" fill="#231f20"/>
<text x="535" y="877.6" font-size="8.8" textLength="10.7" lengthAdjust="spacingAndGlyphs">40</text>
<line x1="14.9" y1="544.9" x2="665" y2="544.9" stroke="#c8c8c8" stroke-width="0.8" stroke-dasharray="3.1 3.5"/>
</svg>
</body></html>
